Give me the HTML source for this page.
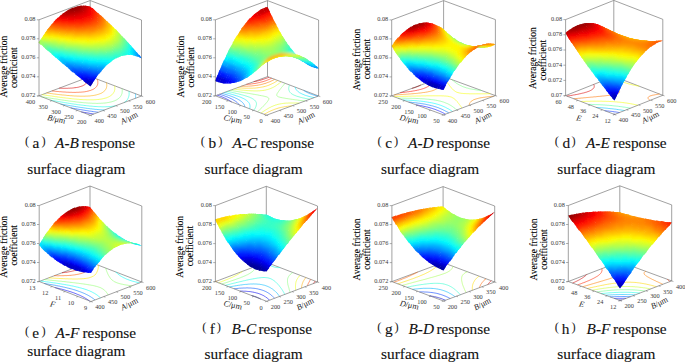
<!DOCTYPE html><html><head><meta charset="utf-8"><style>
html,body{margin:0;padding:0;background:#fff;}
body{width:685px;height:363px;overflow:hidden;position:relative;}
svg{position:absolute;left:0;top:0;}
text{font-family:"Liberation Serif",serif;}
.tk text{font-size:6.3px;fill:#3a3a3a;}
.zt{font-size:9.5px;fill:#000;stroke:#000;stroke-width:.1px;}
.at{font-size:8.2px;fill:#222;}
.pp{font-size:12.5px;fill:#222;}
.cp{font-size:15.3px;fill:#111;stroke:#111;stroke-width:.12px;}
</style></head><body>
<svg width="685" height="363" viewBox="0 0 685 363"><defs><filter id="bl" x="-5%" y="-5%" width="110%" height="110%"><feGaussianBlur stdDeviation="1.5" result="b"/><feComposite in="b" in2="SourceAlpha" operator="in" result="c"/><feMerge result="m"><feMergeNode in="SourceGraphic"/><feMergeNode in="c"/></feMerge><feGaussianBlur in="m" stdDeviation="0.4"/></filter></defs><path d="M39 95.8 L90.2 76.5 M90.2 76.5 L141.5 96 M90.2 76.5 L90.2 .5 M39 19.8 L90.2 .5 M90.2 .5 L141.5 20" stroke="#707070" stroke-width=".65" fill="none"/><g fill="none" stroke-width="0.6"><polyline stroke="#0000e3" points="93.7,114 92.5,113.8 91.9,113.7 90.8,113.6 90.1,113.4 89.3,113.3 88.3,113.1 87.7,113 86.6,112.8 86,112.7 84.8,112.5 84.2,112.4 83.1,112.2 82.5,112.1 81.4,111.9 81.2,111.8"/><polyline stroke="#004bff" points="98.3,112.3 97.3,112.1 96.4,112 95.8,111.9 94.7,111.8 93.9,111.7 93.2,111.6 92,111.4 91.4,111.3 90.7,111.2 89.5,111.1 88.9,111 87.8,110.8 87.1,110.7 86.4,110.6 85.3,110.4 84.7,110.3 83.5,110.1 82.9,110 81.9,109.8 81.1,109.7 80.4,109.6 79.3,109.4 78.7,109.3 77.6,109.1 77,109 75.8,108.8 75.2,108.7 74.1,108.5 73.5,108.4 72.4,108.2 71.8,108 70.7,107.8 70.7,107.8"/><polyline stroke="#004bff" points="141.4,96 141.5,96"/><polyline stroke="#00b3ff" points="104.4,110 103.4,110 102.4,109.9 101.4,109.8 100.7,109.8 99.9,109.7 99.2,109.7 98.2,109.6 97.1,109.5 96.5,109.4 95.8,109.4 94.8,109.3 93.8,109.1 93.1,109.1 92.4,109 91.2,108.8 90.5,108.8 89.8,108.7 88.6,108.5 87.9,108.4 87.3,108.4 86,108.2 85.4,108.1 84.7,108 83.5,107.8 82.9,107.7 81.9,107.6 81.1,107.5 80.4,107.4 79.2,107.2 78.6,107.1 77.6,106.9 76.8,106.8 76.1,106.7 75,106.5 74.4,106.4 73.2,106.2 72.6,106.1 71.6,105.9 70.8,105.8 70.1,105.7 69.1,105.5 68.5,105.4 67.3,105.2 66.7,105.1 65.6,104.9 65,104.8 63.8,104.6 63.2,104.5 62.1,104.3 61.5,104.2 60.5,104 60.5,104"/><polyline stroke="#00b3ff" points="135.4,93.7 135.4,94 135.5,94.4 135.5,94.7 135.5,95 135.6,95.3 135.6,95.6 135.6,96 135.6,96.3 135.6,96.6 135.6,96.9 135.6,97.3 135.5,97.6 135.5,97.9 135.4,98.2 135.4,98.3"/><polyline stroke="#1cffe3" points="115.6,105.7 114.9,105.9 114,106 113.1,106.2 112.4,106.3 111.3,106.4 110.4,106.5 109.8,106.5 109,106.6 108.1,106.7 107.1,106.7 106.1,106.7 105.2,106.8 104.4,106.8 103.6,106.8 102.7,106.8 101.8,106.8 101,106.7 100.2,106.7 99.4,106.7 98.6,106.7 97.8,106.6 97.1,106.6 96.2,106.5 95.1,106.5 94.1,106.4 93.4,106.4 92.7,106.3 92,106.2 90.9,106.1 89.9,106.1 89.2,106 88.6,105.9 87.4,105.8 86.5,105.7 85.9,105.6 85,105.5 83.9,105.4 83.3,105.3 82.5,105.2 81.3,105.1 80.7,105 80,104.9 78.8,104.8 78.2,104.7 77.3,104.6 76.3,104.4 75.7,104.3 74.6,104.2 73.8,104 73.2,104 72,103.8 71.3,103.7 70.4,103.5 69.5,103.4 68.9,103.3 67.7,103.1 67.1,103 66,102.8 65.3,102.7 64.5,102.6 63.5,102.4 62.9,102.3 61.7,102.1 61.1,102 60,101.8 59.3,101.7 58.4,101.6 57.6,101.4 56.9,101.3 55.8,101.1 55.2,101 54,100.8 53.4,100.7 52.3,100.5 51.7,100.4 50.6,100.2 50.6,100.2"/><polyline stroke="#1cffe3" points="128.9,91.2 129,91.6 129,91.9 129.1,92.2 129.1,92.6 129.1,92.9 129.1,93.2 129.1,93.5 129.1,93.9 129.1,94.2 129.1,94.5 129.1,94.8 129,95.1 129,95.4 128.9,95.7 128.9,96 128.8,96.3 128.7,96.6 128.6,97 128.5,97.3 128.3,97.7 128.2,98 128.1,98.3 127.9,98.6 127.7,98.9 127.5,99.4 127.3,99.6 127.1,99.9 126.8,100.3 126.4,100.6 126.2,100.9 125.8,101.3 125.5,101.5 125.1,101.9 124.7,102.2 124.1,102.5 124.1,102.5"/><polyline stroke="#84ff7b" points="122,88.6 122.1,88.9 122.1,89.3 122.2,89.6 122.2,90 122.2,90.3 122.3,90.6 122.3,90.9 122.3,91.3 122.2,91.6 122.2,91.9 122.2,92.2 122.1,92.5 122.1,92.8 122,93.1 122,93.4 121.9,93.7 121.8,94 121.6,94.4 121.5,94.8 121.3,95.1 121.2,95.4 121.1,95.7 120.8,96 120.6,96.4 120.4,96.7 120.2,96.9 119.8,97.4 119.5,97.7 119.2,97.9 118.8,98.3 118.5,98.6 117.9,99 117.6,99.2 117,99.6 116.3,100 115.9,100.2 115.2,100.5 114.4,100.9 113.5,101.2 112.6,101.5 111.6,101.8 111.1,101.9 110.1,102.2 109.2,102.3 108.4,102.5 107.6,102.6 106.6,102.8 106,102.9 105,103 104,103.1 103.3,103.1 102.6,103.2 101.7,103.2 100.7,103.3 99.8,103.3 98.8,103.3 98,103.4 97.1,103.4 96.3,103.4 95.4,103.3 94.6,103.3 93.8,103.3 93,103.3 92.2,103.3 91.4,103.2 90.7,103.2 89.7,103.1 88.7,103.1 87.7,103 87,103 86.3,102.9 85.6,102.8 84.5,102.8 83.5,102.7 82.8,102.6 82.1,102.5 81.1,102.4 80.1,102.3 79.4,102.3 78.7,102.2 77.6,102.1 76.7,102 76.1,101.9 75.1,101.8 74.1,101.6 73.5,101.6 72.5,101.4 71.6,101.3 71,101.2 69.9,101.1 69.1,101 68.4,100.9 67.2,100.7 66.6,100.6 65.9,100.5 64.7,100.4 64.1,100.3 63.1,100.1 62.2,100 61.6,99.9 60.4,99.7 59.8,99.6 58.8,99.5 58,99.3 57.4,99.2 56.2,99 55.5,98.9 54.5,98.8 53.7,98.7 53,98.5 51.9,98.4 51.3,98.3 50.1,98.1 49.5,98 48.5,97.8 47.7,97.7 47,97.6 46,97.4 45.4,97.3 44.2,97.1 43.6,97 42.5,96.8 41.8,96.7 41,96.6 41,96.6"/><polyline stroke="#ebff14" points="114.6,85.8 114.6,86.1 114.7,86.4 114.7,86.7 114.8,87 114.8,87.3 114.8,87.6 114.8,87.9 114.8,88.2 114.8,88.6 114.8,88.9 114.8,89.2 114.8,89.6 114.7,89.9 114.6,90.3 114.5,90.6 114.5,90.9 114.4,91.2 114.3,91.5 114.1,91.8 113.9,92.1 113.7,92.5 113.6,92.8 113.4,93.1 113.1,93.4 112.8,93.8 112.6,94.1 112.3,94.4 111.9,94.8 111.6,95 111.1,95.4 110.8,95.6 110.2,96 109.6,96.4 109.1,96.6 108.4,97 107.6,97.3 106.8,97.7 105.9,98 104.9,98.2 104,98.5 103.4,98.6 102.3,98.9 101.7,99 100.5,99.2 99.9,99.2 99.1,99.4 98,99.5 97.3,99.5 96.6,99.6 95.7,99.7 94.7,99.7 93.7,99.8 92.9,99.8 92.1,99.8 91.3,99.8 90.4,99.8 89.6,99.8 88.7,99.8 87.8,99.8 86.9,99.8 86,99.8 85.2,99.7 84.4,99.7 83.7,99.7 82.9,99.6 82.1,99.6 81.1,99.5 80.1,99.5 79.2,99.4 78.5,99.3 77.8,99.3 76.9,99.2 75.8,99.1 75,99 74.4,99 73.5,98.9 72.3,98.8 71.7,98.7 71,98.6 69.9,98.5 69,98.4 68.3,98.3 67.5,98.2 66.4,98.1 65.7,98 65,97.9 63.8,97.8 63.2,97.7 62.4,97.6 61.3,97.4 60.6,97.4 59.8,97.2 58.7,97.1 58.1,97 57.1,96.9 56.2,96.7 55.6,96.7 54.4,96.5 53.8,96.4 53,96.3 51.9,96.1 51.3,96 50.2,95.9 49.4,95.7 48.8,95.7 47.6,95.5 47,95.4 46,95.2 45.2,95.1 44.5,95 43.3,94.8 42.7,94.7 42.1,94.6"/><polyline stroke="#ffab00" points="106.4,82.6 106.5,83 106.5,83.3 106.6,83.6 106.6,83.9 106.7,84.2 106.7,84.5 106.8,84.8 106.8,85.1 106.8,85.5 106.8,85.8 106.8,86.1 106.7,86.5 106.7,86.8 106.6,87.1 106.5,87.5 106.4,87.8 106.3,88.1 106.2,88.4 106.1,88.7 105.9,89 105.7,89.4 105.5,89.7 105.3,90 105.1,90.3 104.7,90.7 104.5,91 104.1,91.3 103.7,91.6 103.3,91.9 102.8,92.3 102.2,92.7 101.9,92.9 101.1,93.3 100.4,93.6 99.5,93.9 98.7,94.2 97.7,94.5 96.7,94.8 96.2,94.9 95.1,95.2 94.4,95.3 93.4,95.5 92.8,95.6 91.6,95.7 90.9,95.8 90.2,95.9 89.2,96 88.2,96 87.3,96.1 86.6,96.1 85.8,96.1 85,96.2 84.2,96.2 83.4,96.2 82.5,96.2 81.7,96.2 80.8,96.2 79.9,96.2 79,96.1 78.1,96.1 77.1,96.1 76.2,96 75.4,96 74.6,96 73.9,95.9 73.2,95.9 72.1,95.8 71.1,95.7 70.3,95.7 69.6,95.6 68.9,95.5 67.8,95.5 66.8,95.4 66.1,95.3 65.4,95.2 64.4,95.1 63.4,95 62.7,95 62,94.9 60.9,94.8 60.1,94.7 59.4,94.6 58.5,94.5 57.4,94.4 56.8,94.3 56,94.2 54.8,94 54.2,94 53.4,93.9 52.3,93.7 51.6,93.6 50.9,93.5 49.7,93.4 49.1,93.3 48.2,93.2 47.2,93 46.6,92.9 46.6,92.9"/><polyline stroke="#ff4300" points="97.2,79.2 97.3,79.5 97.4,79.9 97.5,80.2 97.6,80.5 97.7,80.8 97.7,81.1 97.8,81.4 97.8,81.7 97.8,82 97.8,82.4 97.8,82.7 97.8,83 97.8,83.3 97.8,83.7 97.7,84 97.6,84.4 97.5,84.8 97.4,85 97.3,85.3 97.1,85.6 96.9,85.9 96.7,86.4 96.5,86.6 96.3,86.9 95.9,87.3 95.6,87.6 95.3,87.8 94.8,88.3 94.5,88.5 93.9,88.9 93.2,89.3 92.8,89.5 92.1,89.8 91.2,90.1 90.4,90.5 89.4,90.7 88.9,90.9 87.9,91.1 86.8,91.4 86.3,91.5 85.2,91.7 84.5,91.8 83.8,91.9 82.6,92 81.9,92.1 81.2,92.1 80.4,92.2 79.3,92.2 78.4,92.3 77.5,92.3 76.7,92.3 75.8,92.4 75,92.4 74.2,92.4 73.3,92.4 72.4,92.4 71.5,92.3 70.6,92.3 69.8,92.3 69,92.3 68.2,92.2 67.5,92.2 66.7,92.2 65.8,92.1 64.8,92 63.8,92 63,91.9 62.3,91.9 61.6,91.8 60.6,91.7 59.5,91.7 58.8,91.6 58.1,91.5 57.3,91.5 56.2,91.4 55.3,91.3 54.6,91.2 53.9,91.1 52.7,91 51.9,90.9 51.9,90.9"/><polyline stroke="#da0000" points="87.5,77.5 87.6,77.8 87.6,78.1 87.7,78.5 87.7,78.8 87.7,79.1 87.8,79.4 87.7,79.8 87.7,80.1 87.7,80.4 87.6,80.7 87.5,81.1 87.4,81.4 87.2,81.8 87.1,82.1 86.9,82.4 86.8,82.7 86.4,83.1 86.2,83.4 86,83.6 85.5,84.1 85.2,84.3 84.6,84.7 84.3,84.9 83.6,85.3 82.9,85.7 82.1,86 81.2,86.3 80.3,86.6 79.3,86.9 78.3,87.2 77.7,87.3 76.6,87.5 76,87.6 75,87.7 74.1,87.8 73.5,87.9 72.6,88 71.5,88.1 70.7,88.1 69.9,88.2 69.2,88.2 68.4,88.2 67.6,88.3 66.7,88.3 65.8,88.3 64.9,88.3 64.1,88.3 63.2,88.3 62.4,88.3 61.6,88.3 60.7,88.2 59.8,88.2 59.2,88.2"/></g><g filter="url(#bl)"><g transform="scale(.5)"><path fill="#f70000" d="M180 17l5 0l-5 -4l-4 -1z"/><path fill="#ff0800" d="M185 20l5 1l-5 -5l-5 0z"/><path fill="#d70000" d="M176 16l5 0l-5 -4l-5 0z"/><path fill="#ff2800" d="M189 24l5 1l-5 -5l-5 -1z"/><path fill="#f70000" d="M180 20l5 0l-5 -5l-4 0z"/><path fill="#c70000" d="M172 16l5 0l-5 -5l-5 1z"/><path fill="#ff3800" d="M193 28l5 0l-5 -4l-5 -1z"/><path fill="#ff0800" d="M185 23l5 1l-5 -5l-5 0z"/><path fill="#d70000" d="M176 20l5 -1l-5 -4l-5 0z"/><path fill="#b70000" d="M168 16l5 0l-5 -5l-5 1z"/><path fill="#ff5800" d="M198 31l4 1l-5 -5l-4 0z"/><path fill="#ff1800" d="M189 27l5 0l-5 -4l-5 -1z"/><path fill="#f70000" d="M180 23l5 0l-5 -5l-4 1z"/><path fill="#c70000" d="M172 20l5 -1l-5 -4l-5 0z"/><path fill="#a70000" d="M163 17l5 -1l-5 -5l-5 1z"/><path fill="#ff6800" d="M202 35l5 1l-5 -5l-5 -1z"/><path fill="#ff3800" d="M193 31l5 0l-5 -5l-5 0z"/><path fill="#ff0800" d="M185 27l5 0l-5 -5l-5 0z"/><path fill="#e70000" d="M176 23l5 0l-5 -5l-5 1z"/><path fill="#b70000" d="M168 20l5 -1l-5 -4l-5 1z"/><path fill="#970000" d="M159 18l5 -2l-5 -4l-5 1z"/><path fill="#ff8700" d="M206 39l5 1l-5 -5l-5 -1z"/><path fill="#ff4800" d="M198 35l4 0l-4 -5l-5 0z"/><path fill="#ff1800" d="M189 30l5 0l-5 -4l-5 0z"/><path fill="#f70000" d="M180 27l5 -1l-5 -4l-4 0z"/><path fill="#d70000" d="M172 24l5 -1l-5 -5l-5 1z"/><path fill="#b70000" d="M163 21l5 -1l-5 -5l-5 2z"/><path fill="#970000" d="M155 19l5 -2l-5 -4l-5 1z"/><path fill="#ff9700" d="M210 43l5 1l-5 -5l-5 -1z"/><path fill="#ff6800" d="M202 38l5 1l-5 -5l-5 0z"/><path fill="#ff3800" d="M193 34l5 0l-5 -5l-5 0z"/><path fill="#ff0800" d="M185 31l5 -1l-5 -5l-5 1z"/><path fill="#e70000" d="M176 27l5 -1l-5 -4l-5 1z"/><path fill="#c70000" d="M168 24l5 -1l-5 -4l-5 1z"/><path fill="#a70000" d="M159 22l5 -2l-5 -4l-5 2z"/><path fill="#970000" d="M151 20l4 -2l-4 -4l-5 2z"/><path fill="#ffb700" d="M215 47l4 1l-4 -5l-5 -1z"/><path fill="#ff7800" d="M206 42l5 1l-5 -5l-5 -1z"/><path fill="#ff4800" d="M198 38l4 0l-4 -5l-5 0z"/><path fill="#ff2800" d="M189 34l5 0l-5 -5l-5 1z"/><path fill="#f70000" d="M180 31l5 -1l-5 -5l-4 1z"/><path fill="#d70000" d="M172 28l5 -1l-5 -5l-5 2z"/><path fill="#b70000" d="M163 26l5 -2l-5 -4l-5 1z"/><path fill="#a70000" d="M155 24l5 -2l-5 -5l-5 2z"/><path fill="#970000" d="M146 22l5 -2l-5 -5l-5 3z"/><path fill="#ffc700" d="M219 51l5 1l-5 -5l-5 -1z"/><path fill="#ff9700" d="M210 46l5 1l-5 -5l-5 -1z"/><path fill="#ff6800" d="M202 42l5 0l-5 -5l-5 0z"/><path fill="#ff3800" d="M193 38l5 0l-5 -5l-5 0z"/><path fill="#ff1800" d="M185 35l5 -1l-5 -5l-5 1z"/><path fill="#f70000" d="M176 32l5 -2l-5 -4l-5 1z"/><path fill="#d70000" d="M168 29l5 -1l-5 -5l-5 2z"/><path fill="#b70000" d="M159 27l5 -2l-5 -4l-5 2z"/><path fill="#a70000" d="M151 25l5 -2l-5 -4l-5 2z"/><path fill="#970000" d="M142 24l5 -3l-5 -4l-5 3z"/><path fill="#ffe700" d="M223 55l5 1l-5 -5l-5 -1z"/><path fill="#ffb700" d="M215 50l4 1l-4 -5l-5 -1z"/><path fill="#ff7800" d="M206 46l5 0l-5 -5l-5 0z"/><path fill="#ff5800" d="M198 42l4 -1l-4 -4l-5 0z"/><path fill="#ff2800" d="M189 38l5 0l-5 -5l-5 1z"/><path fill="#ff0800" d="M180 35l5 -1l-5 -4l-4 1z"/><path fill="#e70000" d="M172 33l5 -2l-5 -4l-5 1z"/><path fill="#d70000" d="M163 31l5 -2l-5 -5l-5 2z"/><path fill="#b70000" d="M155 29l5 -3l-5 -4l-5 3z"/><path fill="#a70000" d="M138 27l5 -4l-5 -4l-5 3zM146 28l5 -3l-5 -4l-5 2z"/><path fill="#f7ff08" d="M227 59l5 1l-5 -5l-4 -1z"/><path fill="#ffc700" d="M219 54l5 1l-5 -5l-5 -1z"/><path fill="#ff9700" d="M210 50l5 0l-5 -5l-5 0z"/><path fill="#ff6800" d="M202 46l5 -1l-5 -5l-5 1z"/><path fill="#ff4800" d="M193 42l5 -1l-5 -4l-5 0z"/><path fill="#ff1800" d="M185 39l5 -1l-5 -5l-5 1z"/><path fill="#f70000" d="M176 36l5 -1l-5 -5l-5 2z"/><path fill="#e70000" d="M168 34l5 -2l-5 -4l-5 2z"/><path fill="#d70000" d="M159 32l5 -2l-5 -4l-5 2z"/><path fill="#c70000" d="M151 31l5 -3l-5 -4l-5 3z"/><path fill="#b70000" d="M142 30l5 -3l-5 -4l-5 3z"/><path fill="#a70000" d="M133 29l5 -3l-5 -4l-4 3z"/><path fill="#d7ff28" d="M232 64l5 1l-5 -6l-5 -1z"/><path fill="#ffe700" d="M223 59l5 0l-5 -5l-5 -1z"/><path fill="#ffb700" d="M215 54l5 0l-5 -5l-5 0z"/><path fill="#ff8700" d="M206 50l5 -1l-5 -5l-5 1z"/><path fill="#ff5800" d="M198 46l4 -1l-4 -5l-5 1z"/><path fill="#ff3800" d="M189 43l5 -1l-5 -5l-5 1z"/><path fill="#ff1800" d="M180 40l5 -1l-5 -5l-4 1z"/><path fill="#f70000" d="M172 38l5 -2l-5 -5l-5 2z"/><path fill="#e70000" d="M163 36l5 -2l-5 -5l-5 3z"/><path fill="#d70000" d="M155 35l5 -3l-5 -5l-5 3z"/><path fill="#c70000" d="M146 33l5 -3l-5 -4l-5 3z"/><path fill="#b70000" d="M129 33l5 -4l-5 -4l-5 3zM138 33l5 -4l-5 -4l-5 4z"/><path fill="#b7ff48" d="M236 68l5 1l-5 -5l-5 -1z"/><path fill="#f7ff08" d="M227 63l5 0l-5 -5l-4 -1z"/><path fill="#ffc700" d="M219 58l5 0l-5 -5l-5 0z"/><path fill="#ff9700" d="M210 54l5 -1l-5 -5l-5 1z"/><path fill="#ff7800" d="M202 50l5 -1l-5 -5l-5 1z"/><path fill="#ff4800" d="M193 47l5 -1l-5 -5l-5 1z"/><path fill="#ff2800" d="M185 44l5 -2l-5 -4l-5 1z"/><path fill="#ff1800" d="M176 41l5 -1l-5 -5l-5 2z"/><path fill="#f70000" d="M168 40l5 -3l-5 -4l-5 2z"/><path fill="#e70000" d="M159 38l5 -3l-5 -4l-5 3z"/><path fill="#d70000" d="M142 36l5 -3l-5 -4l-5 3zM151 37l5 -3l-5 -4l-5 3z"/><path fill="#c70000" d="M125 36l5 -4l-5 -4l-5 4zM133 36l5 -4l-5 -4l-4 4z"/><path fill="#a7ff58" d="M240 72l5 2l-5 -6l-5 -1z"/><path fill="#d7ff28" d="M232 67l5 1l-5 -6l-5 0z"/><path fill="#ffe700" d="M223 62l5 0l-5 -5l-5 0z"/><path fill="#ffb700" d="M215 58l5 0l-5 -6l-5 1z"/><path fill="#ff8700" d="M206 54l5 -1l-5 -5l-5 1z"/><path fill="#ff6800" d="M198 50l4 -1l-4 -4l-5 1z"/><path fill="#ff4800" d="M189 48l5 -2l-5 -5l-5 2z"/><path fill="#ff2800" d="M180 45l5 -2l-5 -4l-4 2z"/><path fill="#ff1800" d="M172 43l5 -2l-5 -5l-5 3z"/><path fill="#f70000" d="M155 41l5 -4l-5 -4l-5 3zM163 42l5 -3l-5 -4l-5 2z"/><path fill="#e70000" d="M121 40l5 -5l-5 -4l-5 5zM129 40l5 -5l-5 -4l-5 4zM138 39l5 -3l-5 -5l-5 4zM146 40l5 -4l-5 -4l-5 4z"/><path fill="#87ff78" d="M245 77l4 1l-4 -5l-5 -2z"/><path fill="#c7ff38" d="M236 71l5 1l-5 -5l-5 -1z"/><path fill="#f7ff08" d="M227 66l5 1l-5 -6l-4 0z"/><path fill="#ffd700" d="M219 62l5 0l-5 -5l-5 0z"/><path fill="#ffa700" d="M210 58l5 -1l-5 -5l-5 1z"/><path fill="#ff7800" d="M202 54l5 -1l-5 -5l-5 1z"/><path fill="#ff5800" d="M193 51l5 -1l-5 -5l-5 2z"/><path fill="#ff4800" d="M185 49l5 -2l-5 -5l-5 2z"/><path fill="#ff2800" d="M176 47l5 -2l-5 -5l-5 2z"/><path fill="#ff1800" d="M168 45l5 -2l-5 -5l-5 3z"/><path fill="#ff0800" d="M159 44l5 -3l-5 -4l-5 3z"/><path fill="#f70000" d="M116 44l5 -5l-5 -4l-5 5zM125 43l5 -4l-5 -4l-5 4zM133 43l5 -4l-5 -4l-4 4zM142 43l5 -4l-5 -4l-5 4zM151 43l5 -3l-5 -4l-5 3z"/><path fill="#68ff97" d="M249 81l5 2l-5 -6l-5 -1z"/><path fill="#a7ff58" d="M240 76l5 1l-5 -6l-5 -1z"/><path fill="#d7ff28" d="M232 71l5 0l-5 -5l-5 -1z"/><path fill="#ffe700" d="M223 66l5 0l-5 -5l-5 0z"/><path fill="#ffc700" d="M215 62l5 -1l-5 -5l-5 1z"/><path fill="#ff9700" d="M206 58l5 -1l-5 -5l-5 1z"/><path fill="#ff7800" d="M198 55l4 -1l-4 -5l-5 1z"/><path fill="#ff5800" d="M189 53l5 -2l-5 -5l-5 2z"/><path fill="#ff3800" d="M180 51l5 -3l-5 -4l-4 2z"/><path fill="#ff2800" d="M172 49l5 -3l-5 -4l-5 2z"/><path fill="#ff1800" d="M112 49l5 -6l-5 -4l-5 5zM121 48l5 -5l-5 -5l-5 5zM155 47l5 -4l-5 -4l-5 4zM163 48l5 -3l-5 -5l-5 3z"/><path fill="#ff0800" d="M129 47l5 -5l-5 -4l-5 5zM138 47l5 -5l-5 -4l-5 4zM146 47l5 -4l-5 -5l-5 4z"/><path fill="#48ffb7" d="M253 86l5 1l-5 -5l-5 -2z"/><path fill="#87ff78" d="M245 80l4 1l-4 -6l-5 0z"/><path fill="#b7ff48" d="M236 75l5 0l-5 -5l-5 -1z"/><path fill="#f7ff08" d="M227 70l5 0l-5 -5l-4 0z"/><path fill="#ffd700" d="M219 66l5 0l-5 -6l-5 1z"/><path fill="#ffb700" d="M210 62l5 -1l-5 -5l-5 1z"/><path fill="#ff8700" d="M202 59l5 -1l-5 -5l-5 1z"/><path fill="#ff7800" d="M193 57l5 -2l-5 -5l-5 2z"/><path fill="#ff5800" d="M185 54l5 -2l-5 -5l-5 3z"/><path fill="#ff4800" d="M176 53l5 -3l-5 -5l-5 3z"/><path fill="#ff3800" d="M108 53l5 -5l-5 -4l-5 5zM116 52l5 -5l-5 -4l-5 5zM168 51l5 -3l-5 -4l-5 3z"/><path fill="#ff2800" d="M125 51l5 -5l-5 -4l-5 5zM134 50l4 -4l-5 -4l-4 4zM151 50l5 -4l-5 -4l-5 4zM159 51l5 -4l-5 -4l-5 3z"/><path fill="#ff1800" d="M142 50l5 -4l-5 -4l-5 4z"/><path fill="#28ffd7" d="M257 91l5 1l-5 -6l-4 -1z"/><path fill="#68ff97" d="M249 85l5 1l-5 -6l-5 -1z"/><path fill="#a7ff58" d="M240 79l5 1l-5 -6l-5 0z"/><path fill="#d7ff28" d="M232 74l5 1l-5 -6l-5 0z"/><path fill="#fff700" d="M223 70l5 0l-5 -5l-5 0z"/><path fill="#ffc700" d="M215 66l5 0l-5 -6l-5 1z"/><path fill="#ffa700" d="M206 63l5 -1l-5 -5l-5 1z"/><path fill="#ff8700" d="M198 60l5 -1l-5 -5l-5 2z"/><path fill="#ff6800" d="M104 59l5 -6l-5 -5l-5 6zM189 58l5 -2l-5 -5l-5 2z"/><path fill="#ff5800" d="M112 57l5 -6l-5 -4l-5 6zM180 56l5 -2l-5 -5l-4 3z"/><path fill="#ff4800" d="M121 56l5 -6l-5 -4l-5 5zM172 55l5 -3l-5 -4l-5 3z"/><path fill="#ff3800" d="M129 55l5 -5l-5 -5l-5 5zM138 54l5 -5l-5 -4l-5 5zM146 54l5 -5l-5 -4l-5 4zM155 54l5 -4l-5 -4l-5 3zM163 54l5 -3l-5 -5l-5 4z"/><path fill="#08fff7" d="M262 95l4 2l-4 -6l-5 -2z"/><path fill="#48ffb7" d="M253 89l5 1l-5 -5l-5 -1z"/><path fill="#87ff78" d="M245 84l4 0l-4 -5l-5 -1z"/><path fill="#b7ff48" d="M236 79l5 0l-5 -6l-5 0z"/><path fill="#e7ff18" d="M227 74l5 0l-5 -5l-4 0z"/><path fill="#ffe700" d="M219 71l5 -1l-5 -5l-5 0z"/><path fill="#ffc700" d="M210 67l5 -1l-5 -5l-5 1z"/><path fill="#ffa700" d="M202 64l5 -1l-5 -5l-5 2z"/><path fill="#ff8700" d="M99 64l5 -6l-5 -4l-5 6zM193 62l5 -2l-5 -5l-5 2z"/><path fill="#ff7800" d="M108 62l5 -6l-5 -4l-5 6zM185 60l5 -2l-5 -5l-5 3z"/><path fill="#ff6800" d="M116 60l5 -5l-5 -4l-5 5zM176 59l5 -3l-5 -5l-5 3z"/><path fill="#ff5800" d="M125 59l5 -5l-5 -4l-5 5zM134 58l4 -5l-5 -4l-4 5zM168 58l5 -4l-5 -4l-5 3z"/><path fill="#ff4800" d="M142 57l5 -4l-5 -4l-5 4zM151 57l5 -4l-5 -4l-5 4zM159 57l5 -3l-5 -5l-5 4z"/><path fill="#00d7ff" d="M266 100l5 2l-5 -6l-5 -2z"/><path fill="#28ffd7" d="M257 94l5 1l-5 -6l-4 -1z"/><path fill="#68ff97" d="M249 88l5 1l-5 -6l-5 0z"/><path fill="#97ff68" d="M240 83l5 0l-5 -5l-5 0z"/><path fill="#c7ff38" d="M232 79l5 -1l-5 -5l-5 0z"/><path fill="#f7ff08" d="M223 75l5 -1l-5 -5l-5 1z"/><path fill="#ffd700" d="M215 71l5 -1l-5 -5l-5 1z"/><path fill="#ffb700" d="M95 70l5 -7l-5 -4l-5 7zM206 68l5 -1l-5 -5l-5 1z"/><path fill="#ffa700" d="M104 68l5 -7l-5 -4l-5 7zM198 66l5 -2l-5 -5l-5 2z"/><path fill="#ff8700" d="M112 66l5 -6l-5 -4l-5 6zM189 64l5 -3l-5 -4l-5 2z"/><path fill="#ff7800" d="M121 64l5 -6l-5 -4l-5 6zM180 63l5 -3l-5 -5l-4 3z"/><path fill="#ff6800" d="M129 63l5 -6l-5 -4l-5 6zM138 62l5 -5l-5 -4l-5 5zM146 61l5 -5l-5 -4l-5 5zM163 61l5 -4l-5 -4l-5 4zM172 62l5 -4l-5 -4l-5 3z"/><path fill="#ff5800" d="M155 61l5 -4l-5 -5l-5 5z"/><path fill="#00b7ff" d="M270 105l5 2l-5 -6l-5 -2z"/><path fill="#08fff7" d="M262 99l4 1l-4 -6l-5 -1z"/><path fill="#48ffb7" d="M253 93l5 1l-5 -6l-5 -1z"/><path fill="#78ff87" d="M245 88l4 0l-4 -6l-5 0z"/><path fill="#b7ff48" d="M236 83l5 0l-5 -6l-5 1z"/><path fill="#d7ff28" d="M227 79l5 -1l-5 -5l-4 1z"/><path fill="#fff700" d="M219 75l5 -1l-5 -5l-5 1z"/><path fill="#ffe700" d="M91 76l5 -7l-5 -4l-5 7z"/><path fill="#ffd700" d="M210 72l5 -1l-5 -5l-5 1z"/><path fill="#ffc700" d="M99 74l5 -7l-5 -4l-5 6z"/><path fill="#ffb700" d="M108 71l5 -6l-5 -4l-5 6zM202 70l5 -2l-5 -5l-5 2z"/><path fill="#ffa700" d="M116 69l5 -6l-5 -4l-5 6zM193 68l5 -3l-5 -4l-5 2z"/><path fill="#ff9700" d="M125 68l5 -6l-5 -4l-5 5z"/><path fill="#ff8700" d="M134 66l4 -5l-4 -4l-5 5zM176 65l5 -3l-5 -5l-5 4zM185 66l5 -3l-5 -4l-5 3z"/><path fill="#ff7800" d="M142 65l5 -5l-5 -4l-5 5zM151 65l5 -5l-5 -4l-5 4zM159 64l5 -4l-5 -4l-5 4zM168 65l5 -4l-5 -5l-5 4z"/><path fill="#0097ff" d="M274 110l5 2l-5 -7l-4 -1z"/><path fill="#00d7ff" d="M266 103l5 2l-5 -6l-5 -2z"/><path fill="#28ffd7" d="M257 97l5 1l-5 -6l-4 0z"/><path fill="#58ffa7" d="M249 92l5 0l-5 -5l-5 0z"/><path fill="#97ff68" d="M240 87l5 0l-5 -5l-5 0z"/><path fill="#c7ff38" d="M232 83l5 0l-5 -6l-5 1z"/><path fill="#e7ff18" d="M87 83l4 -8l-4 -4l-5 7zM223 80l5 -2l-5 -5l-5 1z"/><path fill="#fff700" d="M95 80l5 -7l-5 -4l-5 7zM215 76l5 -1l-5 -5l-5 1z"/><path fill="#ffe700" d="M104 77l5 -7l-5 -4l-5 7z"/><path fill="#ffd700" d="M206 74l5 -2l-5 -5l-5 2z"/><path fill="#ffc700" d="M112 75l5 -7l-5 -4l-5 7z"/><path fill="#ffb700" d="M121 73l5 -6l-5 -4l-5 6zM198 72l5 -3l-5 -4l-5 2z"/><path fill="#ffa700" d="M129 71l5 -6l-5 -4l-5 6zM189 70l5 -3l-5 -4l-5 3z"/><path fill="#ff9700" d="M138 70l5 -5l-5 -5l-5 6zM146 69l5 -5l-5 -4l-5 5zM172 68l5 -3l-5 -5l-5 4zM181 69l4 -3l-5 -5l-4 4z"/><path fill="#ff8700" d="M155 68l5 -4l-5 -5l-5 5zM163 68l5 -4l-5 -4l-5 4z"/><path fill="#0078ff" d="M279 115l5 2l-5 -7l-5 -1z"/><path fill="#00b7ff" d="M270 108l5 1l-5 -6l-5 -1z"/><path fill="#00f7ff" d="M262 102l4 1l-4 -6l-5 -1z"/><path fill="#38ffc7" d="M253 97l5 0l-5 -6l-5 0z"/><path fill="#78ff87" d="M245 92l4 0l-4 -6l-5 0z"/><path fill="#a7ff58" d="M82 90l5 -8l-5 -4l-5 7zM236 88l5 -1l-5 -5l-5 0z"/><path fill="#c7ff38" d="M91 86l5 -7l-5 -4l-5 7zM227 84l5 -1l-5 -5l-4 1z"/><path fill="#e7ff18" d="M99 83l5 -7l-5 -4l-5 7z"/><path fill="#f7ff08" d="M219 81l5 -2l-5 -5l-5 2z"/><path fill="#fff700" d="M108 81l5 -7l-5 -4l-5 7z"/><path fill="#ffe700" d="M116 79l5 -7l-5 -4l-5 6zM210 78l5 -2l-5 -5l-5 2z"/><path fill="#ffd700" d="M202 76l5 -3l-5 -5l-5 3z"/><path fill="#ffc700" d="M125 77l5 -7l-5 -4l-5 6zM193 74l5 -3l-5 -5l-5 3z"/><path fill="#ffb700" d="M134 75l4 -6l-4 -4l-5 6zM142 74l5 -6l-5 -4l-5 5zM185 73l5 -3l-5 -5l-5 3z"/><path fill="#ffa700" d="M151 73l5 -5l-5 -5l-5 5zM159 72l5 -5l-5 -4l-5 5zM168 72l5 -4l-5 -5l-5 4zM176 72l5 -4l-5 -4l-5 4z"/><path fill="#0097ff" d="M274 113l5 1l-5 -6l-4 -1z"/><path fill="#00d7ff" d="M266 107l5 1l-5 -6l-5 -1z"/><path fill="#18ffe7" d="M257 101l5 1l-5 -6l-4 0z"/><path fill="#58ffa7" d="M249 96l5 0l-5 -5l-5 0z"/><path fill="#87ff78" d="M240 92l5 -1l-5 -5l-5 0z"/><path fill="#97ff68" d="M87 93l4 -8l-4 -4l-5 8z"/><path fill="#b7ff48" d="M95 90l5 -7l-5 -5l-5 8zM232 88l5 -1l-5 -5l-5 1z"/><path fill="#d7ff28" d="M104 87l5 -7l-5 -4l-5 7zM223 85l5 -2l-5 -5l-5 2z"/><path fill="#e7ff18" d="M112 84l5 -6l-5 -4l-5 6z"/><path fill="#f7ff08" d="M215 82l5 -2l-5 -5l-5 2z"/><path fill="#fff700" d="M121 82l5 -6l-5 -4l-5 6z"/><path fill="#ffe700" d="M129 80l5 -6l-5 -4l-5 6zM206 80l5 -3l-5 -5l-5 3z"/><path fill="#ffd700" d="M138 78l5 -5l-5 -5l-5 6zM198 78l5 -3l-5 -5l-5 3z"/><path fill="#ffc700" d="M146 77l5 -5l-5 -4l-5 5zM189 77l5 -4l-5 -4l-5 3z"/><path fill="#ffb700" d="M155 76l5 -5l-5 -4l-5 5zM163 76l5 -5l-5 -4l-5 4zM172 76l5 -5l-5 -4l-5 4zM181 76l4 -4l-5 -4l-4 3z"/><path fill="#00b7ff" d="M270 112l5 1l-5 -6l-5 -1z"/><path fill="#00f7ff" d="M262 106l5 0l-5 -5l-5 -1z"/><path fill="#38ffc7" d="M253 101l5 0l-5 -6l-5 0z"/><path fill="#68ff97" d="M245 96l4 0l-4 -6l-5 1z"/><path fill="#78ff87" d="M91 97l5 -8l-5 -4l-5 8z"/><path fill="#97ff68" d="M99 94l5 -8l-5 -4l-5 8zM236 92l5 -1l-5 -5l-5 1z"/><path fill="#b7ff48" d="M108 91l5 -7l-5 -5l-5 8zM227 89l5 -1l-5 -6l-4 2z"/><path fill="#d7ff28" d="M116 88l5 -7l-5 -4l-5 7zM219 86l5 -2l-5 -5l-5 2z"/><path fill="#f7ff08" d="M125 86l5 -7l-5 -4l-5 7zM210 84l5 -3l-5 -5l-5 3z"/><path fill="#fff700" d="M134 84l4 -6l-4 -5l-5 7zM202 82l5 -3l-5 -5l-5 3z"/><path fill="#ffe700" d="M142 82l5 -6l-5 -4l-5 6zM193 81l5 -4l-5 -4l-5 3z"/><path fill="#ffd700" d="M151 81l5 -6l-5 -4l-5 6zM159 80l5 -5l-5 -4l-5 5zM168 79l5 -4l-5 -5l-5 5zM176 79l5 -4l-5 -4l-5 4zM185 80l5 -4l-5 -5l-5 4z"/><path fill="#00d7ff" d="M266 111l5 0l-5 -6l-5 0z"/><path fill="#18ffe7" d="M257 105l5 1l-5 -6l-4 0z"/><path fill="#48ffb7" d="M249 101l5 -1l-5 -5l-5 0z"/><path fill="#68ff97" d="M95 101l5 -8l-5 -4l-5 8z"/><path fill="#78ff87" d="M240 97l5 -1l-5 -6l-5 1z"/><path fill="#87ff78" d="M104 97l5 -7l-5 -4l-5 7z"/><path fill="#97ff68" d="M232 93l5 -1l-5 -5l-5 1z"/><path fill="#a7ff58" d="M112 94l5 -7l-5 -4l-5 7z"/><path fill="#c7ff38" d="M121 92l5 -7l-5 -4l-5 7zM223 90l5 -2l-5 -5l-5 2z"/><path fill="#d7ff28" d="M129 89l5 -6l-5 -4l-5 6zM215 88l5 -2l-5 -5l-5 2z"/><path fill="#f7ff08" d="M138 87l5 -6l-5 -4l-5 6zM206 86l5 -3l-5 -5l-5 3z"/><path fill="#fff700" d="M146 86l5 -6l-5 -4l-5 5zM155 84l5 -5l-5 -4l-5 5zM198 84l5 -3l-5 -4l-5 3z"/><path fill="#ffe700" d="M163 84l5 -5l-5 -5l-5 5zM172 83l5 -4l-5 -5l-5 5zM181 83l4 -4l-4 -4l-5 4zM189 84l5 -4l-5 -5l-5 4z"/><path fill="#00f7ff" d="M262 110l5 0l-5 -5l-5 -1z"/><path fill="#28ffd7" d="M253 105l5 0l-5 -6l-5 1z"/><path fill="#48ffb7" d="M99 104l5 -7l-5 -5l-5 8z"/><path fill="#58ffa7" d="M245 101l4 -1l-4 -5l-5 1z"/><path fill="#78ff87" d="M108 101l5 -7l-5 -5l-5 8z"/><path fill="#87ff78" d="M236 97l5 -1l-5 -5l-5 1z"/><path fill="#97ff68" d="M116 98l5 -7l-5 -4l-4 7z"/><path fill="#a7ff58" d="M125 95l5 -6l-5 -5l-5 7zM228 94l4 -1l-5 -5l-4 1z"/><path fill="#c7ff38" d="M134 93l4 -6l-4 -5l-5 7zM219 92l5 -2l-5 -5l-5 2z"/><path fill="#d7ff28" d="M142 91l5 -6l-5 -4l-5 6zM210 90l5 -3l-5 -5l-5 3z"/><path fill="#e7ff18" d="M151 89l5 -5l-5 -5l-5 6zM202 88l5 -3l-5 -4l-5 3z"/><path fill="#f7ff08" d="M159 88l5 -5l-5 -5l-5 6zM168 87l5 -5l-5 -4l-5 5zM185 87l5 -4l-5 -5l-5 4zM193 87l5 -3l-5 -5l-5 4z"/><path fill="#fff700" d="M176 87l5 -5l-5 -4l-5 4z"/><path fill="#08fff7" d="M257 110l5 0l-5 -6l-4 0z"/><path fill="#38ffc7" d="M104 108l5 -8l-5 -4l-5 8zM249 106l5 -1l-5 -6l-5 1z"/><path fill="#58ffa7" d="M112 105l5 -8l-5 -4l-5 8z"/><path fill="#68ff97" d="M240 102l5 -1l-5 -6l-5 2z"/><path fill="#78ff87" d="M121 102l5 -8l-5 -4l-5 8z"/><path fill="#87ff78" d="M232 99l5 -2l-5 -5l-5 1z"/><path fill="#97ff68" d="M129 99l5 -7l-5 -4l-5 7z"/><path fill="#a7ff58" d="M223 96l5 -2l-5 -5l-5 2z"/><path fill="#b7ff48" d="M138 97l5 -7l-5 -4l-5 6zM215 94l5 -3l-5 -5l-5 3z"/><path fill="#c7ff38" d="M146 95l5 -6l-5 -5l-5 6z"/><path fill="#d7ff28" d="M155 93l5 -6l-5 -4l-5 6zM198 91l5 -3l-5 -5l-5 4zM206 92l5 -3l-5 -5l-5 4z"/><path fill="#e7ff18" d="M163 92l5 -5l-5 -5l-5 5zM172 91l5 -5l-5 -4l-5 5zM181 91l4 -5l-4 -4l-5 4zM189 91l5 -4l-5 -5l-5 4z"/><path fill="#18ffe7" d="M253 110l5 -1l-5 -5l-5 1z"/><path fill="#28ffd7" d="M108 112l5 -8l-5 -4l-5 8z"/><path fill="#48ffb7" d="M116 109l5 -8l-5 -4l-4 7zM245 106l4 -1l-4 -5l-5 1z"/><path fill="#68ff97" d="M125 105l5 -7l-5 -4l-5 7zM236 103l5 -2l-5 -5l-5 2z"/><path fill="#87ff78" d="M134 103l4 -7l-4 -4l-5 7zM228 100l4 -2l-5 -5l-4 2z"/><path fill="#97ff68" d="M142 100l5 -6l-5 -4l-5 6z"/><path fill="#a7ff58" d="M151 98l5 -6l-5 -4l-5 6zM219 98l5 -2l-5 -5l-5 2z"/><path fill="#b7ff48" d="M159 97l5 -6l-5 -4l-5 5zM210 96l5 -3l-5 -4l-5 3z"/><path fill="#c7ff38" d="M168 96l5 -6l-5 -4l-5 5zM193 95l5 -4l-5 -5l-5 4zM202 95l5 -3l-5 -5l-5 4z"/><path fill="#d7ff28" d="M176 95l5 -5l-5 -5l-5 5zM185 94l5 -4l-5 -4l-5 4z"/><path fill="#08fff7" d="M112 116l5 -8l-5 -5l-5 8z"/><path fill="#28ffd7" d="M121 112l5 -8l-5 -4l-5 8zM249 111l5 -1l-5 -6l-5 1z"/><path fill="#48ffb7" d="M129 109l5 -7l-5 -4l-5 7zM240 107l5 -1l-5 -6l-5 2z"/><path fill="#68ff97" d="M138 106l5 -7l-5 -4l-5 7zM232 104l5 -2l-5 -5l-5 2z"/><path fill="#87ff78" d="M146 104l5 -7l-5 -4l-5 7zM223 102l5 -2l-5 -5l-5 2z"/><path fill="#97ff68" d="M155 102l5 -6l-5 -4l-5 6zM215 100l5 -3l-5 -4l-5 3z"/><path fill="#a7ff58" d="M163 100l5 -5l-5 -5l-5 6zM206 99l5 -3l-5 -5l-5 3z"/><path fill="#b7ff48" d="M172 99l5 -5l-5 -4l-5 5zM181 99l4 -5l-4 -5l-5 5zM189 98l5 -4l-5 -5l-5 5zM198 98l5 -3l-5 -5l-5 4z"/><path fill="#00f7ff" d="M116 119l5 -8l-5 -4l-4 8z"/><path fill="#18ffe7" d="M125 116l5 -8l-5 -4l-5 8z"/><path fill="#28ffd7" d="M245 112l5 -2l-5 -5l-5 1z"/><path fill="#38ffc7" d="M134 113l4 -8l-4 -4l-5 8z"/><path fill="#58ffa7" d="M142 110l5 -7l-5 -4l-5 7zM236 109l5 -2l-5 -5l-5 2z"/><path fill="#68ff97" d="M151 108l5 -7l-5 -4l-5 6zM228 106l4 -2l-4 -5l-5 2z"/><path fill="#87ff78" d="M159 106l5 -6l-5 -5l-5 6zM219 104l5 -2l-5 -5l-5 3z"/><path fill="#97ff68" d="M168 104l5 -6l-5 -4l-5 6zM176 103l5 -5l-5 -5l-5 6zM202 102l5 -3l-5 -5l-5 4zM210 103l5 -3l-5 -5l-5 3z"/><path fill="#a7ff58" d="M185 102l5 -4l-5 -5l-5 5zM193 102l5 -4l-5 -5l-5 5z"/><path fill="#00d7ff" d="M121 123l5 -8l-5 -4l-5 8z"/><path fill="#08fff7" d="M129 119l5 -7l-5 -4l-5 7z"/><path fill="#28ffd7" d="M138 116l5 -7l-5 -4l-5 7z"/><path fill="#38ffc7" d="M146 114l5 -7l-5 -4l-5 6zM240 113l5 -2l-5 -5l-5 2z"/><path fill="#48ffb7" d="M232 111l5 -3l-5 -5l-5 2z"/><path fill="#58ffa7" d="M155 111l5 -6l-5 -4l-5 6z"/><path fill="#68ff97" d="M163 109l5 -6l-5 -4l-5 6zM223 109l5 -3l-5 -5l-5 3z"/><path fill="#78ff87" d="M172 108l5 -6l-5 -4l-5 5zM215 107l5 -3l-5 -5l-5 3z"/><path fill="#87ff78" d="M181 107l5 -5l-5 -5l-5 5zM189 106l5 -5l-5 -4l-5 5zM198 106l5 -4l-5 -5l-5 4zM206 106l5 -3l-5 -5l-5 4z"/><path fill="#00c7ff" d="M125 127l5 -9l-5 -4l-5 8z"/><path fill="#00e7ff" d="M134 123l4 -8l-4 -4l-5 8z"/><path fill="#08fff7" d="M142 120l5 -7l-5 -4l-5 7z"/><path fill="#28ffd7" d="M151 117l5 -7l-5 -4l-5 7z"/><path fill="#38ffc7" d="M236 115l5 -2l-5 -6l-5 3z"/><path fill="#48ffb7" d="M159 115l5 -7l-5 -4l-5 7zM228 113l4 -3l-4 -5l-5 3z"/><path fill="#58ffa7" d="M168 113l5 -6l-5 -4l-5 6zM219 111l5 -3l-5 -5l-5 3z"/><path fill="#68ff97" d="M176 112l5 -6l-5 -4l-5 5zM185 110l5 -5l-5 -4l-5 5zM202 110l5 -4l-5 -5l-5 4zM210 110l5 -3l-5 -5l-5 4z"/><path fill="#78ff87" d="M193 110l5 -5l-5 -4l-5 4z"/><path fill="#00b7ff" d="M129 130l5 -8l-5 -4l-5 8z"/><path fill="#00d7ff" d="M138 127l5 -8l-5 -4l-5 8z"/><path fill="#00f7ff" d="M146 124l5 -8l-5 -4l-5 7z"/><path fill="#18ffe7" d="M155 121l5 -7l-5 -4l-5 7z"/><path fill="#28ffd7" d="M163 119l5 -7l-5 -4l-4 6zM232 117l5 -3l-5 -5l-5 3z"/><path fill="#38ffc7" d="M172 117l5 -6l-5 -5l-5 6z"/><path fill="#48ffb7" d="M181 115l5 -5l-5 -5l-5 6zM215 114l5 -3l-5 -5l-5 4zM223 115l5 -3l-5 -5l-5 3z"/><path fill="#58ffa7" d="M189 114l5 -5l-5 -4l-5 5zM198 114l5 -5l-5 -4l-5 4zM206 114l5 -4l-5 -5l-5 4z"/><path fill="#0097ff" d="M134 134l4 -8l-4 -4l-5 8z"/><path fill="#00c7ff" d="M142 130l5 -7l-5 -4l-5 7z"/><path fill="#00e7ff" d="M151 127l5 -7l-5 -4l-5 7z"/><path fill="#00f7ff" d="M159 124l5 -6l-5 -5l-5 7z"/><path fill="#18ffe7" d="M168 122l5 -6l-5 -4l-5 6z"/><path fill="#28ffd7" d="M176 120l5 -6l-5 -4l-5 6zM228 119l4 -3l-4 -5l-5 4z"/><path fill="#38ffc7" d="M185 119l5 -6l-5 -4l-5 6zM193 118l5 -5l-5 -4l-5 5zM202 118l5 -5l-5 -5l-5 5zM210 118l5 -4l-5 -5l-5 4zM219 118l5 -3l-5 -5l-5 4z"/><path fill="#0087ff" d="M138 137l5 -8l-5 -4l-5 8z"/><path fill="#00a7ff" d="M146 134l5 -8l-5 -4l-5 8z"/><path fill="#00c7ff" d="M155 131l5 -7l-5 -5l-5 8z"/><path fill="#00e7ff" d="M163 128l5 -7l-5 -4l-4 7z"/><path fill="#00f7ff" d="M172 126l5 -6l-5 -5l-5 7z"/><path fill="#08fff7" d="M181 124l5 -6l-5 -4l-5 6z"/><path fill="#18ffe7" d="M189 123l5 -6l-5 -4l-5 5zM223 122l5 -3l-5 -5l-5 4z"/><path fill="#28ffd7" d="M198 122l5 -5l-5 -5l-5 5zM206 122l5 -5l-5 -5l-5 5zM215 122l5 -4l-5 -5l-5 4z"/><path fill="#0078ff" d="M142 141l5 -8l-5 -4l-5 8z"/><path fill="#0097ff" d="M151 138l5 -8l-5 -4l-5 7z"/><path fill="#00b7ff" d="M159 134l5 -7l-5 -4l-5 7z"/><path fill="#00d7ff" d="M168 132l5 -7l-5 -4l-5 7z"/><path fill="#00e7ff" d="M176 130l5 -7l-5 -4l-5 6z"/><path fill="#00f7ff" d="M185 128l5 -6l-5 -4l-5 5z"/><path fill="#08fff7" d="M193 126l5 -5l-5 -4l-5 5zM202 126l5 -5l-5 -5l-5 5zM210 125l5 -4l-5 -5l-5 5zM219 126l5 -4l-5 -5l-5 4z"/><path fill="#0058ff" d="M146 145l5 -8l-5 -4l-5 8z"/><path fill="#0087ff" d="M155 141l5 -8l-5 -4l-5 8z"/><path fill="#0097ff" d="M163 138l5 -7l-5 -4l-4 7z"/><path fill="#00b7ff" d="M172 135l5 -6l-5 -5l-5 7z"/><path fill="#00d7ff" d="M181 133l5 -6l-5 -4l-5 6z"/><path fill="#00e7ff" d="M189 132l5 -6l-5 -5l-5 6zM198 130l5 -5l-5 -5l-5 6z"/><path fill="#00f7ff" d="M206 130l5 -5l-5 -5l-5 5zM215 129l5 -4l-5 -5l-5 5z"/><path fill="#0048ff" d="M151 148l5 -8l-5 -4l-5 8z"/><path fill="#0068ff" d="M159 145l5 -8l-5 -4l-5 8z"/><path fill="#0087ff" d="M168 142l5 -8l-5 -4l-5 8z"/><path fill="#00a7ff" d="M176 139l5 -7l-5 -4l-5 7z"/><path fill="#00b7ff" d="M185 137l5 -6l-5 -5l-5 7z"/><path fill="#00c7ff" d="M193 135l5 -6l-5 -4l-5 6z"/><path fill="#00d7ff" d="M202 134l5 -5l-5 -5l-5 6zM210 133l5 -4l-5 -5l-5 5z"/><path fill="#0038ff" d="M155 152l5 -8l-5 -4l-5 8z"/><path fill="#0058ff" d="M163 148l5 -7l-5 -4l-4 7z"/><path fill="#0078ff" d="M172 145l5 -7l-5 -4l-5 7z"/><path fill="#0087ff" d="M181 143l5 -7l-5 -4l-5 7z"/><path fill="#00a7ff" d="M189 141l5 -7l-5 -4l-5 6z"/><path fill="#00b7ff" d="M198 139l5 -6l-5 -4l-5 6zM206 138l5 -5l-5 -5l-5 5z"/><path fill="#0018ff" d="M159 155l5 -8l-5 -4l-5 8z"/><path fill="#0038ff" d="M168 152l5 -8l-5 -4l-5 8z"/><path fill="#0058ff" d="M176 149l5 -7l-5 -4l-5 7z"/><path fill="#0078ff" d="M185 146l5 -6l-5 -4l-5 6z"/><path fill="#0087ff" d="M193 144l5 -6l-5 -4l-5 6z"/><path fill="#0097ff" d="M202 143l5 -6l-5 -4l-5 5z"/><path fill="#0008ff" d="M164 159l4 -8l-5 -4l-4 8z"/><path fill="#0028ff" d="M172 155l5 -7l-5 -4l-5 7z"/><path fill="#0048ff" d="M181 152l5 -7l-5 -4l-5 7z"/><path fill="#0068ff" d="M189 150l5 -7l-5 -4l-5 7z"/><path fill="#0078ff" d="M198 148l5 -6l-5 -4l-5 6z"/><path fill="#0000f7" d="M168 162l5 -8l-5 -4l-5 8z"/><path fill="#0018ff" d="M176 159l5 -8l-5 -4l-5 8z"/><path fill="#0038ff" d="M185 156l5 -7l-5 -4l-5 7z"/><path fill="#0048ff" d="M193 154l5 -7l-5 -4l-5 6z"/><path fill="#0000d7" d="M172 166l5 -8l-5 -4l-5 8z"/><path fill="#0000f7" d="M181 162l5 -7l-5 -4l-5 7z"/><path fill="#0018ff" d="M189 160l5 -7l-5 -4l-5 7z"/><path fill="#0000c7" d="M176 169l5 -7l-5 -4l-5 7z"/><path fill="#0000e7" d="M185 166l5 -7l-5 -4l-5 7z"/><path fill="#0000b7" d="M181 173l5 -8l-5 -4l-5 8z"/></g></g><path d="M39 95.8 L39 19.8 M141.5 96 L141.5 20 M39 95.8 L90.3 115.3 M90.3 115.3 L141.5 96" stroke="#707070" stroke-width=".65" fill="none"/><path d="M39 19.8h-2.2M39 38.8h-2.2M39 57.8h-2.2M39 76.8h-2.2M39 95.8h-2.2M39 95.8l-1.7 .6M90.3 115.3l1.7 .6M51.8 100.7l-1.7 .6M103.1 110.5l1.7 .6M64.7 105.5l-1.7 .6M115.9 105.7l1.7 .6M77.5 110.4l-1.7 .6M128.7 100.8l1.7 .6M90.3 115.3l-1.7 .6M141.5 96l1.7 .6" stroke="#777" stroke-width=".6"/><g class="tk"><text x="35.5" y="21.1" text-anchor="end">0.08</text><text x="35.5" y="40.1" text-anchor="end">0.078</text><text x="35.5" y="59.1" text-anchor="end">0.076</text><text x="35.5" y="78.1" text-anchor="end">0.074</text><text x="35.5" y="97.1" text-anchor="end">0.072</text></g><g class="tk"><text x="35.1" y="104" text-anchor="end">400</text><text x="47.9" y="108.9" text-anchor="end">350</text><text x="60.8" y="113.8" text-anchor="end">300</text><text x="73.6" y="118.6" text-anchor="end">250</text><text x="86.4" y="123.5" text-anchor="end">200</text><text x="94.5" y="123">400</text><text x="107.3" y="118.2">450</text><text x="120.1" y="113.4">500</text><text x="132.9" y="108.5">550</text><text x="145.7" y="103.7">600</text></g><text class="zt" transform="translate(7.4 66.7) rotate(-90)" text-anchor="middle">Average friction</text><text class="zt" transform="translate(17.3 67.7) rotate(-90)" text-anchor="middle">coefficient</text><g transform="translate(56.5 119) rotate(11.5)"><text class="at" y="2.8" text-anchor="middle"><tspan font-style="italic">B</tspan>/μm</text></g><g transform="translate(129 117.8) rotate(-27)"><text class="at" y="2.8" text-anchor="middle"><tspan font-style="italic">A</tspan>/μm</text></g><text class="pp" x="24.9" y="145.3">(</text><text class="cp" x="32.5" y="148">a</text><text class="pp" x="41.6" y="145.3">)</text><text class="cp" x="55.1" y="148" font-style="italic">A-B</text><text class="cp" x="81.4" y="148">response</text><text class="cp" x="27.3" y="174">surface diagram</text><path d="M215.4 95.8 L267.5 76.6 M267.5 76.6 L318.6 96 M267.5 76.6 L267.5 .6 M215.4 19.8 L267.5 .6 M267.5 .6 L318.6 20" stroke="#707070" stroke-width=".65" fill="none"/><g fill="none" stroke-width="0.6"><polyline stroke="#0000f2" points="231.7,102 231.3,101.7 230.7,101.3 230.4,101.1 229.8,100.7 229.5,100.5 228.8,100.1 228.1,99.7 227.7,99.5 227,99.2 226.3,98.8 225.6,98.4 224.8,98.1 224.4,97.9 223.6,97.5 222.8,97.2 222,96.9 221.2,96.5 220.3,96.2 219.5,95.9 218.6,95.6 217.7,95.3 217.3,95.1"/><polyline stroke="#0045ff" points="239.3,104.9 239.1,104.6 238.9,104.3 238.6,103.9 238.3,103.6 238.1,103.4 237.6,102.9 237.3,102.7 237,102.4 236.6,102 236.2,101.8 235.7,101.4 235.3,101.1 234.8,100.8 234.2,100.4 233.8,100.2 233.2,99.8 232.5,99.4 232.1,99.2 231.4,98.8 230.7,98.5 229.9,98.1 229.2,97.8 228.7,97.6 227.9,97.2 227.1,96.9 226.3,96.6 225.4,96.3 224.5,95.9 223.7,95.6 222.8,95.3 221.9,95 221.4,94.8 220.5,94.5 219.6,94.2 219.6,94.2"/><polyline stroke="#0097ff" points="244.9,107 244.8,106.7 244.8,106.3 244.7,106 244.6,105.7 244.5,105.5 244.4,105.2 244.2,104.8 244,104.4 243.8,104.1 243.6,103.9 243.4,103.5 243.1,103.1 242.9,102.9 242.5,102.5 242.2,102.2 241.9,102 241.4,101.5 241.1,101.3 240.5,100.9 240.3,100.7 239.6,100.2 239.1,99.9 238.7,99.7 238,99.3 237.3,98.9 236.9,98.7 236.2,98.3 235.4,98 234.6,97.6 233.8,97.3 233,97 232.1,96.6 231.3,96.3 230.4,96 229.5,95.7 228.6,95.4 227.7,95.1 226.8,94.8 225.9,94.5 224.9,94.2 224.5,94.1 223.5,93.8 222.5,93.5 222,93.4"/><polyline stroke="#0097ff" points="303.7,90.4 304.3,90.8 304.7,91 305.2,91.4 305.9,91.8 306.2,92 306.9,92.3 307.6,92.7 308.4,93.1 308.8,93.2 309.6,93.6 310.4,93.9 311.3,94.2 312.2,94.6 312.7,94.7 313.5,95 314.5,95.3 315.4,95.6 316.4,95.9 316.9,96 317.9,96.2 317.9,96.2"/><polyline stroke="#00e9ff" points="249.6,108.8 249.7,108.5 249.8,108.2 249.9,107.9 249.9,107.6 250,107.3 250,106.9 250,106.6 250,106.3 250,106 250,105.7 249.9,105.3 249.9,105 249.8,104.6 249.6,104.3 249.5,103.9 249.4,103.7 249.3,103.4 249.1,103.1 248.8,102.6 248.6,102.4 248.4,102.1 248,101.7 247.7,101.4 247.4,101.1 246.9,100.7 246.7,100.5 246.1,100.1 245.6,99.8 245.1,99.5 244.5,99.1 244.1,98.9 243.4,98.5 242.7,98.2 241.9,97.8 241.1,97.5 240.3,97.1 239.4,96.8 238.6,96.5 237.7,96.2 236.8,95.9 235.9,95.6 235,95.3 234,95 233.1,94.7 232.6,94.6 231.6,94.3 230.7,94 229.7,93.7 229.2,93.6 228.2,93.3 227.2,93.1 226.6,92.9 225.7,92.7 224.6,92.4 224.6,92.4"/><polyline stroke="#00e9ff" points="295.1,87.1 295.2,87.4 295.3,87.7 295.4,88 295.5,88.3 295.6,88.6 295.8,89 296,89.3 296.2,89.6 296.4,89.8 296.8,90.3 297,90.6 297.2,90.8 297.7,91.3 298,91.5 298.5,91.9 298.8,92.1 299.4,92.6 299.7,92.8 300.4,93.1 301.1,93.5 301.8,93.8 302.3,94.1 303,94.4 303.9,94.7 304.7,95.1 305.6,95.4 306.5,95.7 307,95.8 307.9,96.1 308.9,96.4 309.9,96.7 310.4,96.8 311.4,97 312.5,97.3 313,97.4 314.1,97.7 314.1,97.7"/><polyline stroke="#3cffc3" points="253.8,110.4 254,110.1 254.1,109.9 254.4,109.5 254.6,109.1 254.8,108.8 255,108.5 255.1,108.2 255.3,107.8 255.5,107.5 255.7,107.2 255.8,106.9 255.9,106.6 256,106.3 256.1,106 256.2,105.6 256.3,105.3 256.4,104.9 256.4,104.6 256.5,104.2 256.5,103.9 256.5,103.6 256.4,103.3 256.4,103 256.3,102.7 256.2,102.4 256.1,102.1 255.9,101.8 255.7,101.4 255.5,101.1 255.3,100.8 254.9,100.4 254.6,100.1 254.3,99.9 253.8,99.5 253.4,99.2 252.9,98.9 252.2,98.5 251.7,98.2 251.1,97.9 250.3,97.6 249.5,97.2 248.7,96.9 247.8,96.6 246.9,96.3 246,96 245.2,95.8 244.6,95.6 243.6,95.3 242.6,95 241.7,94.8 241.1,94.6 240.1,94.3 239.1,94.1 238.6,93.9 237.6,93.7 236.6,93.5 236,93.3 234.9,93.1 234.4,92.9 233.3,92.7 232.3,92.5 231.7,92.3 230.7,92.1 230.1,92 229,91.7 228.1,91.5 227.4,91.4 227.4,91.4"/><polyline stroke="#3cffc3" points="289.5,85 289.4,85.2 289.3,85.5 289.2,85.8 289.1,86.2 289,86.5 289,86.9 288.9,87.2 288.8,87.5 288.8,87.9 288.8,88.2 288.7,88.5 288.7,88.8 288.8,89.2 288.8,89.5 288.8,89.8 288.9,90.1 289,90.4 289.1,90.6 289.2,91 289.4,91.4 289.6,91.7 289.8,92 290,92.3 290.4,92.7 290.6,92.9 291.1,93.4 291.4,93.6 292,94 292.3,94.2 293,94.6 293.8,95 294.5,95.3 295,95.5 295.8,95.8 296.5,96.1 297.1,96.3 298.1,96.6 299,96.8 300,97.1 300.5,97.3 301.5,97.5 302.6,97.8 303.1,97.9 304.2,98.1 305,98.3 305.8,98.5 306.8,98.7 307.5,98.8 308.5,99 309.3,99.1 309.8,99.2"/><polyline stroke="#8eff71" points="257.5,111.8 258,111.3 258.3,111.1 258.6,110.8 259,110.4 259.2,110.2 259.7,109.7 260,109.5 260.2,109.2 260.7,108.8 260.9,108.5 261.3,108.2 261.6,107.8 261.9,107.6 262.3,107.2 262.6,106.9 262.8,106.7 263.3,106.2 263.5,105.9 263.8,105.7 264.2,105.2 264.4,105 264.7,104.7 265.1,104.3 265.3,104 265.6,103.8 266,103.3 266.2,103.1 266.4,102.8 266.8,102.4 267,102.1 267.2,101.8 267.5,101.5 267.8,101.1 268,100.8 268.1,100.5 268.4,100.2 268.6,99.8 268.7,99.5 268.8,99.2 268.8,98.9 268.8,98.5 268.7,98.2 268.5,97.9 268.2,97.7 267.6,97.3 266.8,96.9 265.8,96.7 265,96.4 264.3,96.3 263.2,96 262.6,95.9 261.5,95.7 261,95.6 259.8,95.4 259.2,95.3 258.1,95 257.5,94.9 256.3,94.7 255.7,94.6 254.6,94.4 254,94.3 253,94.2 252.2,94 251.5,93.9 250.4,93.7 249.8,93.6 248.7,93.4 248.1,93.3 246.9,93.1 246.3,93 245.2,92.8 244.5,92.7 243.7,92.6 242.7,92.4 242.1,92.3 241,92.1 240.4,92 239.2,91.8 238.6,91.7 237.5,91.5 236.8,91.4 235.9,91.2 235.1,91.1 234.3,91 233.3,90.8 232.7,90.7 231.5,90.5 231,90.4 230.4,90.3"/><polyline stroke="#8eff71" points="285,83.3 284.7,83.6 284.4,84 284.2,84.2 284,84.5 283.6,85 283.4,85.2 283.2,85.5 282.9,85.9 282.6,86.2 282.4,86.5 282.2,86.8 281.8,87.2 281.6,87.5 281.4,87.7 281.1,88.2 280.8,88.5 280.6,88.7 280.4,89.1 280,89.5 279.8,89.7 279.6,90 279.3,90.4 279.1,90.7 278.9,91 278.7,91.3 278.4,91.7 278.1,92 278,92.3 277.8,92.6 277.5,93 277.3,93.3 277.2,93.6 277,93.9 276.9,94.2 276.8,94.5 276.7,94.9 276.7,95.2 276.8,95.5 276.9,95.8 277.4,96.2 277.7,96.4 278.4,96.8 279.4,97.1 279.9,97.2 280.9,97.5 282,97.7 282.6,97.8 283.7,98 284.3,98.1 285.3,98.3 286.1,98.4 286.8,98.6 287.9,98.7 288.5,98.8 289.7,99 290.3,99.1 291.1,99.2 292.2,99.4 292.8,99.4 293.8,99.6 294.7,99.7 295.4,99.8 296.4,99.9 297.3,100 297.9,100.1 299,100.3 299.8,100.4 300.5,100.5 301.6,100.6 302.4,100.7 303.1,100.8 304.1,100.9 305,101 305,101"/><polyline stroke="#e0ff1f" points="260.9,113.1 261.5,112.7 261.8,112.5 262.5,112 262.9,111.8 263.4,111.4 264,111 264.3,110.8 265,110.4 265.3,110.2 265.9,109.8 266.4,109.5 266.9,109.2 267.6,108.8 267.9,108.6 268.6,108.2 269.3,107.8 269.7,107.6 270.4,107.3 271.1,106.9 271.9,106.5 272.3,106.4 273.1,106 273.9,105.7 274.8,105.4 275.7,105 276.6,104.8 277.1,104.6 278.1,104.3 279.2,104.1 279.7,104 280.9,103.8 281.5,103.7 282.7,103.5 283.3,103.4 284,103.3 285.2,103.2 286.1,103.1 286.8,103.1 287.6,103.1 288.3,103 289.3,103 290.2,103 291.1,103 292,103 292.8,103 293.7,103 294.5,103 295.3,103 296.1,103 296.9,103 297.8,103.1 298.8,103.1 299.3,103.1"/><polyline stroke="#e0ff1f" points="281.2,81.8 280.6,82.2 280.4,82.5 279.8,82.9 279.5,83.1 279.1,83.5 278.7,83.8 278.3,84.1 277.8,84.4 277.4,84.7 276.9,85.1 276.4,85.4 276,85.7 275.4,86.1 275,86.3 274.4,86.7 273.7,87.1 273.3,87.3 272.6,87.6 271.8,88 271,88.3 270.2,88.7 269.8,88.8 269.3,89 268.4,89.3 267.4,89.6 266.4,89.8 265.8,90 264.8,90.2 264,90.3 263,90.5 262.3,90.5 261.4,90.6 260.3,90.7 259.5,90.8 258.8,90.8 258,90.9 257.2,90.9 256.4,90.9 255.5,90.9 254.7,90.9 253.8,90.9 252.8,90.8 251.9,90.8 250.9,90.8 250,90.7 249.2,90.7 248.5,90.6 247.8,90.6 246.8,90.5 245.7,90.4 244.9,90.3 244.2,90.3 243.4,90.2 242.3,90.1 241.5,90 240.8,89.9 239.9,89.8 238.8,89.7 238.2,89.6 237.5,89.6 236.2,89.4 235.6,89.3 234.9,89.2 233.7,89.1 233.6,89.1"/><polyline stroke="#ffcc00" points="264.1,114.3 264.8,113.9 265.2,113.7 265.9,113.3 266.6,113 266.9,112.8 267.7,112.4 268.4,112 269.1,111.7 269.5,111.5 270.3,111.1 271.1,110.8 271.9,110.4 272.7,110.1 273.5,109.8 274.4,109.4 275.3,109.1 276.2,108.8 277.1,108.5 278,108.2 279,107.9 279.9,107.7 280.6,107.5 281.6,107.3 282.3,107.2 283.3,107 284.1,106.8 285,106.6 285.6,106.6 286.9,106.4 287.5,106.3 288.3,106.2 289.5,106.1 290.2,106 290.9,105.9 291.8,105.9 291.8,105.9"/><polyline stroke="#ffcc00" points="277.7,80.5 277.1,80.9 276.7,81.2 276.2,81.5 275.5,81.9 275.2,82.1 274.5,82.5 273.8,82.9 273.4,83.1 272.7,83.4 272,83.8 271.3,84.1 270.8,84.3 270,84.7 269.2,85 268.3,85.4 267.4,85.7 266.5,86 265.5,86.3 265,86.4 264,86.7 263,86.9 262.4,87 261.3,87.2 260.7,87.3 259.5,87.5 258.9,87.6 258,87.7 256.9,87.9 256.3,87.9 255.6,88 254.6,88.1 253.5,88.1 252.6,88.2 251.8,88.2 251,88.2 250.2,88.2 249.4,88.2 248.5,88.2 247.7,88.2 246.8,88.2 245.9,88.2 244.9,88.2 244,88.1 243.2,88.1 242.4,88.1 241.7,88 240.9,88 240,87.9 239,87.9 238,87.8 237.3,87.7 237.3,87.7"/><polyline stroke="#ff7a00" points="274.6,79.3 274.1,79.6 273.6,79.9 272.8,80.3 272.1,80.6 271.7,80.8 271,81.2 270.2,81.5 269.4,81.9 268.6,82.2 267.7,82.5 266.8,82.8 266,83.2 265,83.5 264.1,83.7 263.1,84 262.5,84.2 261.6,84.4 260.5,84.7 259.9,84.8 258.8,85 258.2,85.1 257,85.3 256.4,85.4 255.3,85.5 254.5,85.6 253.9,85.7 252.8,85.8 251.8,85.9 251.1,86 250.4,86 249.6,86.1 248.6,86.1 247.6,86.2 246.7,86.2 245.8,86.2 244.9,86.2 244.1,86.2 243.2,86.2 242.4,86.2 241.5,86.2 241.4,86.2"/><polyline stroke="#ff2800" points="271.7,78.2 271.4,78.4 270.6,78.7 269.8,79.1 269,79.4 268.2,79.8 267.4,80.1 266.5,80.4 265.6,80.8 264.7,81.1 263.8,81.4 262.9,81.7 261.9,81.9 261.1,82.1 260.4,82.3 259.3,82.6 258.6,82.7 257.7,82.9 256.7,83.1 256,83.3 255.1,83.4 254.2,83.6 253.5,83.6 252.3,83.8 251.6,83.9 251,84 249.8,84.1 248.9,84.2 248.2,84.2 247.5,84.3 246.5,84.3 246.5,84.3"/><polyline stroke="#d50000" points="269,77.2 268.2,77.5 267.4,77.9 266.6,78.2 265.7,78.5 264.8,78.8 263.9,79.1 263,79.4 262.1,79.7 261.1,80 260.1,80.3 259.6,80.4 258.6,80.7 257.5,80.9 257,81.1 255.9,81.3 255.3,81.4 254.2,81.6 253.7,81.7"/></g><g filter="url(#bl)"><g transform="scale(.5)"><path fill="#c70000" d="M535 26l5 -2l-5 -10l-5 1z"/><path fill="#ff0800" d="M539 34l5 -1l-5 -10l-5 2z"/><path fill="#c70000" d="M531 27l4 -2l-4 -10l-5 2z"/><path fill="#ff4800" d="M543 43l5 -1l-4 -10l-5 1z"/><path fill="#ff0800" d="M535 36l5 -2l-5 -10l-5 2z"/><path fill="#c70000" d="M526 29l5 -2l-5 -10l-5 2z"/><path fill="#ff7800" d="M548 51l5 -1l-5 -9l-5 1z"/><path fill="#ff3800" d="M539 44l5 -1l-5 -10l-5 2z"/><path fill="#ff0800" d="M530 37l5 -2l-4 -9l-5 2z"/><path fill="#c70000" d="M522 31l5 -2l-5 -10l-5 3z"/><path fill="#ffb700" d="M552 59l5 -1l-5 -9l-5 1z"/><path fill="#ff7800" d="M543 52l5 -1l-5 -9l-4 1z"/><path fill="#ff3800" d="M535 45l5 -1l-5 -10l-5 2z"/><path fill="#ff0800" d="M526 39l5 -2l-5 -9l-5 2z"/><path fill="#d70000" d="M518 34l4 -3l-4 -9l-5 3z"/><path fill="#ffe700" d="M556 66l5 0l-5 -9l-5 0z"/><path fill="#ffa700" d="M548 59l4 -1l-4 -8l-5 0z"/><path fill="#ff6800" d="M539 53l5 -2l-5 -9l-5 2z"/><path fill="#ff3800" d="M530 47l5 -2l-5 -9l-4 2z"/><path fill="#ff0800" d="M522 42l5 -3l-5 -9l-5 3z"/><path fill="#e70000" d="M513 37l5 -3l-5 -9l-5 4z"/><path fill="#e7ff18" d="M560 73l5 0l-4 -8l-5 0z"/><path fill="#ffd700" d="M552 66l5 0l-5 -9l-5 1z"/><path fill="#ffa700" d="M543 60l5 -1l-5 -9l-5 1z"/><path fill="#ff6800" d="M535 54l5 -2l-5 -8l-5 2z"/><path fill="#ff3800" d="M526 49l5 -3l-5 -8l-5 3z"/><path fill="#ff1800" d="M517 45l5 -4l-4 -8l-5 3z"/><path fill="#f70000" d="M509 41l5 -4l-5 -9l-5 5z"/><path fill="#b7ff48" d="M565 79l5 1l-5 -8l-5 0z"/><path fill="#f7ff08" d="M556 73l5 0l-5 -9l-5 1z"/><path fill="#ffd700" d="M548 66l4 0l-4 -8l-5 1z"/><path fill="#ff9700" d="M539 61l5 -2l-5 -8l-5 2z"/><path fill="#ff6800" d="M530 56l5 -2l-5 -9l-5 3z"/><path fill="#ff4800" d="M522 51l5 -2l-5 -9l-5 4z"/><path fill="#ff2800" d="M513 48l5 -4l-5 -8l-5 4z"/><path fill="#ff0800" d="M505 45l5 -5l-5 -8l-5 5z"/><path fill="#87ff78" d="M569 86l5 0l-5 -7l-5 -1z"/><path fill="#c7ff38" d="M560 79l5 0l-5 -8l-4 0z"/><path fill="#fff700" d="M552 73l5 -1l-5 -7l-5 0z"/><path fill="#ffc700" d="M543 67l5 -1l-5 -8l-5 2z"/><path fill="#ff9700" d="M535 62l5 -2l-5 -7l-5 2z"/><path fill="#ff7800" d="M526 58l5 -3l-5 -7l-5 2z"/><path fill="#ff5800" d="M517 54l5 -3l-5 -8l-5 4z"/><path fill="#ff3800" d="M509 51l5 -4l-5 -8l-5 5z"/><path fill="#ff1800" d="M500 49l5 -5l-5 -8l-5 6z"/><path fill="#68ff97" d="M573 91l5 1l-5 -7l-5 -1z"/><path fill="#a7ff58" d="M565 85l5 0l-5 -7l-5 0z"/><path fill="#d7ff28" d="M556 79l5 0l-5 -8l-5 1z"/><path fill="#fff700" d="M547 73l5 -1l-4 -7l-5 1z"/><path fill="#ffc700" d="M539 69l5 -2l-5 -8l-5 2z"/><path fill="#ff9700" d="M530 64l5 -2l-5 -8l-5 3z"/><path fill="#ff7800" d="M522 61l5 -3l-5 -8l-5 3z"/><path fill="#ff5800" d="M513 58l5 -4l-5 -8l-5 5z"/><path fill="#ff4800" d="M504 55l5 -4l-4 -8l-5 5z"/><path fill="#ff3800" d="M496 54l5 -5l-5 -8l-5 6z"/><path fill="#48ffb7" d="M577 97l5 1l-4 -7l-5 -1z"/><path fill="#78ff87" d="M569 90l5 1l-5 -7l-5 0z"/><path fill="#b7ff48" d="M560 84l5 1l-5 -7l-5 0z"/><path fill="#e7ff18" d="M552 79l5 0l-5 -8l-5 1z"/><path fill="#ffe700" d="M543 74l5 -1l-5 -7l-5 1z"/><path fill="#ffc700" d="M534 70l5 -2l-4 -7l-5 2z"/><path fill="#ffa700" d="M526 67l5 -3l-5 -7l-5 3z"/><path fill="#ff8700" d="M517 64l5 -4l-5 -7l-5 4z"/><path fill="#ff7800" d="M509 61l5 -4l-5 -7l-5 5z"/><path fill="#ff6800" d="M500 60l5 -5l-5 -7l-5 5z"/><path fill="#ff5800" d="M491 59l6 -6l-5 -7l-5 6z"/><path fill="#28ffd7" d="M582 102l5 1l-5 -6l-5 -1z"/><path fill="#58ffa7" d="M573 96l5 0l-5 -6l-5 -1z"/><path fill="#97ff68" d="M565 90l4 0l-4 -7l-5 0z"/><path fill="#c7ff38" d="M556 85l5 -1l-5 -7l-5 1z"/><path fill="#e7ff18" d="M547 80l5 -1l-5 -7l-5 1z"/><path fill="#ffe700" d="M539 76l5 -2l-5 -7l-5 2z"/><path fill="#ffc700" d="M530 72l5 -2l-5 -7l-5 3z"/><path fill="#ffa700" d="M522 69l5 -3l-5 -7l-5 4z"/><path fill="#ff9700" d="M513 67l5 -4l-5 -7l-5 5z"/><path fill="#ff8700" d="M504 66l5 -5l-5 -7l-5 5z"/><path fill="#ff7800" d="M487 65l5 -7l-5 -6l-5 6zM496 65l5 -6l-5 -6l-5 5z"/><path fill="#08fff7" d="M586 107l5 1l-5 -6l-5 -1z"/><path fill="#38ffc7" d="M577 100l5 2l-4 -7l-5 -1z"/><path fill="#78ff87" d="M569 95l5 0l-5 -6l-5 0z"/><path fill="#a7ff58" d="M560 90l5 -1l-5 -6l-5 0z"/><path fill="#c7ff38" d="M552 85l5 -1l-5 -6l-5 1z"/><path fill="#f7ff08" d="M543 81l5 -2l-5 -6l-5 2z"/><path fill="#ffe700" d="M534 77l5 -2l-4 -6l-5 2z"/><path fill="#ffd700" d="M526 75l5 -3l-5 -7l-5 3z"/><path fill="#ffb700" d="M517 72l5 -3l-5 -7l-5 4z"/><path fill="#ffa700" d="M500 70l5 -5l-5 -6l-5 5zM509 71l5 -4l-5 -7l-5 5z"/><path fill="#ff9700" d="M483 71l5 -7l-5 -6l-5 7zM491 70l5 -6l-4 -6l-6 6z"/><path fill="#00e7ff" d="M590 111l5 2l-5 -6l-5 -2z"/><path fill="#28ffd7" d="M582 105l5 1l-5 -6l-5 -1z"/><path fill="#58ffa7" d="M573 99l5 1l-5 -6l-5 0z"/><path fill="#87ff78" d="M564 94l5 0l-4 -6l-5 1z"/><path fill="#a7ff58" d="M556 90l5 -1l-5 -6l-5 1z"/><path fill="#d7ff28" d="M547 86l5 -1l-5 -7l-5 2z"/><path fill="#f7ff08" d="M539 82l5 -1l-5 -7l-5 3z"/><path fill="#ffe700" d="M530 80l5 -3l-5 -6l-5 3z"/><path fill="#ffd700" d="M521 77l5 -3l-4 -6l-5 4z"/><path fill="#ffc700" d="M478 77l6 -7l-5 -6l-5 8zM504 75l5 -5l-5 -6l-5 5zM513 76l5 -4l-5 -6l-5 4z"/><path fill="#ffb700" d="M487 76l5 -7l-5 -6l-5 7zM496 75l5 -6l-5 -6l-5 6z"/><path fill="#00d7ff" d="M594 115l5 2l-4 -5l-5 -2z"/><path fill="#08fff7" d="M586 109l5 2l-5 -6l-5 -1z"/><path fill="#38ffc7" d="M577 104l5 1l-5 -6l-5 -1z"/><path fill="#68ff97" d="M569 99l5 0l-5 -6l-5 0z"/><path fill="#97ff68" d="M560 94l5 0l-5 -6l-5 1z"/><path fill="#b7ff48" d="M552 90l5 -1l-5 -5l-5 1z"/><path fill="#d7ff28" d="M543 87l5 -2l-5 -5l-5 1z"/><path fill="#f7ff08" d="M534 84l5 -2l-5 -6l-5 3z"/><path fill="#fff700" d="M474 84l5 -8l-5 -5l-5 8zM526 82l5 -3l-5 -6l-5 4z"/><path fill="#ffe700" d="M483 82l5 -7l-5 -6l-5 8zM517 81l5 -4l-5 -6l-5 4z"/><path fill="#ffd700" d="M491 80l5 -6l-5 -5l-5 6zM500 80l5 -5l-5 -6l-5 5zM509 80l5 -5l-5 -5l-5 4z"/><path fill="#00c7ff" d="M599 118l5 3l-5 -5l-5 -2z"/><path fill="#00f7ff" d="M590 113l5 1l-5 -5l-5 -1z"/><path fill="#28ffd7" d="M582 107l5 2l-5 -6l-5 0z"/><path fill="#58ffa7" d="M573 103l5 0l-5 -5l-5 0z"/><path fill="#78ff87" d="M564 98l5 0l-5 -5l-4 0z"/><path fill="#97ff68" d="M556 95l5 -1l-5 -6l-5 1z"/><path fill="#b7ff48" d="M547 91l5 -1l-5 -6l-5 2z"/><path fill="#d7ff28" d="M470 91l5 -8l-5 -5l-5 8zM539 89l5 -2l-5 -6l-5 2z"/><path fill="#e7ff18" d="M478 88l5 -7l-5 -5l-5 7zM530 87l5 -3l-5 -6l-5 3z"/><path fill="#f7ff08" d="M487 86l5 -6l-5 -6l-5 7zM521 85l5 -3l-5 -6l-5 4z"/><path fill="#fff700" d="M496 85l5 -6l-5 -5l-5 6zM504 84l5 -5l-5 -5l-5 5zM513 84l5 -4l-5 -5l-5 4z"/><path fill="#00b7ff" d="M603 122l5 2l-5 -4l-5 -3z"/><path fill="#00e7ff" d="M594 116l5 2l-4 -5l-5 -1z"/><path fill="#18ffe7" d="M586 111l5 1l-5 -4l-5 -2z"/><path fill="#38ffc7" d="M577 106l5 1l-5 -5l-5 0z"/><path fill="#68ff97" d="M569 102l5 0l-5 -5l-5 0z"/><path fill="#87ff78" d="M560 98l5 0l-5 -5l-5 1z"/><path fill="#a7ff58" d="M465 99l5 -9l-4 -4l-5 8zM551 95l5 -1l-4 -5l-5 1z"/><path fill="#c7ff38" d="M474 95l5 -8l-5 -4l-5 8zM543 93l5 -2l-5 -5l-5 2z"/><path fill="#d7ff28" d="M483 92l5 -7l-5 -5l-5 8zM534 91l5 -3l-5 -5l-5 3z"/><path fill="#e7ff18" d="M491 90l5 -6l-5 -5l-5 7zM500 89l5 -6l-5 -5l-5 6zM517 88l5 -4l-5 -5l-5 5zM526 89l5 -3l-5 -5l-5 3z"/><path fill="#f7ff08" d="M508 88l5 -4l-4 -5l-6 5z"/><path fill="#00a7ff" d="M607 123l5 4l-4 -4l-6 -3z"/><path fill="#00d7ff" d="M599 119l5 2l-5 -4l-5 -2z"/><path fill="#08fff7" d="M590 114l5 2l-5 -5l-5 -1z"/><path fill="#28ffd7" d="M581 110l5 1l-4 -5l-5 -1z"/><path fill="#58ffa7" d="M573 105l5 1l-5 -5l-5 0z"/><path fill="#68ff97" d="M461 107l5 -9l-5 -4l-5 9z"/><path fill="#78ff87" d="M564 102l5 0l-5 -5l-5 0z"/><path fill="#97ff68" d="M470 103l5 -9l-5 -4l-5 8zM556 99l5 -1l-5 -5l-5 1z"/><path fill="#a7ff58" d="M478 99l5 -8l-5 -4l-5 8zM547 96l5 -1l-5 -5l-5 2z"/><path fill="#c7ff38" d="M487 96l5 -7l-5 -4l-5 7zM538 94l6 -2l-5 -5l-5 3z"/><path fill="#d7ff28" d="M496 94l5 -6l-5 -5l-5 7zM504 93l5 -5l-5 -5l-5 5zM513 92l5 -4l-5 -5l-5 5zM521 92l5 -3l-5 -5l-5 4zM530 93l5 -3l-5 -5l-5 3z"/><path fill="#0097ff" d="M611 125l5 5l-4 -3l-5 -4z"/><path fill="#00c7ff" d="M602 121l6 3l-5 -4l-5 -2z"/><path fill="#00f7ff" d="M594 117l5 2l-4 -4l-6 -2z"/><path fill="#28ffd7" d="M586 112l5 2l-5 -4l-5 -1z"/><path fill="#38ffc7" d="M457 115l5 -9l-5 -4l-5 10z"/><path fill="#48ffb7" d="M577 109l5 0l-5 -4l-5 -1z"/><path fill="#58ffa7" d="M465 110l5 -8l-5 -5l-5 10z"/><path fill="#68ff97" d="M569 105l5 0l-5 -4l-5 0z"/><path fill="#78ff87" d="M474 106l5 -8l-5 -4l-5 8z"/><path fill="#87ff78" d="M560 102l5 -1l-5 -4l-5 1z"/><path fill="#97ff68" d="M483 102l5 -7l-5 -4l-5 7zM551 100l5 -2l-5 -4l-5 1z"/><path fill="#a7ff58" d="M543 98l5 -2l-5 -5l-5 2z"/><path fill="#b7ff48" d="M491 100l5 -7l-5 -4l-5 7zM500 98l5 -6l-5 -4l-5 5zM534 96l5 -2l-5 -5l-5 3z"/><path fill="#c7ff38" d="M508 96l5 -5l-5 -4l-5 5zM517 96l5 -5l-5 -4l-5 4zM526 96l5 -4l-5 -4l-5 3z"/><path fill="#0097ff" d="M616 127l5 5l-5 -2l-5 -4z"/><path fill="#00c7ff" d="M607 123l5 3l-5 -2l-5 -3z"/><path fill="#00e7ff" d="M598 119l6 2l-5 -3l-5 -2z"/><path fill="#00f7ff" d="M452 124l5 -10l-4 -3l-5 10z"/><path fill="#18ffe7" d="M590 115l5 2l-5 -4l-5 -2z"/><path fill="#28ffd7" d="M461 118l5 -9l-5 -3l-5 9z"/><path fill="#38ffc7" d="M581 111l5 1l-4 -4l-5 0z"/><path fill="#48ffb7" d="M470 113l5 -8l-5 -4l-5 9z"/><path fill="#58ffa7" d="M573 108l5 0l-5 -4l-5 0z"/><path fill="#68ff97" d="M478 109l5 -8l-5 -3l-5 8z"/><path fill="#78ff87" d="M564 105l5 0l-5 -5l-5 1z"/><path fill="#87ff78" d="M487 105l5 -6l-5 -4l-5 7zM556 103l5 -1l-5 -5l-5 2z"/><path fill="#a7ff58" d="M495 103l5 -6l-4 -4l-6 6zM504 101l5 -6l-5 -4l-5 6zM538 99l5 -2l-4 -4l-6 2zM547 101l5 -2l-5 -4l-5 2z"/><path fill="#b7ff48" d="M513 99l5 -4l-5 -4l-5 5zM521 99l5 -4l-5 -4l-5 4zM530 99l5 -3l-5 -5l-5 4z"/><path fill="#0097ff" d="M620 129l5 5l-5 -2l-5 -4z"/><path fill="#00b7ff" d="M448 134l5 -11l-5 -3l-5 11zM611 124l5 5l-4 -2l-5 -4z"/><path fill="#00e7ff" d="M457 127l5 -10l-5 -3l-5 10zM603 120l5 4l-5 -2l-5 -4z"/><path fill="#08fff7" d="M594 117l5 2l-5 -3l-5 -2z"/><path fill="#18ffe7" d="M465 121l5 -9l-5 -3l-5 9z"/><path fill="#38ffc7" d="M586 114l5 1l-5 -4l-5 -1z"/><path fill="#48ffb7" d="M474 116l5 -8l-5 -3l-5 8z"/><path fill="#58ffa7" d="M577 110l5 1l-5 -4l-5 0z"/><path fill="#68ff97" d="M482 112l5 -7l-4 -4l-5 8zM568 107l5 0l-4 -3l-5 0z"/><path fill="#78ff87" d="M491 108l5 -6l-5 -4l-5 7z"/><path fill="#87ff78" d="M560 105l5 -1l-5 -3l-5 1z"/><path fill="#97ff68" d="M500 106l5 -6l-5 -4l-5 6zM551 103l5 -1l-5 -4l-5 2z"/><path fill="#a7ff58" d="M508 104l5 -5l-5 -4l-5 5zM517 102l5 -4l-5 -4l-5 5zM525 102l6 -4l-5 -4l-5 4zM534 102l5 -3l-5 -4l-5 3zM543 102l5 -2l-5 -4l-5 3z"/><path fill="#0068ff" d="M444 143l5 -11l-5 -2l-5 11z"/><path fill="#0097ff" d="M624 131l5 4l-5 -1l-5 -4z"/><path fill="#00a7ff" d="M452 136l5 -10l-5 -3l-4 10z"/><path fill="#00b7ff" d="M616 126l5 4l-5 -1l-5 -4z"/><path fill="#00d7ff" d="M461 129l5 -9l-5 -3l-5 10z"/><path fill="#00e7ff" d="M607 122l5 3l-5 -1l-5 -4z"/><path fill="#08fff7" d="M470 124l4 -9l-4 -3l-5 9zM598 118l6 3l-5 -2l-5 -3z"/><path fill="#28ffd7" d="M590 116l5 1l-5 -3l-5 -1z"/><path fill="#38ffc7" d="M478 119l5 -8l-5 -3l-5 8z"/><path fill="#48ffb7" d="M581 112l5 1l-5 -3l-5 -1z"/><path fill="#58ffa7" d="M487 114l5 -7l-5 -3l-5 7z"/><path fill="#68ff97" d="M573 110l5 0l-5 -4l-5 1z"/><path fill="#78ff87" d="M495 111l5 -6l-5 -4l-5 7zM564 107l5 0l-5 -3l-5 0z"/><path fill="#87ff78" d="M504 108l5 -5l-5 -4l-5 6zM556 106l5 -1l-5 -4l-5 2z"/><path fill="#97ff68" d="M513 106l5 -5l-5 -3l-5 5zM521 105l5 -4l-5 -4l-5 5zM547 105l5 -2l-5 -4l-5 2z"/><path fill="#a7ff58" d="M530 104l5 -3l-5 -4l-5 4zM538 104l5 -2l-5 -4l-5 3z"/><path fill="#0028ff" d="M439 153l5 -11l-5 -2l-4 11z"/><path fill="#0068ff" d="M448 145l5 -10l-5 -3l-5 11z"/><path fill="#0097ff" d="M629 132l5 4l-5 0l-5 -5z"/><path fill="#00a7ff" d="M457 138l5 -10l-5 -2l-5 10z"/><path fill="#00b7ff" d="M620 127l5 5l-5 -1l-5 -5z"/><path fill="#00d7ff" d="M465 131l5 -9l-5 -2l-5 9z"/><path fill="#00e7ff" d="M611 123l5 4l-4 -1l-5 -4z"/><path fill="#08fff7" d="M474 126l5 -9l-5 -2l-5 8zM603 119l5 4l-5 -2l-5 -3z"/><path fill="#28ffd7" d="M482 121l5 -8l-5 -3l-4 8zM594 116l5 3l-4 -3l-6 -1z"/><path fill="#48ffb7" d="M585 114l6 1l-5 -3l-5 0z"/><path fill="#58ffa7" d="M491 116l5 -6l-5 -3l-5 7zM577 112l5 0l-5 -3l-5 0z"/><path fill="#68ff97" d="M500 113l5 -6l-5 -3l-5 6z"/><path fill="#78ff87" d="M568 109l5 0l-4 -3l-6 1z"/><path fill="#87ff78" d="M508 110l5 -5l-5 -3l-5 6zM517 108l5 -4l-5 -3l-5 4zM560 108l5 -1l-5 -3l-5 1z"/><path fill="#97ff68" d="M525 107l5 -4l-5 -3l-5 4zM534 106l5 -3l-5 -3l-5 3zM543 106l5 -2l-5 -3l-5 2zM551 107l5 -2l-5 -3l-5 2z"/><path fill="#0000d7" d="M435 164l5 -12l-5 -2l-5 12z"/><path fill="#0018ff" d="M444 155l5 -11l-5 -2l-5 11z"/><path fill="#0068ff" d="M452 147l5 -10l-5 -3l-5 11z"/><path fill="#0097ff" d="M461 140l5 -10l-5 -2l-5 10zM633 132l5 5l-5 0l-5 -5z"/><path fill="#00c7ff" d="M624 128l5 5l-5 -1l-5 -4z"/><path fill="#00d7ff" d="M469 133l5 -8l-4 -3l-5 9z"/><path fill="#00e7ff" d="M616 124l5 4l-5 -1l-5 -4z"/><path fill="#08fff7" d="M478 127l5 -7l-5 -3l-5 8zM607 120l5 4l-5 -1l-5 -3z"/><path fill="#28ffd7" d="M487 123l5 -8l-5 -2l-5 7zM598 117l5 3l-4 -1l-5 -3z"/><path fill="#48ffb7" d="M495 118l5 -6l-5 -3l-5 7zM589 115l6 2l-5 -3l-5 -1z"/><path fill="#58ffa7" d="M581 113l5 1l-5 -3l-5 0z"/><path fill="#68ff97" d="M504 115l5 -6l-5 -2l-5 6z"/><path fill="#78ff87" d="M512 112l5 -5l-4 -2l-5 5zM573 111l5 0l-5 -3l-5 1z"/><path fill="#87ff78" d="M521 110l5 -4l-5 -3l-5 5zM555 109l5 -2l-4 -3l-5 2zM564 110l5 -1l-5 -3l-5 1z"/><path fill="#97ff68" d="M530 109l5 -3l-5 -3l-5 3zM538 108l5 -2l-5 -3l-5 3zM547 108l5 -2l-5 -3l-5 2z"/><path fill="#0000d7" d="M439 165l5 -11l-5 -2l-4 12z"/><path fill="#0018ff" d="M448 156l5 -10l-5 -2l-5 11z"/><path fill="#0068ff" d="M457 148l4 -10l-4 -2l-5 11z"/><path fill="#0097ff" d="M465 141l5 -9l-5 -2l-5 9z"/><path fill="#00c7ff" d="M628 128l5 5l-4 0l-5 -5z"/><path fill="#00d7ff" d="M474 135l5 -9l-5 -2l-5 9z"/><path fill="#00e7ff" d="M620 125l5 4l-5 0l-5 -5z"/><path fill="#08fff7" d="M482 129l5 -8l-5 -2l-5 8zM611 121l5 4l-5 -1l-5 -3z"/><path fill="#28ffd7" d="M491 124l5 -7l-5 -2l-5 7zM603 118l5 3l-5 0l-5 -3z"/><path fill="#48ffb7" d="M500 120l5 -6l-5 -2l-5 6zM594 115l5 3l-5 -1l-5 -2z"/><path fill="#58ffa7" d="M585 114l6 1l-5 -2l-5 -1z"/><path fill="#68ff97" d="M508 117l5 -6l-5 -2l-5 5z"/><path fill="#78ff87" d="M517 114l5 -5l-5 -2l-5 5zM577 112l5 1l-5 -3l-5 0z"/><path fill="#87ff78" d="M525 112l5 -4l-5 -2l-5 4zM560 110l5 -1l-5 -3l-5 2zM568 111l5 0l-5 -3l-5 1z"/><path fill="#97ff68" d="M534 110l5 -3l-5 -2l-5 3zM542 110l6 -3l-5 -2l-5 2zM551 110l5 -2l-5 -3l-5 2z"/><path fill="#0000d7" d="M444 166l4 -11l-4 -1l-5 11z"/><path fill="#0028ff" d="M452 157l5 -10l-5 -1l-5 10z"/><path fill="#0068ff" d="M461 149l5 -9l-5 -2l-5 10z"/><path fill="#0097ff" d="M469 142l5 -9l-5 -1l-4 9z"/><path fill="#00d7ff" d="M478 136l5 -8l-5 -2l-5 8z"/><path fill="#00f7ff" d="M624 125l5 4l-5 0l-5 -4z"/><path fill="#08fff7" d="M487 130l5 -7l-5 -2l-5 8z"/><path fill="#18ffe7" d="M616 122l5 4l-5 -1l-5 -3z"/><path fill="#28ffd7" d="M495 125l5 -6l-5 -2l-5 7z"/><path fill="#38ffc7" d="M607 119l5 3l-5 0l-5 -3z"/><path fill="#48ffb7" d="M504 121l5 -5l-5 -2l-5 6zM598 116l5 3l-4 0l-6 -3z"/><path fill="#68ff97" d="M512 118l5 -5l-5 -2l-5 5zM590 114l5 2l-5 0l-5 -2z"/><path fill="#78ff87" d="M521 115l5 -4l-5 -2l-5 4zM581 113l5 1l-5 -2l-5 0z"/><path fill="#87ff78" d="M530 113l5 -3l-5 -3l-5 4zM564 111l5 -1l-5 -2l-5 1zM573 112l5 0l-5 -2l-5 0z"/><path fill="#97ff68" d="M538 112l5 -3l-5 -2l-5 3zM547 111l5 -2l-5 -2l-5 2zM555 111l5 -2l-5 -2l-5 2z"/><path fill="#0000d7" d="M448 167l5 -11l-5 -1l-5 11z"/><path fill="#0028ff" d="M456 158l5 -10l-4 -1l-5 10z"/><path fill="#0068ff" d="M465 150l5 -9l-5 -1l-5 9z"/><path fill="#00a7ff" d="M474 143l5 -8l-5 -2l-5 9z"/><path fill="#00d7ff" d="M482 137l5 -8l-5 -1l-5 7z"/><path fill="#08fff7" d="M491 131l5 -7l-5 -1l-5 7z"/><path fill="#28ffd7" d="M499 126l5 -6l-4 -1l-5 6zM620 122l5 4l-5 0l-5 -4z"/><path fill="#38ffc7" d="M611 119l5 4l-5 0l-5 -4z"/><path fill="#48ffb7" d="M508 122l5 -5l-5 -2l-5 6z"/><path fill="#58ffa7" d="M603 117l5 3l-5 0l-5 -3z"/><path fill="#68ff97" d="M517 119l5 -5l-5 -2l-5 5zM594 114l5 3l-5 0l-5 -3z"/><path fill="#78ff87" d="M525 116l5 -4l-5 -2l-5 5zM585 113l5 2l-4 -1l-6 -1z"/><path fill="#87ff78" d="M534 114l5 -3l-5 -2l-5 4zM577 113l5 0l-5 -2l-5 0z"/><path fill="#97ff68" d="M542 113l5 -3l-4 -2l-6 3zM551 112l5 -2l-5 -2l-5 2zM560 112l5 -1l-5 -2l-5 1zM568 112l5 -1l-5 -1l-5 0z"/><path fill="#0000e7" d="M452 167l5 -10l-5 -1l-5 11z"/><path fill="#0028ff" d="M461 158l5 -9l-5 -1l-5 10z"/><path fill="#0068ff" d="M469 151l5 -9l-5 -1l-5 9z"/><path fill="#00a7ff" d="M478 144l5 -8l-5 -2l-5 9z"/><path fill="#00d7ff" d="M486 137l5 -7l-4 -1l-5 7z"/><path fill="#08fff7" d="M495 132l5 -7l-5 -1l-5 7z"/><path fill="#38ffc7" d="M504 127l5 -6l-5 -1l-5 6z"/><path fill="#48ffb7" d="M615 119l5 4l-4 0l-5 -3z"/><path fill="#58ffa7" d="M512 123l5 -5l-5 -2l-5 6zM607 117l5 3l-5 0l-5 -3z"/><path fill="#68ff97" d="M521 120l5 -5l-5 -1l-5 4z"/><path fill="#78ff87" d="M598 115l5 2l-5 1l-5 -3z"/><path fill="#87ff78" d="M529 117l6 -4l-5 -1l-5 4zM538 115l5 -3l-5 -2l-5 4zM581 112l5 2l-4 -1l-6 -1zM590 113l5 2l-5 0l-5 -2z"/><path fill="#97ff68" d="M547 113l5 -2l-5 -1l-5 2zM555 113l5 -2l-5 -2l-5 2zM564 112l5 -1l-5 -1l-5 1zM572 113l6 -1l-5 -1l-5 0z"/><path fill="#0000f7" d="M456 167l5 -10l-5 0l-4 10z"/><path fill="#0038ff" d="M465 159l5 -10l-5 0l-5 9z"/><path fill="#0078ff" d="M474 151l4 -9l-4 0l-5 8z"/><path fill="#00b7ff" d="M482 144l5 -8l-5 -1l-5 8z"/><path fill="#00e7ff" d="M491 138l5 -7l-5 -1l-5 7z"/><path fill="#18ffe7" d="M499 132l5 -6l-5 -1l-5 6z"/><path fill="#38ffc7" d="M508 127l5 -5l-5 -1l-5 6z"/><path fill="#58ffa7" d="M517 123l5 -4l-5 -2l-5 5z"/><path fill="#68ff97" d="M611 116l5 4l-5 0l-5 -3z"/><path fill="#78ff87" d="M525 120l5 -4l-5 -1l-5 4zM603 115l5 3l-5 0l-5 -3z"/><path fill="#87ff78" d="M534 117l5 -3l-5 -1l-5 3zM594 113l5 3l-5 0l-5 -2z"/><path fill="#97ff68" d="M542 115l5 -2l-5 -2l-5 3zM585 112l5 2l-4 0l-6 -2z"/><path fill="#a7ff58" d="M551 114l5 -2l-5 -1l-5 2zM559 113l6 -1l-5 -2l-5 2zM568 113l5 -1l-5 -1l-5 1zM577 111l5 2l-4 -1l-6 0z"/><path fill="#0000f7" d="M461 167l4 -10l-4 0l-5 10z"/><path fill="#0048ff" d="M469 158l5 -8l-5 -1l-5 9z"/><path fill="#0087ff" d="M478 151l5 -8l-5 -1l-5 9z"/><path fill="#00b7ff" d="M486 144l5 -8l-4 0l-5 8z"/><path fill="#00f7ff" d="M495 138l5 -7l-5 -1l-5 7z"/><path fill="#18ffe7" d="M504 132l5 -6l-5 0l-5 6z"/><path fill="#48ffb7" d="M512 127l5 -5l-5 0l-5 5z"/><path fill="#68ff97" d="M521 123l5 -4l-5 -1l-5 5z"/><path fill="#78ff87" d="M529 120l5 -4l-4 -1l-6 4z"/><path fill="#87ff78" d="M607 114l5 3l-5 1l-5 -3z"/><path fill="#97ff68" d="M538 117l5 -3l-5 -1l-5 4zM598 113l5 2l-5 1l-5 -2z"/><path fill="#a7ff58" d="M547 115l5 -2l-5 -1l-5 3zM555 114l5 -2l-5 -1l-5 2zM581 111l5 2l-5 0l-5 -1zM590 112l5 2l-5 0l-5 -1z"/><path fill="#b7ff48" d="M564 113l5 -1l-5 -1l-5 1zM572 111l5 1l-4 -1l-6 1z"/><path fill="#0008ff" d="M465 166l5 -9l-5 0l-5 10z"/><path fill="#0058ff" d="M473 158l5 -8l-4 -1l-5 9z"/><path fill="#0097ff" d="M482 150l5 -7l-5 -1l-5 8z"/><path fill="#00c7ff" d="M491 143l5 -7l-5 0l-5 7z"/><path fill="#00f7ff" d="M499 137l5 -6l-5 0l-5 6z"/><path fill="#28ffd7" d="M508 132l5 -6l-5 0l-5 6z"/><path fill="#58ffa7" d="M516 127l5 -5l-4 0l-5 5z"/><path fill="#78ff87" d="M525 123l5 -4l-5 0l-5 4z"/><path fill="#87ff78" d="M534 120l5 -4l-5 0l-5 4z"/><path fill="#a7ff58" d="M542 117l5 -3l-5 0l-5 3zM551 115l5 -2l-5 -1l-5 3zM602 112l5 3l-4 1l-5 -3z"/><path fill="#b7ff48" d="M559 114l6 -2l-5 -1l-5 2zM585 111l5 2l-5 0l-5 -1zM594 111l5 3l-5 0l-5 -2z"/><path fill="#c7ff38" d="M568 111l5 1l-5 -1l-5 1zM577 111l5 1l-5 1l-5 -1z"/><path fill="#0018ff" d="M469 166l5 -9l-5 0l-5 9z"/><path fill="#0068ff" d="M478 157l5 -8l-5 0l-5 9z"/><path fill="#00a7ff" d="M486 150l5 -8l-5 0l-4 8z"/><path fill="#00d7ff" d="M495 143l5 -7l-5 0l-5 7z"/><path fill="#08fff7" d="M504 137l4 -6l-4 0l-5 6z"/><path fill="#38ffc7" d="M512 131l5 -5l-5 0l-5 6z"/><path fill="#68ff97" d="M521 127l5 -5l-5 0l-5 5z"/><path fill="#87ff78" d="M529 123l5 -4l-5 0l-5 4z"/><path fill="#97ff68" d="M538 119l5 -3l-5 0l-5 3z"/><path fill="#b7ff48" d="M546 117l6 -3l-5 0l-5 3z"/><path fill="#c7ff38" d="M555 115l5 -2l-5 -1l-5 2zM563 112l6 0l-5 0l-5 1zM598 110l5 3l-5 1l-5 -2z"/><path fill="#d7ff28" d="M572 111l5 0l-4 1l-6 0zM581 110l5 1l-5 2l-5 -2zM589 110l6 2l-5 1l-5 -2z"/><path fill="#0038ff" d="M473 165l5 -9l-5 1l-4 8z"/><path fill="#0078ff" d="M482 156l5 -7l-5 0l-5 8z"/><path fill="#00b7ff" d="M491 149l4 -7l-4 0l-5 7z"/><path fill="#00f7ff" d="M499 142l5 -6l-5 0l-5 7z"/><path fill="#28ffd7" d="M508 136l5 -6l-5 0l-5 6z"/><path fill="#48ffb7" d="M516 130l5 -4l-5 0l-4 5z"/><path fill="#78ff87" d="M525 126l5 -4l-5 0l-5 4z"/><path fill="#97ff68" d="M534 122l5 -4l-5 0l-5 4z"/><path fill="#a7ff58" d="M542 119l5 -3l-5 0l-5 3z"/><path fill="#c7ff38" d="M551 116l5 -2l-5 0l-5 2z"/><path fill="#d7ff28" d="M559 113l5 -1l-4 0l-6 2zM568 111l5 0l-5 2l-5 -1z"/><path fill="#e7ff18" d="M577 110l5 1l-5 1l-5 -1zM585 109l5 2l-5 1l-5 -1zM594 109l5 2l-5 2l-5 -2z"/><path fill="#0048ff" d="M478 163l4 -8l-4 1l-5 8z"/><path fill="#0097ff" d="M486 155l5 -7l-5 0l-5 8z"/><path fill="#00c7ff" d="M495 147l5 -6l-5 0l-5 7z"/><path fill="#08fff7" d="M503 141l5 -6l-4 0l-5 7z"/><path fill="#38ffc7" d="M512 135l5 -6l-5 1l-5 6z"/><path fill="#68ff97" d="M521 129l5 -4l-5 0l-5 5z"/><path fill="#87ff78" d="M529 125l5 -4l-5 0l-5 4z"/><path fill="#a7ff58" d="M538 121l5 -3l-5 0l-5 3z"/><path fill="#c7ff38" d="M546 117l5 -2l-4 0l-5 3z"/><path fill="#d7ff28" d="M554 114l6 -1l-5 0l-5 2z"/><path fill="#e7ff18" d="M564 111l5 0l-5 2l-5 0z"/><path fill="#f7ff08" d="M572 109l5 1l-5 2l-5 -1zM581 108l5 2l-5 1l-5 -1zM589 108l5 2l-4 1l-6 -1z"/><path fill="#0068ff" d="M482 162l5 -8l-5 1l-5 8z"/><path fill="#00a7ff" d="M490 153l5 -7l-4 1l-5 8z"/><path fill="#00e7ff" d="M499 146l5 -6l-5 0l-5 7z"/><path fill="#18ffe7" d="M508 139l5 -5l-5 0l-5 6z"/><path fill="#48ffb7" d="M516 133l5 -5l-5 1l-5 5z"/><path fill="#78ff87" d="M525 128l5 -4l-5 0l-5 5z"/><path fill="#a7ff58" d="M533 123l5 -3l-4 0l-5 4z"/><path fill="#c7ff38" d="M542 119l5 -3l-5 1l-5 3z"/><path fill="#d7ff28" d="M550 116l6 -2l-5 0l-5 3z"/><path fill="#e7ff18" d="M559 112l5 0l-4 2l-6 0z"/><path fill="#fff700" d="M568 110l5 0l-5 2l-5 0zM576 108l6 1l-5 2l-5 -1z"/><path fill="#ffe700" d="M585 107l5 1l-5 2l-5 -1z"/><path fill="#0087ff" d="M486 160l5 -8l-5 2l-5 7z"/><path fill="#00c7ff" d="M495 151l5 -6l-5 1l-5 7z"/><path fill="#08fff7" d="M503 144l5 -6l-5 1l-4 7z"/><path fill="#38ffc7" d="M512 137l5 -5l-5 1l-5 6z"/><path fill="#68ff97" d="M521 131l5 -4l-5 1l-5 5z"/><path fill="#97ff68" d="M529 126l5 -4l-5 1l-5 5z"/><path fill="#b7ff48" d="M538 122l5 -4l-5 1l-5 4z"/><path fill="#d7ff28" d="M546 117l5 -2l-4 1l-6 3z"/><path fill="#f7ff08" d="M555 113l5 -1l-5 3l-5 1z"/><path fill="#fff700" d="M564 110l5 0l-5 3l-5 0z"/><path fill="#ffe700" d="M572 108l5 1l-5 2l-5 0z"/><path fill="#ffd700" d="M581 106l5 1l-5 3l-5 -1z"/><path fill="#0097ff" d="M490 157l5 -7l-4 2l-5 7z"/><path fill="#00e7ff" d="M499 149l5 -6l-5 1l-5 7z"/><path fill="#28ffd7" d="M508 142l5 -6l-5 2l-5 6z"/><path fill="#58ffa7" d="M516 135l5 -5l-5 2l-5 5z"/><path fill="#87ff78" d="M525 129l5 -4l-5 2l-5 4z"/><path fill="#b7ff48" d="M533 124l5 -3l-4 1l-5 4z"/><path fill="#d7ff28" d="M542 119l5 -2l-5 1l-5 3z"/><path fill="#f7ff08" d="M551 114l5 -1l-5 3l-5 1z"/><path fill="#ffe700" d="M559 111l5 0l-5 2l-5 1z"/><path fill="#ffd700" d="M568 108l5 0l-5 3l-5 0z"/><path fill="#ffc700" d="M576 106l5 1l-4 2l-6 0z"/><path fill="#00c7ff" d="M495 155l5 -7l-5 2l-5 7z"/><path fill="#08fff7" d="M503 147l5 -6l-5 2l-5 6z"/><path fill="#48ffb7" d="M512 140l5 -6l-5 2l-5 6z"/><path fill="#78ff87" d="M520 133l5 -5l-4 2l-5 5z"/><path fill="#a7ff58" d="M529 127l5 -4l-5 2l-5 4z"/><path fill="#d7ff28" d="M537 122l6 -3l-5 1l-5 4z"/><path fill="#f7ff08" d="M546 116l5 -1l-4 3l-6 1z"/><path fill="#ffe700" d="M555 112l5 -1l-5 3l-5 1z"/><path fill="#ffc700" d="M563 109l5 0l-4 3l-5 0z"/><path fill="#ffb700" d="M572 106l5 0l-5 3l-5 0z"/><path fill="#00e7ff" d="M499 152l5 -6l-5 2l-5 7z"/><path fill="#28ffd7" d="M508 144l4 -6l-4 3l-5 6z"/><path fill="#68ff97" d="M516 137l5 -5l-5 2l-5 5z"/><path fill="#97ff68" d="M525 130l5 -4l-5 2l-5 5z"/><path fill="#c7ff38" d="M533 124l5 -3l-4 2l-6 4z"/><path fill="#f7ff08" d="M542 118l5 -2l-5 4l-5 1z"/><path fill="#ffe700" d="M550 113l6 -1l-5 4l-5 1z"/><path fill="#ffc700" d="M559 109l5 0l-5 3l-5 1z"/><path fill="#ffa700" d="M568 106l5 0l-5 3l-5 1z"/><path fill="#08fff7" d="M503 149l5 -6l-5 2l-5 7z"/><path fill="#48ffb7" d="M512 141l5 -5l-5 2l-5 6z"/><path fill="#87ff78" d="M520 134l5 -5l-4 3l-5 5z"/><path fill="#b7ff48" d="M529 127l5 -4l-5 3l-5 4z"/><path fill="#e7ff18" d="M537 120l6 -2l-5 4l-5 2z"/><path fill="#ffe700" d="M546 115l5 -1l-5 3l-5 2z"/><path fill="#ffc700" d="M555 110l5 0l-5 3l-5 1z"/><path fill="#ffa700" d="M563 106l5 0l-4 4l-6 0z"/><path fill="#38ffc7" d="M507 146l5 -6l-4 3l-5 6z"/><path fill="#78ff87" d="M516 138l5 -5l-5 2l-5 6z"/><path fill="#b7ff48" d="M524 130l6 -4l-5 3l-5 5z"/><path fill="#e7ff18" d="M533 123l5 -3l-4 4l-6 3z"/><path fill="#ffe700" d="M542 117l5 -2l-5 4l-5 2z"/><path fill="#ffc700" d="M550 112l5 -1l-4 4l-5 1z"/><path fill="#ff9700" d="M559 107l5 0l-5 4l-5 0z"/><path fill="#58ffa7" d="M512 142l5 -6l-5 4l-5 5z"/><path fill="#97ff68" d="M520 134l5 -5l-4 3l-5 5z"/><path fill="#d7ff28" d="M529 126l5 -3l-5 4l-5 3z"/><path fill="#fff700" d="M537 119l5 -2l-4 5l-5 2z"/><path fill="#ffc700" d="M546 113l5 -1l-5 4l-5 2z"/><path fill="#ff9700" d="M555 108l5 0l-5 4l-5 1z"/><path fill="#87ff78" d="M515 137l6 -4l-5 3l-5 6z"/><path fill="#c7ff38" d="M524 129l5 -3l-4 4l-5 4z"/><path fill="#fff700" d="M533 122l5 -3l-5 5l-5 3z"/><path fill="#ffc700" d="M542 115l5 -1l-5 4l-5 2z"/><path fill="#ff9700" d="M550 110l5 -1l-5 4l-4 1z"/><path fill="#b7ff48" d="M520 132l5 -3l-4 5l-6 4z"/><path fill="#f7ff08" d="M529 125l5 -3l-5 5l-5 3z"/><path fill="#ffc700" d="M537 118l5 -2l-4 5l-5 2z"/><path fill="#ff9700" d="M546 111l5 -1l-5 5l-5 1z"/><path fill="#e7ff18" d="M524 128l5 -3l-4 5l-5 3z"/><path fill="#ffd700" d="M533 120l5 -2l-5 5l-5 3z"/><path fill="#ff9700" d="M542 113l5 -2l-5 6l-5 2z"/><path fill="#ffd700" d="M529 123l5 -3l-5 6l-5 3z"/><path fill="#ff9700" d="M537 115l5 -2l-5 6l-4 2z"/><path fill="#ffa700" d="M533 118l5 -3l-5 6l-5 3z"/></g></g><path d="M215.4 95.8 L215.4 19.8 M318.6 96 L318.6 20 M215.4 95.8 L266.5 115.2 M266.5 115.2 L318.6 96" stroke="#707070" stroke-width=".65" fill="none"/><path d="M215.4 19.8h-2.2M215.4 38.8h-2.2M215.4 57.8h-2.2M215.4 76.8h-2.2M215.4 95.8h-2.2M215.4 95.8l-1.7 .6M266.5 115.2l1.7 .6M228.2 100.7l-1.7 .6M279.5 110.4l1.7 .6M240.9 105.5l-1.7 .6M292.6 105.6l1.7 .6M253.7 110.3l-1.7 .6M305.6 100.8l1.7 .6M266.5 115.2l-1.7 .6M318.6 96l1.7 .6" stroke="#777" stroke-width=".6"/><g class="tk"><text x="211.9" y="21.1" text-anchor="end">0.08</text><text x="211.9" y="40.1" text-anchor="end">0.078</text><text x="211.9" y="59.1" text-anchor="end">0.076</text><text x="211.9" y="78.1" text-anchor="end">0.074</text><text x="211.9" y="97.1" text-anchor="end">0.072</text></g><g class="tk"><text x="211.5" y="104" text-anchor="end">200</text><text x="224.3" y="108.9" text-anchor="end">150</text><text x="237" y="113.7" text-anchor="end">100</text><text x="249.8" y="118.5" text-anchor="end">50</text><text x="262.6" y="123.4" text-anchor="end">0</text><text x="270.7" y="122.9">400</text><text x="283.7" y="118.1">450</text><text x="296.8" y="113.3">500</text><text x="309.8" y="108.5">550</text><text x="322.8" y="103.7">600</text></g><text class="zt" transform="translate(183.6 66.6) rotate(-90)" text-anchor="middle">Average friction</text><text class="zt" transform="translate(193.5 67.3) rotate(-90)" text-anchor="middle">coefficient</text><g transform="translate(232.9 119) rotate(11.5)"><text class="at" y="2.8" text-anchor="middle"><tspan font-style="italic">C</tspan>/μm</text></g><g transform="translate(306.1 117.8) rotate(-27)"><text class="at" y="2.8" text-anchor="middle"><tspan font-style="italic">A</tspan>/μm</text></g><text class="pp" x="200.7" y="145.3">(</text><text class="cp" x="208.6" y="148">b</text><text class="pp" x="218.2" y="145.3">)</text><text class="cp" x="232.5" y="148" font-style="italic">A-C</text><text class="cp" x="260.4" y="148">response</text><text class="cp" x="204.6" y="174">surface diagram</text><path d="M391.7 95.9 L443.6 76.6 M443.6 76.6 L495.4 95.6 M443.6 76.6 L443.6 .6 M391.7 19.9 L443.6 .6 M443.6 .6 L495.4 19.6" stroke="#707070" stroke-width=".65" fill="none"/><g fill="none" stroke-width="0.6"><polyline stroke="#0006ff" points="445.5,114.2 444.8,113.8 444.4,113.6 443.7,113.2 443,112.8 442.7,112.7 441.9,112.3 441.2,111.9 440.4,111.6 439.6,111.2 439.2,111.1 438.4,110.7 437.6,110.4 436.8,110.1 435.9,109.7 435.1,109.4 434.2,109.1 433.3,108.8 432.4,108.5 431.4,108.2 430.9,108.1 430,107.8 429,107.5 428,107.3 427.5,107.1 426.5,106.9 425.4,106.6 424.9,106.5 423.8,106.3 423,106.1 422.2,105.9 421.1,105.7 420.5,105.6 419.3,105.4 418.8,105.3 417.7,105.1 417,105 416.1,104.9 416.1,104.9"/><polyline stroke="#0082ff" points="448.8,112.9 448.2,112.5 447.8,112.3 447.2,111.9 446.5,111.6 446.1,111.4 445.4,111 444.7,110.6 444.3,110.4 443.6,110.1 442.9,109.7 442.1,109.4 441.3,109 440.9,108.8 440.1,108.5 439.3,108.2 438.5,107.8 437.6,107.5 436.7,107.2 435.8,106.9 434.9,106.6 434.4,106.5 433.5,106.2 432.5,105.9 431.5,105.7 431,105.5 430,105.3 428.9,105 428.4,104.9 427.3,104.7 426.4,104.5 425.6,104.3 424.6,104.1 423.9,104 422.9,103.8 422.2,103.7 421.3,103.6 420.3,103.4 419.7,103.3 418.5,103.2 417.9,103.1 417.1,103 415.9,102.8 415.3,102.8 414.5,102.7 413.3,102.5 412.6,102.5 412,102.4 410.9,102.3 409.9,102.2 409.2,102.1 408.6,102.1"/><polyline stroke="#00feff" points="452.5,111.5 452.2,111.3 451.6,110.9 451.3,110.7 450.7,110.3 450.3,110 449.8,109.7 449.1,109.3 448.8,109.1 448.1,108.7 447.4,108.4 447.1,108.2 446.3,107.8 445.6,107.4 445.2,107.2 444.5,106.9 443.7,106.5 442.9,106.2 442.1,105.9 441.2,105.5 440.4,105.2 439.5,104.9 438.6,104.6 437.6,104.3 436.7,104 436.2,103.9 435.2,103.6 434.2,103.4 433.4,103.2 432.6,103 431.5,102.8 430.9,102.7 429.8,102.5 429.2,102.4 428,102.2 427.4,102.1 426.3,101.9 425.6,101.8 424.9,101.7 423.7,101.5 423.1,101.4 422.2,101.3 421.1,101.2 420.5,101.1 419.7,101.1 418.5,100.9 417.8,100.9 417.1,100.8 416.2,100.7 415.1,100.7 414.3,100.6 413.5,100.5 412.8,100.5 411.9,100.4 410.8,100.4 409.9,100.3 409.1,100.3 408.4,100.2 407.6,100.2 406.7,100.1 405.7,100.1 404.7,100 403.8,100 403,100 402.8,100"/><polyline stroke="#7bff84" points="456.8,110 456.5,109.7 456,109.3 455.7,109.1 455.3,108.7 455,108.4 454.6,108.1 454.1,107.8 453.8,107.5 453.3,107.1 452.9,106.8 452.4,106.5 451.9,106.2 451.5,105.9 450.8,105.5 450.5,105.3 449.8,104.9 449.1,104.5 448.8,104.3 448.1,104 447.3,103.6 446.5,103.3 446.1,103.1 445.3,102.8 444.4,102.4 443.6,102.1 443,101.9 442.2,101.7 441.2,101.4 440.2,101.1 439.5,101 438.6,100.8 437.5,100.5 437,100.4 435.8,100.2 435.2,100.1 434,99.9 433.4,99.8 432.6,99.7 431.5,99.6 430.9,99.5 430,99.4 428.9,99.3 428.2,99.2 427.5,99.2 426.4,99.1 425.4,99 424.7,98.9 424,98.9 423.2,98.8 422.1,98.8 421.1,98.7 420.3,98.7 419.6,98.6 418.8,98.6 418,98.5 417.1,98.5 416.1,98.5 415.2,98.4 414.2,98.4 413.3,98.4 412.5,98.4 411.7,98.3 410.9,98.3 410.1,98.3 409.3,98.3 408.5,98.3 407.6,98.3 406.8,98.3 405.9,98.2 405,98.2 404.1,98.2 403.2,98.2 402.3,98.2 401.5,98.2 400.6,98.2 399.7,98.2 398.8,98.2 398,98.2 398,98.2"/><polyline stroke="#7bff84" points="451.8,79.6 452,79.8 452.4,80.2 452.8,80.5 453.1,80.7 453.6,81.2 453.9,81.4 454.5,81.8 454.8,82 455.3,82.4 455.6,82.6 456.2,83.1 456.5,83.3 457.2,83.7 457.7,84 458.1,84.3 458.8,84.7 459.3,84.9 459.9,85.2 460.6,85.6 461.4,85.9 462,86.2 462.5,86.5 463.4,86.8 464.2,87.1 465.1,87.4 466,87.7 466.5,87.9 467.5,88.1 468.5,88.4 469.5,88.7 470,88.8 471.1,89 471.7,89.1 472.8,89.3 473.4,89.4 474.6,89.6 475.2,89.7 476.4,89.9 477,90 477.7,90.1 479,90.2 479.6,90.3 480.3,90.4 481.5,90.5 481.5,90.5"/><polyline stroke="#f7ff08" points="461.9,108 461.8,107.8 461.5,107.5 461.2,107 461.1,106.8 460.9,106.5 460.6,106.2 460.3,105.8 460.2,105.5 460,105.3 459.7,104.9 459.4,104.5 459.2,104.3 459,104 458.7,103.5 458.5,103.3 458.3,103 458,102.6 457.7,102.3 457.5,102 457.3,101.7 456.9,101.3 456.7,101.1 456.4,100.8 456,100.4 455.8,100.1 455.4,99.8 455.1,99.4 454.8,99.2 454.3,98.8 454,98.6 453.4,98.2 453,98 452.3,97.6 451.6,97.2 450.7,96.9 449.7,96.7 449.1,96.5 448,96.3 447.4,96.2 446.3,96.1 445.3,96 444.6,96 443.9,95.9 443.1,95.9 442.1,95.9 441.2,95.8 440.3,95.8 439.3,95.8 438.4,95.8 437.5,95.8 436.7,95.8 435.8,95.8 434.9,95.8 434.1,95.8 433.2,95.8 432.3,95.8 431.5,95.8 430.6,95.8 429.8,95.8 428.9,95.8 428.1,95.8 427.2,95.8 426.4,95.8 425.6,95.9 424.7,95.9 423.9,95.9 423.1,95.9 422.2,95.9 421.4,95.9 420.6,96 419.8,96 418.9,96 418,96 417.1,96 416.2,96 415.3,96.1 414.4,96.1 413.4,96.1 412.5,96.1 411.6,96.1 410.7,96.2 409.9,96.2 409.1,96.2 408.3,96.2 407.5,96.3 406.7,96.3 405.8,96.3 405,96.3 404.2,96.3 403.3,96.4 402.4,96.4 401.5,96.4 400.5,96.4 399.6,96.5 398.7,96.5 397.8,96.5 396.9,96.5 396.1,96.6 395.3,96.6 394.5,96.6 393.7,96.6 393.7,96.6"/><polyline stroke="#f7ff08" points="443.2,76.7 443.4,77 443.6,77.2 443.9,77.7 444.1,78 444.3,78.3 444.5,78.5 444.7,78.9 445,79.3 445.2,79.5 445.3,79.8 445.6,80.2 445.9,80.5 446,80.8 446.2,81.1 446.5,81.5 446.8,81.8 446.9,82.1 447.2,82.4 447.5,82.8 447.7,83.1 447.8,83.3 448.1,83.7 448.4,84.1 448.6,84.3 448.8,84.6 449.1,85 449.3,85.3 449.5,85.6 449.8,85.9 450.1,86.3 450.3,86.6 450.5,86.8 450.8,87.2 451.1,87.5 451.3,87.8 451.6,88.2 451.9,88.5 452.1,88.7 452.5,89.1 452.8,89.4 453.1,89.7 453.5,90.1 453.8,90.3 454.3,90.8 454.6,91 455.2,91.4 455.6,91.6 456.3,92 457.1,92.3 458,92.6 459,92.9 459.7,93 460.7,93.2 461.3,93.3 462.5,93.4 463.3,93.5 464,93.6 464.8,93.6 465.7,93.6 466.7,93.7 467.6,93.7 468.6,93.7 469.5,93.8 470.3,93.8 471.1,93.8 471.9,93.8 472.8,93.8 473.6,93.8 474.5,93.8 475.3,93.8 476.2,93.8 477,93.8 477.9,93.8 478.8,93.8 479.6,93.8 480.5,93.8 481.4,93.8 482.3,93.8 483.1,93.8 484,93.8 484.9,93.8 485.8,93.8 486.7,93.8 487.5,93.7 488.4,93.7 489.3,93.7 490.2,93.7 490.3,93.7"/><polyline stroke="#ff8b00" points="438.4,78.5 438.5,78.8 438.6,79.1 438.7,79.4 438.8,79.7 438.9,80 439,80.3 439,80.7 439.1,81 439.2,81.4 439.2,81.7 439.3,82 439.3,82.3 439.3,82.6 439.4,83 439.4,83.3 439.4,83.6 439.4,83.9 439.3,84.2 439.3,84.6 439.2,84.9 439.2,85.2 439.1,85.5 439,85.8 438.9,86.1 438.7,86.4 438.5,86.8 438.3,87.1 438.1,87.4 437.9,87.7 437.5,88.1 437.2,88.3 436.7,88.7 436.3,89 435.7,89.4 435.2,89.6 434.6,89.9 433.8,90.2 432.9,90.6 431.9,90.9 431.5,91 430.4,91.3 429.4,91.5 428.8,91.6 427.7,91.9 427.1,92 425.9,92.2 425.3,92.3 424.1,92.5 423.5,92.5 422.7,92.6 421.6,92.8 420.9,92.9 420.2,93 418.9,93.1 418.3,93.2 417.6,93.3 416.5,93.4 415.5,93.5 414.8,93.5 414.1,93.6 413.1,93.7 412,93.8 411.3,93.8 410.6,93.9 409.8,93.9 408.7,94 407.7,94.1 407,94.2 406.3,94.2 405.5,94.3 404.5,94.3 403.4,94.4 402.6,94.5 401.9,94.5 401.1,94.6 400.3,94.6 399.3,94.7 398.3,94.7 397.4,94.8 396.6,94.8 395.9,94.9 395.1,94.9 394.2,95 394.2,95"/><polyline stroke="#ff8b00" points="469.1,105.4 469.2,105 469.2,104.7 469.3,104.3 469.4,104 469.5,103.7 469.6,103.4 469.8,103.1 469.9,102.8 470.2,102.4 470.5,102.1 470.7,101.9 471.1,101.4 471.4,101.2 471.9,100.8 472.3,100.6 473,100.2 473.4,99.9 474.1,99.6 475,99.3 475.9,99 476.5,98.8 477.3,98.6 478.4,98.3 479.2,98.1 480,97.9 481,97.8 481.8,97.6 482.6,97.5 483.6,97.3 484.2,97.3 485.4,97.1 486.2,97 486.8,96.9 487.9,96.8 488.8,96.7 489.5,96.6 490.3,96.6 491.4,96.4 492.3,96.4 493,96.3 493.6,96.3"/><polyline stroke="#ff0f00" points="432.3,80.8 432.2,81.2 432.1,81.5 431.9,81.9 431.8,82.2 431.7,82.5 431.6,82.7 431.4,83.1 431.1,83.5 430.9,83.8 430.7,84 430.5,84.4 430.1,84.7 429.9,85 429.4,85.4 429.1,85.7 428.7,86 428.2,86.3 427.6,86.7 427.2,86.9 426.5,87.3 425.8,87.6 425,88 424.4,88.2 423.7,88.5 423.3,88.6 422.3,88.9 421.4,89.2 420.4,89.5 419.4,89.7 418.8,89.9 417.8,90.1 417.2,90.2 416.1,90.5 415.3,90.6 414.4,90.8 413.7,90.9 412.6,91.1 412,91.2 410.8,91.4 410.1,91.5 409.2,91.6 408.3,91.8 407.6,91.8 406.5,92 405.7,92.1 405,92.2 404,92.3 403,92.4 402.4,92.5 401.5,92.6 400.4,92.7 400.3,92.7"/><polyline stroke="#920000" points="420.8,85.1 420.3,85.3 419.6,85.7 418.8,86 418,86.4 417.2,86.7 416.3,87 415.4,87.4 414.5,87.7 413.6,87.9 412.6,88.2 411.9,88.4 411.9,88.4"/></g><g filter="url(#bl)"><g transform="scale(.5)"><path fill="#f7ff08" d="M887 61l5 3l-5 -6l-5 -2z"/><path fill="#d7ff28" d="M892 65l4 3l-4 -5l-5 -3z"/><path fill="#ffc700" d="M883 59l5 2l-5 -6l-5 -2z"/><path fill="#b7ff48" d="M896 69l5 2l-5 -4l-5 -3z"/><path fill="#fff700" d="M887 63l5 2l-5 -5l-5 -3z"/><path fill="#ff9700" d="M879 56l4 2l-4 -5l-5 -2z"/><path fill="#97ff68" d="M900 73l5 2l-5 -5l-5 -2z"/><path fill="#e7ff18" d="M891 67l5 2l-4 -5l-5 -2z"/><path fill="#ffb700" d="M883 61l5 1l-5 -5l-5 -2z"/><path fill="#ff6800" d="M874 55l5 1l-5 -5l-5 -2z"/><path fill="#87ff78" d="M904 76l5 2l-5 -4l-4 -3z"/><path fill="#d7ff28" d="M896 70l5 2l-5 -4l-5 -2z"/><path fill="#ffd700" d="M887 65l5 1l-5 -5l-5 -1z"/><path fill="#ff9700" d="M879 59l4 1l-4 -5l-5 -1z"/><path fill="#ff4800" d="M870 53l5 1l-5 -5l-5 -1z"/><path fill="#78ff87" d="M909 79l5 2l-5 -4l-5 -2z"/><path fill="#b7ff48" d="M900 74l5 1l-5 -4l-5 -2z"/><path fill="#fff700" d="M891 69l5 1l-4 -5l-5 -1z"/><path fill="#ffb700" d="M883 63l5 1l-5 -5l-5 -1z"/><path fill="#ff6800" d="M874 58l5 1l-5 -6l-5 -1z"/><path fill="#ff1800" d="M866 52l4 1l-4 -6l-5 -1z"/><path fill="#68ff97" d="M913 82l5 2l-5 -4l-5 -2z"/><path fill="#a7ff58" d="M904 77l5 2l-5 -5l-4 -1z"/><path fill="#e7ff18" d="M896 72l5 1l-5 -4l-5 -2z"/><path fill="#ffd700" d="M887 67l5 1l-5 -5l-5 -1z"/><path fill="#ff8700" d="M879 62l4 1l-4 -5l-5 -1z"/><path fill="#ff4800" d="M870 57l5 1l-5 -6l-5 -1z"/><path fill="#f70000" d="M861 52l5 0l-5 -6l-5 0z"/><path fill="#58ffa7" d="M917 84l5 2l-5 -3l-5 -2z"/><path fill="#97ff68" d="M909 80l5 1l-5 -4l-5 -1z"/><path fill="#d7ff28" d="M900 75l5 1l-5 -4l-5 -1z"/><path fill="#ffe700" d="M891 71l5 1l-5 -5l-4 -1z"/><path fill="#ffa700" d="M883 66l5 1l-5 -5l-5 -1z"/><path fill="#ff6800" d="M874 61l5 1l-5 -6l-5 0z"/><path fill="#ff2800" d="M866 56l4 1l-4 -6l-5 0z"/><path fill="#e70000" d="M857 52l5 -1l-5 -6l-5 0z"/><path fill="#48ffb7" d="M922 86l5 2l-5 -3l-5 -2z"/><path fill="#87ff78" d="M913 82l5 2l-5 -4l-5 -1z"/><path fill="#b7ff48" d="M904 78l5 1l-5 -4l-4 -1z"/><path fill="#f7ff08" d="M896 74l5 1l-5 -4l-5 -1z"/><path fill="#ffc700" d="M887 70l5 0l-5 -4l-5 -1z"/><path fill="#ff8700" d="M879 65l4 1l-4 -5l-5 -1z"/><path fill="#ff4800" d="M870 61l5 0l-5 -5l-5 -1z"/><path fill="#ff0800" d="M861 56l5 0l-5 -6l-5 1z"/><path fill="#c70000" d="M853 52l5 -1l-5 -6l-5 0z"/><path fill="#48ffb7" d="M926 87l5 3l-5 -2l-5 -3z"/><path fill="#78ff87" d="M917 85l5 1l-5 -3l-5 -2z"/><path fill="#b7ff48" d="M909 81l5 1l-5 -4l-5 -1z"/><path fill="#e7ff18" d="M900 77l5 1l-5 -4l-5 -1z"/><path fill="#ffe700" d="M891 73l5 1l-5 -5l-4 0z"/><path fill="#ffa700" d="M883 69l5 0l-5 -4l-5 -1z"/><path fill="#ff6800" d="M874 65l5 0l-5 -5l-5 0z"/><path fill="#ff3800" d="M866 61l4 0l-4 -6l-5 0z"/><path fill="#f70000" d="M857 57l5 -1l-5 -6l-5 1z"/><path fill="#b70000" d="M848 52l5 -1l-5 -6l-5 1z"/><path fill="#48ffb7" d="M930 89l5 3l-5 -2l-5 -3z"/><path fill="#78ff87" d="M922 87l5 1l-5 -3l-5 -1z"/><path fill="#a7ff58" d="M913 83l5 1l-5 -3l-5 -1z"/><path fill="#d7ff28" d="M904 80l5 0l-5 -3l-5 -1z"/><path fill="#fff700" d="M896 76l5 1l-5 -4l-5 -1z"/><path fill="#ffc700" d="M887 73l5 0l-5 -5l-5 0z"/><path fill="#ff8700" d="M879 69l4 0l-4 -5l-5 0z"/><path fill="#ff5800" d="M870 65l5 0l-5 -6l-5 1z"/><path fill="#ff1800" d="M861 61l5 -1l-5 -5l-5 1z"/><path fill="#e70000" d="M853 57l5 -1l-5 -6l-5 1z"/><path fill="#a70000" d="M844 53l5 -1l-5 -6l-5 1z"/><path fill="#48ffb7" d="M935 90l5 3l-5 -1l-5 -3z"/><path fill="#68ff97" d="M926 89l5 1l-5 -3l-5 -1z"/><path fill="#97ff68" d="M917 86l5 0l-5 -3l-5 -1z"/><path fill="#c7ff38" d="M909 82l5 1l-5 -4l-5 0z"/><path fill="#f7ff08" d="M900 79l5 0l-5 -3l-5 -1z"/><path fill="#ffd700" d="M891 76l5 0l-5 -4l-4 0z"/><path fill="#ffa700" d="M883 73l5 -1l-5 -4l-5 0z"/><path fill="#ff7800" d="M874 69l5 0l-5 -5l-5 0z"/><path fill="#ff4800" d="M866 66l5 -1l-5 -6l-5 1z"/><path fill="#ff1800" d="M857 62l5 -1l-5 -6l-5 1z"/><path fill="#d70000" d="M848 58l5 -1l-5 -6l-5 1z"/><path fill="#a70000" d="M840 54l5 -1l-5 -7l-5 2z"/><path fill="#48ffb7" d="M939 91l5 3l-5 -1l-5 -2z"/><path fill="#68ff97" d="M930 90l5 1l-4 -1l-6 -2z"/><path fill="#97ff68" d="M922 87l5 1l-5 -3l-5 0z"/><path fill="#b7ff48" d="M913 85l5 0l-5 -3l-5 -1z"/><path fill="#e7ff18" d="M904 82l5 0l-5 -4l-5 0z"/><path fill="#ffe700" d="M896 79l5 0l-5 -4l-5 0z"/><path fill="#ffc700" d="M887 76l5 -1l-5 -4l-5 1z"/><path fill="#ff9700" d="M878 73l5 -1l-4 -4l-5 0z"/><path fill="#ff6800" d="M870 70l5 -1l-5 -5l-5 1z"/><path fill="#ff3800" d="M861 66l5 -1l-5 -5l-5 1z"/><path fill="#ff0800" d="M853 63l5 -1l-5 -6l-5 1z"/><path fill="#d70000" d="M844 60l5 -2l-5 -6l-5 1z"/><path fill="#a70000" d="M835 56l5 -2l-5 -6l-5 2z"/><path fill="#48ffb7" d="M943 92l5 3l-5 -1l-5 -2z"/><path fill="#78ff87" d="M935 90l5 2l-5 0l-5 -3z"/><path fill="#97ff68" d="M926 89l5 1l-5 -3l-5 0z"/><path fill="#b7ff48" d="M917 87l5 0l-5 -3l-5 0z"/><path fill="#d7ff28" d="M909 84l5 0l-5 -3l-5 0z"/><path fill="#fff700" d="M900 82l5 -1l-5 -3l-5 0z"/><path fill="#ffd700" d="M891 79l5 -1l-5 -3l-5 0z"/><path fill="#ffa700" d="M883 76l5 -1l-5 -4l-5 1z"/><path fill="#ff8700" d="M874 74l5 -2l-5 -4l-5 1z"/><path fill="#ff5800" d="M866 71l5 -2l-5 -5l-5 1z"/><path fill="#ff2800" d="M857 68l5 -2l-5 -5l-5 1z"/><path fill="#ff0800" d="M848 65l5 -2l-5 -6l-5 2z"/><path fill="#d70000" d="M840 61l5 -2l-5 -6l-5 2z"/><path fill="#a70000" d="M831 58l5 -2l-5 -7l-5 2z"/><path fill="#58ffa7" d="M948 93l5 2l-5 0l-5 -2z"/><path fill="#78ff87" d="M939 91l5 2l-5 0l-5 -2z"/><path fill="#97ff68" d="M930 90l5 1l-5 -2l-5 -1z"/><path fill="#b7ff48" d="M922 88l5 1l-5 -3l-5 0z"/><path fill="#d7ff28" d="M913 86l5 0l-5 -3l-5 0z"/><path fill="#f7ff08" d="M904 84l5 0l-5 -4l-5 1z"/><path fill="#ffe700" d="M896 82l5 -1l-5 -3l-5 0z"/><path fill="#ffc700" d="M887 80l5 -1l-5 -4l-5 0z"/><path fill="#ffa700" d="M878 77l5 -1l-4 -5l-5 2z"/><path fill="#ff7800" d="M870 75l5 -2l-5 -5l-5 2z"/><path fill="#ff5800" d="M861 72l5 -2l-5 -5l-5 2z"/><path fill="#ff2800" d="M853 69l5 -2l-5 -5l-5 2z"/><path fill="#ff0800" d="M844 66l5 -2l-5 -6l-5 2z"/><path fill="#d70000" d="M835 64l5 -3l-5 -6l-5 2z"/><path fill="#a70000" d="M827 61l5 -3l-5 -7l-5 3z"/><path fill="#68ff97" d="M952 93l5 3l-5 0l-5 -3z"/><path fill="#87ff78" d="M943 92l5 2l-5 0l-5 -2z"/><path fill="#97ff68" d="M935 92l5 0l-5 -2l-5 0z"/><path fill="#b7ff48" d="M926 90l5 0l-5 -2l-5 0z"/><path fill="#d7ff28" d="M917 88l5 0l-5 -3l-5 0z"/><path fill="#e7ff18" d="M909 86l5 0l-5 -3l-5 0z"/><path fill="#fff700" d="M900 84l5 0l-5 -4l-5 1z"/><path fill="#ffd700" d="M891 82l5 -1l-5 -3l-5 1z"/><path fill="#ffb700" d="M883 80l5 -1l-5 -4l-5 1z"/><path fill="#ff9700" d="M874 78l5 -1l-5 -5l-5 2z"/><path fill="#ff7800" d="M866 76l5 -2l-5 -5l-5 2z"/><path fill="#ff5800" d="M857 74l5 -3l-5 -5l-5 2z"/><path fill="#ff2800" d="M848 71l5 -2l-5 -6l-5 3z"/><path fill="#ff0800" d="M840 69l5 -3l-5 -6l-5 3z"/><path fill="#e70000" d="M831 66l5 -3l-5 -6l-5 3z"/><path fill="#b70000" d="M822 63l5 -3l-5 -7l-5 4z"/><path fill="#78ff87" d="M956 94l5 2l-5 0l-5 -2z"/><path fill="#87ff78" d="M948 92l5 2l-5 0l-5 -2z"/><path fill="#a7ff58" d="M939 92l5 1l-5 -1l-5 -1z"/><path fill="#b7ff48" d="M930 91l5 0l-5 -2l-5 0z"/><path fill="#c7ff38" d="M922 90l5 -1l-5 -2l-5 0z"/><path fill="#e7ff18" d="M913 88l5 0l-5 -3l-5 0z"/><path fill="#f7ff08" d="M904 87l5 -1l-5 -3l-5 1z"/><path fill="#ffe700" d="M896 85l5 -1l-5 -4l-5 2z"/><path fill="#ffc700" d="M887 83l5 -1l-5 -4l-5 2z"/><path fill="#ffa700" d="M878 82l5 -2l-5 -4l-5 1z"/><path fill="#ff9700" d="M870 80l5 -2l-5 -5l-5 2z"/><path fill="#ff7800" d="M861 78l5 -3l-5 -4l-5 2z"/><path fill="#ff5800" d="M853 76l5 -3l-5 -5l-5 2z"/><path fill="#ff3800" d="M844 74l5 -3l-5 -6l-5 3z"/><path fill="#ff1800" d="M835 71l5 -3l-5 -6l-5 3z"/><path fill="#e70000" d="M827 69l5 -3l-5 -7l-5 3z"/><path fill="#c70000" d="M818 67l5 -4l-5 -7l-5 4z"/><path fill="#87ff78" d="M961 93l5 2l-5 1l-5 -2z"/><path fill="#97ff68" d="M952 93l5 1l-5 1l-5 -2z"/><path fill="#a7ff58" d="M943 92l5 1l-5 0l-5 -1z"/><path fill="#b7ff48" d="M935 92l5 0l-5 -2l-5 0z"/><path fill="#d7ff28" d="M926 91l5 0l-5 -3l-5 1z"/><path fill="#e7ff18" d="M917 90l5 -1l-5 -2l-5 0z"/><path fill="#f7ff08" d="M909 89l5 -1l-5 -3l-5 1z"/><path fill="#fff700" d="M900 87l5 -1l-5 -3l-5 1z"/><path fill="#ffd700" d="M891 86l5 -1l-5 -4l-5 2z"/><path fill="#ffc700" d="M883 85l5 -2l-5 -4l-5 2z"/><path fill="#ffa700" d="M874 83l5 -2l-5 -4l-5 2z"/><path fill="#ff9700" d="M866 82l5 -3l-5 -4l-5 2z"/><path fill="#ff7800" d="M857 80l5 -3l-5 -5l-5 3z"/><path fill="#ff5800" d="M848 78l5 -3l-5 -5l-5 3z"/><path fill="#ff4800" d="M840 76l5 -3l-5 -6l-5 3z"/><path fill="#ff2800" d="M831 74l5 -3l-5 -6l-5 3z"/><path fill="#ff0800" d="M822 72l5 -3l-5 -7l-5 4z"/><path fill="#e70000" d="M814 70l5 -4l-5 -7l-5 4z"/><path fill="#a7ff58" d="M965 93l5 2l-5 1l-5 -2z"/><path fill="#b7ff48" d="M948 92l5 1l-5 1l-5 -2zM956 93l5 1l-5 1l-5 -2z"/><path fill="#c7ff38" d="M939 93l5 -1l-5 -1l-5 0z"/><path fill="#d7ff28" d="M930 92l5 -1l-5 -1l-5 0z"/><path fill="#e7ff18" d="M922 91l5 -1l-5 -2l-5 1z"/><path fill="#f7ff08" d="M913 91l5 -2l-5 -2l-5 1z"/><path fill="#fff700" d="M904 90l5 -2l-5 -3l-5 2z"/><path fill="#ffe700" d="M896 89l5 -2l-5 -3l-5 1z"/><path fill="#ffd700" d="M887 88l5 -2l-5 -4l-5 2z"/><path fill="#ffc700" d="M878 86l5 -2l-5 -4l-5 2z"/><path fill="#ffa700" d="M870 85l5 -2l-5 -5l-5 3z"/><path fill="#ff9700" d="M861 84l5 -3l-5 -5l-5 3z"/><path fill="#ff8700" d="M853 83l5 -4l-5 -5l-5 3z"/><path fill="#ff6800" d="M844 81l5 -3l-5 -6l-5 4z"/><path fill="#ff5800" d="M835 79l5 -3l-5 -6l-5 4z"/><path fill="#ff3800" d="M827 78l5 -4l-5 -6l-5 3z"/><path fill="#ff1800" d="M818 76l5 -4l-5 -7l-5 4z"/><path fill="#f70000" d="M809 74l5 -4l-5 -7l-5 4z"/><path fill="#c7ff38" d="M961 92l5 2l-5 1l-5 -2zM969 92l5 2l-5 2l-5 -2z"/><path fill="#d7ff28" d="M943 93l5 0l-5 -1l-5 0zM952 92l5 1l-5 1l-5 -1z"/><path fill="#e7ff18" d="M926 92l5 -1l-5 -1l-5 1zM935 93l5 -1l-5 -1l-5 0z"/><path fill="#f7ff08" d="M917 92l5 -1l-5 -2l-5 1z"/><path fill="#fff700" d="M900 91l5 -2l-5 -3l-5 2zM909 91l5 -1l-5 -3l-5 2z"/><path fill="#ffe700" d="M891 90l5 -2l-5 -3l-5 2z"/><path fill="#ffd700" d="M883 89l5 -2l-5 -4l-5 3z"/><path fill="#ffc700" d="M874 89l5 -3l-5 -4l-5 2z"/><path fill="#ffb700" d="M866 88l5 -3l-5 -5l-5 3z"/><path fill="#ffa700" d="M857 87l5 -4l-5 -4l-5 3z"/><path fill="#ff9700" d="M848 86l5 -4l-5 -5l-5 3z"/><path fill="#ff7800" d="M840 84l5 -3l-5 -6l-5 4z"/><path fill="#ff6800" d="M831 83l5 -4l-5 -6l-5 4z"/><path fill="#ff4800" d="M822 82l5 -5l-5 -6l-5 4z"/><path fill="#ff3800" d="M814 80l5 -5l-5 -6l-5 4z"/><path fill="#ff1800" d="M805 78l5 -4l-5 -8l-5 5z"/><path fill="#e7ff18" d="M939 93l5 -1l-5 -1l-5 1zM947 93l6 0l-5 0l-5 -1zM956 92l5 1l-5 1l-5 -1zM965 92l5 1l-5 1l-5 -1zM974 91l5 2l-5 2l-5 -2z"/><path fill="#f7ff08" d="M913 93l5 -2l-5 -2l-5 2zM922 93l5 -1l-5 -2l-5 1zM930 93l5 -1l-5 -1l-5 1z"/><path fill="#fff700" d="M896 93l5 -3l-5 -3l-5 2zM904 93l5 -2l-5 -3l-5 2z"/><path fill="#ffe700" d="M887 92l5 -2l-5 -4l-5 3z"/><path fill="#ffd700" d="M878 92l5 -3l-5 -4l-5 3z"/><path fill="#ffc700" d="M861 90l5 -3l-5 -4l-5 3zM870 91l5 -3l-5 -4l-5 3z"/><path fill="#ffb700" d="M853 90l5 -4l-5 -5l-5 4z"/><path fill="#ffa700" d="M844 89l5 -4l-5 -5l-5 4z"/><path fill="#ff9700" d="M835 88l5 -4l-5 -6l-5 4z"/><path fill="#ff8700" d="M827 87l5 -5l-5 -6l-5 5z"/><path fill="#ff6800" d="M818 86l5 -5l-5 -6l-5 4z"/><path fill="#ff5800" d="M809 84l5 -5l-5 -6l-5 5z"/><path fill="#ff4800" d="M801 83l5 -5l-5 -7l-5 5z"/><path fill="#f7ff08" d="M926 94l5 -1l-5 -2l-5 2zM935 94l5 -1l-5 -2l-5 2zM943 94l5 -1l-5 -1l-5 1zM952 92l5 1l-5 0l-5 0z"/><path fill="#fff700" d="M891 95l5 -3l-5 -3l-5 2zM900 95l5 -3l-5 -3l-5 3zM909 95l5 -3l-5 -2l-5 2zM917 94l5 -1l-5 -2l-5 1zM961 91l5 1l-5 2l-5 -1zM969 91l5 1l-5 2l-5 -2zM978 90l5 2l-5 2l-5 -2z"/><path fill="#ffe700" d="M874 94l5 -3l-5 -4l-5 3zM883 94l5 -3l-5 -3l-5 3z"/><path fill="#ffd700" d="M857 94l5 -4l-5 -5l-5 4zM865 94l6 -4l-5 -4l-6 4z"/><path fill="#ffc700" d="M848 93l5 -4l-5 -5l-5 4z"/><path fill="#ffb700" d="M840 93l5 -5l-5 -5l-5 4z"/><path fill="#ffa700" d="M822 91l5 -5l-5 -6l-5 5zM831 92l5 -5l-5 -5l-5 4z"/><path fill="#ff9700" d="M814 90l5 -5l-5 -6l-5 5z"/><path fill="#ff7800" d="M805 89l5 -5l-5 -7l-5 5z"/><path fill="#ff6800" d="M796 88l5 -5l-5 -8l-5 6z"/><path fill="#fff700" d="M870 97l5 -3l-5 -4l-5 3zM878 97l5 -3l-5 -4l-5 4zM887 97l5 -3l-5 -3l-5 3zM896 97l5 -3l-5 -3l-5 3zM904 96l5 -2l-5 -3l-5 3zM913 96l5 -2l-5 -2l-5 2zM922 95l5 -1l-5 -2l-5 2zM930 95l5 -2l-5 -1l-5 2zM939 94l5 -1l-5 -1l-5 1z"/><path fill="#ffe700" d="M844 97l5 -5l-5 -5l-5 5zM853 97l5 -4l-5 -5l-5 4zM861 97l5 -4l-5 -4l-5 4zM948 94l5 -2l-5 0l-5 1zM956 91l5 1l-5 1l-5 0zM965 91l5 1l-5 1l-5 -1z"/><path fill="#ffd700" d="M827 96l5 -5l-5 -6l-5 5zM835 97l5 -5l-5 -5l-5 4zM974 90l5 1l-5 2l-5 -1zM982 89l5 1l-5 3l-5 -2z"/><path fill="#ffc700" d="M818 96l5 -5l-5 -7l-5 5z"/><path fill="#ffb700" d="M809 95l5 -5l-5 -7l-5 5z"/><path fill="#ffa700" d="M801 94l5 -5l-5 -7l-5 5z"/><path fill="#ff9700" d="M792 94l5 -6l-5 -8l-5 6z"/><path fill="#f7ff08" d="M840 101l5 -5l-5 -5l-5 5zM848 101l5 -5l-5 -4l-5 4zM857 101l5 -4l-5 -5l-5 4zM865 101l6 -4l-5 -4l-6 4zM874 100l5 -4l-5 -3l-5 4zM883 100l5 -4l-5 -3l-5 3zM891 99l5 -3l-5 -3l-5 3zM900 99l5 -3l-5 -3l-5 3z"/><path fill="#fff700" d="M822 101l5 -5l-5 -6l-5 5zM831 101l5 -5l-5 -5l-5 5zM909 98l5 -3l-5 -2l-5 3zM917 97l5 -2l-5 -2l-5 2z"/><path fill="#ffe700" d="M805 100l5 -5l-5 -7l-5 6zM814 101l5 -6l-5 -6l-5 5zM926 96l5 -2l-5 -1l-5 2zM935 95l5 -1l-5 -1l-5 1z"/><path fill="#ffd700" d="M796 100l5 -6l-5 -7l-5 6zM943 94l5 -1l-5 -1l-5 2zM952 93l5 -1l-5 0l-5 1z"/><path fill="#ffc700" d="M788 99l5 -6l-5 -7l-5 6zM961 91l5 0l-5 2l-5 -1zM969 90l5 0l-5 2l-5 -1z"/><path fill="#ffb700" d="M978 88l5 2l-5 2l-5 -1z"/><path fill="#ffa700" d="M986 87l5 2l-5 2l-5 -1z"/><path fill="#d7ff28" d="M818 106l5 -6l-5 -6l-5 6zM827 106l5 -6l-5 -5l-5 5zM835 106l5 -6l-5 -5l-5 5zM844 105l5 -5l-5 -4l-5 4zM853 105l5 -5l-5 -4l-5 4zM861 104l5 -4l-5 -4l-5 4z"/><path fill="#e7ff18" d="M792 106l5 -7l-5 -7l-5 7zM801 106l5 -6l-5 -7l-5 6zM809 106l5 -6l-5 -6l-5 6zM870 104l5 -4l-5 -4l-5 4zM878 103l5 -4l-5 -3l-5 4zM887 102l5 -4l-5 -2l-5 3z"/><path fill="#f7ff08" d="M896 101l5 -3l-5 -3l-5 4zM904 100l5 -3l-5 -2l-5 3z"/><path fill="#fff700" d="M913 99l5 -3l-5 -1l-5 2z"/><path fill="#ffe700" d="M922 98l5 -2l-5 -2l-5 3zM930 97l5 -2l-5 -1l-5 2z"/><path fill="#ffd700" d="M939 96l5 -2l-5 -1l-5 2z"/><path fill="#ffc700" d="M948 94l5 -1l-5 -1l-5 2z"/><path fill="#ffb700" d="M956 91l5 0l-5 2l-5 0z"/><path fill="#ffa700" d="M965 90l5 0l-5 2l-5 0z"/><path fill="#ff9700" d="M974 88l5 1l-5 2l-6 -1z"/><path fill="#ff8700" d="M982 87l5 1l-5 2l-5 -1z"/><path fill="#a7ff58" d="M805 112l5 -6l-5 -7l-5 6zM814 112l5 -7l-5 -6l-5 7zM822 111l5 -6l-5 -5l-5 5z"/><path fill="#b7ff48" d="M796 112l5 -7l-5 -6l-5 6zM831 111l5 -6l-5 -5l-5 5zM840 110l5 -5l-5 -5l-5 5zM848 109l5 -5l-5 -4l-5 5z"/><path fill="#c7ff38" d="M857 109l5 -5l-5 -4l-5 4zM865 108l6 -5l-6 -4l-5 5z"/><path fill="#d7ff28" d="M874 107l5 -5l-5 -3l-5 4zM883 105l5 -4l-5 -3l-5 4z"/><path fill="#e7ff18" d="M891 104l5 -4l-5 -2l-5 4z"/><path fill="#f7ff08" d="M900 103l5 -4l-5 -2l-5 4zM909 102l5 -4l-5 -1l-5 3z"/><path fill="#fff700" d="M917 100l5 -3l-5 -1l-5 3z"/><path fill="#ffe700" d="M926 99l5 -3l-5 -1l-5 2z"/><path fill="#ffd700" d="M935 97l5 -2l-5 -1l-5 2z"/><path fill="#ffc700" d="M943 95l5 -2l-5 0l-5 2z"/><path fill="#ffb700" d="M952 94l5 -2l-5 0l-5 2z"/><path fill="#ff9700" d="M961 91l5 0l-5 1l-5 0z"/><path fill="#ff8700" d="M969 89l5 0l-5 2l-5 0z"/><path fill="#ff7800" d="M978 87l5 0l-5 3l-5 -1z"/><path fill="#78ff87" d="M801 118l5 -7l-5 -6l-5 7zM809 118l5 -7l-5 -6l-5 6zM818 117l5 -6l-5 -6l-5 6z"/><path fill="#87ff78" d="M827 116l5 -6l-5 -5l-5 6zM835 115l5 -6l-5 -5l-5 6z"/><path fill="#97ff68" d="M844 114l5 -5l-5 -5l-5 5zM853 113l5 -5l-5 -4l-5 5z"/><path fill="#a7ff58" d="M861 112l5 -5l-5 -4l-5 5z"/><path fill="#b7ff48" d="M870 111l5 -5l-5 -4l-5 5z"/><path fill="#c7ff38" d="M878 109l5 -4l-5 -3l-5 4z"/><path fill="#d7ff28" d="M887 108l5 -5l-5 -2l-5 4z"/><path fill="#e7ff18" d="M896 106l5 -4l-5 -2l-5 4z"/><path fill="#f7ff08" d="M904 104l5 -3l-5 -2l-5 3z"/><path fill="#fff700" d="M913 103l5 -4l-5 -1l-5 3z"/><path fill="#ffe700" d="M922 101l5 -3l-5 -1l-5 3z"/><path fill="#ffd700" d="M930 99l5 -3l-5 -1l-5 3z"/><path fill="#ffb700" d="M939 97l5 -2l-5 -1l-5 3z"/><path fill="#ffa700" d="M948 95l5 -2l-5 0l-5 2z"/><path fill="#ff9700" d="M956 93l5 -2l-5 0l-5 2z"/><path fill="#ff7800" d="M965 90l5 -1l-5 2l-5 0z"/><path fill="#ff6800" d="M973 87l6 0l-5 3l-6 0z"/><path fill="#38ffc7" d="M805 124l5 -7l-5 -6l-5 7z"/><path fill="#48ffb7" d="M814 123l5 -7l-5 -6l-5 7z"/><path fill="#58ffa7" d="M822 122l5 -7l-5 -5l-5 6zM831 121l5 -7l-5 -5l-5 6z"/><path fill="#68ff97" d="M840 119l5 -6l-5 -4l-5 6z"/><path fill="#78ff87" d="M848 118l5 -6l-5 -4l-5 6z"/><path fill="#87ff78" d="M857 116l5 -5l-5 -4l-5 5z"/><path fill="#97ff68" d="M865 115l5 -5l-5 -4l-5 5z"/><path fill="#a7ff58" d="M874 113l5 -5l-5 -3l-5 5z"/><path fill="#b7ff48" d="M883 111l5 -4l-5 -3l-5 5z"/><path fill="#c7ff38" d="M891 110l5 -5l-5 -2l-5 4z"/><path fill="#e7ff18" d="M900 108l5 -4l-5 -2l-5 3z"/><path fill="#f7ff08" d="M909 106l5 -4l-5 -2l-5 4z"/><path fill="#fff700" d="M917 104l5 -4l-5 -1l-5 3z"/><path fill="#ffd700" d="M926 101l5 -3l-5 -1l-5 3z"/><path fill="#ffc700" d="M935 99l5 -3l-5 0l-5 2z"/><path fill="#ffa700" d="M943 97l5 -3l-5 0l-5 3z"/><path fill="#ff8700" d="M952 94l5 -2l-5 0l-5 3z"/><path fill="#ff7800" d="M960 92l6 -2l-5 1l-5 2z"/><path fill="#ff5800" d="M969 88l5 0l-5 2l-5 0z"/><path fill="#08fff7" d="M809 129l5 -7l-5 -6l-5 7z"/><path fill="#18ffe7" d="M818 128l5 -7l-5 -6l-5 7z"/><path fill="#28ffd7" d="M827 126l5 -6l-5 -5l-5 6z"/><path fill="#38ffc7" d="M835 125l5 -6l-5 -5l-5 6z"/><path fill="#48ffb7" d="M844 123l5 -6l-5 -4l-5 6z"/><path fill="#58ffa7" d="M853 121l5 -5l-5 -4l-5 5z"/><path fill="#68ff97" d="M861 120l5 -6l-5 -4l-5 6z"/><path fill="#87ff78" d="M870 118l5 -6l-5 -3l-5 5z"/><path fill="#97ff68" d="M878 116l5 -5l-5 -3l-5 5z"/><path fill="#b7ff48" d="M887 113l5 -4l-5 -3l-5 5z"/><path fill="#c7ff38" d="M896 111l5 -4l-5 -2l-5 4z"/><path fill="#e7ff18" d="M904 109l5 -4l-5 -2l-5 4z"/><path fill="#f7ff08" d="M913 107l5 -4l-5 -2l-5 4z"/><path fill="#ffe700" d="M922 104l5 -4l-5 -1l-5 4z"/><path fill="#ffc700" d="M930 102l5 -4l-5 0l-5 3z"/><path fill="#ffa700" d="M939 99l5 -3l-5 0l-5 3z"/><path fill="#ff8700" d="M948 96l5 -2l-5 0l-5 2z"/><path fill="#ff6800" d="M956 94l5 -3l-5 1l-5 2z"/><path fill="#ff4800" d="M965 89l5 0l-5 2l-5 1z"/><path fill="#00d7ff" d="M814 134l5 -7l-5 -6l-5 8z"/><path fill="#00e7ff" d="M822 133l5 -7l-5 -6l-5 7z"/><path fill="#08fff7" d="M831 131l5 -7l-5 -5l-5 7z"/><path fill="#18ffe7" d="M840 129l5 -7l-5 -4l-5 6z"/><path fill="#28ffd7" d="M848 127l5 -6l-5 -4l-5 6z"/><path fill="#48ffb7" d="M857 125l5 -6l-5 -4l-5 6z"/><path fill="#58ffa7" d="M865 122l5 -5l-5 -4l-5 6z"/><path fill="#78ff87" d="M874 120l5 -5l-5 -3l-5 5z"/><path fill="#97ff68" d="M883 118l5 -5l-5 -3l-5 5z"/><path fill="#a7ff58" d="M891 115l5 -5l-5 -2l-5 5z"/><path fill="#c7ff38" d="M900 113l5 -5l-5 -2l-5 5z"/><path fill="#e7ff18" d="M909 110l5 -4l-5 -2l-5 4z"/><path fill="#fff700" d="M917 107l5 -4l-5 -1l-5 4z"/><path fill="#ffd700" d="M926 104l5 -3l-5 -1l-5 4z"/><path fill="#ffb700" d="M935 101l5 -3l-5 0l-5 3z"/><path fill="#ff9700" d="M943 99l5 -4l-5 0l-5 3z"/><path fill="#ff6800" d="M952 96l5 -3l-5 0l-5 3z"/><path fill="#ff4800" d="M961 92l5 -2l-5 1l-5 2z"/><path fill="#00b7ff" d="M818 139l5 -7l-5 -5l-5 7z"/><path fill="#00c7ff" d="M827 137l5 -7l-5 -5l-5 7z"/><path fill="#00e7ff" d="M835 135l5 -7l-5 -5l-5 7z"/><path fill="#00f7ff" d="M844 133l5 -7l-5 -4l-5 6z"/><path fill="#18ffe7" d="M852 130l6 -6l-5 -4l-5 6z"/><path fill="#38ffc7" d="M861 128l5 -6l-5 -4l-5 6z"/><path fill="#48ffb7" d="M870 125l5 -6l-5 -3l-5 6z"/><path fill="#68ff97" d="M878 122l5 -5l-5 -3l-5 6z"/><path fill="#87ff78" d="M887 120l5 -6l-5 -2l-5 5z"/><path fill="#a7ff58" d="M896 117l5 -5l-5 -2l-5 5z"/><path fill="#d7ff28" d="M904 114l5 -5l-5 -2l-5 5z"/><path fill="#f7ff08" d="M913 111l5 -5l-5 -1l-5 4z"/><path fill="#ffe700" d="M922 108l5 -5l-5 0l-5 4z"/><path fill="#ffc700" d="M930 104l5 -3l-5 -1l-5 4z"/><path fill="#ff9700" d="M939 101l5 -3l-5 0l-5 3z"/><path fill="#ff7800" d="M948 98l5 -3l-5 0l-5 3z"/><path fill="#ff4800" d="M956 94l5 -3l-5 1l-5 3z"/><path fill="#0087ff" d="M822 144l5 -8l-5 -5l-5 8z"/><path fill="#00a7ff" d="M831 141l5 -7l-5 -5l-5 8z"/><path fill="#00c7ff" d="M840 139l5 -7l-5 -5l-5 7z"/><path fill="#00e7ff" d="M848 136l5 -7l-5 -4l-5 7z"/><path fill="#08fff7" d="M857 133l5 -6l-5 -4l-5 7z"/><path fill="#28ffd7" d="M865 130l5 -6l-5 -3l-5 6z"/><path fill="#48ffb7" d="M874 127l5 -6l-5 -2l-5 6z"/><path fill="#68ff97" d="M883 124l5 -5l-5 -3l-5 6z"/><path fill="#87ff78" d="M891 121l5 -5l-5 -2l-5 5z"/><path fill="#b7ff48" d="M900 118l5 -5l-5 -2l-5 5z"/><path fill="#d7ff28" d="M909 115l5 -5l-5 -2l-5 5z"/><path fill="#fff700" d="M917 111l5 -4l-5 -1l-5 4z"/><path fill="#ffd700" d="M926 108l5 -5l-5 0l-5 4z"/><path fill="#ffa700" d="M935 104l5 -4l-5 0l-5 4z"/><path fill="#ff8700" d="M943 100l5 -3l-5 0l-5 4z"/><path fill="#ff5800" d="M952 97l5 -4l-5 1l-5 3z"/><path fill="#0068ff" d="M827 148l5 -8l-5 -4l-5 7z"/><path fill="#0087ff" d="M835 145l5 -7l-5 -4l-5 7z"/><path fill="#00a7ff" d="M844 142l5 -7l-5 -4l-5 7z"/><path fill="#00c7ff" d="M852 139l5 -7l-4 -3l-5 7z"/><path fill="#00f7ff" d="M861 136l5 -7l-5 -3l-5 7z"/><path fill="#18ffe7" d="M870 133l5 -7l-5 -2l-5 6z"/><path fill="#38ffc7" d="M878 129l5 -6l-5 -2l-5 6z"/><path fill="#68ff97" d="M887 126l5 -6l-5 -2l-5 6z"/><path fill="#97ff68" d="M896 122l5 -5l-5 -2l-5 6z"/><path fill="#b7ff48" d="M904 119l5 -5l-5 -2l-5 5z"/><path fill="#e7ff18" d="M913 115l5 -5l-5 -1l-5 5z"/><path fill="#ffe700" d="M922 111l5 -4l-5 -1l-5 5z"/><path fill="#ffb700" d="M930 107l5 -4l-5 0l-5 4z"/><path fill="#ff9700" d="M939 104l5 -4l-5 0l-5 4z"/><path fill="#ff6800" d="M948 100l5 -4l-5 0l-5 4z"/><path fill="#0048ff" d="M831 152l5 -8l-5 -4l-5 8z"/><path fill="#0068ff" d="M840 149l5 -8l-5 -4l-5 8z"/><path fill="#0087ff" d="M848 146l5 -8l-5 -3l-5 7z"/><path fill="#00b7ff" d="M857 142l5 -7l-5 -3l-5 7z"/><path fill="#00e7ff" d="M865 139l5 -7l-5 -3l-5 7z"/><path fill="#08fff7" d="M874 135l5 -7l-5 -2l-5 6z"/><path fill="#38ffc7" d="M883 131l5 -6l-5 -2l-5 6z"/><path fill="#68ff97" d="M891 127l5 -6l-5 -1l-5 5z"/><path fill="#97ff68" d="M900 123l5 -5l-5 -2l-5 6z"/><path fill="#c7ff38" d="M909 119l5 -5l-5 -1l-5 5z"/><path fill="#f7ff08" d="M917 115l5 -5l-5 0l-5 5z"/><path fill="#ffd700" d="M926 111l5 -5l-5 0l-5 5z"/><path fill="#ffa700" d="M935 107l5 -4l-5 0l-5 4z"/><path fill="#ff7800" d="M943 103l5 -4l-5 0l-5 4z"/><path fill="#0028ff" d="M835 156l5 -8l-5 -4l-5 8z"/><path fill="#0048ff" d="M844 152l5 -7l-5 -4l-5 7z"/><path fill="#0078ff" d="M852 149l5 -8l-5 -3l-4 7z"/><path fill="#00a7ff" d="M861 145l5 -7l-5 -3l-5 7z"/><path fill="#00d7ff" d="M870 141l5 -7l-5 -3l-5 7z"/><path fill="#08fff7" d="M878 137l5 -7l-5 -2l-5 6z"/><path fill="#38ffc7" d="M887 133l5 -7l-5 -1l-5 6z"/><path fill="#68ff97" d="M896 128l5 -6l-5 -1l-5 6z"/><path fill="#97ff68" d="M904 124l5 -6l-5 -1l-5 6z"/><path fill="#d7ff28" d="M913 120l5 -6l-5 0l-5 5z"/><path fill="#fff700" d="M922 115l5 -5l-5 0l-5 5z"/><path fill="#ffc700" d="M930 111l5 -5l-5 0l-5 5z"/><path fill="#ff8700" d="M939 106l5 -4l-5 0l-5 5z"/><path fill="#0008ff" d="M840 159l4 -8l-4 -3l-5 8z"/><path fill="#0038ff" d="M848 155l5 -7l-5 -4l-5 8z"/><path fill="#0068ff" d="M857 151l5 -7l-5 -3l-5 7z"/><path fill="#0097ff" d="M865 147l5 -7l-5 -3l-5 7z"/><path fill="#00d7ff" d="M874 143l5 -7l-5 -3l-5 7z"/><path fill="#08fff7" d="M883 138l5 -6l-5 -2l-5 6z"/><path fill="#38ffc7" d="M891 134l5 -7l-5 -1l-5 6z"/><path fill="#78ff87" d="M900 129l5 -6l-5 -1l-5 6z"/><path fill="#a7ff58" d="M909 125l5 -6l-5 -1l-5 6z"/><path fill="#e7ff18" d="M917 120l5 -6l-5 0l-5 5z"/><path fill="#ffe700" d="M926 115l5 -5l-5 0l-5 5z"/><path fill="#ffa700" d="M935 110l5 -5l-5 1l-5 5z"/><path fill="#0000f7" d="M844 163l5 -9l-5 -3l-5 8z"/><path fill="#0028ff" d="M852 158l5 -8l-5 -3l-4 8z"/><path fill="#0058ff" d="M861 154l5 -8l-5 -3l-5 8z"/><path fill="#0097ff" d="M870 149l5 -7l-5 -3l-5 8z"/><path fill="#00c7ff" d="M878 144l5 -7l-5 -2l-5 7z"/><path fill="#08fff7" d="M887 140l5 -7l-5 -2l-5 7z"/><path fill="#48ffb7" d="M896 135l5 -7l-5 -1l-5 7z"/><path fill="#87ff78" d="M904 130l5 -6l-5 -1l-5 6z"/><path fill="#b7ff48" d="M913 125l5 -6l-5 -1l-5 6z"/><path fill="#f7ff08" d="M922 120l5 -6l-5 0l-5 6z"/><path fill="#ffc700" d="M930 115l5 -6l-5 1l-5 5z"/><path fill="#0000e7" d="M848 166l5 -9l-5 -3l-5 8z"/><path fill="#0018ff" d="M857 161l5 -8l-5 -3l-5 8z"/><path fill="#0058ff" d="M865 156l5 -8l-5 -2l-5 7z"/><path fill="#0097ff" d="M874 151l5 -8l-5 -2l-5 8z"/><path fill="#00d7ff" d="M883 146l5 -7l-5 -2l-5 7z"/><path fill="#08fff7" d="M891 141l5 -7l-5 -2l-5 7z"/><path fill="#48ffb7" d="M900 136l5 -7l-5 -1l-5 6z"/><path fill="#97ff68" d="M909 130l5 -6l-5 -1l-5 7z"/><path fill="#d7ff28" d="M917 125l5 -6l-5 0l-5 6z"/><path fill="#ffe700" d="M926 119l5 -5l-5 0l-5 5z"/><path fill="#0000d7" d="M852 168l5 -8l-5 -3l-4 8z"/><path fill="#0018ff" d="M861 163l5 -8l-5 -3l-5 8z"/><path fill="#0058ff" d="M870 158l5 -8l-5 -2l-5 8z"/><path fill="#0097ff" d="M878 152l5 -7l-5 -2l-5 8z"/><path fill="#00d7ff" d="M887 147l5 -7l-5 -2l-5 8z"/><path fill="#18ffe7" d="M896 142l5 -8l-5 -1l-5 7z"/><path fill="#58ffa7" d="M904 136l5 -7l-5 0l-5 6z"/><path fill="#a7ff58" d="M913 130l5 -6l-5 -1l-5 7z"/><path fill="#e7ff18" d="M922 125l5 -7l-5 0l-5 7z"/><path fill="#0000c7" d="M857 171l5 -9l-5 -3l-5 9z"/><path fill="#0008ff" d="M865 165l5 -8l-5 -2l-4 8z"/><path fill="#0048ff" d="M874 159l5 -8l-5 -1l-5 7z"/><path fill="#0097ff" d="M883 154l5 -8l-5 -2l-5 8z"/><path fill="#00d7ff" d="M891 148l5 -8l-5 -1l-5 8z"/><path fill="#28ffd7" d="M900 142l5 -7l-5 -1l-5 7z"/><path fill="#68ff97" d="M909 136l5 -7l-5 0l-5 7z"/><path fill="#b7ff48" d="M917 130l5 -7l-5 0l-5 7z"/><path fill="#0000b7" d="M861 173l5 -9l-5 -2l-5 8z"/><path fill="#0008ff" d="M870 167l5 -9l-5 -2l-5 9z"/><path fill="#0058ff" d="M878 161l5 -8l-5 -2l-5 8z"/><path fill="#0097ff" d="M887 155l5 -8l-5 -1l-5 7z"/><path fill="#00e7ff" d="M896 149l5 -8l-5 -1l-5 8z"/><path fill="#38ffc7" d="M904 142l5 -7l-5 0l-5 7z"/><path fill="#87ff78" d="M913 136l5 -7l-5 0l-5 7z"/><path fill="#0000b7" d="M865 175l5 -9l-5 -2l-4 8z"/><path fill="#0008ff" d="M874 168l5 -8l-5 -2l-5 9z"/><path fill="#0058ff" d="M883 162l5 -8l-5 -2l-5 9z"/><path fill="#00a7ff" d="M891 155l5 -8l-5 0l-5 7z"/><path fill="#00f7ff" d="M900 149l5 -8l-5 0l-5 7z"/><path fill="#48ffb7" d="M909 142l5 -7l-5 0l-5 7z"/><path fill="#0000b7" d="M870 176l5 -9l-5 -2l-5 9z"/><path fill="#0008ff" d="M878 169l5 -8l-5 -2l-5 9z"/><path fill="#0068ff" d="M887 163l5 -9l-5 -1l-5 9z"/><path fill="#00b7ff" d="M896 156l5 -8l-5 -1l-5 8z"/><path fill="#08fff7" d="M904 149l5 -8l-5 0l-5 8z"/><path fill="#0000b7" d="M874 177l5 -9l-5 -1l-5 9z"/><path fill="#0018ff" d="M883 170l5 -8l-5 -2l-5 9z"/><path fill="#0068ff" d="M891 163l5 -8l-5 -1l-5 8z"/><path fill="#00c7ff" d="M900 156l5 -8l-5 -1l-5 9z"/><path fill="#0000c7" d="M878 178l5 -9l-5 -1l-4 9z"/><path fill="#0018ff" d="M887 171l5 -9l-5 -1l-5 9z"/><path fill="#0078ff" d="M896 163l5 -8l-5 -1l-5 9z"/><path fill="#0000c7" d="M883 179l5 -9l-5 -1l-5 9z"/><path fill="#0028ff" d="M891 171l5 -9l-5 0l-5 9z"/><path fill="#0000d7" d="M887 180l5 -10l-5 0l-5 9z"/></g></g><path d="M391.7 95.9 L391.7 19.9 M495.4 95.6 L495.4 19.6 M391.7 95.9 L443.5 114.9 M443.5 114.9 L495.4 95.6" stroke="#707070" stroke-width=".65" fill="none"/><path d="M391.7 19.9h-2.2M391.7 38.9h-2.2M391.7 57.9h-2.2M391.7 76.9h-2.2M391.7 95.9h-2.2M391.7 95.9l-1.7 .6M443.5 114.9l1.7 .6M404.6 100.7l-1.7 .6M456.5 110.1l1.7 .6M417.6 105.4l-1.7 .6M469.4 105.2l1.7 .6M430.6 110.2l-1.7 .6M482.4 100.4l1.7 .6M443.5 114.9l-1.7 .6M495.4 95.6l1.7 .6" stroke="#777" stroke-width=".6"/><g class="tk"><text x="388.2" y="21.2" text-anchor="end">0.08</text><text x="388.2" y="40.2" text-anchor="end">0.078</text><text x="388.2" y="59.2" text-anchor="end">0.076</text><text x="388.2" y="78.2" text-anchor="end">0.074</text><text x="388.2" y="97.2" text-anchor="end">0.072</text></g><g class="tk"><text x="387.8" y="104.1" text-anchor="end">250</text><text x="400.8" y="108.9" text-anchor="end">200</text><text x="413.7" y="113.6" text-anchor="end">150</text><text x="426.7" y="118.4" text-anchor="end">100</text><text x="439.6" y="123.1" text-anchor="end">50</text><text x="447.7" y="122.6">400</text><text x="460.7" y="117.8">450</text><text x="473.6" y="113">500</text><text x="486.6" y="108.1">550</text><text x="499.6" y="103.3">600</text></g><text class="zt" transform="translate(359.8 59.7) rotate(-90)" text-anchor="middle">Average friction</text><text class="zt" transform="translate(369.6 59) rotate(-90)" text-anchor="middle">coefficient</text><g transform="translate(409.2 119.1) rotate(11.5)"><text class="at" y="2.8" text-anchor="middle"><tspan font-style="italic">D</tspan>/μm</text></g><g transform="translate(482.9 117.4) rotate(-27)"><text class="at" y="2.8" text-anchor="middle"><tspan font-style="italic">A</tspan>/μm</text></g><text class="pp" x="377.6" y="145.3">(</text><text class="cp" x="385.2" y="148">c</text><text class="pp" x="393.9" y="145.3">)</text><text class="cp" x="408.1" y="148" font-style="italic">A-D</text><text class="cp" x="436.4" y="148">response</text><text class="cp" x="381.1" y="174">surface diagram</text><path d="M565.6 95.6 L613.8 76.4 M613.8 76.4 L662.8 95.3 M613.8 76.4 L613.8 .4 M565.6 19.6 L613.8 .4 M613.8 .4 L662.8 19.3" stroke="#707070" stroke-width=".65" fill="none"/><g fill="none" stroke-width="0.6"><polyline stroke="#000095" points="615,114.3 614.4,114.2 613.6,114.1 613.6,114.1"/><polyline stroke="#002dff" points="619.5,112.6 618.9,112.5 617.9,112.3 617.2,112.2 616.6,112.1 615.4,111.9 614.8,111.9 614,111.8 613,111.6 612.4,111.5 611.6,111.4 610.5,111.3 609.9,111.2 609.2,111.2 608.1,111 607.4,111 606.8,110.9 605.7,110.8 604.9,110.7 604.6,110.6"/><polyline stroke="#00c4ff" points="624.5,110.5 623.5,110.4 622.8,110.3 622.1,110.2 621.1,110 620.5,109.9 619.5,109.8 618.7,109.7 618.1,109.6 616.9,109.4 616.3,109.3 615.7,109.2 614.5,109.1 613.9,109 613.3,108.9 612.1,108.8 611.4,108.7 610.8,108.7 609.8,108.5 608.9,108.5 608.2,108.4 607.6,108.3 606.5,108.2 605.7,108.1 605,108.1 604.3,108 603.3,107.9 602.4,107.8 601.7,107.8 601,107.7 600.2,107.7 599.2,107.6 598.3,107.5 597.6,107.5 596.9,107.5 596.2,107.4 596.2,107.4"/><polyline stroke="#5cffa3" points="630.4,108.2 629.9,108.1 628.8,107.9 628.2,107.8 627.1,107.6 626.5,107.5 625.4,107.3 624.8,107.2 624,107.1 623.1,107 622.5,106.9 621.4,106.7 620.7,106.6 620.1,106.6 618.9,106.4 618.3,106.3 617.6,106.2 616.5,106.1 615.8,106 615.2,106 614.2,105.9 613.3,105.8 612.6,105.7 612,105.6 610.9,105.5 610,105.4 609.3,105.4 608.7,105.3 607.8,105.3 606.8,105.2 606,105.1 605.3,105.1 604.6,105 603.8,105 602.8,104.9 601.8,104.9 601.1,104.8 600.4,104.8 599.7,104.7 599,104.7 598.1,104.7 597.2,104.6 596.2,104.6 595.4,104.6 594.6,104.5 593.9,104.5 593.1,104.5 592.4,104.5 591.6,104.4 590.9,104.4 590,104.4 589.2,104.4 588.3,104.4 588.3,104.4"/><polyline stroke="#f3ff0c" points="637.8,105.2 636.8,105 636.1,104.8 635.3,104.7 634.2,104.4 633.7,104.3 632.7,104.1 632.1,104 631,103.8 630.5,103.7 629.4,103.5 628.8,103.4 627.9,103.3 627.1,103.1 626.5,103 625.3,102.9 624.7,102.8 624,102.7 622.9,102.6 622.3,102.5 621.6,102.4 620.5,102.3 619.7,102.2 619.1,102.1 618.3,102.1 617.2,102 616.5,101.9 615.8,101.9 615.1,101.8 614.2,101.7 613.2,101.7 612.4,101.6 611.7,101.6 611,101.5 610.2,101.5 609.4,101.5 608.5,101.4 607.6,101.4 606.7,101.4 605.8,101.3 605.1,101.3 604.3,101.3 603.6,101.3 602.8,101.3 602.1,101.2 601.3,101.2 600.5,101.2 599.7,101.2 598.9,101.2 598.1,101.2 597.3,101.2 596.5,101.2 595.6,101.2 594.8,101.2 594,101.2 593.2,101.2 592.4,101.2 591.6,101.2 590.8,101.2 590,101.3 589.1,101.3 588.3,101.3 587.5,101.3 586.6,101.3 585.8,101.3 584.9,101.4 584,101.4 583.2,101.4 582.4,101.4 581.6,101.5 580.8,101.5 580.8,101.5"/><polyline stroke="#f3ff0c" points="610.8,77.6 611.6,77.9 612.4,78.3 613.2,78.6 614,78.9 614.8,79.2 615.6,79.5 616.4,79.8 617.3,80.1 618.1,80.4 619,80.7 619.8,81 620.7,81.3 621.5,81.6 622.4,81.9 622.9,82.1 623.8,82.4 624.7,82.6 625.6,82.9 626.5,83.2 626.9,83.3 627.9,83.6 628.8,83.9 629.6,84.1 630.3,84.2 631.2,84.5 632,84.7 632.7,84.9 633.7,85.1 634.3,85.2 635.3,85.4 636,85.6 636.9,85.8 637.7,85.9 638.5,86.1 639.3,86.2 639.3,86.2"/><polyline stroke="#ff7400" points="603.7,80.4 604.4,80.8 605,81.2 605.4,81.4 606,81.7 606.7,82.1 607,82.3 607.7,82.7 608.3,83.1 608.7,83.3 609.3,83.6 610,84 610.3,84.2 610.9,84.6 611.6,85 611.9,85.2 612.5,85.6 613,85.8 613.4,86.1 614.1,86.5 614.4,86.7 615,87.1 615.4,87.4 615.9,87.7 616.3,88.1 616.7,88.4 617.2,88.7 617.5,89 617.9,89.3 618.3,89.7 618.5,89.9 618.9,90.3 619.1,90.6 619.3,90.9 619.4,91.2 619.5,91.5 619.6,91.8 619.5,92.1 619.3,92.5 618.9,92.9 618.6,93.1 617.9,93.4 617.1,93.7 616.4,93.9 615.7,94.1 614.6,94.4 614.1,94.5 613,94.7 612.5,94.8 611.5,94.9 610.7,95.1 610.1,95.1 609,95.3 608.3,95.4 607.7,95.5 606.6,95.6 605.8,95.7 605.2,95.8 604.3,95.9 603.3,96 602.7,96 602,96.1 601,96.2 600.1,96.3 599.5,96.4 598.8,96.4 597.8,96.5 596.9,96.6 596.2,96.7 595.6,96.8 594.6,96.8 593.6,96.9 592.9,97 592.3,97.1 591.5,97.1 590.4,97.2 589.6,97.3 589,97.4 588.3,97.4 587.3,97.5 586.3,97.6 585.7,97.7 585,97.7 584.2,97.8 583.1,97.9 582.3,98 581.7,98 581,98.1 580,98.2 579,98.3 578.4,98.3 577.7,98.4 576.9,98.5 575.9,98.5 575.1,98.6 574.4,98.7 573.7,98.7 573.7,98.7"/><polyline stroke="#ff7400" points="649.9,100.4 649.7,100.2 649.3,99.9 649,99.5 648.8,99.3 648.4,98.9 648.2,98.5 648.1,98.3 648.1,98 648.1,97.6 648.2,97.3 648.4,97 648.6,96.8 649.3,96.4 650,96 650.9,95.7 651.8,95.5 652.3,95.3 653.3,95.1 654,95 654.9,94.8 655.5,94.7 656.6,94.5 657.2,94.4 658.2,94.2 659,94.1 659.6,94 659.6,94"/><polyline stroke="#dc0000" points="593.8,84.4 593.9,84.7 594,84.9 594.1,85.2 594.1,85.5 594.2,85.8 594.2,86.2 594.2,86.5 594.2,86.8 594.1,87.1 594,87.5 593.8,87.9 593.6,88.1 593.4,88.4 593,88.8 592.8,89.1 592.3,89.4 591.9,89.7 591.3,90.1 590.9,90.3 590.3,90.6 589.5,91 588.8,91.3 587.9,91.6 587.1,91.9 586.3,92.2 585.7,92.3 584.8,92.6 583.8,92.9 583.3,93 582.3,93.2 581.5,93.4 580.8,93.6 579.8,93.8 579.2,93.9 578.2,94.2 577.6,94.3 576.6,94.5 576,94.6 574.9,94.8 574.3,94.9 573.4,95 572.7,95.2 572,95.3 571,95.5 570.4,95.6 569.3,95.8 568.7,95.8 567.9,96 566.9,96.1 566.9,96.1"/></g><g filter="url(#bl)"><g transform="scale(.5)"><path fill="#c7ff38" d="M1228 67l4 4l-4 -1l-5 -5zM1232 68l4 4l-4 -1l-5 -4z"/><path fill="#f7ff08" d="M1224 64l4 4l-4 -2l-5 -4z"/><path fill="#c7ff38" d="M1236 70l4 4l-4 -1l-5 -5z"/><path fill="#f7ff08" d="M1228 65l4 4l-4 -1l-5 -4z"/><path fill="#ffd700" d="M1220 61l4 4l-4 -2l-5 -4z"/><path fill="#c7ff38" d="M1240 71l5 4l-5 -1l-5 -4z"/><path fill="#f7ff08" d="M1232 67l4 4l-4 -1l-5 -4z"/><path fill="#ffe700" d="M1224 63l4 3l-4 -1l-5 -4z"/><path fill="#ffb700" d="M1216 58l4 4l-5 -2l-4 -4z"/><path fill="#c7ff38" d="M1244 72l5 4l-5 -1l-5 -4z"/><path fill="#f7ff08" d="M1236 68l5 4l-5 -1l-5 -4z"/><path fill="#ffe700" d="M1228 64l4 4l-4 -1l-5 -4z"/><path fill="#ffb700" d="M1220 60l4 4l-4 -2l-5 -3z"/><path fill="#ff8700" d="M1212 57l4 2l-5 -1l-4 -4z"/><path fill="#c7ff38" d="M1248 73l5 4l-5 -1l-5 -3z"/><path fill="#f7ff08" d="M1240 70l5 3l-5 -1l-5 -3z"/><path fill="#ffe700" d="M1232 66l5 3l-5 -1l-5 -3z"/><path fill="#ffb700" d="M1224 62l4 3l-4 -1l-5 -3z"/><path fill="#ff9700" d="M1216 60l4 1l-5 -2l-4 -3z"/><path fill="#ff6800" d="M1208 56l4 1l-5 -3l-4 -2z"/><path fill="#d7ff28" d="M1252 75l5 3l-5 -1l-5 -3z"/><path fill="#f7ff08" d="M1244 71l5 3l-5 0l-5 -4z"/><path fill="#ffe700" d="M1236 68l5 3l-5 -1l-5 -4z"/><path fill="#ffb700" d="M1228 64l5 3l-5 -1l-5 -3z"/><path fill="#ff9700" d="M1220 62l4 1l-5 -2l-4 -2z"/><path fill="#ff6800" d="M1212 58l4 1l-5 -3l-4 -1z"/><path fill="#ff4800" d="M1204 54l4 1l-5 -3l-4 -2z"/><path fill="#d7ff28" d="M1256 76l5 3l-5 -1l-4 -3z"/><path fill="#f7ff08" d="M1248 72l5 3l-5 0l-5 -3z"/><path fill="#ffe700" d="M1240 69l5 3l-5 -1l-5 -3z"/><path fill="#ffb700" d="M1232 66l5 3l-5 -2l-5 -3z"/><path fill="#ff9700" d="M1224 64l5 1l-6 -3l-4 -1z"/><path fill="#ff7800" d="M1216 60l4 1l-4 -3l-5 -1z"/><path fill="#ff4800" d="M1208 57l4 1l-4 -4l-5 -1z"/><path fill="#ff2800" d="M1200 53l4 1l-5 -4l-4 -1z"/><path fill="#e7ff18" d="M1260 77l5 2l-5 0l-4 -3z"/><path fill="#f7ff08" d="M1252 74l5 2l-5 0l-5 -3z"/><path fill="#ffe700" d="M1244 71l5 2l-5 0l-5 -3z"/><path fill="#ffc700" d="M1237 69l4 1l-5 -1l-5 -3z"/><path fill="#ff9700" d="M1228 66l5 1l-5 -3l-5 -1z"/><path fill="#ff7800" d="M1220 62l4 1l-4 -3l-5 -1z"/><path fill="#ff5800" d="M1212 59l4 1l-4 -3l-5 -1z"/><path fill="#ff2800" d="M1204 55l4 1l-4 -3l-5 -1z"/><path fill="#ff0800" d="M1196 52l4 0l-5 -4l-4 0z"/><path fill="#e7ff18" d="M1264 77l5 3l-5 0l-4 -3z"/><path fill="#fff700" d="M1256 75l5 2l-5 0l-4 -3z"/><path fill="#ffd700" d="M1248 72l5 3l-5 -1l-5 -3z"/><path fill="#ffc700" d="M1240 71l5 1l-6 -2l-4 -2z"/><path fill="#ffa700" d="M1232 68l5 1l-5 -3l-5 -1z"/><path fill="#ff7800" d="M1224 65l5 0l-5 -3l-5 0z"/><path fill="#ff5800" d="M1216 61l4 1l-4 -3l-5 -1z"/><path fill="#ff3800" d="M1208 58l4 1l-4 -4l-5 -1z"/><path fill="#ff1800" d="M1200 55l4 0l-4 -4l-5 0z"/><path fill="#e70000" d="M1192 51l4 0l-5 -4l-4 0z"/><path fill="#f7ff08" d="M1269 78l4 3l-5 0l-4 -3z"/><path fill="#fff700" d="M1260 76l5 2l-5 0l-4 -3z"/><path fill="#ffd700" d="M1253 74l4 2l-5 -1l-4 -2z"/><path fill="#ffc700" d="M1244 72l5 1l-5 -2l-5 -1z"/><path fill="#ffa700" d="M1236 70l5 0l-5 -2l-5 -1z"/><path fill="#ff8700" d="M1228 67l5 0l-5 -3l-5 0z"/><path fill="#ff6800" d="M1220 64l5 0l-5 -3l-5 0z"/><path fill="#ff4800" d="M1212 61l4 0l-4 -3l-5 -1z"/><path fill="#ff2800" d="M1204 58l4 0l-4 -4l-5 0z"/><path fill="#f70000" d="M1196 54l4 0l-4 -4l-5 0z"/><path fill="#d70000" d="M1188 51l4 0l-5 -5l-4 0z"/><path fill="#f7ff08" d="M1273 79l4 2l-5 0l-4 -2z"/><path fill="#fff700" d="M1265 77l4 2l-5 0l-4 -3z"/><path fill="#ffd700" d="M1257 76l4 1l-5 -1l-4 -2z"/><path fill="#ffb700" d="M1248 74l5 0l-5 -2l-4 -1z"/><path fill="#ffa700" d="M1240 71l5 1l-5 -3l-5 0z"/><path fill="#ff8700" d="M1232 69l5 0l-5 -3l-5 0z"/><path fill="#ff6800" d="M1224 66l5 0l-5 -3l-5 0z"/><path fill="#ff4800" d="M1216 63l5 0l-5 -3l-5 0z"/><path fill="#ff2800" d="M1208 60l4 0l-4 -3l-5 0z"/><path fill="#ff0800" d="M1200 57l4 0l-4 -4l-5 0z"/><path fill="#e70000" d="M1192 54l4 0l-4 -4l-5 0z"/><path fill="#c70000" d="M1183 51l5 -1l-5 -4l-4 0z"/><path fill="#fff700" d="M1277 80l4 2l-4 0l-5 -3z"/><path fill="#ffe700" d="M1269 78l4 2l-5 0l-4 -3z"/><path fill="#ffd700" d="M1261 77l4 1l-5 -1l-4 -2z"/><path fill="#ffb700" d="M1252 75l5 1l-5 -3l-4 0z"/><path fill="#ffa700" d="M1244 73l5 0l-5 -2l-4 0z"/><path fill="#ff8700" d="M1236 71l5 0l-5 -3l-5 0z"/><path fill="#ff7800" d="M1228 68l5 0l-5 -3l-5 0z"/><path fill="#ff5800" d="M1220 66l5 0l-5 -4l-5 0z"/><path fill="#ff3800" d="M1212 63l5 0l-5 -4l-5 0z"/><path fill="#ff1800" d="M1204 60l4 0l-4 -4l-5 0z"/><path fill="#f70000" d="M1196 57l4 0l-4 -4l-5 0z"/><path fill="#d70000" d="M1188 54l4 0l-5 -5l-4 1z"/><path fill="#b70000" d="M1179 51l5 -1l-5 -4l-4 0z"/><path fill="#fff700" d="M1281 80l4 2l-4 0l-5 -2z"/><path fill="#ffe700" d="M1273 79l4 1l-5 0l-4 -2z"/><path fill="#ffc700" d="M1265 78l4 1l-5 -2l-4 -1z"/><path fill="#ffb700" d="M1257 77l4 0l-5 -2l-4 -1z"/><path fill="#ffa700" d="M1248 75l5 0l-5 -3l-4 0z"/><path fill="#ff8700" d="M1240 73l5 0l-5 -3l-5 0z"/><path fill="#ff7800" d="M1232 71l5 -1l-5 -3l-5 0z"/><path fill="#ff5800" d="M1224 68l5 0l-5 -3l-5 0z"/><path fill="#ff4800" d="M1216 66l5 -1l-5 -3l-5 0z"/><path fill="#ff2800" d="M1208 63l5 0l-5 -4l-5 0z"/><path fill="#ff0800" d="M1200 60l4 0l-4 -4l-5 0z"/><path fill="#e70000" d="M1192 58l4 -1l-4 -4l-5 0z"/><path fill="#c70000" d="M1184 55l4 -1l-5 -5l-4 1z"/><path fill="#a70000" d="M1175 51l5 -1l-5 -4l-4 0z"/><path fill="#ffe700" d="M1285 81l5 1l-5 1l-5 -2z"/><path fill="#ffd700" d="M1277 80l4 1l-5 0l-4 -2z"/><path fill="#ffc700" d="M1269 80l4 0l-5 -2l-4 0z"/><path fill="#ffb700" d="M1261 78l4 0l-5 -2l-4 0z"/><path fill="#ffa700" d="M1252 76l5 0l-5 -2l-4 0z"/><path fill="#ff9700" d="M1244 75l5 -1l-5 -2l-4 0z"/><path fill="#ff7800" d="M1236 73l5 -1l-5 -3l-5 1z"/><path fill="#ff6800" d="M1228 71l5 -1l-5 -3l-5 0z"/><path fill="#ff4800" d="M1220 68l5 0l-5 -4l-5 1z"/><path fill="#ff3800" d="M1212 66l5 -1l-5 -3l-5 0z"/><path fill="#ff1800" d="M1204 64l5 -1l-5 -4l-5 1z"/><path fill="#f70000" d="M1196 61l4 -1l-4 -4l-5 1z"/><path fill="#d70000" d="M1188 58l4 -1l-4 -4l-5 1z"/><path fill="#b70000" d="M1180 55l4 -1l-5 -5l-4 1z"/><path fill="#970000" d="M1171 52l5 -1l-5 -5l-4 1z"/><path fill="#ffd700" d="M1289 81l5 1l-5 1l-5 -2z"/><path fill="#ffc700" d="M1273 80l4 0l-4 -1l-5 0zM1281 81l5 0l-6 0l-4 -1z"/><path fill="#ffb700" d="M1265 79l4 0l-5 -2l-4 0z"/><path fill="#ffa700" d="M1257 78l4 -1l-5 -2l-4 1z"/><path fill="#ff9700" d="M1248 76l5 0l-5 -3l-4 1z"/><path fill="#ff8700" d="M1240 75l5 -1l-5 -3l-4 1z"/><path fill="#ff6800" d="M1232 73l5 -1l-5 -3l-5 1z"/><path fill="#ff5800" d="M1224 71l5 -1l-5 -3l-5 1z"/><path fill="#ff4800" d="M1216 69l5 -1l-5 -4l-5 1z"/><path fill="#ff2800" d="M1208 67l5 -1l-5 -4l-5 1z"/><path fill="#ff0800" d="M1200 64l5 -1l-5 -4l-5 1z"/><path fill="#f70000" d="M1192 62l4 -1l-4 -5l-5 1z"/><path fill="#d70000" d="M1184 59l4 -1l-4 -5l-5 1z"/><path fill="#b70000" d="M1176 56l4 -1l-5 -5l-4 1z"/><path fill="#970000" d="M1167 53l5 -1l-5 -5l-4 1z"/><path fill="#ffc700" d="M1285 82l5 0l-6 -1l-4 0zM1293 81l5 2l-5 0l-5 -1z"/><path fill="#ffb700" d="M1277 81l5 0l-5 -2l-5 1z"/><path fill="#ffa700" d="M1261 79l4 0l-5 -2l-4 0zM1269 80l4 0l-4 -2l-5 0z"/><path fill="#ff9700" d="M1253 78l4 -1l-5 -2l-4 1z"/><path fill="#ff8700" d="M1244 77l5 -1l-5 -3l-4 1z"/><path fill="#ff7800" d="M1236 75l5 -1l-5 -3l-4 1z"/><path fill="#ff5800" d="M1228 74l5 -2l-5 -3l-5 1z"/><path fill="#ff4800" d="M1220 72l5 -1l-5 -4l-5 1z"/><path fill="#ff3800" d="M1212 70l5 -2l-5 -3l-5 1z"/><path fill="#ff1800" d="M1204 68l5 -2l-5 -4l-5 1z"/><path fill="#ff0800" d="M1196 65l4 -1l-4 -4l-5 1z"/><path fill="#e70000" d="M1188 63l4 -2l-4 -4l-5 1z"/><path fill="#d70000" d="M1180 60l4 -1l-4 -5l-5 1z"/><path fill="#b70000" d="M1172 58l4 -2l-5 -5l-4 1z"/><path fill="#970000" d="M1163 55l5 -2l-5 -5l-4 1z"/><path fill="#ffb700" d="M1281 82l5 0l-5 -2l-5 1zM1289 83l5 -1l-5 -1l-5 0zM1298 82l4 1l-5 0l-5 -1z"/><path fill="#ffa700" d="M1273 82l4 -1l-4 -2l-5 1z"/><path fill="#ff9700" d="M1257 80l4 -1l-5 -2l-4 0zM1265 81l4 -1l-4 -2l-5 1z"/><path fill="#ff8700" d="M1249 79l4 -1l-5 -3l-4 1z"/><path fill="#ff7800" d="M1240 77l5 -1l-5 -3l-4 1z"/><path fill="#ff6800" d="M1232 76l5 -1l-5 -3l-4 1z"/><path fill="#ff5800" d="M1224 74l5 -1l-5 -3l-5 1z"/><path fill="#ff4800" d="M1216 73l5 -2l-5 -3l-5 1z"/><path fill="#ff2800" d="M1208 71l5 -2l-5 -4l-5 2z"/><path fill="#ff1800" d="M1200 69l5 -2l-5 -4l-5 2z"/><path fill="#ff0800" d="M1192 67l4 -2l-4 -5l-5 2z"/><path fill="#e70000" d="M1184 65l4 -2l-4 -5l-5 2z"/><path fill="#c70000" d="M1176 62l4 -2l-4 -5l-5 2z"/><path fill="#b70000" d="M1167 59l5 -2l-5 -5l-4 2z"/><path fill="#970000" d="M1159 57l5 -3l-5 -5l-4 2z"/><path fill="#ffb700" d="M1301 83l5 -1l-5 1l-5 -1z"/><path fill="#ffa700" d="M1277 83l5 -1l-5 -2l-5 1zM1285 83l5 -1l-5 -1l-5 0zM1293 83l5 -1l-5 -1l-5 1z"/><path fill="#ff9700" d="M1261 81l4 -1l-4 -2l-5 1zM1269 82l4 -1l-4 -2l-5 1z"/><path fill="#ff8700" d="M1253 81l4 -2l-5 -2l-4 1z"/><path fill="#ff7800" d="M1244 80l5 -2l-5 -3l-4 2z"/><path fill="#ff6800" d="M1228 77l5 -2l-5 -3l-5 2zM1236 78l5 -1l-5 -3l-4 1z"/><path fill="#ff4800" d="M1220 76l5 -2l-5 -4l-5 2z"/><path fill="#ff3800" d="M1212 74l5 -2l-5 -4l-5 2z"/><path fill="#ff2800" d="M1204 72l5 -2l-5 -4l-5 2z"/><path fill="#ff1800" d="M1196 71l5 -3l-5 -4l-5 2z"/><path fill="#f70000" d="M1188 69l4 -3l-4 -4l-5 2z"/><path fill="#e70000" d="M1180 66l4 -2l-4 -5l-5 2z"/><path fill="#c70000" d="M1172 64l4 -2l-5 -6l-4 2z"/><path fill="#b70000" d="M1163 61l5 -2l-5 -6l-4 3z"/><path fill="#970000" d="M1155 59l5 -3l-5 -6l-4 3z"/><path fill="#ffa700" d="M1289 84l5 -1l-5 -2l-5 1zM1297 84l5 -1l-5 -1l-5 0zM1305 83l5 -1l-5 0l-5 1z"/><path fill="#ff9700" d="M1265 83l4 -2l-4 -2l-5 2zM1273 83l5 -1l-5 -2l-5 1zM1281 84l5 -2l-5 -1l-5 1z"/><path fill="#ff8700" d="M1249 82l4 -2l-5 -3l-4 2zM1257 82l4 -1l-4 -3l-5 2z"/><path fill="#ff7800" d="M1240 81l5 -2l-5 -3l-4 2z"/><path fill="#ff6800" d="M1232 80l5 -2l-5 -3l-4 1z"/><path fill="#ff5800" d="M1224 79l5 -2l-5 -4l-5 2z"/><path fill="#ff4800" d="M1216 77l5 -2l-5 -4l-5 2z"/><path fill="#ff3800" d="M1208 76l5 -2l-5 -4l-5 2z"/><path fill="#ff2800" d="M1200 74l5 -2l-5 -4l-5 2z"/><path fill="#ff1800" d="M1192 72l5 -2l-5 -5l-5 3z"/><path fill="#ff0800" d="M1184 71l4 -3l-4 -5l-5 2z"/><path fill="#e70000" d="M1176 68l4 -2l-4 -5l-5 2z"/><path fill="#d70000" d="M1168 66l4 -3l-5 -5l-4 2z"/><path fill="#b70000" d="M1159 64l5 -3l-5 -6l-4 3z"/><path fill="#970000" d="M1151 61l5 -3l-5 -6l-4 3z"/><path fill="#ff9700" d="M1269 84l5 -1l-5 -2l-5 1zM1277 85l5 -2l-5 -2l-5 2zM1285 85l5 -2l-5 -1l-5 1zM1293 84l5 -1l-5 -1l-5 1zM1301 84l5 -1l-5 -1l-5 1zM1309 83l5 -1l-5 0l-4 1z"/><path fill="#ff8700" d="M1253 84l4 -2l-4 -3l-5 2zM1261 84l4 -2l-4 -2l-5 2z"/><path fill="#ff7800" d="M1236 82l5 -2l-5 -3l-4 2zM1245 83l4 -2l-5 -3l-4 2z"/><path fill="#ff6800" d="M1228 81l5 -2l-5 -3l-4 2z"/><path fill="#ff5800" d="M1220 80l5 -2l-5 -4l-5 2z"/><path fill="#ff4800" d="M1212 79l5 -2l-5 -4l-5 2z"/><path fill="#ff3800" d="M1204 78l5 -3l-5 -4l-5 2z"/><path fill="#ff2800" d="M1196 76l5 -2l-5 -5l-5 3z"/><path fill="#ff1800" d="M1188 75l5 -3l-5 -5l-5 3z"/><path fill="#ff0800" d="M1180 73l4 -3l-4 -5l-5 3z"/><path fill="#e70000" d="M1172 71l4 -3l-4 -5l-5 2z"/><path fill="#d70000" d="M1164 69l4 -3l-5 -6l-4 3z"/><path fill="#b70000" d="M1155 66l5 -3l-5 -6l-4 3z"/><path fill="#a70000" d="M1147 64l5 -3l-5 -7l-4 3z"/><path fill="#ff8700" d="M1249 85l4 -2l-4 -3l-5 2zM1257 86l4 -3l-4 -2l-5 2zM1265 86l5 -2l-5 -2l-5 1zM1273 86l5 -2l-5 -2l-5 2zM1281 86l5 -2l-5 -2l-5 2zM1289 85l5 -1l-5 -2l-5 2zM1297 85l5 -2l-5 -1l-5 2zM1305 84l5 -1l-5 -1l-4 1zM1313 83l5 -1l-5 -1l-4 2z"/><path fill="#ff7800" d="M1232 84l5 -2l-5 -4l-4 3zM1241 85l4 -3l-5 -3l-4 3z"/><path fill="#ff6800" d="M1224 83l5 -2l-5 -4l-4 3z"/><path fill="#ff5800" d="M1208 81l5 -2l-5 -5l-5 3zM1216 82l5 -2l-5 -4l-5 2z"/><path fill="#ff4800" d="M1200 80l5 -3l-5 -4l-5 2z"/><path fill="#ff3800" d="M1192 79l5 -3l-5 -5l-5 3z"/><path fill="#ff2800" d="M1184 77l5 -3l-5 -5l-5 3z"/><path fill="#ff0800" d="M1176 75l4 -3l-4 -5l-5 3z"/><path fill="#f70000" d="M1168 74l4 -4l-4 -5l-5 3z"/><path fill="#e70000" d="M1160 71l4 -3l-5 -6l-4 3z"/><path fill="#c70000" d="M1151 69l5 -3l-5 -6l-4 3z"/><path fill="#a70000" d="M1143 67l5 -4l-5 -6l-4 3z"/><path fill="#ff8700" d="M1245 87l4 -2l-4 -3l-5 2zM1253 87l4 -2l-4 -3l-5 3zM1261 88l5 -3l-5 -2l-5 2zM1269 87l5 -2l-5 -2l-5 2zM1277 87l5 -2l-5 -2l-5 2zM1285 87l5 -2l-5 -2l-5 2zM1293 86l5 -2l-5 -1l-5 2z"/><path fill="#ff7800" d="M1228 86l5 -2l-5 -4l-4 3zM1237 87l4 -3l-5 -3l-4 2zM1301 85l5 -2l-5 0l-4 1zM1309 84l5 -2l-5 0l-4 2z"/><path fill="#ff6800" d="M1212 85l5 -3l-5 -4l-5 3zM1220 86l5 -3l-5 -4l-4 3zM1318 83l4 -2l-5 0l-4 2z"/><path fill="#ff5800" d="M1204 84l5 -3l-5 -5l-5 3z"/><path fill="#ff4800" d="M1196 83l5 -3l-5 -5l-5 3z"/><path fill="#ff3800" d="M1188 82l5 -4l-5 -5l-5 3z"/><path fill="#ff2800" d="M1180 80l5 -3l-5 -6l-5 4z"/><path fill="#ff1800" d="M1172 78l4 -3l-4 -6l-5 4z"/><path fill="#ff0800" d="M1164 77l4 -4l-4 -6l-5 4z"/><path fill="#e70000" d="M1156 75l4 -4l-5 -6l-4 3z"/><path fill="#d70000" d="M1147 72l5 -3l-5 -7l-4 4z"/><path fill="#b70000" d="M1139 70l5 -4l-5 -7l-4 4z"/><path fill="#ff8700" d="M1232 89l5 -3l-5 -3l-4 3zM1241 90l4 -3l-4 -4l-5 3zM1249 90l4 -3l-4 -3l-5 3zM1257 90l4 -3l-4 -3l-5 3zM1265 89l5 -2l-5 -3l-5 3zM1273 89l5 -3l-5 -2l-5 3zM1281 88l5 -2l-5 -2l-5 3zM1289 88l5 -3l-5 -1l-5 2z"/><path fill="#ff7800" d="M1216 88l5 -3l-5 -4l-4 3zM1224 89l5 -3l-5 -4l-4 3zM1297 87l5 -2l-5 -2l-4 3zM1305 86l5 -2l-5 -1l-4 2z"/><path fill="#ff6800" d="M1200 87l5 -4l-5 -4l-5 3zM1208 88l5 -4l-5 -4l-5 3zM1314 84l4 -2l-5 0l-4 2z"/><path fill="#ff5800" d="M1192 86l5 -4l-5 -5l-5 4zM1322 83l4 -2l-5 0l-4 2z"/><path fill="#ff4800" d="M1184 85l5 -4l-5 -5l-5 3z"/><path fill="#ff3800" d="M1176 83l4 -4l-4 -5l-5 4z"/><path fill="#ff2800" d="M1168 82l4 -4l-4 -6l-5 4z"/><path fill="#ff1800" d="M1160 80l4 -4l-4 -6l-5 4z"/><path fill="#f70000" d="M1151 78l5 -4l-5 -6l-4 3z"/><path fill="#e70000" d="M1143 76l5 -4l-5 -7l-4 4z"/><path fill="#c70000" d="M1135 73l5 -4l-5 -7l-4 4z"/><path fill="#ff9700" d="M1245 92l4 -3l-4 -3l-5 3zM1253 92l4 -3l-4 -3l-5 3zM1261 92l5 -3l-5 -3l-5 3z"/><path fill="#ff8700" d="M1212 91l5 -3l-5 -4l-5 3zM1220 92l5 -4l-5 -4l-4 4zM1228 92l5 -3l-5 -4l-4 3zM1237 92l4 -3l-5 -3l-4 3zM1269 91l5 -3l-5 -2l-5 3zM1277 91l5 -3l-5 -2l-5 2zM1285 90l5 -3l-5 -2l-5 3z"/><path fill="#ff7800" d="M1204 91l5 -4l-5 -4l-5 3zM1293 89l5 -3l-5 -1l-5 2zM1301 87l5 -2l-5 -1l-4 2z"/><path fill="#ff6800" d="M1188 89l5 -4l-5 -5l-5 4zM1196 90l5 -4l-5 -5l-5 4zM1309 86l5 -2l-5 -1l-4 2z"/><path fill="#ff5800" d="M1180 88l5 -4l-5 -5l-5 3zM1318 84l4 -2l-5 0l-4 2z"/><path fill="#ff4800" d="M1172 87l4 -4l-4 -6l-5 4z"/><path fill="#ff3800" d="M1164 85l4 -4l-4 -6l-5 4z"/><path fill="#ff2800" d="M1156 84l4 -5l-5 -6l-4 4z"/><path fill="#ff0800" d="M1147 82l5 -5l-5 -6l-4 4z"/><path fill="#f70000" d="M1139 80l5 -5l-5 -7l-4 5z"/><path fill="#ff9700" d="M1216 95l5 -4l-5 -4l-4 4zM1224 95l5 -4l-5 -3l-4 3zM1233 95l4 -4l-5 -3l-4 3zM1241 95l4 -4l-4 -3l-5 3zM1249 95l4 -4l-4 -3l-5 3zM1257 94l5 -3l-5 -3l-5 3zM1265 94l5 -4l-5 -2l-5 3z"/><path fill="#ff8700" d="M1200 94l5 -4l-5 -5l-5 4zM1208 95l5 -4l-5 -5l-5 4zM1273 93l5 -3l-5 -2l-5 3zM1281 92l5 -3l-5 -2l-5 3z"/><path fill="#ff7800" d="M1184 93l5 -5l-5 -5l-5 4zM1192 93l5 -4l-5 -5l-5 4zM1289 91l5 -3l-5 -2l-5 3zM1297 90l5 -3l-5 -2l-4 3z"/><path fill="#ff6800" d="M1176 92l5 -5l-5 -5l-5 4zM1305 88l5 -3l-5 -1l-4 3z"/><path fill="#ff5800" d="M1168 91l4 -5l-4 -6l-5 4zM1314 86l4 -2l-5 -1l-4 3z"/><path fill="#ff4800" d="M1160 89l4 -4l-4 -6l-5 4z"/><path fill="#ff3800" d="M1152 88l4 -5l-5 -6l-4 4z"/><path fill="#ff2800" d="M1143 86l5 -5l-5 -7l-4 5z"/><path fill="#ffa700" d="M1212 98l5 -4l-5 -4l-4 4zM1220 99l5 -5l-5 -4l-4 4zM1229 98l4 -4l-5 -3l-4 3zM1237 98l4 -4l-4 -3l-5 3zM1245 98l4 -4l-4 -3l-5 3zM1253 97l5 -3l-5 -3l-5 3z"/><path fill="#ff9700" d="M1188 97l5 -4l-5 -5l-5 4zM1196 98l5 -5l-5 -4l-5 4zM1204 98l5 -4l-5 -5l-5 4zM1261 96l5 -3l-5 -3l-5 4zM1269 96l5 -4l-5 -2l-5 3z"/><path fill="#ff8700" d="M1180 97l5 -5l-5 -5l-5 4zM1277 95l5 -4l-5 -2l-5 3zM1285 93l5 -3l-5 -2l-5 3z"/><path fill="#ff7800" d="M1164 95l4 -5l-4 -6l-5 4zM1172 96l5 -5l-5 -6l-5 5zM1293 92l5 -3l-5 -2l-4 3z"/><path fill="#ff6800" d="M1156 93l4 -4l-4 -7l-5 5zM1301 90l5 -3l-5 -1l-4 3z"/><path fill="#ff5800" d="M1148 92l4 -5l-5 -7l-4 5zM1310 89l4 -4l-5 0l-4 2z"/><path fill="#ffb700" d="M1200 102l5 -4l-5 -5l-5 4zM1208 102l5 -4l-5 -5l-4 5zM1216 102l5 -4l-5 -4l-4 4zM1225 102l4 -4l-5 -4l-4 4zM1233 102l4 -5l-4 -3l-5 4zM1241 101l4 -4l-4 -3l-5 3zM1249 100l5 -4l-5 -3l-5 4z"/><path fill="#ffa700" d="M1176 101l5 -5l-5 -6l-5 5zM1184 101l5 -4l-5 -6l-5 5zM1192 102l5 -5l-5 -5l-5 5zM1257 100l5 -4l-5 -3l-5 4zM1265 99l5 -4l-5 -3l-5 4z"/><path fill="#ff9700" d="M1168 100l5 -5l-5 -6l-5 5zM1273 97l5 -3l-5 -3l-5 4z"/><path fill="#ff8700" d="M1160 99l4 -5l-4 -6l-5 5zM1281 96l5 -3l-5 -2l-5 3zM1289 95l5 -4l-5 -2l-4 4z"/><path fill="#ff7800" d="M1152 98l4 -5l-4 -7l-5 5zM1297 93l5 -4l-5 -1l-4 3z"/><path fill="#ff6800" d="M1306 91l4 -3l-5 -1l-4 3z"/><path fill="#ffc700" d="M1180 106l5 -5l-5 -6l-5 5zM1188 106l5 -5l-5 -5l-5 5zM1196 106l5 -4l-5 -6l-5 5zM1204 106l5 -4l-5 -5l-4 4zM1212 106l5 -4l-5 -5l-4 5zM1221 106l4 -5l-5 -4l-4 5zM1229 105l4 -4l-4 -4l-5 4zM1237 105l4 -5l-4 -3l-5 4zM1245 104l5 -4l-5 -4l-5 4z"/><path fill="#ffb700" d="M1164 105l5 -6l-5 -6l-5 5zM1172 105l5 -5l-5 -6l-5 5zM1253 103l5 -4l-5 -3l-5 4zM1261 102l5 -4l-5 -3l-5 4z"/><path fill="#ffa700" d="M1156 104l4 -6l-4 -6l-5 5zM1269 101l5 -4l-5 -3l-5 4z"/><path fill="#ff9700" d="M1277 99l5 -4l-5 -2l-5 4z"/><path fill="#ff8700" d="M1285 98l5 -4l-5 -2l-4 4z"/><path fill="#ff7800" d="M1293 96l5 -4l-5 -1l-4 3z"/><path fill="#ff6800" d="M1302 94l4 -4l-5 -1l-4 3z"/><path fill="#ffe700" d="M1176 111l5 -6l-5 -6l-5 6zM1184 111l5 -5l-5 -6l-5 5zM1192 111l5 -5l-5 -5l-5 5zM1200 111l5 -5l-5 -5l-4 5zM1208 111l5 -5l-5 -5l-4 5zM1216 110l5 -5l-5 -4l-4 5zM1225 110l4 -5l-4 -4l-5 4z"/><path fill="#ffd700" d="M1160 110l4 -6l-4 -6l-5 5zM1168 110l5 -5l-5 -6l-5 5zM1233 109l4 -5l-4 -4l-5 5zM1241 108l4 -5l-4 -3l-5 4z"/><path fill="#ffc700" d="M1249 107l5 -5l-5 -3l-5 4zM1257 106l5 -5l-5 -3l-5 4z"/><path fill="#ffb700" d="M1265 104l5 -4l-5 -3l-5 4z"/><path fill="#ffa700" d="M1273 103l5 -5l-5 -2l-5 4z"/><path fill="#ff9700" d="M1281 101l5 -4l-5 -2l-4 4z"/><path fill="#ff8700" d="M1289 99l5 -4l-5 -2l-4 4z"/><path fill="#ff7800" d="M1297 97l5 -4l-5 -1l-4 3z"/><path fill="#f7ff08" d="M1172 116l5 -6l-5 -6l-5 6zM1180 116l5 -6l-5 -5l-5 5zM1188 116l5 -6l-5 -5l-5 5zM1196 116l5 -6l-5 -5l-5 5zM1204 115l5 -5l-5 -5l-4 5zM1212 115l5 -6l-5 -4l-4 5z"/><path fill="#fff700" d="M1164 116l5 -6l-5 -7l-5 6zM1221 114l4 -5l-5 -4l-4 5zM1229 113l4 -5l-4 -4l-5 5z"/><path fill="#ffe700" d="M1237 112l4 -5l-4 -4l-5 5zM1245 111l5 -5l-5 -3l-5 4z"/><path fill="#ffd700" d="M1253 110l5 -5l-5 -3l-5 4z"/><path fill="#ffc700" d="M1261 108l5 -5l-5 -2l-5 4z"/><path fill="#ffb700" d="M1269 107l5 -5l-5 -3l-5 5z"/><path fill="#ffa700" d="M1277 105l5 -5l-5 -2l-5 4z"/><path fill="#ff9700" d="M1285 103l5 -5l-5 -2l-4 5z"/><path fill="#ff8700" d="M1293 101l5 -5l-5 -2l-4 5z"/><path fill="#d7ff28" d="M1168 121l5 -6l-5 -6l-5 6zM1176 121l5 -6l-5 -6l-5 6zM1184 121l5 -6l-5 -5l-5 5zM1192 121l5 -6l-5 -5l-5 5zM1200 120l5 -5l-5 -5l-4 5z"/><path fill="#e7ff18" d="M1208 120l5 -6l-5 -5l-4 6zM1217 119l4 -6l-5 -4l-4 5zM1225 118l4 -6l-4 -4l-5 5z"/><path fill="#f7ff08" d="M1233 117l4 -6l-4 -4l-5 6z"/><path fill="#fff700" d="M1241 116l5 -6l-5 -3l-5 5zM1249 114l5 -5l-5 -3l-5 4z"/><path fill="#ffe700" d="M1257 112l5 -5l-5 -3l-5 5z"/><path fill="#ffd700" d="M1265 111l5 -5l-5 -3l-5 5z"/><path fill="#ffc700" d="M1273 109l5 -5l-5 -3l-5 5z"/><path fill="#ffb700" d="M1281 107l5 -5l-5 -2l-4 4z"/><path fill="#ff9700" d="M1289 104l5 -4l-5 -2l-4 4z"/><path fill="#b7ff48" d="M1172 127l5 -6l-5 -7l-5 7zM1180 127l5 -6l-5 -6l-5 6zM1188 126l5 -6l-5 -5l-5 6zM1196 126l5 -6l-5 -6l-4 6zM1204 125l5 -6l-5 -5l-4 6z"/><path fill="#c7ff38" d="M1213 124l4 -6l-5 -5l-4 6zM1221 123l4 -6l-4 -4l-5 5z"/><path fill="#d7ff28" d="M1229 122l4 -6l-4 -4l-5 5z"/><path fill="#e7ff18" d="M1237 120l5 -5l-5 -4l-5 5z"/><path fill="#f7ff08" d="M1245 119l5 -6l-5 -3l-5 5z"/><path fill="#fff700" d="M1253 117l5 -5l-5 -4l-5 6z"/><path fill="#ffe700" d="M1261 115l5 -5l-5 -3l-5 5z"/><path fill="#ffd700" d="M1269 113l5 -5l-5 -3l-5 5z"/><path fill="#ffc700" d="M1277 111l5 -5l-5 -3l-4 5z"/><path fill="#ffb700" d="M1285 109l5 -5l-5 -3l-4 5z"/><path fill="#87ff78" d="M1176 133l5 -7l-5 -6l-5 6zM1184 132l5 -6l-5 -6l-5 6z"/><path fill="#97ff68" d="M1192 131l5 -6l-5 -5l-4 6zM1200 131l5 -7l-5 -5l-4 6z"/><path fill="#a7ff58" d="M1209 130l4 -7l-5 -5l-4 6zM1217 128l4 -6l-4 -4l-5 5z"/><path fill="#b7ff48" d="M1225 127l4 -6l-4 -4l-5 5z"/><path fill="#c7ff38" d="M1233 125l5 -5l-5 -5l-5 6z"/><path fill="#d7ff28" d="M1241 124l5 -6l-5 -4l-5 6z"/><path fill="#e7ff18" d="M1249 122l5 -6l-5 -3l-5 5z"/><path fill="#f7ff08" d="M1257 120l5 -6l-5 -3l-5 6z"/><path fill="#fff700" d="M1265 118l5 -6l-5 -3l-5 6z"/><path fill="#ffe700" d="M1273 116l5 -6l-5 -3l-4 6z"/><path fill="#ffc700" d="M1281 113l5 -5l-5 -3l-4 5z"/><path fill="#68ff97" d="M1180 138l5 -7l-5 -6l-5 7zM1188 138l5 -7l-5 -6l-4 7z"/><path fill="#78ff87" d="M1196 137l5 -7l-5 -6l-4 7zM1205 135l4 -6l-5 -5l-4 6z"/><path fill="#87ff78" d="M1213 134l4 -6l-4 -5l-5 6z"/><path fill="#97ff68" d="M1221 133l4 -7l-4 -4l-5 6z"/><path fill="#a7ff58" d="M1229 131l5 -6l-5 -5l-5 6z"/><path fill="#b7ff48" d="M1237 129l5 -6l-5 -4l-5 6z"/><path fill="#c7ff38" d="M1245 127l5 -6l-5 -4l-5 6z"/><path fill="#d7ff28" d="M1253 125l5 -6l-5 -3l-5 5z"/><path fill="#e7ff18" d="M1261 123l5 -6l-5 -3l-5 5z"/><path fill="#f7ff08" d="M1269 120l5 -5l-5 -3l-4 5z"/><path fill="#ffe700" d="M1277 118l5 -6l-5 -2l-4 5z"/><path fill="#38ffc7" d="M1184 144l5 -7l-5 -6l-4 7z"/><path fill="#48ffb7" d="M1192 143l5 -7l-5 -6l-4 7z"/><path fill="#58ffa7" d="M1200 141l5 -6l-5 -6l-4 7zM1209 140l4 -7l-4 -5l-5 7z"/><path fill="#68ff97" d="M1217 138l4 -6l-4 -5l-5 6z"/><path fill="#78ff87" d="M1225 137l4 -7l-4 -4l-5 6z"/><path fill="#87ff78" d="M1233 135l5 -7l-5 -4l-5 6z"/><path fill="#97ff68" d="M1241 133l5 -7l-5 -4l-5 7z"/><path fill="#b7ff48" d="M1249 131l5 -7l-5 -3l-5 6z"/><path fill="#c7ff38" d="M1257 128l5 -6l-5 -3l-5 6z"/><path fill="#d7ff28" d="M1265 126l5 -6l-5 -4l-4 6z"/><path fill="#f7ff08" d="M1273 123l5 -6l-5 -3l-4 6z"/><path fill="#18ffe7" d="M1188 149l5 -7l-5 -6l-4 7z"/><path fill="#28ffd7" d="M1196 148l5 -7l-5 -6l-4 7zM1205 146l4 -7l-5 -5l-4 7z"/><path fill="#38ffc7" d="M1213 145l4 -7l-4 -5l-5 6z"/><path fill="#48ffb7" d="M1221 143l4 -7l-4 -5l-5 7z"/><path fill="#68ff97" d="M1229 141l5 -7l-5 -4l-5 6z"/><path fill="#78ff87" d="M1237 139l5 -7l-5 -4l-5 6z"/><path fill="#87ff78" d="M1245 136l5 -6l-5 -4l-5 6z"/><path fill="#a7ff58" d="M1253 134l5 -7l-5 -3l-5 6z"/><path fill="#b7ff48" d="M1261 131l5 -6l-5 -4l-4 7z"/><path fill="#d7ff28" d="M1269 128l5 -6l-5 -3l-4 6z"/><path fill="#00f7ff" d="M1192 155l5 -8l-5 -6l-4 8zM1201 153l4 -7l-5 -6l-4 7z"/><path fill="#08fff7" d="M1209 151l4 -7l-4 -5l-5 7z"/><path fill="#28ffd7" d="M1217 149l4 -7l-4 -5l-5 7z"/><path fill="#38ffc7" d="M1225 147l5 -7l-5 -5l-5 7z"/><path fill="#48ffb7" d="M1233 145l5 -7l-5 -5l-5 7z"/><path fill="#58ffa7" d="M1241 142l5 -7l-5 -4l-5 7z"/><path fill="#78ff87" d="M1249 140l5 -7l-5 -4l-5 7z"/><path fill="#97ff68" d="M1257 137l5 -7l-5 -3l-5 6z"/><path fill="#a7ff58" d="M1265 134l5 -7l-5 -3l-4 7z"/><path fill="#00c7ff" d="M1197 160l4 -8l-5 -5l-4 7z"/><path fill="#00d7ff" d="M1205 158l4 -8l-4 -5l-5 8z"/><path fill="#00f7ff" d="M1213 156l4 -8l-4 -5l-5 8z"/><path fill="#08fff7" d="M1221 154l5 -8l-5 -5l-5 8z"/><path fill="#18ffe7" d="M1229 151l5 -7l-5 -5l-5 8z"/><path fill="#38ffc7" d="M1237 149l5 -7l-5 -5l-5 7z"/><path fill="#48ffb7" d="M1245 146l5 -7l-5 -4l-5 7z"/><path fill="#68ff97" d="M1253 143l5 -7l-5 -4l-5 7z"/><path fill="#87ff78" d="M1261 140l5 -7l-5 -3l-4 7z"/><path fill="#00a7ff" d="M1201 165l4 -8l-4 -5l-5 8z"/><path fill="#00b7ff" d="M1209 163l4 -8l-4 -5l-5 8z"/><path fill="#00d7ff" d="M1217 161l5 -8l-5 -5l-5 8z"/><path fill="#00e7ff" d="M1225 158l5 -7l-5 -5l-5 7z"/><path fill="#08fff7" d="M1233 156l5 -8l-5 -5l-5 8z"/><path fill="#18ffe7" d="M1241 153l5 -8l-5 -4l-5 7z"/><path fill="#38ffc7" d="M1249 150l5 -8l-5 -4l-5 8z"/><path fill="#58ffa7" d="M1257 147l5 -8l-5 -3l-4 7z"/><path fill="#0087ff" d="M1205 171l4 -9l-4 -5l-5 8z"/><path fill="#0097ff" d="M1213 168l4 -8l-4 -5l-5 8z"/><path fill="#00b7ff" d="M1221 166l5 -9l-5 -5l-5 8z"/><path fill="#00c7ff" d="M1229 163l5 -8l-5 -5l-5 8z"/><path fill="#00e7ff" d="M1237 160l5 -8l-5 -5l-5 8z"/><path fill="#08fff7" d="M1245 157l5 -8l-5 -4l-5 7z"/><path fill="#28ffd7" d="M1253 153l5 -7l-5 -4l-4 7z"/><path fill="#0068ff" d="M1209 176l4 -9l-4 -5l-5 8z"/><path fill="#0078ff" d="M1217 173l5 -8l-5 -6l-5 9z"/><path fill="#0097ff" d="M1225 170l5 -8l-5 -5l-5 8z"/><path fill="#00b7ff" d="M1233 167l5 -8l-5 -5l-5 8z"/><path fill="#00c7ff" d="M1241 164l5 -8l-5 -5l-5 8z"/><path fill="#00e7ff" d="M1249 161l5 -8l-5 -5l-4 8z"/><path fill="#0038ff" d="M1213 181l5 -9l-5 -5l-5 8z"/><path fill="#0058ff" d="M1221 178l5 -9l-5 -5l-5 9z"/><path fill="#0078ff" d="M1229 175l5 -9l-5 -5l-5 9z"/><path fill="#0097ff" d="M1237 171l5 -8l-5 -5l-5 9z"/><path fill="#00b7ff" d="M1245 168l5 -8l-5 -5l-4 8z"/><path fill="#0018ff" d="M1217 186l5 -9l-5 -5l-5 9z"/><path fill="#0038ff" d="M1225 183l5 -9l-5 -5l-5 8z"/><path fill="#0058ff" d="M1233 179l5 -9l-5 -4l-5 8z"/><path fill="#0078ff" d="M1241 176l5 -9l-5 -4l-4 8z"/><path fill="#0000f7" d="M1221 191l5 -9l-5 -5l-5 9z"/><path fill="#0018ff" d="M1229 187l5 -9l-5 -5l-5 9z"/><path fill="#0038ff" d="M1237 184l5 -9l-5 -5l-4 9z"/><path fill="#0000d7" d="M1225 196l5 -10l-5 -5l-5 10z"/><path fill="#0000f7" d="M1233 192l5 -9l-5 -5l-5 9z"/><path fill="#0000b7" d="M1229 201l5 -10l-5 -5l-5 10z"/></g></g><path d="M565.6 95.6 L565.6 19.6 M662.8 95.3 L662.8 19.3 M565.6 95.6 L614.6 114.5 M614.6 114.5 L662.8 95.3" stroke="#707070" stroke-width=".65" fill="none"/><path d="M565.6 19.6h-2.2M565.6 34.8h-2.2M565.6 50h-2.2M565.6 65.2h-2.2M565.6 80.4h-2.2M565.6 95.6h-2.2M565.6 95.6l-1.7 .7M614.6 114.5l1.7 .6M577.9 100.3l-1.7 .7M626.6 109.7l1.7 .6M590.1 105l-1.7 .7M638.7 104.9l1.7 .6M602.4 109.8l-1.7 .7M650.8 100.1l1.7 .6M614.6 114.5l-1.7 .7M662.8 95.3l1.7 .6" stroke="#777" stroke-width=".6"/><g class="tk"><text x="562.1" y="20.9" text-anchor="end">0.08</text><text x="562.1" y="36.1" text-anchor="end">0.078</text><text x="562.1" y="51.3" text-anchor="end">0.076</text><text x="562.1" y="66.5" text-anchor="end">0.074</text><text x="562.1" y="81.7" text-anchor="end">0.072</text><text x="562.1" y="96.9" text-anchor="end">0.07</text></g><g class="tk"><text x="561.7" y="103.8" text-anchor="end">60</text><text x="574" y="108.5" text-anchor="end">48</text><text x="586.2" y="113.2" text-anchor="end">36</text><text x="598.5" y="118" text-anchor="end">24</text><text x="610.7" y="122.7" text-anchor="end">12</text><text x="618.8" y="122.2">400</text><text x="630.9" y="117.4">450</text><text x="642.9" y="112.6">500</text><text x="655" y="107.8">550</text><text x="667" y="103">600</text></g><text class="zt" transform="translate(536.1 58.2) rotate(-90)" text-anchor="middle">Average friction</text><text class="zt" transform="translate(546 60.2) rotate(-90)" text-anchor="middle">coefficient</text><g transform="translate(579.1 118.1) rotate(11.5)"><text class="at" y="2.8" text-anchor="middle"><tspan font-style="italic">E</tspan></text></g><g transform="translate(650.3 117.1) rotate(-27)"><text class="at" y="2.8" text-anchor="middle"><tspan font-style="italic">A</tspan>/μm</text></g><text class="pp" x="554.8" y="145.3">(</text><text class="cp" x="562.4" y="148">d</text><text class="pp" x="571.6" y="145.3">)</text><text class="cp" x="586" y="148" font-style="italic">A-E</text><text class="cp" x="613.1" y="148">response</text><text class="cp" x="557.3" y="174">surface diagram</text><path d="M39.2 281.5 L90 262 M90 262 L141.8 282 M90 262 L90 186 M39.2 205.5 L90 186 M90 186 L141.8 206" stroke="#707070" stroke-width=".65" fill="none"/><g fill="none" stroke-width="0.6"><polyline stroke="#0000f4" points="89.6,301 89.1,300.6 88.6,300.3 88.1,299.9 87.5,299.5 87.2,299.3 86.5,298.9 86.1,298.6 85.5,298.3 84.8,297.9 84.4,297.6 83.8,297.3 83,296.9 82.3,296.5 81.9,296.3 81.2,296 80.4,295.6 79.6,295.2 78.8,294.9 78,294.5 77.6,294.4 76.7,294 75.9,293.7 75,293.3 74.1,293 73.3,292.7 72.8,292.5 71.9,292.2 71,291.9 70.1,291.6 69.1,291.3 68.2,291 67.5,290.8 66.7,290.6 65.7,290.3 64.7,290 64.2,289.8 63.2,289.6 62.2,289.3 61.5,289.1 60.6,288.9 59.6,288.6 59,288.5 58,288.3 56.9,288 56.4,287.9 55.3,287.6 54.8,287.5"/><polyline stroke="#007eff" points="95,300 94.6,299.6 94.2,299.3 93.8,299 93.3,298.6 92.9,298.3 92.4,298 91.8,297.6 91.5,297.3 90.8,296.9 90.5,296.7 89.8,296.3 89.1,295.9 88.8,295.7 88.1,295.3 87.3,294.9 86.9,294.7 86.2,294.4 85.5,294 84.7,293.6 83.9,293.3 83.1,292.9 82.2,292.6 81.8,292.4 80.9,292.1 80.1,291.7 79.6,291.6 78.7,291.3 77.8,290.9 76.9,290.6 76,290.3 75,290 74,289.7 73.5,289.6 72.6,289.3 71.6,289 70.9,288.8 70,288.6 69,288.3 68.3,288.2 67.4,288 66.4,287.7 65.8,287.6 64.7,287.3 63.9,287.1 63.1,287 62,286.7 61.4,286.6 60.3,286.4 59.8,286.2 58.6,286 58,285.9 56.9,285.7 56.3,285.6 55.2,285.3 54.6,285.2 53.4,285 52.8,284.9 51.8,284.7 51,284.6 50.2,284.5 49.3,284.3 48.7,284.2 47.4,284 46.8,283.9 45.8,283.7 45,283.6 44.3,283.5 44.3,283.5"/><polyline stroke="#08fff7" points="100.5,297.9 100.1,297.5 99.7,297.2 99.4,296.9 98.9,296.5 98.6,296.2 98.1,295.8 97.8,295.6 97.2,295.1 96.9,294.9 96.3,294.5 96,294.3 95.3,293.9 94.7,293.5 94.3,293.2 93.6,292.9 92.9,292.5 92.5,292.3 91.8,291.9 91,291.5 90.2,291.2 89.4,290.8 88.5,290.5 87.7,290.2 86.8,289.8 85.9,289.5 84.9,289.2 84,288.9 83,288.6 82.5,288.5 81.6,288.2 80.5,287.9 79.6,287.7 79,287.5 77.9,287.2 77.3,287.1 76.3,286.9 75.3,286.6 74.7,286.5 73.6,286.2 73,286.1 71.9,285.9 71.3,285.8 70.2,285.6 69.6,285.4 68.5,285.2 67.9,285.1 66.7,284.9 66.1,284.8 64.9,284.6 64.3,284.5 63.4,284.3 62.5,284.2 61.9,284.1 60.7,283.9 60.1,283.8 59,283.6 58.2,283.5 57.6,283.4 56.4,283.2 55.8,283.1 54.9,283 53.9,282.8 53.3,282.8 52.2,282.6 51.4,282.5 50.7,282.4 49.5,282.2 48.8,282.1 48.2,282 46.9,281.9 46.3,281.8 45.6,281.7 44.3,281.5 43.7,281.4 43,281.4 41.8,281.2 41.1,281.1 40.4,281 40.4,281"/><polyline stroke="#08fff7" points="115.7,271.9 116,272.3 116.3,272.5 116.8,273 117,273.2 117.4,273.6 117.8,273.9 118.1,274.2 118.7,274.6 119,274.8 119.6,275.2 120,275.5 120.5,275.9 121.1,276.3 121.5,276.5 122.2,276.9 122.9,277.3 123.2,277.5 124,277.9 124.8,278.2 125.5,278.6 126.4,279 127.2,279.3 128.1,279.6 129,280 129.9,280.3 130.8,280.6 131.8,280.9 132.7,281.2 133.2,281.3 134.3,281.6 135.3,281.8 135.8,282 136.9,282.2 138,282.5 138.5,282.6 139.6,282.8 139.6,282.8"/><polyline stroke="#91ff6e" points="108.2,294.9 108,294.6 107.8,294.3 107.6,293.9 107.4,293.6 107.2,293.3 107,293 106.7,292.6 106.4,292.3 106.2,292 105.9,291.6 105.6,291.3 105.3,291 104.9,290.6 104.6,290.3 104.2,290 103.8,289.6 103.4,289.3 102.9,289 102.2,288.6 101.8,288.4 101.1,288 100.3,287.6 99.4,287.3 98.5,287 97.6,286.7 96.7,286.4 96.1,286.3 95,286 94.3,285.8 93.4,285.6 92.5,285.4 91.7,285.3 90.8,285.1 89.9,285 89.3,284.9 88.1,284.7 87.5,284.6 86.4,284.4 85.6,284.3 85,284.2 83.7,284 83.1,283.9 82.3,283.8 81.2,283.7 80.6,283.6 79.8,283.5 78.6,283.3 78,283.2 77.2,283.2 76,283 75.3,282.9 74.7,282.8 73.5,282.7 72.7,282.6 72,282.5 71.1,282.4 70,282.3 69.4,282.2 68.7,282.1 67.5,282 66.7,281.9 66,281.8 65.1,281.7 64,281.6 63.3,281.5 62.7,281.5 61.6,281.3 60.6,281.2 60,281.2 59.3,281.1 58.1,281 57.3,280.9 56.6,280.8 55.8,280.7 54.6,280.6 53.9,280.5 53.2,280.5 52.3,280.4 51.1,280.2 50.5,280.2 49.8,280.1 48.8,280 47.7,279.9 47,279.8 46.4,279.7 45.4,279.7 44.3,279.5 44.3,279.5"/><polyline stroke="#91ff6e" points="105.7,268.1 105.8,268.4 105.9,268.8 106,269.1 106.1,269.4 106.2,269.7 106.3,270 106.4,270.3 106.5,270.7 106.7,271 106.8,271.4 106.9,271.8 107,272.1 107.2,272.4 107.3,272.7 107.4,273 107.6,273.3 107.7,273.7 107.9,274.1 108,274.4 108.2,274.6 108.3,274.9 108.5,275.4 108.8,275.7 108.9,276 109.1,276.3 109.3,276.6 109.5,277 109.8,277.4 109.9,277.6 110.2,277.9 110.5,278.4 110.7,278.6 111,278.9 111.4,279.4 111.7,279.6 112.1,280 112.5,280.3 112.9,280.6 113.3,281 114,281.4 114.3,281.6 115.1,282 115.9,282.3 116.7,282.7 117.6,283 118.5,283.3 119.5,283.6 120.2,283.8 121.1,284 122.1,284.2 122.7,284.3 123.8,284.6 124.4,284.7 125.6,284.9 126.2,285 127.1,285.1 128.1,285.3 128.7,285.4 129.8,285.5 130.6,285.6 131.2,285.7 131.9,285.8"/><polyline stroke="#ffe400" points="98.6,265.3 98.5,265.6 98.5,265.9 98.5,266.2 98.4,266.6 98.4,266.9 98.3,267.2 98.3,267.5 98.2,267.8 98.2,268.2 98.1,268.5 98,268.9 97.9,269.3 97.9,269.6 97.8,269.9 97.7,270.2 97.6,270.5 97.5,270.8 97.4,271.1 97.2,271.5 97.1,271.9 96.9,272.2 96.8,272.5 96.6,272.7 96.4,273.2 96.2,273.5 96,273.8 95.7,274.1 95.4,274.5 95.1,274.7 94.7,275.2 94.4,275.4 93.8,275.8 93.5,276.1 92.8,276.4 92,276.8 91.2,277.1 90.3,277.4 89.4,277.7 88.3,278 87.8,278.1 86.6,278.3 86,278.4 85.2,278.5 84,278.6 83.4,278.7 82.7,278.7 81.8,278.8 80.8,278.8 79.8,278.9 78.9,278.9 78.2,278.9 77.4,279 76.5,279 75.7,279 74.9,279 74,279 73.1,279 72.3,279 71.4,278.9 70.5,278.9 69.6,278.9 68.7,278.9 67.8,278.8 67,278.8 66.2,278.8 65.4,278.8 64.6,278.7 63.8,278.7 63.1,278.7 62.1,278.6 61.1,278.6 60.2,278.5 59.2,278.5 58.5,278.4 57.7,278.4 57,278.3 56.2,278.3 55.2,278.2 54.2,278.2 53.2,278.1 52.5,278.1 51.7,278 51,278 50.2,277.9 49.2,277.9 48.8,277.8"/><polyline stroke="#ff5b00" points="92.7,263.1 92.6,263.3 92.5,263.7 92.3,264.1 92.1,264.5 92,264.7 91.9,265 91.7,265.3 91.5,265.8 91.3,266.1 91.1,266.3 90.9,266.6 90.6,267.1 90.4,267.4 90.2,267.6 89.9,268 89.6,268.4 89.4,268.6 89.1,269 88.7,269.3 88.5,269.6 88,270 87.7,270.2 87.1,270.7 86.8,270.9 86.2,271.3 85.5,271.7 85.2,271.9 84.4,272.2 83.7,272.6 82.8,272.9 82,273.2 81,273.5 80.1,273.8 79.6,273.9 78.5,274.2 77.8,274.3 76.8,274.5 76.1,274.6 75.1,274.8 74.4,274.9 73.4,275 72.5,275.1 71.8,275.2 71,275.3 69.9,275.4 69.1,275.4 68.3,275.5 67.6,275.5 66.8,275.6 65.8,275.6 64.8,275.6 63.9,275.7 63,275.7 62.2,275.7 61.4,275.7 60.6,275.7 59.8,275.7 58.9,275.8 58.1,275.8 57.2,275.8 56.4,275.7 55.5,275.7 54.7,275.7 54.2,275.7"/><polyline stroke="#d00000" points="85.8,263.6 85.6,263.9 85.4,264.1 84.9,264.6 84.7,264.8 84.4,265.2 84,265.5 83.7,265.8 83.2,266.2 82.9,266.4 82.3,266.9 82,267.1 81.4,267.5 80.8,267.9 80.4,268.1 79.7,268.5 79,268.8 78.4,269.1 77.8,269.4 77,269.7 76.2,270 75.3,270.3 74.8,270.5 73.8,270.8 72.8,271 72.1,271.2 71.3,271.4 70.2,271.6 69.6,271.7 68.5,271.9 67.9,272 67,272.2 66,272.3 65.4,272.4 64.3,272.5 63.5,272.6 62.8,272.7 62,272.8 62,272.8"/></g><g filter="url(#bl)"><g transform="scale(.5)"><path fill="#ff1800" d="M180 420l5 1l-5 -7l-5 -1z"/><path fill="#ff5800" d="M184 425l5 1l-5 -7l-4 0z"/><path fill="#f70000" d="M176 419l5 1l-5 -7l-5 0z"/><path fill="#ff8700" d="M189 430l5 1l-5 -6l-5 -1z"/><path fill="#ff3800" d="M180 425l5 0l-5 -6l-5 -1z"/><path fill="#d70000" d="M172 419l4 0l-4 -7l-5 1z"/><path fill="#ffb700" d="M193 435l5 1l-5 -6l-5 -1z"/><path fill="#ff6800" d="M184 430l5 0l-5 -6l-4 0z"/><path fill="#ff1800" d="M176 424l5 0l-5 -6l-5 0z"/><path fill="#c70000" d="M167 419l5 0l-5 -7l-5 1z"/><path fill="#ffe700" d="M197 440l5 1l-5 -6l-5 -1z"/><path fill="#ff9700" d="M189 435l5 0l-5 -6l-5 0z"/><path fill="#ff4800" d="M180 429l5 0l-5 -6l-5 0z"/><path fill="#f70000" d="M172 424l5 0l-5 -6l-5 0z"/><path fill="#b70000" d="M163 420l5 -1l-5 -6l-5 0z"/><path fill="#e7ff18" d="M202 445l4 0l-4 -5l-5 -1z"/><path fill="#ffc700" d="M193 439l5 1l-5 -6l-5 -1z"/><path fill="#ff7800" d="M185 434l4 0l-5 -6l-4 0z"/><path fill="#ff2800" d="M176 429l5 0l-5 -6l-5 0z"/><path fill="#e70000" d="M167 425l5 -1l-5 -6l-4 1z"/><path fill="#a70000" d="M159 421l5 -2l-5 -6l-5 1z"/><path fill="#c7ff38" d="M206 449l5 1l-5 -6l-5 -1z"/><path fill="#ffe700" d="M197 444l5 0l-5 -5l-4 -1z"/><path fill="#ffa700" d="M189 439l5 0l-5 -6l-5 0z"/><path fill="#ff5800" d="M180 434l5 0l-5 -6l-5 0z"/><path fill="#ff1800" d="M172 430l5 -1l-5 -6l-5 1z"/><path fill="#d70000" d="M163 426l5 -2l-5 -6l-5 2z"/><path fill="#970000" d="M155 422l5 -2l-5 -6l-5 2z"/><path fill="#97ff68" d="M210 453l5 1l-5 -5l-5 -1z"/><path fill="#e7ff18" d="M202 448l5 1l-5 -6l-5 0z"/><path fill="#ffc700" d="M193 443l5 0l-5 -5l-5 0z"/><path fill="#ff8700" d="M185 439l4 -1l-4 -5l-5 0z"/><path fill="#ff4800" d="M176 434l5 0l-5 -6l-5 1z"/><path fill="#ff0800" d="M168 430l4 -1l-5 -6l-4 2z"/><path fill="#c70000" d="M159 427l5 -2l-5 -6l-5 2z"/><path fill="#970000" d="M150 423l5 -2l-5 -6l-5 2z"/><path fill="#78ff87" d="M215 457l4 1l-4 -5l-5 -1z"/><path fill="#c7ff38" d="M206 452l5 1l-5 -6l-5 0z"/><path fill="#fff700" d="M198 447l4 1l-5 -6l-4 0z"/><path fill="#ffa700" d="M189 443l5 0l-5 -6l-5 1z"/><path fill="#ff7800" d="M180 439l5 -1l-5 -5l-5 0z"/><path fill="#ff3800" d="M172 435l5 -1l-5 -6l-5 1z"/><path fill="#f70000" d="M163 432l5 -2l-5 -6l-5 2z"/><path fill="#c70000" d="M155 428l5 -2l-5 -6l-5 2z"/><path fill="#970000" d="M146 425l5 -2l-5 -6l-5 2z"/><path fill="#58ffa7" d="M219 461l5 1l-5 -5l-5 -1z"/><path fill="#a7ff58" d="M210 456l5 1l-5 -5l-5 -1z"/><path fill="#e7ff18" d="M202 451l5 1l-5 -5l-5 -1z"/><path fill="#ffd700" d="M193 447l5 0l-5 -5l-5 0z"/><path fill="#ff9700" d="M185 443l5 0l-5 -6l-5 1z"/><path fill="#ff5800" d="M176 439l5 -1l-5 -5l-5 1z"/><path fill="#ff2800" d="M168 436l5 -1l-5 -6l-5 2z"/><path fill="#f70000" d="M159 433l5 -2l-5 -6l-5 2z"/><path fill="#c70000" d="M151 430l4 -2l-5 -6l-4 2z"/><path fill="#a70000" d="M142 427l5 -2l-5 -6l-5 3z"/><path fill="#48ffb7" d="M223 464l5 1l-5 -4l-5 -1z"/><path fill="#87ff78" d="M215 459l5 1l-5 -5l-5 0z"/><path fill="#c7ff38" d="M206 455l5 0l-5 -4l-5 -1z"/><path fill="#fff700" d="M198 451l4 0l-4 -5l-5 0z"/><path fill="#ffb700" d="M189 447l5 0l-5 -5l-5 0z"/><path fill="#ff8700" d="M181 444l4 -1l-5 -6l-4 2z"/><path fill="#ff5800" d="M172 440l5 -1l-5 -5l-5 1z"/><path fill="#ff2800" d="M163 437l5 -1l-5 -6l-5 2z"/><path fill="#f70000" d="M155 435l5 -3l-5 -5l-5 2z"/><path fill="#d70000" d="M146 432l5 -2l-5 -6l-5 3z"/><path fill="#a70000" d="M138 430l5 -3l-5 -6l-5 3z"/><path fill="#28ffd7" d="M228 467l4 1l-5 -4l-4 -1z"/><path fill="#68ff97" d="M219 463l5 1l-5 -5l-5 -1z"/><path fill="#a7ff58" d="M210 459l5 0l-5 -5l-4 0z"/><path fill="#e7ff18" d="M202 455l5 0l-5 -5l-5 0z"/><path fill="#ffd700" d="M193 451l5 0l-5 -5l-5 0z"/><path fill="#ffa700" d="M185 448l5 -1l-5 -5l-5 1z"/><path fill="#ff7800" d="M176 445l5 -2l-5 -5l-5 2z"/><path fill="#ff4800" d="M168 442l5 -2l-5 -5l-5 2z"/><path fill="#ff2800" d="M159 439l5 -2l-5 -5l-5 2z"/><path fill="#f70000" d="M151 437l5 -3l-5 -5l-5 2z"/><path fill="#d70000" d="M142 435l5 -3l-5 -6l-5 3z"/><path fill="#b70000" d="M134 433l4 -4l-5 -5l-4 3z"/><path fill="#18ffe7" d="M232 470l5 2l-5 -5l-5 -1z"/><path fill="#58ffa7" d="M223 466l5 1l-5 -4l-5 -1z"/><path fill="#97ff68" d="M215 462l5 1l-5 -5l-5 0z"/><path fill="#c7ff38" d="M206 458l5 0l-5 -4l-5 0z"/><path fill="#fff700" d="M198 455l5 -1l-5 -4l-5 0z"/><path fill="#ffc700" d="M189 452l5 -1l-5 -5l-5 1z"/><path fill="#ff9700" d="M181 449l4 -2l-5 -5l-4 2z"/><path fill="#ff7800" d="M172 446l5 -2l-5 -5l-5 2z"/><path fill="#ff4800" d="M163 443l5 -2l-5 -5l-5 2z"/><path fill="#ff2800" d="M155 441l5 -2l-5 -6l-5 3z"/><path fill="#ff0800" d="M146 439l5 -3l-5 -5l-5 3z"/><path fill="#e70000" d="M138 438l5 -4l-5 -5l-5 3z"/><path fill="#d70000" d="M129 436l5 -4l-5 -5l-5 4z"/><path fill="#00f7ff" d="M236 473l5 1l-5 -3l-5 -2z"/><path fill="#38ffc7" d="M228 469l5 1l-5 -4l-5 -1z"/><path fill="#78ff87" d="M219 465l5 1l-5 -4l-5 -1z"/><path fill="#b7ff48" d="M211 462l4 0l-5 -5l-4 0z"/><path fill="#e7ff18" d="M202 458l5 0l-5 -5l-5 1z"/><path fill="#ffe700" d="M193 455l5 -1l-5 -4l-5 1z"/><path fill="#ffb700" d="M185 452l5 -1l-5 -5l-5 2z"/><path fill="#ff9700" d="M176 450l5 -2l-5 -5l-5 2z"/><path fill="#ff7800" d="M168 448l5 -3l-5 -5l-5 3z"/><path fill="#ff4800" d="M159 445l5 -2l-5 -5l-5 2z"/><path fill="#ff3800" d="M151 444l5 -3l-5 -6l-5 3z"/><path fill="#ff1800" d="M142 442l5 -3l-5 -6l-5 4z"/><path fill="#ff0800" d="M134 441l5 -4l-5 -5l-5 3z"/><path fill="#f70000" d="M125 440l5 -4l-5 -6l-5 4z"/><path fill="#00e7ff" d="M241 476l4 1l-5 -4l-4 -1z"/><path fill="#28ffd7" d="M232 472l5 1l-5 -4l-5 -1z"/><path fill="#68ff97" d="M223 468l5 1l-5 -4l-5 -1z"/><path fill="#97ff68" d="M215 465l5 0l-5 -4l-5 0z"/><path fill="#c7ff38" d="M206 462l5 -1l-5 -4l-5 0z"/><path fill="#f7ff08" d="M198 459l5 -1l-5 -5l-5 1z"/><path fill="#ffd700" d="M189 456l5 -1l-5 -5l-5 2z"/><path fill="#ffb700" d="M181 454l5 -2l-5 -5l-5 2z"/><path fill="#ff9700" d="M172 451l5 -2l-5 -4l-5 2z"/><path fill="#ff7800" d="M164 450l4 -3l-5 -5l-4 3z"/><path fill="#ff5800" d="M155 448l5 -3l-5 -5l-5 3z"/><path fill="#ff4800" d="M146 446l5 -3l-5 -5l-5 3z"/><path fill="#ff2800" d="M138 445l5 -3l-5 -6l-5 4z"/><path fill="#ff1800" d="M121 444l5 -5l-5 -5l-5 4zM129 444l5 -4l-5 -5l-5 4z"/><path fill="#00e7ff" d="M245 478l5 2l-5 -4l-5 -1z"/><path fill="#18ffe7" d="M236 475l5 0l-5 -3l-5 -1z"/><path fill="#58ffa7" d="M228 471l5 1l-5 -4l-5 -1z"/><path fill="#87ff78" d="M219 468l5 0l-5 -4l-5 0z"/><path fill="#b7ff48" d="M211 465l5 -1l-5 -4l-5 1z"/><path fill="#e7ff18" d="M202 462l5 -1l-5 -4l-5 1z"/><path fill="#fff700" d="M194 459l4 -1l-5 -4l-4 1z"/><path fill="#ffd700" d="M185 457l5 -1l-5 -5l-5 2z"/><path fill="#ffb700" d="M176 455l5 -2l-5 -5l-5 3z"/><path fill="#ff9700" d="M168 453l5 -2l-5 -5l-5 3z"/><path fill="#ff7800" d="M159 452l5 -3l-5 -5l-5 3z"/><path fill="#ff6800" d="M151 451l5 -4l-5 -5l-5 4z"/><path fill="#ff5800" d="M142 450l5 -4l-5 -5l-5 4z"/><path fill="#ff4800" d="M134 449l5 -4l-5 -6l-5 5z"/><path fill="#ff3800" d="M117 448l5 -5l-6 -5l-4 5zM125 448l5 -4l-5 -6l-5 5z"/><path fill="#00d7ff" d="M249 481l5 1l-5 -3l-5 -2z"/><path fill="#08fff7" d="M241 477l4 1l-5 -4l-4 0z"/><path fill="#48ffb7" d="M232 474l5 0l-5 -3l-5 -1z"/><path fill="#78ff87" d="M224 471l4 0l-5 -4l-4 0z"/><path fill="#a7ff58" d="M215 468l5 -1l-5 -4l-5 1z"/><path fill="#c7ff38" d="M206 465l5 -1l-5 -4l-5 1z"/><path fill="#f7ff08" d="M198 463l5 -1l-5 -5l-5 2z"/><path fill="#ffe700" d="M189 461l5 -2l-5 -4l-5 1z"/><path fill="#ffc700" d="M181 459l5 -2l-5 -5l-5 2z"/><path fill="#ffb700" d="M172 457l5 -2l-5 -5l-5 3z"/><path fill="#ff9700" d="M164 456l5 -3l-5 -5l-5 3z"/><path fill="#ff8700" d="M155 455l5 -4l-5 -5l-5 4z"/><path fill="#ff7800" d="M147 454l4 -4l-5 -5l-4 4z"/><path fill="#ff6800" d="M129 453l5 -5l-5 -5l-5 5zM138 453l5 -4l-5 -5l-5 4z"/><path fill="#ff5800" d="M112 453l5 -6l-5 -5l-5 5zM121 453l5 -5l-5 -6l-5 5z"/><path fill="#00d7ff" d="M254 483l4 1l-5 -3l-4 -1z"/><path fill="#08fff7" d="M245 479l5 1l-5 -3l-5 -1z"/><path fill="#38ffc7" d="M236 476l5 1l-5 -4l-5 0z"/><path fill="#68ff97" d="M228 473l5 0l-5 -3l-5 0z"/><path fill="#97ff68" d="M219 470l5 0l-5 -4l-5 1z"/><path fill="#b7ff48" d="M211 468l5 -1l-5 -4l-5 1z"/><path fill="#d7ff28" d="M202 466l5 -1l-5 -4l-5 1z"/><path fill="#f7ff08" d="M194 464l5 -2l-5 -4l-5 2z"/><path fill="#ffe700" d="M185 462l5 -2l-5 -4l-5 2z"/><path fill="#ffc700" d="M177 460l4 -2l-5 -4l-4 2z"/><path fill="#ffb700" d="M168 459l5 -3l-5 -4l-5 3z"/><path fill="#ffa700" d="M159 458l5 -3l-5 -5l-5 4z"/><path fill="#ff9700" d="M142 457l5 -4l-5 -5l-5 4zM151 458l5 -4l-5 -5l-5 4z"/><path fill="#ff8700" d="M108 458l5 -6l-5 -5l-5 6zM117 457l5 -5l-5 -5l-5 5zM125 457l5 -5l-5 -5l-5 5zM134 457l5 -5l-5 -5l-5 5z"/><path fill="#00c7ff" d="M258 484l5 2l-6 -3l-4 -1z"/><path fill="#00f7ff" d="M249 481l5 1l-5 -3l-5 -1z"/><path fill="#28ffd7" d="M241 478l5 1l-5 -3l-5 -1z"/><path fill="#58ffa7" d="M232 475l5 1l-5 -4l-5 0z"/><path fill="#87ff78" d="M224 473l4 0l-5 -4l-4 1z"/><path fill="#a7ff58" d="M215 471l5 -1l-5 -4l-5 1z"/><path fill="#c7ff38" d="M207 469l4 -2l-5 -3l-5 1z"/><path fill="#e7ff18" d="M198 467l5 -2l-5 -4l-5 2z"/><path fill="#fff700" d="M189 465l5 -2l-5 -4l-5 2z"/><path fill="#ffe700" d="M181 464l5 -3l-5 -4l-5 3z"/><path fill="#ffd700" d="M172 463l5 -3l-5 -4l-5 2z"/><path fill="#ffc700" d="M104 463l5 -6l-5 -5l-5 6zM164 462l5 -3l-5 -5l-5 4z"/><path fill="#ffb700" d="M112 462l5 -5l-5 -6l-5 6zM121 462l5 -6l-5 -5l-5 6zM147 461l5 -4l-5 -5l-5 4zM155 461l5 -3l-5 -5l-5 4z"/><path fill="#ffa700" d="M130 461l4 -5l-5 -5l-4 5zM138 461l5 -5l-5 -4l-5 4z"/><path fill="#00c7ff" d="M262 485l5 2l-5 -1l-5 -3z"/><path fill="#00f7ff" d="M254 483l4 1l-5 -3l-4 -1z"/><path fill="#28ffd7" d="M245 480l5 1l-5 -3l-5 -1z"/><path fill="#58ffa7" d="M236 478l5 0l-5 -3l-5 0z"/><path fill="#78ff87" d="M228 475l5 0l-5 -3l-5 0z"/><path fill="#97ff68" d="M219 473l5 -1l-5 -3l-5 1z"/><path fill="#b7ff48" d="M211 471l5 -1l-5 -3l-5 1z"/><path fill="#d7ff28" d="M202 470l5 -2l-5 -4l-5 2z"/><path fill="#e7ff18" d="M194 468l5 -2l-5 -4l-5 2z"/><path fill="#fff700" d="M100 469l5 -7l-5 -5l-5 7zM185 467l5 -2l-5 -4l-5 2z"/><path fill="#ffe700" d="M108 468l5 -6l-5 -6l-5 7zM168 465l5 -3l-5 -4l-5 3zM177 466l5 -3l-5 -4l-5 3z"/><path fill="#ffd700" d="M117 467l5 -6l-5 -5l-5 6zM125 466l5 -6l-5 -4l-5 5zM134 465l5 -5l-5 -4l-5 4zM151 465l5 -4l-5 -5l-5 4zM160 465l4 -4l-5 -4l-5 4z"/><path fill="#ffc700" d="M142 465l5 -5l-5 -4l-5 4z"/><path fill="#00c7ff" d="M267 486l4 3l-5 -1l-5 -3z"/><path fill="#00f7ff" d="M258 485l5 1l-5 -3l-5 -1z"/><path fill="#28ffd7" d="M249 482l5 1l-5 -3l-5 -1z"/><path fill="#48ffb7" d="M241 480l5 0l-5 -3l-5 0z"/><path fill="#68ff97" d="M232 477l5 0l-5 -3l-5 0z"/><path fill="#87ff78" d="M224 475l5 0l-5 -3l-5 0z"/><path fill="#a7ff58" d="M215 474l5 -1l-5 -4l-5 1z"/><path fill="#c7ff38" d="M95 475l5 -7l-5 -5l-5 7zM207 472l4 -1l-5 -4l-4 2z"/><path fill="#d7ff28" d="M104 473l5 -6l-5 -5l-5 6zM198 471l5 -2l-5 -4l-5 2z"/><path fill="#e7ff18" d="M113 472l4 -6l-5 -5l-4 6zM189 470l5 -3l-5 -3l-5 2z"/><path fill="#f7ff08" d="M121 471l5 -6l-5 -5l-5 6zM181 469l5 -3l-5 -4l-5 3z"/><path fill="#fff700" d="M130 470l5 -6l-5 -4l-5 5zM138 469l5 -5l-5 -4l-5 4zM164 468l5 -3l-5 -5l-5 4zM172 468l5 -3l-5 -4l-5 4z"/><path fill="#ffe700" d="M147 468l5 -4l-5 -4l-5 4zM155 468l5 -4l-5 -4l-5 4z"/><path fill="#00d7ff" d="M271 487l5 3l-5 -1l-5 -2z"/><path fill="#00f7ff" d="M263 485l4 2l-6 -2l-4 -1z"/><path fill="#28ffd7" d="M254 484l5 0l-6 -2l-4 -1z"/><path fill="#48ffb7" d="M245 481l5 1l-5 -3l-5 0z"/><path fill="#68ff97" d="M237 479l4 0l-5 -3l-4 1z"/><path fill="#87ff78" d="M91 481l5 -7l-5 -5l-5 7zM228 477l5 0l-5 -3l-5 1z"/><path fill="#97ff68" d="M100 479l5 -7l-5 -4l-5 6z"/><path fill="#a7ff58" d="M219 476l5 -1l-5 -3l-5 1z"/><path fill="#b7ff48" d="M108 478l5 -7l-5 -5l-5 7zM211 475l5 -2l-5 -3l-5 1z"/><path fill="#c7ff38" d="M117 476l5 -6l-5 -5l-5 6zM202 473l5 -1l-5 -4l-5 2z"/><path fill="#d7ff28" d="M125 474l5 -5l-5 -5l-5 6zM194 473l5 -3l-5 -3l-5 2z"/><path fill="#e7ff18" d="M134 473l5 -5l-5 -4l-5 5zM185 472l5 -3l-5 -4l-5 3z"/><path fill="#f7ff08" d="M142 472l5 -4l-5 -5l-5 5zM151 472l5 -5l-5 -4l-5 5zM160 471l5 -4l-6 -4l-4 4zM168 471l5 -3l-5 -4l-5 3zM177 471l5 -3l-5 -3l-5 3z"/><path fill="#00d7ff" d="M275 488l5 3l-5 -1l-5 -2z"/><path fill="#08fff7" d="M267 486l4 2l-5 -1l-4 -2z"/><path fill="#28ffd7" d="M258 485l5 1l-5 -3l-5 0z"/><path fill="#38ffc7" d="M87 488l5 -7l-5 -5l-5 7z"/><path fill="#48ffb7" d="M249 483l5 0l-5 -2l-5 -1z"/><path fill="#58ffa7" d="M96 486l4 -7l-5 -5l-4 7z"/><path fill="#68ff97" d="M241 481l5 0l-5 -3l-5 0z"/><path fill="#78ff87" d="M104 484l5 -7l-5 -5l-5 7z"/><path fill="#87ff78" d="M232 479l5 0l-5 -3l-5 1z"/><path fill="#97ff68" d="M113 481l5 -6l-5 -5l-5 7zM224 478l5 -1l-5 -3l-5 1z"/><path fill="#a7ff58" d="M121 480l5 -6l-5 -5l-5 6zM215 477l5 -2l-5 -3l-5 2z"/><path fill="#b7ff48" d="M130 478l5 -5l-5 -5l-5 6z"/><path fill="#c7ff38" d="M138 477l5 -5l-5 -5l-5 6zM198 475l5 -2l-5 -4l-5 3zM207 476l5 -2l-5 -3l-5 2z"/><path fill="#d7ff28" d="M147 476l5 -5l-5 -4l-5 5zM155 475l5 -4l-5 -4l-5 4zM190 475l4 -3l-5 -4l-4 3z"/><path fill="#e7ff18" d="M164 475l5 -4l-5 -4l-5 4zM172 474l5 -3l-5 -4l-5 4zM181 474l5 -3l-5 -3l-5 3z"/><path fill="#00e7ff" d="M83 495l5 -8l-5 -5l-5 8zM279 489l5 3l-5 -1l-5 -2z"/><path fill="#08fff7" d="M271 487l5 2l-5 0l-5 -3z"/><path fill="#18ffe7" d="M91 493l5 -8l-5 -5l-5 8z"/><path fill="#28ffd7" d="M263 486l4 1l-5 -2l-5 -1z"/><path fill="#38ffc7" d="M100 490l5 -7l-5 -5l-5 7z"/><path fill="#48ffb7" d="M254 484l5 0l-5 -2l-5 0z"/><path fill="#58ffa7" d="M108 487l5 -6l-5 -5l-5 7z"/><path fill="#68ff97" d="M245 483l5 -1l-5 -2l-5 0z"/><path fill="#78ff87" d="M117 485l5 -6l-5 -5l-5 7z"/><path fill="#87ff78" d="M125 483l5 -6l-5 -4l-5 6zM237 481l5 -1l-5 -2l-5 1z"/><path fill="#97ff68" d="M134 482l5 -6l-5 -4l-5 6zM228 480l5 -1l-5 -3l-5 1z"/><path fill="#a7ff58" d="M220 479l4 -2l-5 -3l-4 2z"/><path fill="#b7ff48" d="M143 480l4 -5l-5 -4l-4 5zM151 479l5 -5l-5 -4l-5 5zM211 478l5 -2l-5 -3l-5 2z"/><path fill="#c7ff38" d="M160 478l5 -4l-5 -4l-5 4zM168 478l5 -4l-5 -4l-5 4zM194 477l5 -3l-5 -3l-5 3zM202 477l5 -2l-5 -3l-5 2z"/><path fill="#d7ff28" d="M177 477l5 -3l-5 -4l-5 4zM185 477l5 -3l-5 -4l-5 4z"/><path fill="#00c7ff" d="M87 500l5 -8l-5 -5l-5 8z"/><path fill="#00e7ff" d="M96 497l4 -8l-5 -5l-4 8z"/><path fill="#18ffe7" d="M104 494l5 -7l-5 -5l-5 7zM275 488l5 2l-5 0l-5 -3z"/><path fill="#38ffc7" d="M113 491l5 -7l-5 -4l-5 7zM267 486l4 2l-5 -1l-4 -2z"/><path fill="#58ffa7" d="M121 489l5 -6l-5 -5l-5 7zM258 485l5 1l-5 -2l-5 -1z"/><path fill="#68ff97" d="M130 487l5 -6l-5 -4l-5 6zM250 484l4 0l-5 -3l-5 1z"/><path fill="#87ff78" d="M138 485l5 -6l-5 -3l-5 5zM241 483l5 -1l-5 -2l-5 0z"/><path fill="#97ff68" d="M147 483l5 -5l-5 -4l-5 6zM232 481l5 -1l-5 -2l-5 1z"/><path fill="#a7ff58" d="M155 482l5 -5l-5 -3l-5 4zM224 481l5 -2l-5 -2l-5 1z"/><path fill="#b7ff48" d="M164 481l5 -4l-5 -4l-5 5zM173 480l4 -4l-5 -3l-4 4zM207 480l5 -3l-5 -3l-5 3zM215 480l5 -2l-5 -3l-5 2z"/><path fill="#c7ff38" d="M181 480l5 -4l-5 -3l-5 3zM190 479l5 -3l-5 -3l-5 3zM198 479l5 -2l-5 -3l-5 2z"/><path fill="#00a7ff" d="M91 504l5 -8l-5 -5l-5 8z"/><path fill="#00c7ff" d="M100 500l5 -7l-5 -5l-5 8z"/><path fill="#00f7ff" d="M108 498l5 -8l-5 -4l-5 7z"/><path fill="#18ffe7" d="M117 495l5 -7l-5 -4l-5 7z"/><path fill="#38ffc7" d="M126 492l4 -6l-5 -4l-4 6z"/><path fill="#48ffb7" d="M271 486l5 2l-5 0l-5 -2z"/><path fill="#58ffa7" d="M134 490l5 -6l-5 -4l-5 6zM263 486l4 1l-5 -2l-5 0z"/><path fill="#68ff97" d="M143 488l5 -5l-5 -4l-5 5z"/><path fill="#78ff87" d="M254 485l5 0l-5 -2l-5 0z"/><path fill="#87ff78" d="M151 486l5 -5l-5 -3l-5 5zM245 484l5 -1l-5 -2l-5 1z"/><path fill="#97ff68" d="M160 485l5 -5l-5 -3l-5 5zM237 483l5 -1l-5 -2l-5 1z"/><path fill="#a7ff58" d="M168 484l5 -4l-5 -4l-5 4zM177 483l5 -4l-5 -3l-5 4zM220 482l5 -2l-6 -3l-4 2zM228 482l5 -1l-5 -3l-5 2z"/><path fill="#b7ff48" d="M185 482l5 -3l-5 -3l-5 3zM194 482l5 -3l-5 -3l-5 3zM203 481l4 -2l-5 -3l-5 3zM211 481l5 -2l-5 -2l-5 2z"/><path fill="#0087ff" d="M96 508l5 -8l-5 -5l-5 8z"/><path fill="#00a7ff" d="M104 504l5 -7l-5 -5l-5 8z"/><path fill="#00d7ff" d="M113 501l5 -7l-5 -4l-5 7z"/><path fill="#00f7ff" d="M121 498l5 -7l-5 -3l-5 6z"/><path fill="#18ffe7" d="M130 496l5 -7l-5 -4l-5 7z"/><path fill="#38ffc7" d="M138 493l5 -6l-5 -3l-5 6z"/><path fill="#58ffa7" d="M147 491l5 -5l-5 -4l-5 6z"/><path fill="#68ff97" d="M267 486l5 1l-6 -1l-4 0z"/><path fill="#78ff87" d="M156 489l4 -5l-5 -3l-4 5zM258 486l5 0l-5 -2l-5 0z"/><path fill="#87ff78" d="M164 488l5 -5l-5 -3l-5 4zM250 485l4 -1l-5 -2l-4 1z"/><path fill="#97ff68" d="M173 486l5 -4l-5 -3l-5 4zM241 484l5 -1l-5 -2l-5 1z"/><path fill="#a7ff58" d="M181 485l5 -4l-5 -3l-5 4zM190 484l5 -3l-5 -3l-5 3zM224 483l5 -1l-5 -3l-5 2zM232 484l5 -2l-5 -2l-5 1z"/><path fill="#b7ff48" d="M198 484l5 -3l-5 -3l-5 3zM207 483l5 -2l-5 -3l-5 3zM215 483l5 -2l-5 -2l-5 2z"/><path fill="#0068ff" d="M100 511l5 -8l-5 -4l-5 8z"/><path fill="#0097ff" d="M109 508l4 -8l-5 -4l-4 8z"/><path fill="#00b7ff" d="M117 504l5 -7l-5 -4l-5 8z"/><path fill="#00e7ff" d="M126 501l5 -6l-5 -4l-5 7z"/><path fill="#08fff7" d="M134 499l5 -7l-5 -3l-5 6z"/><path fill="#28ffd7" d="M143 496l5 -6l-5 -3l-5 6z"/><path fill="#48ffb7" d="M151 494l5 -6l-5 -3l-5 6z"/><path fill="#68ff97" d="M160 492l5 -5l-5 -3l-5 5z"/><path fill="#78ff87" d="M168 490l5 -4l-5 -4l-5 5z"/><path fill="#87ff78" d="M177 489l5 -5l-5 -3l-5 5zM263 487l4 0l-5 -2l-5 0z"/><path fill="#97ff68" d="M185 487l5 -3l-5 -3l-5 4zM245 485l5 -1l-5 -2l-5 1zM254 486l5 -1l-5 -1l-5 0z"/><path fill="#a7ff58" d="M194 486l5 -3l-5 -3l-5 4zM203 486l5 -3l-6 -3l-4 3zM228 485l5 -2l-5 -2l-5 2zM237 485l5 -1l-5 -2l-5 1z"/><path fill="#b7ff48" d="M211 485l5 -2l-5 -3l-5 3zM220 485l5 -2l-5 -3l-5 3z"/><path fill="#0048ff" d="M104 515l5 -8l-5 -4l-5 8z"/><path fill="#0078ff" d="M113 511l5 -7l-5 -4l-5 7z"/><path fill="#00a7ff" d="M121 508l5 -7l-5 -4l-5 7z"/><path fill="#00c7ff" d="M130 505l5 -7l-5 -4l-5 7z"/><path fill="#00f7ff" d="M139 502l4 -7l-5 -3l-4 6z"/><path fill="#18ffe7" d="M147 499l5 -6l-5 -3l-5 6z"/><path fill="#38ffc7" d="M156 497l5 -6l-5 -3l-5 5z"/><path fill="#58ffa7" d="M164 494l5 -5l-5 -3l-5 5z"/><path fill="#68ff97" d="M173 492l5 -4l-5 -3l-5 5z"/><path fill="#87ff78" d="M181 491l5 -4l-5 -3l-5 4z"/><path fill="#97ff68" d="M190 489l5 -3l-5 -3l-5 4z"/><path fill="#a7ff58" d="M198 488l5 -3l-5 -3l-5 4zM207 487l5 -3l-5 -2l-5 3zM241 486l5 -1l-5 -2l-5 1zM250 486l5 -1l-5 -1l-5 1zM258 487l5 -1l-5 -1l-5 0z"/><path fill="#b7ff48" d="M215 487l5 -3l-5 -2l-5 2zM224 486l5 -2l-5 -2l-5 2zM233 486l4 -2l-5 -2l-4 2z"/><path fill="#0028ff" d="M109 518l4 -8l-4 -4l-5 8z"/><path fill="#0068ff" d="M117 514l5 -7l-5 -4l-5 8z"/><path fill="#0097ff" d="M126 511l5 -7l-5 -4l-5 7z"/><path fill="#00b7ff" d="M134 507l5 -6l-5 -4l-5 7z"/><path fill="#00e7ff" d="M143 504l5 -6l-5 -3l-5 6z"/><path fill="#08fff7" d="M151 502l5 -6l-5 -3l-5 5z"/><path fill="#28ffd7" d="M160 499l5 -5l-5 -3l-5 5z"/><path fill="#48ffb7" d="M168 497l5 -5l-5 -3l-5 5z"/><path fill="#68ff97" d="M177 495l5 -5l-5 -3l-5 5z"/><path fill="#78ff87" d="M186 493l4 -4l-5 -3l-4 4z"/><path fill="#87ff78" d="M194 491l5 -4l-5 -2l-5 4z"/><path fill="#97ff68" d="M203 490l5 -3l-5 -3l-5 4z"/><path fill="#a7ff58" d="M211 489l5 -3l-5 -2l-5 3z"/><path fill="#b7ff48" d="M220 488l5 -2l-5 -3l-5 3zM228 487l5 -2l-5 -2l-5 3zM237 487l5 -2l-5 -1l-5 1zM245 487l5 -1l-5 -2l-5 1zM254 487l5 -1l-5 -1l-5 1z"/><path fill="#0018ff" d="M113 521l5 -8l-5 -3l-5 8z"/><path fill="#0048ff" d="M121 517l5 -7l-5 -4l-4 8z"/><path fill="#0078ff" d="M130 513l5 -7l-5 -3l-5 7z"/><path fill="#00a7ff" d="M139 510l4 -7l-5 -3l-4 7z"/><path fill="#00d7ff" d="M147 507l5 -6l-5 -3l-5 6z"/><path fill="#00f7ff" d="M156 504l5 -6l-5 -3l-5 6z"/><path fill="#28ffd7" d="M164 501l5 -5l-5 -3l-5 5z"/><path fill="#48ffb7" d="M173 499l5 -5l-5 -3l-5 5z"/><path fill="#58ffa7" d="M181 497l5 -5l-5 -3l-5 5z"/><path fill="#78ff87" d="M190 495l5 -5l-5 -2l-5 4z"/><path fill="#87ff78" d="M198 493l5 -4l-5 -2l-5 4z"/><path fill="#97ff68" d="M207 491l5 -3l-5 -2l-5 3z"/><path fill="#a7ff58" d="M216 490l4 -3l-5 -2l-4 3z"/><path fill="#b7ff48" d="M224 489l5 -2l-5 -2l-5 2z"/><path fill="#c7ff38" d="M233 488l5 -2l-5 -1l-5 2zM241 488l5 -2l-5 -1l-5 1zM250 488l5 -2l-5 -1l-5 1z"/><path fill="#0008ff" d="M117 524l5 -8l-5 -3l-5 8z"/><path fill="#0038ff" d="M126 520l5 -7l-5 -4l-5 8z"/><path fill="#0068ff" d="M134 516l5 -7l-5 -3l-5 7z"/><path fill="#0097ff" d="M143 513l5 -7l-5 -3l-5 7z"/><path fill="#00c7ff" d="M151 509l5 -6l-5 -3l-5 6z"/><path fill="#00f7ff" d="M160 506l5 -6l-5 -2l-5 5z"/><path fill="#18ffe7" d="M169 503l4 -5l-5 -3l-4 6z"/><path fill="#38ffc7" d="M177 501l5 -5l-5 -3l-5 5z"/><path fill="#58ffa7" d="M186 498l5 -4l-5 -3l-5 5z"/><path fill="#78ff87" d="M194 496l5 -4l-5 -2l-5 4z"/><path fill="#87ff78" d="M203 494l5 -3l-5 -2l-5 3z"/><path fill="#a7ff58" d="M211 493l5 -4l-5 -2l-5 4z"/><path fill="#b7ff48" d="M220 491l5 -3l-5 -1l-5 3z"/><path fill="#c7ff38" d="M228 490l5 -2l-5 -2l-5 3zM237 489l5 -2l-5 -1l-5 2z"/><path fill="#d7ff28" d="M246 489l4 -2l-5 -1l-5 1z"/><path fill="#0000f7" d="M122 527l4 -8l-5 -3l-4 8z"/><path fill="#0028ff" d="M130 523l5 -8l-5 -3l-5 8z"/><path fill="#0068ff" d="M139 519l5 -7l-5 -3l-5 7z"/><path fill="#0097ff" d="M147 515l5 -7l-5 -3l-5 7z"/><path fill="#00c7ff" d="M156 511l5 -6l-5 -3l-5 7z"/><path fill="#00e7ff" d="M164 508l5 -6l-5 -2l-5 6z"/><path fill="#18ffe7" d="M173 505l5 -5l-5 -3l-5 6z"/><path fill="#38ffc7" d="M181 502l5 -5l-5 -2l-5 5z"/><path fill="#58ffa7" d="M190 500l5 -5l-5 -2l-5 5z"/><path fill="#78ff87" d="M199 498l4 -4l-5 -3l-4 5z"/><path fill="#97ff68" d="M207 496l5 -4l-5 -2l-5 4z"/><path fill="#a7ff58" d="M216 494l5 -3l-5 -2l-5 3z"/><path fill="#b7ff48" d="M224 492l5 -3l-5 -1l-5 3z"/><path fill="#c7ff38" d="M233 491l5 -2l-5 -2l-5 3z"/><path fill="#d7ff28" d="M241 490l5 -2l-5 -1l-5 2z"/><path fill="#0000e7" d="M126 529l5 -7l-5 -3l-5 7z"/><path fill="#0018ff" d="M134 525l5 -7l-5 -3l-5 7z"/><path fill="#0058ff" d="M143 521l5 -7l-5 -3l-5 7z"/><path fill="#0087ff" d="M152 517l4 -7l-5 -2l-4 6z"/><path fill="#00b7ff" d="M160 513l5 -6l-5 -2l-5 6z"/><path fill="#00e7ff" d="M169 510l5 -6l-5 -2l-5 6z"/><path fill="#18ffe7" d="M177 507l5 -6l-5 -2l-5 6z"/><path fill="#38ffc7" d="M186 504l5 -5l-5 -2l-5 5z"/><path fill="#58ffa7" d="M194 501l5 -4l-5 -2l-5 4z"/><path fill="#78ff87" d="M203 499l5 -4l-5 -2l-5 4z"/><path fill="#97ff68" d="M211 497l5 -4l-5 -2l-5 4z"/><path fill="#b7ff48" d="M220 495l5 -3l-5 -2l-5 3z"/><path fill="#c7ff38" d="M229 493l4 -3l-5 -1l-5 3z"/><path fill="#d7ff28" d="M237 492l5 -3l-5 -1l-5 2z"/><path fill="#0000d7" d="M130 532l5 -8l-5 -3l-5 8z"/><path fill="#0018ff" d="M139 527l5 -7l-5 -3l-5 8z"/><path fill="#0048ff" d="M147 523l5 -7l-5 -3l-5 7z"/><path fill="#0087ff" d="M156 519l5 -7l-5 -2l-5 7z"/><path fill="#00b7ff" d="M164 515l5 -6l-5 -2l-5 6z"/><path fill="#00e7ff" d="M173 512l5 -6l-5 -2l-5 5z"/><path fill="#18ffe7" d="M182 508l4 -5l-5 -2l-4 5z"/><path fill="#38ffc7" d="M190 505l5 -5l-5 -2l-5 5z"/><path fill="#68ff97" d="M199 502l5 -4l-5 -2l-5 5z"/><path fill="#87ff78" d="M207 500l5 -4l-5 -2l-5 4z"/><path fill="#a7ff58" d="M216 498l5 -4l-5 -2l-5 4z"/><path fill="#b7ff48" d="M224 496l5 -4l-5 -1l-5 3z"/><path fill="#d7ff28" d="M233 494l5 -3l-5 -1l-5 3z"/><path fill="#0000c7" d="M135 534l4 -8l-5 -2l-4 7z"/><path fill="#0008ff" d="M143 529l5 -7l-5 -3l-5 8z"/><path fill="#0048ff" d="M152 525l4 -7l-4 -2l-5 7z"/><path fill="#0087ff" d="M160 521l5 -7l-5 -2l-5 6z"/><path fill="#00b7ff" d="M169 517l5 -6l-5 -2l-5 6z"/><path fill="#00e7ff" d="M177 513l5 -6l-5 -2l-5 6z"/><path fill="#18ffe7" d="M186 510l5 -6l-5 -2l-5 6z"/><path fill="#48ffb7" d="M194 506l5 -4l-5 -2l-5 5z"/><path fill="#68ff97" d="M203 503l5 -4l-5 -2l-5 5z"/><path fill="#87ff78" d="M211 501l5 -4l-5 -2l-5 4z"/><path fill="#a7ff58" d="M220 498l5 -3l-5 -2l-5 4z"/><path fill="#c7ff38" d="M229 496l4 -3l-5 -1l-4 3z"/><path fill="#0000c7" d="M139 536l5 -8l-5 -2l-5 8z"/><path fill="#0008ff" d="M147 531l5 -7l-5 -2l-5 7z"/><path fill="#0048ff" d="M156 527l5 -7l-5 -3l-5 7z"/><path fill="#0087ff" d="M164 522l5 -6l-5 -2l-4 6z"/><path fill="#00b7ff" d="M173 518l5 -6l-5 -2l-5 6z"/><path fill="#00e7ff" d="M182 514l4 -5l-5 -2l-4 6z"/><path fill="#28ffd7" d="M190 511l5 -6l-5 -1l-5 5z"/><path fill="#48ffb7" d="M199 507l5 -4l-5 -2l-5 5z"/><path fill="#78ff87" d="M207 504l5 -4l-5 -1l-5 4z"/><path fill="#97ff68" d="M216 501l5 -4l-5 -1l-5 4z"/><path fill="#b7ff48" d="M224 499l5 -4l-5 -1l-5 4z"/><path fill="#0000c7" d="M143 538l5 -8l-5 -2l-5 8z"/><path fill="#0008ff" d="M152 533l5 -8l-5 -2l-5 8z"/><path fill="#0048ff" d="M160 528l5 -7l-5 -2l-5 7z"/><path fill="#0087ff" d="M169 524l5 -7l-5 -2l-5 7z"/><path fill="#00c7ff" d="M177 519l5 -6l-5 -1l-5 6z"/><path fill="#00f7ff" d="M186 515l5 -5l-5 -2l-5 6z"/><path fill="#28ffd7" d="M194 512l5 -6l-5 -1l-5 5z"/><path fill="#58ffa7" d="M203 508l5 -5l-5 -1l-5 5z"/><path fill="#87ff78" d="M212 505l4 -4l-5 -2l-4 5z"/><path fill="#a7ff58" d="M220 502l5 -4l-5 -1l-5 4z"/><path fill="#0000c7" d="M147 539l5 -7l-5 -2l-4 7z"/><path fill="#0008ff" d="M156 534l5 -7l-5 -2l-5 7z"/><path fill="#0048ff" d="M165 529l4 -6l-5 -2l-4 7z"/><path fill="#0087ff" d="M173 525l5 -7l-5 -1l-5 6z"/><path fill="#00c7ff" d="M182 520l5 -6l-5 -1l-5 6z"/><path fill="#00f7ff" d="M190 516l5 -5l-5 -2l-5 6z"/><path fill="#38ffc7" d="M199 512l5 -5l-5 -1l-5 5z"/><path fill="#68ff97" d="M207 509l5 -5l-5 -1l-5 5z"/><path fill="#97ff68" d="M216 505l5 -4l-5 -1l-5 4z"/><path fill="#0000c7" d="M152 541l5 -8l-5 -2l-5 8z"/><path fill="#0008ff" d="M160 536l5 -8l-5 -1l-5 7z"/><path fill="#0058ff" d="M169 531l5 -7l-5 -2l-5 7z"/><path fill="#0097ff" d="M177 526l5 -7l-5 -1l-5 6z"/><path fill="#00d7ff" d="M186 521l5 -6l-5 -1l-5 6z"/><path fill="#08fff7" d="M195 517l4 -6l-5 -1l-4 6z"/><path fill="#48ffb7" d="M203 513l5 -5l-5 -1l-5 5z"/><path fill="#78ff87" d="M212 509l5 -5l-5 0l-5 4z"/><path fill="#0000c7" d="M156 542l5 -8l-5 -1l-5 8z"/><path fill="#0018ff" d="M165 537l4 -8l-4 -1l-5 7z"/><path fill="#0058ff" d="M173 532l5 -7l-5 -2l-5 7z"/><path fill="#0097ff" d="M182 527l5 -7l-5 -1l-5 6z"/><path fill="#00d7ff" d="M190 522l5 -6l-5 -1l-5 6z"/><path fill="#18ffe7" d="M199 518l5 -6l-5 -1l-5 6z"/><path fill="#58ffa7" d="M207 513l5 -5l-5 -1l-5 6z"/><path fill="#0000c7" d="M160 543l5 -7l-5 -2l-4 8z"/><path fill="#0018ff" d="M169 538l5 -8l-5 -1l-5 7z"/><path fill="#0068ff" d="M178 532l4 -6l-5 -2l-4 7z"/><path fill="#00a7ff" d="M186 527l5 -6l-5 -1l-5 6z"/><path fill="#00e7ff" d="M195 522l4 -5l-4 -1l-5 6z"/><path fill="#28ffd7" d="M203 518l5 -6l-5 0l-5 5z"/><path fill="#0000d7" d="M165 544l5 -7l-5 -2l-5 8z"/><path fill="#0028ff" d="M173 538l5 -7l-5 -1l-5 7z"/><path fill="#0078ff" d="M182 533l5 -7l-5 -1l-5 7z"/><path fill="#00b7ff" d="M190 528l5 -7l-5 0l-5 6z"/><path fill="#00f7ff" d="M199 523l5 -6l-5 -1l-5 6z"/><path fill="#0000e7" d="M169 545l5 -8l-5 -1l-5 8z"/><path fill="#0038ff" d="M178 539l4 -7l-4 -1l-5 7z"/><path fill="#0087ff" d="M186 533l5 -6l-5 -1l-5 7z"/><path fill="#00c7ff" d="M195 528l5 -6l-5 -1l-5 6z"/><path fill="#0000f7" d="M173 545l5 -7l-5 -1l-5 7z"/><path fill="#0048ff" d="M182 539l5 -7l-5 -1l-5 8z"/><path fill="#0097ff" d="M190 534l5 -7l-5 -1l-4 7z"/><path fill="#0008ff" d="M178 546l4 -8l-4 -1l-5 8z"/><path fill="#0058ff" d="M186 539l5 -7l-5 0l-5 7z"/><path fill="#0018ff" d="M182 546l5 -8l-5 0l-5 7z"/></g></g><path d="M39.2 281.5 L39.2 205.5 M141.8 282 L141.8 206 M39.2 281.5 L91 301.5 M91 301.5 L141.8 282" stroke="#707070" stroke-width=".65" fill="none"/><path d="M39.2 205.5h-2.2M39.2 224.5h-2.2M39.2 243.5h-2.2M39.2 262.5h-2.2M39.2 281.5h-2.2M39.2 281.5l-1.7 .6M91 301.5l1.7 .6M52.2 286.5l-1.7 .6M103.7 296.6l1.7 .6M65.1 291.5l-1.7 .6M116.4 291.8l1.7 .6M78 296.5l-1.7 .6M129.1 286.9l1.7 .6M91 301.5l-1.7 .6M141.8 282l1.7 .6" stroke="#777" stroke-width=".6"/><g class="tk"><text x="35.7" y="206.8" text-anchor="end">0.08</text><text x="35.7" y="225.8" text-anchor="end">0.078</text><text x="35.7" y="244.8" text-anchor="end">0.076</text><text x="35.7" y="263.8" text-anchor="end">0.074</text><text x="35.7" y="282.8" text-anchor="end">0.072</text></g><g class="tk"><text x="35.3" y="289.7" text-anchor="end">13</text><text x="48.3" y="294.7" text-anchor="end">12</text><text x="61.2" y="299.7" text-anchor="end">11</text><text x="74.1" y="304.7" text-anchor="end">10</text><text x="87.1" y="309.7" text-anchor="end">9</text><text x="95.2" y="309.2">400</text><text x="107.9" y="304.3">450</text><text x="120.6" y="299.4">500</text><text x="133.3" y="294.6">550</text><text x="146" y="289.7">600</text></g><text class="zt" transform="translate(7.4 246.8) rotate(-90)" text-anchor="middle">Average friction</text><text class="zt" transform="translate(17.3 245.4) rotate(-90)" text-anchor="middle">coefficient</text><g transform="translate(52.7 304) rotate(11.5)"><text class="at" y="2.8" text-anchor="middle"><tspan font-style="italic">F</tspan></text></g><g transform="translate(129.3 303.8) rotate(-27)"><text class="at" y="2.8" text-anchor="middle"><tspan font-style="italic">A</tspan>/μm</text></g><text class="pp" x="25" y="335.3">(</text><text class="cp" x="32.3" y="338">e</text><text class="pp" x="41.6" y="335.3">)</text><text class="cp" x="55.6" y="338" font-style="italic">A-F</text><text class="cp" x="82.5" y="338">response</text><text class="cp" x="27.3" y="355.9">surface diagram</text><path d="M215.4 281.6 L266.3 262.3 M266.3 262.3 L317.5 282 M266.3 262.3 L266.3 186.3 M215.4 205.6 L266.3 186.3 M266.3 186.3 L317.5 206" stroke="#707070" stroke-width=".65" fill="none"/><g fill="none" stroke-width="0.6"><polyline stroke="#000089" points="260.7,299 260.3,298.8 259.6,298.4 258.8,298.1 258.1,297.7 257.7,297.5 256.8,297.2 256,296.8 255.1,296.5 254.6,296.4 253.7,296.1 252.7,295.8 251.7,295.5 251.5,295.5"/><polyline stroke="#0000ee" points="269.6,300.2 269.3,299.9 269,299.6 268.6,299.2 268.3,299 267.8,298.6 267.6,298.3 267,297.9 266.7,297.7 266.1,297.3 265.8,297 265.2,296.6 264.7,296.4 264.2,296 263.5,295.6 262.8,295.3 262.4,295.1 261.6,294.7 260.8,294.4 259.9,294 259.1,293.7 258.2,293.4 257.2,293.1 256.7,293 255.7,292.7 254.7,292.5 254.1,292.3 253,292.1 252.4,292 251.2,291.8 250.6,291.7 249.9,291.6 248.7,291.5 247.9,291.4 247.2,291.4 246.5,291.3 245.5,291.2 244.6,291.2 243.6,291.2 242.7,291.1 241.9,291.1 241,291.1 240.2,291.1 240.2,291.1"/><polyline stroke="#0055ff" points="274.5,298.3 274.3,298.1 273.9,297.6 273.6,297.3 273.4,297.1 272.9,296.6 272.7,296.4 272.4,296.1 272,295.7 271.7,295.5 271.2,295 270.9,294.8 270.3,294.3 270,294.1 269.4,293.7 269.1,293.5 268.5,293.1 268,292.7 267.5,292.5 266.8,292.1 266.1,291.7 265.7,291.5 264.9,291.2 264.1,290.8 263.3,290.5 262.4,290.2 261.5,289.9 260.9,289.7 260,289.5 259,289.2 258.4,289.1 257.3,288.8 256.6,288.7 255.6,288.5 254.9,288.4 253.9,288.3 253,288.2 252.3,288.2 251.6,288.1 250.7,288 249.7,288 248.8,288 247.9,287.9 247,287.9 246.2,287.9 245.4,288 244.6,288 243.8,288 243,288 242.2,288.1 241.2,288.1 240.1,288.2 239.4,288.2 238.7,288.3 237.9,288.4 236.8,288.5 236,288.6 235.4,288.6 234.4,288.7 234.1,288.8"/><polyline stroke="#00baff" points="279.5,296.4 279.4,296.1 279.1,295.7 278.8,295.4 278.6,295.1 278.4,294.8 278.1,294.4 277.9,294.1 277.6,293.9 277.3,293.4 277,293.1 276.8,292.9 276.4,292.4 276.1,292.2 275.8,291.9 275.4,291.5 275.1,291.2 274.6,290.8 274.3,290.5 273.9,290.2 273.5,289.9 273.1,289.5 272.7,289.2 272.1,288.8 271.7,288.6 271.1,288.2 270.8,288 270.1,287.6 269.4,287.2 268.6,286.8 268.2,286.7 267.4,286.3 266.6,286 265.7,285.7 264.9,285.4 264.3,285.2 263.3,285 262.4,284.8 261.6,284.6 260.7,284.5 259.8,284.3 259.1,284.2 258.2,284.2 257.2,284.1 256.3,284 255.5,284 254.7,284 253.9,283.9 253,284 252.1,284 251.2,284 250.4,284 249.6,284.1 248.9,284.1 248.2,284.2 247.1,284.3 246.1,284.4 245.5,284.4 244.7,284.5 243.5,284.6 242.9,284.7 242.2,284.8 241,285 240.4,285 239.5,285.2 238.5,285.3 237.9,285.4 236.8,285.6 236.2,285.7 235,285.9 234.4,286 233.4,286.2 232.7,286.3 231.8,286.5 231,286.6 230.1,286.8 229.3,286.9 229.3,286.9"/><polyline stroke="#21ffde" points="284.7,294.4 284.6,294.1 284.5,293.9 284.3,293.5 284.1,293.1 283.9,292.8 283.8,292.5 283.6,292.2 283.4,291.9 283.2,291.5 283,291.2 282.8,290.9 282.7,290.6 282.4,290.2 282.2,289.8 282,289.6 281.8,289.3 281.6,288.9 281.3,288.5 281.1,288.3 281,288 280.6,287.6 280.4,287.3 280.2,287 279.9,286.7 279.6,286.3 279.4,286 279.2,285.7 278.8,285.3 278.6,285 278.4,284.8 277.9,284.3 277.7,284 277.5,283.8 277,283.3 276.8,283.1 276.4,282.7 276.1,282.4 275.8,282.2 275.3,281.7 275.1,281.5 274.5,281 274.2,280.8 273.6,280.4 273.3,280.2 272.7,279.8 272.3,279.5 271.7,279.2 270.9,278.8 270.1,278.5 269.2,278.2 268.1,277.9 267.6,277.8 266.6,277.7 265.6,277.6 264.8,277.5 264,277.5 263.1,277.5 262.2,277.6 261.5,277.6 260.8,277.7 259.9,277.8 258.8,277.9 258.2,278 257.2,278.1 256.4,278.3 255.7,278.4 254.7,278.6 254.1,278.7 252.9,278.9 252.4,279 251.3,279.2 250.6,279.3 249.6,279.5 248.7,279.7 248,279.9 246.9,280.1 246.4,280.2 245.3,280.5 244.5,280.7 243.7,280.8 242.7,281.1 242.2,281.2 241.1,281.5 240.1,281.7 239.6,281.8 238.5,282.1 237.7,282.3 237,282.4 235.9,282.7 235.3,282.9 234.4,283.1 233.4,283.3 232.8,283.5 231.8,283.7 230.8,284 230.3,284.1 229.3,284.4 228.3,284.6 227.7,284.8 226.8,285 225.8,285.3 225.3,285.4"/><polyline stroke="#21ffde" points="266,262.4 266.3,262.6 266.8,263.1 267.1,263.3 267.7,263.7 268,263.9 268.6,264.4 268.9,264.6 269.5,265 270.2,265.4 270.5,265.6 271.3,266 272.1,266.3 272.9,266.6 273.8,266.9 274.8,267.2 275.4,267.3 276.3,267.4 277.4,267.6 278.1,267.6 278.9,267.6 279.8,267.6 280.1,267.6"/><polyline stroke="#86ff79" points="255.6,266.3 255.6,266.7 255.5,267 255.4,267.4 255.3,267.8 255.2,268.1 255.1,268.4 254.9,268.6 254.8,269 254.5,269.4 254.3,269.7 254.1,269.9 253.8,270.3 253.5,270.6 253.2,270.9 252.7,271.3 252.5,271.6 251.9,272 251.6,272.2 251,272.6 250.7,272.8 250.1,273.2 249.6,273.5 249.1,273.8 248.4,274.2 247.7,274.6 247.3,274.8 246.5,275.1 245.8,275.5 245,275.8 244.2,276.2 243.4,276.5 243,276.7 242.2,277 241.4,277.3 240.5,277.7 239.7,278 238.8,278.3 238,278.6 237.1,278.9 236.3,279.2 235.8,279.4 234.9,279.7 234,280 233.1,280.3 232.2,280.6 231.3,280.9 230.4,281.2 229.5,281.5 228.6,281.8 228.1,282 227.2,282.3 226.3,282.6 225.4,282.9 224.5,283.1 223.5,283.4 223,283.6 222.2,283.9 221.7,284"/><polyline stroke="#86ff79" points="290.1,292.4 290,292.1 289.9,291.8 289.8,291.4 289.7,291.1 289.6,290.7 289.5,290.4 289.4,290 289.3,289.7 289.2,289.5 289.2,289.2 289.1,288.9 289,288.5 288.9,288.2 288.8,287.8 288.7,287.4 288.6,287.1 288.5,286.8 288.4,286.5 288.3,286.2 288.2,285.9 288.2,285.6 288.1,285.3 288,284.9 287.9,284.6 287.8,284.2 287.8,283.9 287.7,283.5 287.7,283.2 287.6,282.9 287.6,282.6 287.5,282.3 287.5,282 287.5,281.6 287.5,281.3 287.5,281 287.5,280.7 287.5,280.3 287.5,280 287.5,279.7 287.6,279.3 287.7,279 287.7,278.6 287.8,278.4 287.9,278.1 288,277.8 288.1,277.5 288.3,277.1 288.5,276.7 288.7,276.4 288.8,276.2 289.1,275.8 289.4,275.4 289.6,275.2 289.9,274.9 290.3,274.4 290.5,274.2 291,273.8 291.3,273.5 291.9,273.1 292.2,272.9 292.8,272.5 292.8,272.5"/><polyline stroke="#ecff13" points="242.3,271.4 241.9,271.7 241.5,272 241.1,272.4 240.5,272.7 240.2,273 239.5,273.4 239.2,273.6 238.6,274 237.9,274.4 237.6,274.6 236.9,275 236.2,275.3 235.8,275.5 235.1,275.9 234.3,276.3 233.6,276.6 233.2,276.8 232.5,277.2 231.7,277.5 230.9,277.9 230.1,278.2 229.3,278.5 228.5,278.9 228,279.1 227.3,279.4 226.5,279.7 225.7,280 224.8,280.4 224,280.7 223.2,281 222.3,281.3 221.5,281.7 220.6,282 219.8,282.3 218.9,282.6 218.5,282.8"/><polyline stroke="#ecff13" points="295.7,290.3 295.6,290 295.6,289.6 295.6,289.3 295.6,289 295.6,288.7 295.5,288.4 295.5,288.1 295.5,287.7 295.5,287.4 295.5,287.1 295.5,286.8 295.5,286.4 295.5,286.1 295.5,285.8 295.5,285.4 295.5,285.1 295.6,284.8 295.6,284.4 295.6,284.1 295.7,283.8 295.7,283.4 295.8,283.1 295.9,282.7 295.9,282.4 296,282.1 296.1,281.9 296.1,281.6 296.2,281.3 296.4,280.9 296.5,280.5 296.7,280.1 296.8,279.9 296.9,279.6 297.1,279.3 297.3,278.9 297.5,278.5 297.7,278.3 297.8,278 298.1,277.6 298.4,277.2 298.6,277 298.8,276.7 299.2,276.3 299.4,276 299.8,275.7 300.1,275.3 300.1,275.3"/><polyline stroke="#ffac00" points="217.3,280.9 216.7,281.1 215.9,281.5 215.5,281.6"/><polyline stroke="#ffac00" points="301.4,288.1 301.5,287.8 301.5,287.4 301.6,287.1 301.6,286.7 301.7,286.4 301.8,286 301.8,285.7 301.9,285.4 302,285.1 302,284.8 302.1,284.5 302.2,284.2 302.3,283.8 302.4,283.5 302.6,283.1 302.7,282.8 302.8,282.5 302.9,282.2 303,281.9 303.2,281.5 303.4,281.1 303.6,280.9 303.7,280.6 303.9,280.3 304.1,279.9 304.4,279.5 304.5,279.3 304.7,279 305.1,278.6 305.3,278.3 305.5,278 305.8,277.6 305.9,277.5"/><polyline stroke="#ff4700" points="307.4,285.8 307.5,285.5 307.7,285.1 307.8,284.7 307.9,284.5 308,284.2 308.1,283.9 308.3,283.5 308.5,283.1 308.7,282.8 308.8,282.5 308.9,282.3 309.1,281.9 309.4,281.5 309.6,281.2 309.7,280.9 309.9,280.6 310.2,280.2 310.4,279.9 310.6,279.7 310.8,279.4"/><polyline stroke="#e00000" points="313.6,283.5 313.8,283.2 314,282.9 314.1,282.6 314.4,282.2 314.6,281.9 314.8,281.6 314.9,281.3 315.1,281.1"/></g><g filter="url(#bl)"><g transform="scale(.5)"><path fill="#28ffd7" d="M533 433l5 -1l-5 -3l-5 0z"/><path fill="#18ffe7" d="M537 435l5 -1l-5 -3l-5 1z"/><path fill="#38ffc7" d="M528 432l5 0l-5 -3l-5 0z"/><path fill="#18ffe7" d="M541 437l5 -1l-5 -3l-5 1z"/><path fill="#38ffc7" d="M533 435l5 -1l-5 -3l-5 1z"/><path fill="#48ffb7" d="M524 432l5 0l-5 -4l-5 0z"/><path fill="#18ffe7" d="M545 439l5 -1l-5 -3l-5 1z"/><path fill="#28ffd7" d="M537 437l5 -1l-5 -3l-5 1z"/><path fill="#48ffb7" d="M528 435l5 -1l-5 -3l-5 0z"/><path fill="#68ff97" d="M520 432l5 0l-5 -4l-5 0z"/><path fill="#18ffe7" d="M550 440l5 -1l-5 -2l-5 1z"/><path fill="#28ffd7" d="M541 439l5 -1l-5 -3l-5 1z"/><path fill="#38ffc7" d="M533 437l5 0l-5 -4l-5 1z"/><path fill="#58ffa7" d="M524 435l5 0l-5 -4l-5 0z"/><path fill="#78ff87" d="M516 432l5 0l-5 -4l-5 0z"/><path fill="#18ffe7" d="M554 441l5 -1l-5 -2l-5 1z"/><path fill="#28ffd7" d="M545 441l5 -2l-5 -2l-5 1z"/><path fill="#38ffc7" d="M537 440l5 -1l-5 -3l-5 1z"/><path fill="#48ffb7" d="M528 438l5 -1l-5 -3l-5 0z"/><path fill="#68ff97" d="M520 436l5 -1l-5 -4l-5 0z"/><path fill="#87ff78" d="M511 432l5 0l-5 -5l-4 1z"/><path fill="#28ffd7" d="M541 442l5 -2l-5 -2l-5 1zM550 442l5 -1l-5 -2l-5 1zM558 442l5 -1l-5 -2l-5 2z"/><path fill="#38ffc7" d="M533 440l5 -1l-5 -3l-5 1z"/><path fill="#58ffa7" d="M524 438l5 -1l-5 -3l-5 1z"/><path fill="#78ff87" d="M516 436l5 -1l-5 -4l-5 1z"/><path fill="#97ff68" d="M507 433l5 -1l-5 -5l-5 1z"/><path fill="#28ffd7" d="M545 443l5 -1l-5 -3l-4 2zM554 444l5 -2l-5 -2l-5 2zM563 443l4 -2l-5 -1l-4 2z"/><path fill="#38ffc7" d="M537 443l5 -2l-5 -3l-5 2z"/><path fill="#48ffb7" d="M528 441l5 -1l-5 -3l-4 1z"/><path fill="#68ff97" d="M520 439l5 -1l-5 -4l-5 1z"/><path fill="#87ff78" d="M511 436l5 -1l-5 -4l-4 1z"/><path fill="#a7ff58" d="M503 433l5 -1l-5 -5l-5 1z"/><path fill="#38ffc7" d="M541 444l5 -1l-5 -3l-5 2zM550 445l5 -2l-5 -2l-5 2zM558 444l5 -2l-5 -1l-5 2zM567 444l5 -3l-5 -1l-5 2z"/><path fill="#48ffb7" d="M533 444l5 -2l-5 -3l-5 1z"/><path fill="#58ffa7" d="M524 442l5 -1l-5 -4l-5 1z"/><path fill="#68ff97" d="M516 440l5 -1l-5 -5l-5 1z"/><path fill="#87ff78" d="M507 437l5 -1l-5 -5l-5 1z"/><path fill="#b7ff48" d="M499 433l5 0l-5 -6l-5 1z"/><path fill="#38ffc7" d="M537 446l5 -2l-5 -3l-5 2zM546 446l4 -2l-5 -2l-4 2zM554 446l5 -2l-5 -2l-5 2zM563 445l4 -2l-5 -1l-4 2z"/><path fill="#48ffb7" d="M528 445l5 -2l-5 -3l-4 1zM571 444l5 -3l-5 0l-5 2z"/><path fill="#58ffa7" d="M520 443l5 -2l-5 -3l-5 1z"/><path fill="#78ff87" d="M511 441l5 -2l-5 -4l-4 1z"/><path fill="#97ff68" d="M503 437l5 -1l-5 -4l-5 0z"/><path fill="#c7ff38" d="M494 434l5 -1l-5 -5l-4 0z"/><path fill="#38ffc7" d="M541 448l5 -3l-5 -2l-5 2zM550 448l5 -3l-5 -2l-5 2zM558 447l5 -3l-5 -1l-5 2z"/><path fill="#48ffb7" d="M524 446l5 -2l-5 -3l-5 1zM533 447l5 -2l-5 -3l-5 2zM567 446l5 -3l-5 -1l-5 3z"/><path fill="#58ffa7" d="M575 444l5 -3l-5 0l-5 2z"/><path fill="#68ff97" d="M516 444l5 -2l-5 -4l-5 2z"/><path fill="#87ff78" d="M507 441l5 -1l-5 -5l-5 2z"/><path fill="#a7ff58" d="M499 438l5 -1l-5 -5l-5 1z"/><path fill="#d7ff28" d="M490 434l5 -1l-5 -5l-5 0z"/><path fill="#38ffc7" d="M537 449l5 -2l-5 -3l-5 2zM546 449l4 -2l-5 -2l-4 2zM554 449l5 -3l-5 -1l-5 2z"/><path fill="#48ffb7" d="M529 448l4 -2l-5 -3l-4 2zM563 448l4 -3l-4 -1l-5 2z"/><path fill="#58ffa7" d="M520 447l5 -2l-5 -4l-5 2zM571 446l5 -3l-5 -1l-5 3z"/><path fill="#68ff97" d="M511 445l5 -2l-5 -4l-4 1zM580 444l4 -3l-4 0l-5 2z"/><path fill="#87ff78" d="M503 442l5 -1l-5 -5l-5 1z"/><path fill="#a7ff58" d="M494 439l5 -1l-5 -6l-4 1z"/><path fill="#d7ff28" d="M486 435l5 -1l-5 -6l-5 1z"/><path fill="#38ffc7" d="M533 451l5 -3l-5 -2l-5 2zM541 451l5 -2l-5 -3l-5 2zM550 451l5 -3l-5 -2l-5 3z"/><path fill="#48ffb7" d="M524 450l5 -2l-5 -4l-5 2zM558 450l5 -3l-5 -1l-5 2z"/><path fill="#58ffa7" d="M516 448l5 -2l-5 -4l-5 2zM567 448l5 -3l-5 -1l-5 3z"/><path fill="#68ff97" d="M575 446l5 -3l-5 -1l-5 3z"/><path fill="#78ff87" d="M507 446l5 -2l-5 -4l-5 1z"/><path fill="#87ff78" d="M584 443l5 -3l-5 0l-5 3z"/><path fill="#97ff68" d="M499 443l5 -1l-5 -5l-5 1z"/><path fill="#b7ff48" d="M490 440l5 -1l-5 -6l-5 1z"/><path fill="#e7ff18" d="M482 436l5 -1l-5 -7l-5 1z"/><path fill="#38ffc7" d="M529 452l4 -2l-4 -3l-5 2zM537 453l5 -3l-5 -2l-5 2zM546 453l4 -3l-4 -2l-5 2z"/><path fill="#48ffb7" d="M520 451l5 -2l-5 -3l-5 2zM554 452l5 -3l-5 -2l-5 3zM563 450l4 -3l-4 -1l-5 3z"/><path fill="#58ffa7" d="M512 450l4 -2l-5 -4l-4 1z"/><path fill="#68ff97" d="M571 448l5 -3l-5 0l-5 3z"/><path fill="#78ff87" d="M503 447l5 -1l-5 -5l-5 1zM580 446l4 -4l-4 0l-5 3z"/><path fill="#97ff68" d="M495 444l4 -1l-5 -5l-4 1zM588 442l5 -3l-5 0l-5 4z"/><path fill="#c7ff38" d="M486 441l5 -2l-5 -5l-5 1z"/><path fill="#f7ff08" d="M477 436l5 -1l-5 -6l-4 1z"/><path fill="#38ffc7" d="M524 454l5 -2l-5 -4l-5 3zM533 455l5 -3l-5 -3l-5 3zM541 455l5 -3l-5 -2l-5 2zM550 454l5 -3l-5 -2l-5 3z"/><path fill="#48ffb7" d="M516 453l5 -2l-5 -4l-5 2zM558 453l5 -4l-5 -1l-5 3z"/><path fill="#58ffa7" d="M567 451l5 -4l-5 0l-5 3z"/><path fill="#68ff97" d="M507 451l5 -2l-5 -4l-5 2z"/><path fill="#78ff87" d="M499 449l5 -2l-5 -5l-5 2zM575 448l5 -3l-5 -1l-5 4z"/><path fill="#97ff68" d="M490 446l5 -2l-5 -6l-5 2zM584 445l5 -4l-5 1l-5 3z"/><path fill="#b7ff48" d="M592 441l5 -3l-5 0l-5 4z"/><path fill="#c7ff38" d="M482 442l5 -2l-5 -6l-5 1z"/><path fill="#f7ff08" d="M473 437l5 -1l-5 -7l-5 1z"/><path fill="#38ffc7" d="M520 456l5 -2l-5 -4l-5 2zM529 457l4 -3l-4 -3l-5 2zM537 457l5 -3l-5 -3l-5 3zM546 456l5 -3l-5 -2l-5 3z"/><path fill="#48ffb7" d="M512 455l4 -2l-4 -5l-5 2zM554 455l5 -3l-5 -2l-5 3z"/><path fill="#58ffa7" d="M563 453l5 -3l-5 -1l-5 3z"/><path fill="#68ff97" d="M503 453l5 -2l-5 -5l-5 2zM571 451l5 -4l-5 0l-5 3z"/><path fill="#78ff87" d="M495 450l4 -2l-5 -5l-4 2z"/><path fill="#87ff78" d="M580 448l5 -4l-5 0l-5 4z"/><path fill="#a7ff58" d="M486 447l5 -2l-5 -6l-5 2zM588 444l5 -4l-5 1l-5 4z"/><path fill="#d7ff28" d="M478 443l4 -2l-5 -6l-4 1zM597 440l4 -4l-4 1l-5 4z"/><path fill="#fff700" d="M469 438l5 -1l-5 -7l-5 1z"/><path fill="#28ffd7" d="M524 459l5 -3l-5 -3l-5 2zM533 459l5 -3l-5 -3l-5 3z"/><path fill="#38ffc7" d="M516 458l5 -2l-5 -4l-5 2zM541 459l5 -4l-5 -2l-5 3zM550 457l5 -3l-5 -1l-5 3z"/><path fill="#48ffb7" d="M507 457l5 -3l-5 -4l-5 2zM558 456l5 -4l-5 -1l-5 3z"/><path fill="#68ff97" d="M499 455l5 -3l-5 -5l-5 2zM567 454l5 -4l-5 -1l-5 4z"/><path fill="#78ff87" d="M575 451l5 -4l-5 0l-5 3z"/><path fill="#87ff78" d="M490 452l5 -2l-5 -6l-5 2z"/><path fill="#a7ff58" d="M482 448l5 -1l-5 -7l-5 2zM584 447l5 -4l-5 1l-5 3z"/><path fill="#c7ff38" d="M592 443l5 -4l-5 1l-5 4z"/><path fill="#d7ff28" d="M473 444l5 -1l-5 -7l-5 1z"/><path fill="#f7ff08" d="M601 439l5 -5l-5 2l-5 4z"/><path fill="#fff700" d="M465 439l5 -1l-5 -7l-5 1z"/><path fill="#28ffd7" d="M520 461l5 -3l-5 -3l-5 2zM529 461l5 -3l-5 -3l-5 3zM537 461l5 -3l-5 -3l-5 3z"/><path fill="#38ffc7" d="M512 460l5 -3l-5 -4l-5 3zM546 460l5 -3l-5 -2l-5 3z"/><path fill="#48ffb7" d="M503 459l5 -3l-5 -5l-5 3zM554 459l5 -4l-5 -1l-5 3z"/><path fill="#58ffa7" d="M563 456l5 -3l-5 -1l-5 3z"/><path fill="#68ff97" d="M495 456l4 -2l-4 -5l-5 2z"/><path fill="#78ff87" d="M571 454l5 -4l-5 -1l-5 4z"/><path fill="#87ff78" d="M486 453l5 -2l-5 -5l-5 1z"/><path fill="#97ff68" d="M580 450l5 -4l-5 0l-5 4z"/><path fill="#a7ff58" d="M478 450l4 -2l-4 -6l-5 1z"/><path fill="#b7ff48" d="M588 446l5 -4l-5 1l-5 4z"/><path fill="#d7ff28" d="M469 445l5 -1l-5 -7l-5 1z"/><path fill="#e7ff18" d="M597 442l5 -4l-5 1l-5 4z"/><path fill="#ffe700" d="M461 440l4 -1l-5 -8l-4 1zM605 437l5 -5l-5 2l-5 4z"/><path fill="#18ffe7" d="M524 464l5 -3l-5 -4l-5 3z"/><path fill="#28ffd7" d="M516 463l5 -3l-5 -3l-5 2zM533 464l5 -4l-5 -2l-5 3zM541 463l5 -4l-5 -2l-5 3z"/><path fill="#38ffc7" d="M507 462l5 -2l-5 -5l-5 3zM550 461l5 -3l-5 -2l-5 3z"/><path fill="#48ffb7" d="M499 461l5 -3l-5 -5l-5 2zM558 459l5 -3l-5 -2l-5 4z"/><path fill="#68ff97" d="M490 458l5 -2l-5 -6l-5 3zM567 457l5 -4l-5 -1l-5 4z"/><path fill="#87ff78" d="M482 455l5 -2l-5 -6l-5 2zM575 454l5 -5l-5 0l-5 4z"/><path fill="#a7ff58" d="M473 451l5 -2l-5 -6l-5 1zM584 450l5 -5l-5 1l-5 4z"/><path fill="#d7ff28" d="M592 445l5 -4l-5 1l-4 4z"/><path fill="#e7ff18" d="M465 447l5 -2l-5 -7l-5 1z"/><path fill="#fff700" d="M601 440l5 -4l-5 1l-5 5z"/><path fill="#ffe700" d="M456 442l5 -2l-5 -8l-5 1z"/><path fill="#ffb700" d="M609 435l5 -5l-5 2l-4 5z"/><path fill="#18ffe7" d="M512 466l5 -3l-5 -4l-5 3zM520 466l5 -3l-5 -3l-5 3zM529 466l5 -3l-5 -3l-5 3zM537 466l5 -4l-5 -2l-5 3z"/><path fill="#28ffd7" d="M503 465l5 -3l-5 -5l-5 3zM546 464l5 -4l-5 -1l-5 3z"/><path fill="#38ffc7" d="M554 462l5 -4l-5 -1l-5 4z"/><path fill="#48ffb7" d="M495 463l4 -3l-4 -5l-5 2z"/><path fill="#58ffa7" d="M486 460l5 -2l-5 -6l-5 2zM563 460l5 -4l-5 -1l-5 4z"/><path fill="#78ff87" d="M571 457l5 -4l-5 -1l-5 4z"/><path fill="#87ff78" d="M478 457l4 -2l-4 -7l-5 2z"/><path fill="#97ff68" d="M580 453l5 -4l-5 0l-5 4z"/><path fill="#b7ff48" d="M469 453l5 -2l-5 -7l-5 2z"/><path fill="#c7ff38" d="M588 449l5 -5l-5 1l-5 4z"/><path fill="#e7ff18" d="M461 448l4 -1l-4 -8l-5 1z"/><path fill="#f7ff08" d="M597 444l5 -5l-5 2l-5 4z"/><path fill="#ffd700" d="M452 443l5 -2l-5 -8l-5 1z"/><path fill="#ffc700" d="M605 439l5 -5l-5 2l-5 4z"/><path fill="#ff9700" d="M614 433l4 -5l-4 2l-5 5z"/><path fill="#08fff7" d="M516 469l5 -3l-5 -4l-5 3zM524 469l5 -4l-5 -3l-5 4z"/><path fill="#18ffe7" d="M507 468l5 -3l-5 -4l-5 3zM533 468l5 -3l-5 -3l-5 4zM541 467l5 -4l-5 -2l-5 4z"/><path fill="#28ffd7" d="M499 467l5 -3l-5 -5l-5 3zM550 465l5 -4l-5 -1l-5 4z"/><path fill="#38ffc7" d="M490 465l5 -3l-5 -5l-5 2z"/><path fill="#48ffb7" d="M558 463l5 -4l-5 -1l-5 4z"/><path fill="#58ffa7" d="M482 462l5 -2l-5 -6l-5 2z"/><path fill="#68ff97" d="M567 460l5 -4l-5 -1l-5 4z"/><path fill="#87ff78" d="M473 459l5 -2l-5 -7l-5 2zM575 457l5 -5l-5 0l-4 4z"/><path fill="#b7ff48" d="M465 455l5 -2l-5 -8l-5 2zM584 452l5 -4l-5 0l-5 5z"/><path fill="#e7ff18" d="M456 450l5 -2l-5 -8l-5 2zM592 448l5 -5l-5 1l-4 5z"/><path fill="#ffe700" d="M601 442l5 -4l-5 1l-5 5z"/><path fill="#ffd700" d="M448 444l5 -1l-5 -9l-5 1z"/><path fill="#ffa700" d="M609 437l5 -5l-5 2l-4 4z"/><path fill="#ff6800" d="M618 430l5 -5l-5 2l-5 5z"/><path fill="#08fff7" d="M503 471l5 -3l-5 -5l-5 3zM512 472l5 -4l-5 -4l-5 3zM520 472l5 -4l-5 -3l-5 3zM529 471l5 -3l-5 -3l-5 3zM537 470l5 -4l-5 -2l-5 4z"/><path fill="#18ffe7" d="M495 469l5 -3l-5 -5l-5 3zM546 469l5 -4l-5 -2l-5 4z"/><path fill="#38ffc7" d="M486 467l5 -3l-5 -5l-5 2zM554 466l5 -4l-5 -1l-5 4z"/><path fill="#58ffa7" d="M478 464l4 -2l-4 -6l-5 2zM563 463l5 -4l-5 -1l-5 5z"/><path fill="#78ff87" d="M571 460l5 -4l-5 -1l-5 5z"/><path fill="#87ff78" d="M469 461l5 -3l-5 -6l-5 2z"/><path fill="#97ff68" d="M580 456l5 -5l-5 1l-5 4z"/><path fill="#b7ff48" d="M461 457l4 -3l-4 -7l-5 2z"/><path fill="#c7ff38" d="M588 451l5 -4l-5 0l-5 5z"/><path fill="#e7ff18" d="M452 451l5 -1l-5 -9l-5 2z"/><path fill="#fff700" d="M597 446l5 -5l-5 2l-5 4z"/><path fill="#ffd700" d="M444 446l4 -2l-4 -9l-5 1z"/><path fill="#ffc700" d="M605 441l5 -5l-5 1l-5 5z"/><path fill="#ff7800" d="M614 434l5 -5l-5 2l-5 5z"/><path fill="#ff3800" d="M622 427l5 -5l-5 3l-5 5z"/><path fill="#00f7ff" d="M507 474l5 -3l-5 -4l-5 3zM516 475l5 -4l-5 -3l-5 3zM524 474l5 -3l-5 -3l-5 3zM533 473l5 -4l-5 -2l-5 4z"/><path fill="#08fff7" d="M499 473l5 -3l-5 -4l-5 3zM541 472l5 -4l-5 -2l-5 4z"/><path fill="#18ffe7" d="M490 472l5 -3l-5 -5l-5 2z"/><path fill="#28ffd7" d="M550 470l5 -5l-5 -1l-5 4z"/><path fill="#38ffc7" d="M482 470l5 -3l-5 -6l-5 2zM558 467l5 -4l-5 -1l-5 4z"/><path fill="#58ffa7" d="M473 467l5 -3l-5 -7l-5 3z"/><path fill="#68ff97" d="M567 464l5 -5l-5 0l-5 4z"/><path fill="#78ff87" d="M465 463l5 -3l-5 -7l-5 3z"/><path fill="#87ff78" d="M575 460l5 -5l-5 0l-4 5z"/><path fill="#a7ff58" d="M456 458l5 -2l-5 -8l-5 2z"/><path fill="#b7ff48" d="M584 455l5 -5l-5 1l-5 5z"/><path fill="#e7ff18" d="M448 453l5 -2l-5 -8l-5 1zM592 450l5 -5l-5 1l-4 5z"/><path fill="#ffd700" d="M439 447l5 -2l-5 -9l-5 2zM601 445l5 -5l-5 1l-5 5z"/><path fill="#ff9700" d="M609 439l5 -6l-5 2l-4 5z"/><path fill="#ff5800" d="M618 432l5 -6l-5 3l-5 5z"/><path fill="#ff0800" d="M627 424l4 -5l-5 3l-4 5z"/><path fill="#00e7ff" d="M503 477l5 -3l-5 -5l-5 4zM512 478l5 -4l-5 -4l-5 4zM520 477l5 -3l-5 -4l-5 4zM529 477l5 -4l-5 -3l-5 4z"/><path fill="#00f7ff" d="M495 476l5 -3l-5 -5l-5 3zM537 475l5 -4l-5 -2l-5 4z"/><path fill="#08fff7" d="M486 475l5 -4l-5 -5l-5 3z"/><path fill="#18ffe7" d="M546 473l5 -4l-5 -2l-5 4z"/><path fill="#28ffd7" d="M478 472l5 -3l-5 -6l-5 3zM554 471l5 -5l-5 -1l-5 4z"/><path fill="#48ffb7" d="M469 469l5 -3l-5 -7l-5 3zM563 467l5 -4l-5 -1l-5 4z"/><path fill="#78ff87" d="M461 465l4 -2l-4 -8l-5 2zM571 464l5 -5l-5 0l-5 4z"/><path fill="#a7ff58" d="M452 460l5 -2l-5 -8l-5 2zM580 459l5 -5l-5 1l-5 4z"/><path fill="#d7ff28" d="M588 454l5 -5l-5 1l-5 5z"/><path fill="#e7ff18" d="M444 455l4 -2l-4 -9l-5 2z"/><path fill="#fff700" d="M597 449l5 -5l-5 1l-5 5z"/><path fill="#ffd700" d="M435 449l5 -2l-5 -10l-5 2z"/><path fill="#ffb700" d="M605 443l5 -6l-5 2l-5 5z"/><path fill="#ff6800" d="M614 436l5 -5l-5 2l-5 5z"/><path fill="#ff2800" d="M622 429l5 -6l-5 3l-5 6z"/><path fill="#d70000" d="M631 421l5 -6l-5 4l-5 5z"/><path fill="#00d7ff" d="M507 481l5 -4l-5 -4l-5 4zM516 481l5 -4l-5 -4l-5 4zM524 480l5 -4l-5 -3l-5 4z"/><path fill="#00e7ff" d="M490 479l5 -3l-5 -6l-5 4zM499 480l5 -3l-5 -5l-5 3zM533 479l5 -5l-5 -2l-5 4z"/><path fill="#00f7ff" d="M541 477l5 -5l-5 -2l-5 5z"/><path fill="#08fff7" d="M482 477l5 -3l-5 -6l-5 3z"/><path fill="#18ffe7" d="M550 474l5 -4l-5 -2l-5 5z"/><path fill="#28ffd7" d="M473 475l5 -3l-5 -7l-5 3z"/><path fill="#38ffc7" d="M558 471l5 -5l-5 0l-4 4z"/><path fill="#48ffb7" d="M465 471l5 -2l-5 -7l-5 2z"/><path fill="#58ffa7" d="M567 467l5 -4l-5 -1l-5 5z"/><path fill="#78ff87" d="M456 467l5 -2l-5 -8l-5 2z"/><path fill="#87ff78" d="M575 463l5 -5l-5 0l-4 5z"/><path fill="#a7ff58" d="M448 462l5 -2l-5 -8l-5 2z"/><path fill="#b7ff48" d="M584 458l5 -5l-5 1l-5 5z"/><path fill="#e7ff18" d="M439 457l5 -2l-5 -9l-4 2z"/><path fill="#f7ff08" d="M592 453l5 -5l-5 1l-4 5z"/><path fill="#ffc700" d="M601 447l5 -5l-5 1l-5 6z"/><path fill="#ff8700" d="M610 441l4 -6l-5 2l-4 6z"/><path fill="#ff4800" d="M618 434l5 -6l-5 2l-5 6z"/><path fill="#f70000" d="M627 426l4 -6l-5 3l-4 6z"/><path fill="#00c7ff" d="M503 484l5 -4l-5 -4l-5 4zM512 484l5 -4l-5 -4l-5 4zM520 483l5 -4l-5 -3l-5 4z"/><path fill="#00d7ff" d="M495 483l5 -3l-5 -5l-5 3zM529 482l5 -4l-5 -3l-5 4z"/><path fill="#00e7ff" d="M486 482l5 -3l-5 -6l-5 3zM537 480l5 -4l-5 -2l-5 4z"/><path fill="#00f7ff" d="M478 480l5 -3l-5 -6l-5 3z"/><path fill="#08fff7" d="M546 478l5 -5l-5 -1l-5 4z"/><path fill="#18ffe7" d="M469 477l5 -3l-5 -6l-5 2z"/><path fill="#28ffd7" d="M554 475l5 -5l-5 -1l-5 5z"/><path fill="#38ffc7" d="M461 474l4 -3l-4 -7l-5 2z"/><path fill="#48ffb7" d="M563 471l5 -5l-5 0l-5 5z"/><path fill="#68ff97" d="M452 470l5 -3l-5 -8l-5 2zM571 467l5 -5l-5 0l-5 5z"/><path fill="#a7ff58" d="M444 465l4 -3l-4 -8l-5 2zM580 463l5 -6l-5 1l-5 5z"/><path fill="#d7ff28" d="M588 457l5 -5l-5 1l-5 5z"/><path fill="#ffe700" d="M597 452l5 -6l-5 1l-5 6z"/><path fill="#ffa700" d="M605 445l5 -5l-5 1l-5 6z"/><path fill="#ff6800" d="M614 438l5 -6l-5 3l-5 5z"/><path fill="#ff1800" d="M622 431l5 -6l-5 3l-5 5z"/><path fill="#00b7ff" d="M499 487l5 -4l-5 -4l-5 4zM507 487l5 -4l-5 -4l-5 4zM516 487l5 -4l-5 -4l-5 4z"/><path fill="#00c7ff" d="M490 486l5 -3l-5 -5l-5 3zM524 486l5 -5l-5 -2l-5 4z"/><path fill="#00d7ff" d="M482 485l5 -4l-5 -5l-5 3zM533 484l5 -5l-5 -2l-5 5z"/><path fill="#00e7ff" d="M473 483l5 -3l-5 -7l-5 3zM541 482l5 -5l-5 -2l-4 5z"/><path fill="#08fff7" d="M465 480l5 -3l-5 -7l-5 3zM550 479l5 -5l-5 -1l-5 4z"/><path fill="#28ffd7" d="M558 475l5 -5l-5 0l-4 4z"/><path fill="#38ffc7" d="M456 476l5 -3l-5 -7l-5 3z"/><path fill="#58ffa7" d="M567 471l5 -5l-5 0l-5 5z"/><path fill="#68ff97" d="M448 472l5 -3l-5 -8l-5 3z"/><path fill="#87ff78" d="M575 467l5 -5l-5 0l-4 5z"/><path fill="#b7ff48" d="M584 462l5 -6l-5 1l-5 5z"/><path fill="#f7ff08" d="M593 456l4 -6l-5 2l-4 5z"/><path fill="#ffc700" d="M601 450l5 -6l-5 2l-5 5z"/><path fill="#ff8700" d="M610 443l4 -6l-5 2l-4 6z"/><path fill="#ff3800" d="M618 436l5 -6l-5 2l-5 6z"/><path fill="#00a7ff" d="M495 491l5 -4l-5 -5l-5 4zM503 491l5 -4l-5 -4l-5 4zM512 490l5 -4l-5 -3l-5 4zM520 489l5 -4l-5 -3l-5 4z"/><path fill="#00b7ff" d="M486 490l5 -4l-5 -5l-5 3zM529 488l5 -5l-5 -2l-5 4z"/><path fill="#00c7ff" d="M478 488l5 -3l-5 -6l-5 3z"/><path fill="#00d7ff" d="M537 486l5 -5l-5 -2l-5 5z"/><path fill="#00e7ff" d="M469 486l5 -4l-5 -6l-5 3z"/><path fill="#00f7ff" d="M546 483l5 -5l-5 -1l-5 4z"/><path fill="#08fff7" d="M461 483l5 -3l-5 -8l-5 3z"/><path fill="#18ffe7" d="M554 479l5 -5l-5 0l-5 4z"/><path fill="#28ffd7" d="M452 479l5 -3l-5 -8l-5 3z"/><path fill="#38ffc7" d="M563 476l5 -6l-5 0l-5 5z"/><path fill="#68ff97" d="M571 471l5 -5l-5 0l-5 5z"/><path fill="#97ff68" d="M580 466l5 -5l-5 0l-5 5z"/><path fill="#d7ff28" d="M588 461l5 -6l-5 1l-5 5z"/><path fill="#ffe700" d="M597 454l5 -5l-5 1l-5 6z"/><path fill="#ffa700" d="M605 448l5 -6l-5 2l-5 6z"/><path fill="#ff5800" d="M614 441l5 -7l-5 3l-5 6z"/><path fill="#0087ff" d="M499 494l5 -4l-5 -4l-5 4z"/><path fill="#0097ff" d="M490 494l5 -4l-5 -5l-5 4zM507 494l5 -4l-5 -4l-5 4zM516 493l5 -4l-5 -4l-5 5z"/><path fill="#00a7ff" d="M482 493l5 -4l-5 -5l-5 3zM524 492l5 -5l-5 -3l-4 5z"/><path fill="#00b7ff" d="M473 491l5 -3l-5 -6l-5 3zM533 490l5 -5l-5 -2l-5 4z"/><path fill="#00d7ff" d="M465 489l5 -4l-5 -6l-5 3zM541 487l5 -5l-5 -2l-4 5z"/><path fill="#00f7ff" d="M456 486l5 -4l-5 -7l-5 3zM550 484l5 -5l-5 -2l-5 5z"/><path fill="#28ffd7" d="M559 480l4 -5l-5 -1l-4 5z"/><path fill="#48ffb7" d="M567 476l5 -6l-5 0l-5 5z"/><path fill="#87ff78" d="M576 471l4 -6l-5 0l-4 6z"/><path fill="#b7ff48" d="M584 465l5 -6l-5 1l-5 6z"/><path fill="#f7ff08" d="M593 459l4 -6l-4 2l-5 5z"/><path fill="#ffc700" d="M601 453l5 -6l-5 1l-5 6z"/><path fill="#ff7800" d="M610 445l4 -6l-4 3l-5 6z"/><path fill="#0078ff" d="M495 498l5 -4l-5 -5l-5 4zM503 498l5 -5l-5 -4l-5 5z"/><path fill="#0087ff" d="M486 498l5 -5l-5 -5l-5 4zM512 497l5 -5l-5 -3l-5 5zM520 496l5 -5l-5 -3l-5 5z"/><path fill="#0097ff" d="M478 497l5 -4l-5 -6l-5 4z"/><path fill="#00a7ff" d="M469 495l5 -4l-5 -7l-5 4zM529 494l5 -5l-5 -3l-5 5z"/><path fill="#00b7ff" d="M537 491l5 -5l-5 -2l-5 5z"/><path fill="#00c7ff" d="M461 492l5 -3l-5 -8l-5 4z"/><path fill="#00d7ff" d="M546 488l5 -5l-5 -2l-5 5z"/><path fill="#08fff7" d="M554 484l5 -5l-5 -1l-5 5z"/><path fill="#38ffc7" d="M563 480l5 -6l-5 0l-5 5z"/><path fill="#68ff97" d="M571 475l5 -5l-5 0l-5 5z"/><path fill="#97ff68" d="M580 470l5 -6l-5 1l-5 5z"/><path fill="#d7ff28" d="M588 464l5 -6l-5 1l-5 6z"/><path fill="#ffe700" d="M597 457l5 -6l-5 2l-5 6z"/><path fill="#ff9700" d="M605 450l5 -6l-5 2l-4 6z"/><path fill="#0068ff" d="M482 501l5 -4l-5 -5l-5 4zM490 502l5 -5l-5 -4l-5 4zM499 502l5 -5l-5 -4l-5 4zM507 501l5 -5l-5 -3l-4 4z"/><path fill="#0078ff" d="M473 500l5 -4l-5 -6l-5 4zM516 500l5 -5l-5 -3l-5 5z"/><path fill="#0087ff" d="M524 498l5 -5l-5 -3l-4 5z"/><path fill="#0097ff" d="M465 498l5 -4l-5 -6l-5 3z"/><path fill="#00a7ff" d="M533 495l5 -5l-5 -2l-5 5z"/><path fill="#00c7ff" d="M542 492l4 -5l-5 -1l-4 5z"/><path fill="#00e7ff" d="M550 489l5 -6l-5 -1l-5 6z"/><path fill="#18ffe7" d="M559 484l4 -5l-5 -1l-4 6z"/><path fill="#48ffb7" d="M567 480l5 -6l-5 0l-5 6z"/><path fill="#78ff87" d="M576 475l4 -6l-4 0l-5 6z"/><path fill="#b7ff48" d="M584 469l5 -6l-5 1l-5 5z"/><path fill="#f7ff08" d="M593 462l4 -6l-4 2l-5 6z"/><path fill="#ffb700" d="M601 456l5 -7l-5 2l-5 6z"/><path fill="#0048ff" d="M486 506l5 -5l-5 -5l-5 5zM495 506l5 -5l-5 -4l-5 4z"/><path fill="#0058ff" d="M478 505l5 -4l-5 -6l-5 4zM503 505l5 -5l-5 -3l-5 4zM512 504l5 -5l-5 -3l-5 4z"/><path fill="#0068ff" d="M469 504l5 -5l-5 -6l-5 4zM520 502l5 -5l-5 -3l-5 5z"/><path fill="#0087ff" d="M529 500l5 -6l-5 -2l-5 5z"/><path fill="#00a7ff" d="M537 497l5 -6l-5 -1l-5 5z"/><path fill="#00c7ff" d="M546 493l5 -5l-5 -1l-5 5z"/><path fill="#00f7ff" d="M554 489l5 -6l-5 0l-5 5z"/><path fill="#28ffd7" d="M563 484l5 -5l-5 0l-5 5z"/><path fill="#58ffa7" d="M571 479l5 -6l-5 1l-5 5z"/><path fill="#97ff68" d="M580 474l5 -6l-5 0l-5 6z"/><path fill="#d7ff28" d="M588 467l5 -6l-5 1l-5 6z"/><path fill="#ffe700" d="M597 461l5 -7l-5 2l-5 6z"/><path fill="#0038ff" d="M482 510l5 -5l-5 -5l-5 4zM490 510l5 -5l-5 -5l-4 5zM499 509l5 -5l-5 -4l-5 5z"/><path fill="#0048ff" d="M473 509l5 -5l-5 -5l-4 4zM508 508l4 -5l-5 -3l-4 5z"/><path fill="#0058ff" d="M516 506l5 -5l-5 -3l-5 5z"/><path fill="#0068ff" d="M525 504l4 -5l-5 -3l-4 6z"/><path fill="#0087ff" d="M533 501l5 -5l-5 -2l-5 5z"/><path fill="#00a7ff" d="M542 498l4 -6l-4 -1l-5 5z"/><path fill="#00d7ff" d="M550 494l5 -6l-5 -1l-5 6z"/><path fill="#08fff7" d="M559 489l4 -6l-4 0l-5 6z"/><path fill="#38ffc7" d="M567 484l5 -6l-5 0l-5 6z"/><path fill="#78ff87" d="M576 479l4 -7l-4 1l-5 6z"/><path fill="#b7ff48" d="M584 472l5 -6l-5 1l-5 6z"/><path fill="#f7ff08" d="M593 466l4 -7l-4 2l-5 6z"/><path fill="#0018ff" d="M478 514l5 -5l-5 -5l-5 4zM486 514l5 -5l-5 -5l-5 5zM495 514l5 -5l-5 -5l-5 5z"/><path fill="#0028ff" d="M503 512l5 -5l-5 -3l-5 5z"/><path fill="#0038ff" d="M512 511l5 -5l-5 -3l-5 5z"/><path fill="#0048ff" d="M520 509l5 -6l-5 -2l-5 5z"/><path fill="#0068ff" d="M529 506l5 -6l-5 -2l-5 6z"/><path fill="#0087ff" d="M537 502l5 -5l-5 -2l-5 6z"/><path fill="#00b7ff" d="M546 498l5 -5l-5 -1l-5 5z"/><path fill="#00e7ff" d="M554 494l5 -6l-5 0l-5 5z"/><path fill="#18ffe7" d="M563 489l5 -6l-5 0l-5 6z"/><path fill="#48ffb7" d="M571 484l5 -7l-5 1l-5 6z"/><path fill="#87ff78" d="M580 477l5 -6l-5 1l-5 6z"/><path fill="#d7ff28" d="M588 471l5 -6l-5 1l-4 6z"/><path fill="#0008ff" d="M482 518l5 -5l-5 -5l-5 5zM491 518l4 -5l-5 -5l-4 5zM499 517l5 -5l-5 -4l-5 5z"/><path fill="#0018ff" d="M508 515l4 -5l-5 -3l-4 5z"/><path fill="#0028ff" d="M516 513l5 -5l-5 -3l-5 5z"/><path fill="#0048ff" d="M525 510l4 -5l-4 -2l-5 5z"/><path fill="#0068ff" d="M533 507l5 -6l-5 -1l-5 5z"/><path fill="#0097ff" d="M542 503l4 -6l-4 -1l-5 6z"/><path fill="#00b7ff" d="M550 499l5 -6l-5 -1l-5 6z"/><path fill="#00f7ff" d="M559 494l4 -6l-4 0l-5 6z"/><path fill="#28ffd7" d="M567 489l5 -7l-5 1l-5 6z"/><path fill="#68ff97" d="M576 483l4 -7l-4 1l-5 6z"/><path fill="#a7ff58" d="M584 476l5 -6l-5 1l-5 6z"/><path fill="#0000e7" d="M486 522l5 -5l-5 -4l-5 4zM495 521l5 -5l-5 -4l-5 5z"/><path fill="#0000f7" d="M503 520l5 -6l-5 -3l-5 5z"/><path fill="#0008ff" d="M512 518l5 -6l-5 -3l-5 6z"/><path fill="#0028ff" d="M520 515l5 -6l-5 -2l-5 6z"/><path fill="#0048ff" d="M529 512l5 -6l-5 -2l-5 6z"/><path fill="#0078ff" d="M537 508l5 -6l-5 -1l-5 6z"/><path fill="#0097ff" d="M546 504l5 -6l-5 -1l-5 6z"/><path fill="#00c7ff" d="M554 499l5 -6l-5 0l-5 6z"/><path fill="#08fff7" d="M563 494l5 -7l-5 1l-5 6z"/><path fill="#48ffb7" d="M571 488l5 -6l-5 0l-4 6z"/><path fill="#87ff78" d="M580 481l5 -6l-5 1l-5 6z"/><path fill="#0000c7" d="M491 526l4 -5l-4 -5l-5 6z"/><path fill="#0000d7" d="M499 525l5 -6l-5 -4l-5 6z"/><path fill="#0000e7" d="M508 523l4 -6l-4 -3l-5 5z"/><path fill="#0008ff" d="M516 520l5 -6l-5 -2l-5 5z"/><path fill="#0028ff" d="M525 517l4 -6l-4 -2l-5 6z"/><path fill="#0048ff" d="M533 513l5 -6l-5 -1l-5 6z"/><path fill="#0078ff" d="M542 509l4 -6l-4 -1l-5 6z"/><path fill="#00a7ff" d="M550 504l5 -6l-5 0l-5 6z"/><path fill="#00e7ff" d="M559 499l4 -6l-4 0l-5 6z"/><path fill="#18ffe7" d="M567 493l5 -6l-5 0l-5 6z"/><path fill="#68ff97" d="M576 487l4 -7l-4 1l-5 7z"/><path fill="#0000b7" d="M495 529l5 -5l-5 -4l-5 5z"/><path fill="#0000c7" d="M503 527l5 -5l-5 -4l-5 6z"/><path fill="#0000e7" d="M512 525l5 -6l-5 -3l-5 6z"/><path fill="#0008ff" d="M520 522l5 -6l-5 -2l-5 5z"/><path fill="#0028ff" d="M529 518l5 -6l-5 -1l-5 5z"/><path fill="#0058ff" d="M537 514l5 -6l-5 -1l-5 6z"/><path fill="#0087ff" d="M546 509l5 -6l-5 -1l-5 7z"/><path fill="#00b7ff" d="M554 504l5 -6l-5 0l-5 6z"/><path fill="#00f7ff" d="M563 498l5 -6l-5 0l-5 7z"/><path fill="#38ffc7" d="M571 492l5 -6l-5 0l-4 7z"/><path fill="#0000a7" d="M499 532l5 -6l-5 -3l-5 6z"/><path fill="#0000c7" d="M508 530l4 -6l-4 -3l-5 6z"/><path fill="#0000e7" d="M516 527l5 -6l-5 -2l-5 5z"/><path fill="#0008ff" d="M525 523l4 -6l-4 -2l-5 6z"/><path fill="#0038ff" d="M533 519l5 -6l-5 -1l-5 6z"/><path fill="#0068ff" d="M542 514l4 -6l-4 -1l-5 7z"/><path fill="#0097ff" d="M550 509l5 -6l-5 0l-5 6z"/><path fill="#00d7ff" d="M559 504l4 -7l-4 0l-5 7z"/><path fill="#18ffe7" d="M567 498l5 -7l-5 1l-5 6z"/><path fill="#000097" d="M503 535l5 -6l-5 -3l-5 6z"/><path fill="#0000b7" d="M512 532l5 -6l-5 -3l-5 6z"/><path fill="#0000e7" d="M520 528l5 -6l-5 -2l-5 6z"/><path fill="#0008ff" d="M529 524l5 -6l-5 -1l-5 6z"/><path fill="#0038ff" d="M537 520l5 -7l-5 0l-5 6z"/><path fill="#0068ff" d="M546 515l5 -7l-5 0l-5 6z"/><path fill="#00a7ff" d="M554 509l5 -6l-5 0l-4 6z"/><path fill="#00e7ff" d="M563 503l5 -7l-5 1l-5 6z"/><path fill="#000097" d="M508 537l5 -6l-5 -3l-5 6z"/><path fill="#0000b7" d="M516 534l5 -7l-5 -2l-5 6z"/><path fill="#0000e7" d="M525 530l4 -7l-4 -1l-5 6z"/><path fill="#0018ff" d="M533 525l5 -6l-5 -1l-5 6z"/><path fill="#0048ff" d="M542 520l4 -6l-4 -1l-5 6z"/><path fill="#0087ff" d="M550 515l5 -7l-5 0l-5 6z"/><path fill="#00b7ff" d="M559 509l4 -7l-4 0l-5 7z"/><path fill="#000097" d="M512 539l5 -6l-5 -2l-5 6z"/><path fill="#0000b7" d="M520 535l5 -6l-5 -2l-5 6z"/><path fill="#0000e7" d="M529 531l5 -7l-5 -1l-5 6z"/><path fill="#0018ff" d="M537 526l5 -7l-5 -1l-4 7z"/><path fill="#0058ff" d="M546 520l5 -7l-5 0l-5 7z"/><path fill="#0097ff" d="M554 514l5 -7l-5 1l-4 6z"/><path fill="#000097" d="M516 540l5 -6l-5 -2l-5 7z"/><path fill="#0000c7" d="M525 536l5 -6l-5 -2l-5 7z"/><path fill="#0000f7" d="M533 531l5 -7l-5 0l-5 6z"/><path fill="#0028ff" d="M542 526l4 -7l-4 0l-5 6z"/><path fill="#0068ff" d="M550 520l5 -7l-5 0l-5 7z"/><path fill="#000097" d="M520 542l5 -7l-5 -1l-4 6z"/><path fill="#0000c7" d="M529 537l5 -7l-5 -1l-5 7z"/><path fill="#0008ff" d="M537 531l5 -6l-5 -1l-4 7z"/><path fill="#0048ff" d="M546 525l5 -6l-5 0l-5 6z"/><path fill="#0000a7" d="M525 542l5 -6l-5 -1l-5 6z"/><path fill="#0000d7" d="M533 537l5 -7l-5 0l-5 6z"/><path fill="#0018ff" d="M542 531l4 -7l-4 0l-5 7z"/><path fill="#0000a7" d="M529 543l5 -7l-5 -1l-5 7z"/><path fill="#0000e7" d="M537 537l5 -7l-5 0l-4 7z"/><path fill="#0000b7" d="M533 543l5 -7l-5 0l-5 6z"/></g></g><path d="M215.4 281.6 L215.4 205.6 M317.5 282 L317.5 206 M215.4 281.6 L266.6 301.3 M266.6 301.3 L317.5 282" stroke="#707070" stroke-width=".65" fill="none"/><path d="M215.4 205.6h-2.2M215.4 224.6h-2.2M215.4 243.6h-2.2M215.4 262.6h-2.2M215.4 281.6h-2.2M215.4 281.6l-1.7 .6M266.6 301.3l1.7 .6M228.2 286.5l-1.7 .6M279.3 296.5l1.7 .6M241 291.5l-1.7 .6M292.1 291.6l1.7 .6M253.8 296.4l-1.7 .6M304.8 286.8l1.7 .6M266.6 301.3l-1.7 .6M317.5 282l1.7 .6" stroke="#777" stroke-width=".6"/><g class="tk"><text x="211.9" y="206.9" text-anchor="end">0.08</text><text x="211.9" y="225.9" text-anchor="end">0.078</text><text x="211.9" y="244.9" text-anchor="end">0.076</text><text x="211.9" y="263.9" text-anchor="end">0.074</text><text x="211.9" y="282.9" text-anchor="end">0.072</text></g><g class="tk"><text x="211.5" y="289.8" text-anchor="end">200</text><text x="224.3" y="294.7" text-anchor="end">150</text><text x="237.1" y="299.7" text-anchor="end">100</text><text x="249.9" y="304.6" text-anchor="end">50</text><text x="262.7" y="309.5" text-anchor="end">0</text><text x="270.8" y="309">200</text><text x="283.5" y="304.2">250</text><text x="296.2" y="299.3">300</text><text x="309" y="294.5">350</text><text x="321.7" y="289.7">400</text></g><text class="zt" transform="translate(183.2 246.8) rotate(-90)" text-anchor="middle">Average friction</text><text class="zt" transform="translate(193.1 246) rotate(-90)" text-anchor="middle">coefficient</text><g transform="translate(232.9 304.8) rotate(11.5)"><text class="at" y="2.8" text-anchor="middle"><tspan font-style="italic">C</tspan>/μm</text></g><g transform="translate(305 303.8) rotate(-27)"><text class="at" y="2.8" text-anchor="middle"><tspan font-style="italic">B</tspan>/μm</text></g><text class="pp" x="202.2" y="330.90000000000003">(</text><text class="cp" x="209.8" y="333.6">f</text><text class="pp" x="216.7" y="330.90000000000003">)</text><text class="cp" x="231.5" y="333.6" font-style="italic">B-C</text><text class="cp" x="258.4" y="333.6">response</text><text class="cp" x="204.6" y="359">surface diagram</text><path d="M391.9 281.6 L443.1 262.6 M443.1 262.6 L494.7 282 M443.1 262.6 L443.1 186.6 M391.9 205.6 L443.1 186.6 M443.1 186.6 L494.7 206" stroke="#707070" stroke-width=".65" fill="none"/><g fill="none" stroke-width="0.6"><polyline stroke="#0000c5" points="445.5,300.2 444.7,299.9 443.9,299.6 443.1,299.3 442.6,299.1 442.2,298.9 441.3,298.6 440.4,298.3 439.5,298 438.5,297.7 437.6,297.4 437,297.3 436,297 435,296.8 434.4,296.7 433.3,296.4 432.6,296.3 431.6,296.1 431,296 429.8,295.8 429.6,295.8"/><polyline stroke="#003eff" points="450.2,298.5 449.5,298.2 449.1,298 448.4,297.6 447.6,297.2 446.9,296.9 446.5,296.7 445.7,296.3 444.9,296 444.1,295.7 443.2,295.3 442.3,295 441.4,294.7 440.5,294.4 440,294.3 439,294 438,293.7 437.1,293.5 436.4,293.3 435.3,293.1 434.7,293 433.6,292.8 433,292.7 432.1,292.6 431.1,292.4 430.4,292.4 429.6,292.3 428.5,292.2 427.6,292.1 426.9,292.1 426.1,292 425.4,292 424.5,292 423.6,291.9 422.7,291.9 421.9,291.9 421,291.9 420.2,291.9 419.4,291.9 419.4,291.9"/><polyline stroke="#00b7ff" points="455.1,296.7 454.5,296.3 454.2,296.1 453.6,295.6 453.3,295.4 452.7,295 452.2,294.7 451.7,294.4 451.1,294 450.7,293.8 450,293.4 449.3,293.1 449,292.9 448.3,292.5 447.5,292.1 446.7,291.8 445.9,291.4 445.1,291.1 444.2,290.8 443.3,290.5 442.4,290.2 441.4,289.9 440.4,289.6 439.9,289.5 438.8,289.3 438.2,289.2 437,288.9 436.4,288.9 435.4,288.7 434.5,288.6 433.8,288.5 433.1,288.5 432,288.4 431,288.3 430.1,288.3 429.3,288.3 428.5,288.3 427.6,288.3 426.8,288.3 425.9,288.3 425,288.3 424.2,288.3 423.4,288.3 422.7,288.4 421.9,288.4 420.9,288.5 419.9,288.6 419.1,288.6 418.4,288.7 417.6,288.8 416.4,288.9 415.7,289 415,289 414,289.2 413.1,289.3 412.5,289.3 412.5,289.3"/><polyline stroke="#30ffcf" points="460.4,294.7 460.2,294.5 459.7,294 459.5,293.8 459.2,293.5 458.8,293.1 458.6,292.8 458.2,292.5 457.8,292.1 457.6,291.9 457.1,291.5 456.9,291.2 456.6,290.9 456.1,290.5 455.9,290.3 455.3,289.9 455.1,289.6 454.6,289.2 454.3,289 453.8,288.6 453.4,288.3 452.9,287.9 452.5,287.7 451.9,287.3 451.6,287.1 450.9,286.7 450.2,286.3 449.8,286.1 449.1,285.8 448.3,285.4 447.5,285.1 446.6,284.8 445.6,284.5 444.6,284.2 444.1,284.1 443,283.8 442.4,283.7 441.3,283.6 440.5,283.5 439.8,283.4 439,283.4 438,283.3 437.1,283.3 436.2,283.3 435.4,283.3 434.6,283.3 433.8,283.3 433,283.4 432,283.4 431,283.5 430.1,283.5 429.5,283.6 428.7,283.7 427.5,283.8 426.8,283.9 426.1,284 425,284.1 424.2,284.2 423.6,284.3 422.4,284.5 421.8,284.5 420.8,284.7 420,284.8 419.3,284.9 418.2,285.1 417.6,285.2 416.4,285.4 415.9,285.5 414.7,285.7 414.1,285.8 413,286 412.4,286.1 411.3,286.3 410.8,286.5 409.6,286.7 409.1,286.8 408,287 407.2,287.2 406.9,287.2"/><polyline stroke="#a8ff57" points="453,266.3 452.9,266.7 452.7,267.1 452.6,267.4 452.4,267.7 452.3,268 452.1,268.2 451.9,268.7 451.6,269 451.4,269.2 451.1,269.6 450.8,269.9 450.5,270.2 450,270.6 449.7,270.8 449.1,271.2 448.8,271.4 448.1,271.8 447.4,272.2 446.9,272.4 446.3,272.7 445.5,273.1 444.6,273.4 443.8,273.7 442.9,274 442,274.3 441.1,274.6 440.2,274.9 439.8,275.1 438.9,275.3 437.9,275.6 437,275.9 436,276.2 435.5,276.4 434.6,276.6 433.6,276.9 432.7,277.2 431.7,277.4 431.2,277.6 430.2,277.8 429.2,278.1 428.3,278.4 427.8,278.5 426.8,278.8 425.8,279.1 425,279.3 424.3,279.5 423.3,279.7 422.4,280 421.9,280.1 420.9,280.4 419.9,280.6 418.9,280.9 418.4,281 417.4,281.3 416.4,281.6 415.6,281.8 414.9,282 413.9,282.2 413,282.5 412.5,282.6 411.5,282.9 410.5,283.2 409.5,283.4 409,283.6 408,283.8 407,284.1 406.4,284.3 405.5,284.5 404.5,284.8 403.5,285 403,285.2 402.1,285.4 402.1,285.4"/><polyline stroke="#a8ff57" points="466.1,292.6 465.9,292.2 465.7,291.8 465.6,291.5 465.4,291.3 465.3,291 465.1,290.6 464.9,290.3 464.8,289.9 464.6,289.6 464.5,289.3 464.4,289.1 464.2,288.7 464.1,288.3 463.9,288 463.8,287.7 463.7,287.4 463.6,287.1 463.4,286.8 463.3,286.4 463.1,286.1 463,285.7 462.9,285.4 462.8,285.2 462.7,284.9 462.6,284.6 462.5,284.2 462.4,283.9 462.3,283.5 462.2,283.2 462.1,282.8 462.1,282.5 462,282.3 461.9,282 461.9,281.7 461.8,281.4 461.8,281.1 461.7,280.8 461.7,280.4 461.6,280.1 461.6,279.8 461.6,279.4 461.6,279.1 461.6,278.8 461.6,278.5 461.6,278.2 461.6,277.9 461.7,277.6 461.7,277.2 461.8,276.9 461.9,276.5 462.1,276.1 462.2,275.8 462.3,275.6 462.5,275.3 462.8,274.9 463,274.6 463.3,274.3 463.7,273.9 464,273.6 464.5,273.3 464.9,273 465.5,272.6 465.9,272.4 466.6,272.1 467.4,271.7 467.4,271.7"/><polyline stroke="#ffdd00" points="439.5,263.9 439.1,264.3 438.9,264.5 438.5,265 438.2,265.2 437.9,265.5 437.5,265.9 437.2,266.1 436.7,266.6 436.4,266.8 436,267.2 435.6,267.4 435.2,267.8 434.8,268.1 434.3,268.4 433.9,268.7 433.3,269.1 433,269.3 432.4,269.7 432.1,269.9 431.4,270.3 430.8,270.7 430.4,270.9 429.8,271.3 429.2,271.6 428.7,271.9 428,272.2 427.3,272.6 427,272.8 426.2,273.1 425.5,273.5 424.7,273.9 424.1,274.2 423.6,274.4 422.8,274.7 422,275.1 421.2,275.4 420.4,275.7 419.6,276.1 418.8,276.4 418,276.7 417.6,276.9 416.7,277.2 415.9,277.5 415,277.9 414.2,278.2 413.3,278.5 412.5,278.8 411.6,279.1 410.7,279.4 410.3,279.6 409.4,279.9 408.5,280.2 407.7,280.5 406.8,280.8 405.9,281.1 405,281.4 404.1,281.7 403.2,282 402.3,282.3 401.4,282.6 400.6,282.9 400,283.1 399.1,283.4 398.2,283.6 397.7,283.8"/><polyline stroke="#ffdd00" points="472.4,290.3 472.4,290 472.3,289.7 472.3,289.3 472.3,289 472.3,288.7 472.3,288.4 472.3,288.1 472.3,287.7 472.3,287.4 472.3,287.1 472.4,286.8 472.4,286.4 472.5,286.1 472.5,285.8 472.6,285.5 472.6,285.2 472.7,284.9 472.8,284.6 472.8,284.3 472.9,284 473.1,283.6 473.2,283.2 473.3,282.9 473.5,282.6 473.6,282.4 473.7,282.1 474,281.7 474.2,281.3 474.3,281 474.5,280.8 474.7,280.4 475,280 475.2,279.8 475.4,279.5 475.8,279.1 476,278.8 476.3,278.5 476.7,278.1 477,277.9 477.4,277.5 477.7,277.2 478.1,276.9 478.5,276.6 478.9,276.3 479.1,276.1"/><polyline stroke="#ff6500" points="417.7,272 417.2,272.3 416.5,272.7 415.8,273 415.4,273.2 414.7,273.6 414,274 413.2,274.3 412.8,274.5 412.1,274.8 411.3,275.2 410.6,275.6 409.8,275.9 409.4,276.1 408.6,276.4 407.9,276.8 407.1,277.1 406.3,277.4 405.5,277.8 404.7,278.1 403.9,278.4 403.5,278.6 402.6,278.9 401.8,279.3 401,279.6 400.2,279.9 399.3,280.2 398.5,280.6 397.6,280.9 396.8,281.2 395.9,281.5 395.1,281.8 394.2,282.2 393.8,282.3"/><polyline stroke="#ff6500" points="479.4,287.7 479.6,287.3 479.7,286.9 479.8,286.6 479.9,286.3 480.1,286.1 480.2,285.8 480.4,285.4 480.6,285 480.7,284.7 480.9,284.5 481,284.2 481.3,283.8 481.5,283.4 481.7,283.2 481.9,282.9 482.2,282.5 482.4,282.2 482.7,281.9 483,281.5 483.3,281.2 483.5,281 483.9,280.5 484.2,280.3 484.5,280 484.9,279.6 485.2,279.4 485.7,278.9 486,278.7 486,278.7"/><polyline stroke="#eb0000" points="487.6,284.6 487.9,284.2 488.1,284 488.4,283.7 488.8,283.3 489,283 489.2,282.7 489.6,282.3 489.9,282.1 490.2,281.7 490.6,281.4 490.8,281.2 491.3,280.7 491.3,280.7"/></g><g filter="url(#bl)"><g transform="scale(.5)"><path fill="#fff700" d="M886 418l5 -1l-5 -4l-5 0z"/><path fill="#e7ff18" d="M891 422l4 -1l-5 -5l-4 1z"/><path fill="#ffe700" d="M882 419l5 -1l-5 -5l-5 1z"/><path fill="#d7ff28" d="M895 425l5 -1l-5 -4l-5 1z"/><path fill="#f7ff08" d="M886 422l5 -1l-5 -4l-5 1z"/><path fill="#ffe700" d="M878 419l5 -1l-5 -5l-5 1z"/><path fill="#b7ff48" d="M899 428l5 -1l-5 -4l-5 1z"/><path fill="#d7ff28" d="M891 426l5 -1l-5 -5l-5 1z"/><path fill="#fff700" d="M882 423l5 -1l-5 -5l-5 1z"/><path fill="#ffd700" d="M873 420l5 -1l-5 -5l-5 1z"/><path fill="#a7ff58" d="M903 431l5 -2l-5 -3l-5 1z"/><path fill="#c7ff38" d="M895 429l5 -1l-5 -4l-5 1z"/><path fill="#e7ff18" d="M886 427l5 -2l-5 -4l-5 1z"/><path fill="#fff700" d="M878 424l5 -1l-5 -5l-5 1z"/><path fill="#ffc700" d="M869 421l5 -2l-5 -5l-5 1z"/><path fill="#a7ff58" d="M908 433l5 -1l-5 -4l-5 2z"/><path fill="#b7ff48" d="M899 432l5 -2l-5 -3l-5 1z"/><path fill="#d7ff28" d="M891 430l5 -2l-5 -4l-5 2z"/><path fill="#f7ff08" d="M882 427l5 -1l-5 -4l-5 1z"/><path fill="#ffe700" d="M873 425l5 -2l-5 -5l-4 2z"/><path fill="#ffb700" d="M865 421l5 -1l-5 -5l-5 1z"/><path fill="#97ff68" d="M912 435l5 -1l-5 -3l-5 1z"/><path fill="#a7ff58" d="M903 434l5 -1l-5 -4l-5 2z"/><path fill="#b7ff48" d="M895 433l5 -2l-5 -3l-5 1z"/><path fill="#d7ff28" d="M886 431l5 -2l-5 -4l-5 2z"/><path fill="#f7ff08" d="M878 428l5 -1l-5 -5l-5 2z"/><path fill="#ffd700" d="M869 425l5 -1l-5 -5l-5 1z"/><path fill="#ffb700" d="M861 422l5 -1l-5 -6l-5 1z"/><path fill="#97ff68" d="M916 437l5 -2l-5 -2l-5 2z"/><path fill="#a7ff58" d="M908 437l5 -2l-5 -3l-5 2z"/><path fill="#b7ff48" d="M899 435l5 -1l-5 -4l-5 2z"/><path fill="#c7ff38" d="M891 434l5 -2l-5 -4l-5 2z"/><path fill="#e7ff18" d="M882 432l5 -2l-5 -4l-5 1z"/><path fill="#fff700" d="M874 429l4 -1l-5 -5l-4 1z"/><path fill="#ffd700" d="M865 426l5 -1l-5 -5l-5 1z"/><path fill="#ffa700" d="M856 423l5 -1l-5 -6l-5 1z"/><path fill="#97ff68" d="M912 439l5 -2l-5 -3l-5 2zM921 439l5 -2l-5 -2l-5 2z"/><path fill="#a7ff58" d="M904 438l4 -2l-5 -3l-4 2z"/><path fill="#b7ff48" d="M895 437l5 -2l-5 -4l-5 2z"/><path fill="#c7ff38" d="M886 435l5 -2l-5 -4l-5 2z"/><path fill="#e7ff18" d="M878 433l5 -2l-5 -4l-5 1z"/><path fill="#fff700" d="M869 430l5 -1l-5 -5l-5 1z"/><path fill="#ffc700" d="M861 427l5 -1l-5 -5l-5 1z"/><path fill="#ff9700" d="M852 424l5 -2l-5 -5l-5 1z"/><path fill="#97ff68" d="M908 440l5 -2l-5 -3l-5 2zM916 440l5 -2l-5 -2l-5 2zM925 440l5 -2l-5 -2l-5 2z"/><path fill="#a7ff58" d="M899 439l5 -2l-5 -3l-5 2z"/><path fill="#b7ff48" d="M891 438l5 -2l-5 -4l-5 2z"/><path fill="#d7ff28" d="M882 436l5 -1l-5 -5l-5 2z"/><path fill="#f7ff08" d="M874 434l4 -2l-5 -4l-4 1z"/><path fill="#ffe700" d="M865 431l5 -1l-5 -5l-5 1z"/><path fill="#ffc700" d="M856 428l5 -1l-5 -6l-5 2z"/><path fill="#ff9700" d="M848 425l5 -2l-5 -6l-5 2z"/><path fill="#97ff68" d="M912 442l5 -2l-5 -3l-5 2zM921 442l5 -3l-5 -2l-5 3z"/><path fill="#a7ff58" d="M895 441l5 -2l-5 -4l-5 2zM904 441l4 -2l-5 -3l-4 2zM929 441l5 -2l-5 -2l-5 2z"/><path fill="#b7ff48" d="M886 439l5 -2l-5 -3l-5 1z"/><path fill="#d7ff28" d="M878 438l5 -2l-5 -4l-5 1z"/><path fill="#f7ff08" d="M869 435l5 -1l-5 -5l-5 2z"/><path fill="#ffe700" d="M861 433l5 -2l-5 -5l-5 1z"/><path fill="#ffb700" d="M852 429l5 -1l-5 -6l-5 2z"/><path fill="#ff8700" d="M844 426l4 -2l-4 -6l-5 1z"/><path fill="#97ff68" d="M908 443l5 -2l-5 -2l-5 2zM916 443l5 -2l-5 -2l-5 2zM925 443l5 -3l-5 -1l-5 2z"/><path fill="#a7ff58" d="M899 443l5 -2l-5 -3l-5 2zM934 442l4 -3l-5 -1l-4 2z"/><path fill="#b7ff48" d="M891 442l5 -2l-5 -3l-5 2z"/><path fill="#c7ff38" d="M882 441l5 -2l-5 -4l-5 2z"/><path fill="#d7ff28" d="M874 439l5 -2l-5 -4l-5 1z"/><path fill="#f7ff08" d="M865 437l5 -2l-5 -5l-5 2z"/><path fill="#ffd700" d="M856 434l5 -2l-5 -5l-5 1z"/><path fill="#ffb700" d="M848 430l5 -1l-5 -6l-5 2z"/><path fill="#ff7800" d="M839 427l5 -2l-5 -6l-5 1z"/><path fill="#97ff68" d="M904 445l5 -2l-5 -3l-5 2zM912 445l5 -2l-5 -3l-5 3zM921 445l5 -3l-5 -2l-5 3z"/><path fill="#a7ff58" d="M895 445l5 -3l-5 -3l-5 2zM929 444l5 -3l-5 -1l-5 2z"/><path fill="#b7ff48" d="M886 444l5 -2l-5 -4l-5 2zM938 442l5 -2l-5 -1l-5 2z"/><path fill="#c7ff38" d="M878 442l5 -2l-5 -4l-5 2z"/><path fill="#e7ff18" d="M869 440l5 -2l-5 -4l-5 2z"/><path fill="#fff700" d="M861 438l5 -2l-5 -5l-5 2z"/><path fill="#ffd700" d="M852 435l5 -2l-5 -5l-5 1z"/><path fill="#ffa700" d="M844 432l5 -2l-5 -6l-5 2z"/><path fill="#ff7800" d="M835 428l5 -2l-5 -6l-5 1z"/><path fill="#97ff68" d="M899 447l5 -3l-5 -2l-5 2zM908 447l5 -3l-5 -2l-5 2zM916 447l5 -3l-5 -2l-5 2z"/><path fill="#a7ff58" d="M891 446l5 -2l-5 -3l-5 2zM925 446l5 -3l-5 -2l-5 3z"/><path fill="#b7ff48" d="M882 445l5 -2l-5 -4l-5 2zM934 444l5 -3l-5 -1l-5 3z"/><path fill="#c7ff38" d="M874 444l5 -2l-5 -4l-5 1zM942 442l5 -2l-5 -1l-5 3z"/><path fill="#e7ff18" d="M865 442l5 -2l-5 -5l-5 2z"/><path fill="#fff700" d="M856 439l5 -2l-5 -5l-4 2z"/><path fill="#ffd700" d="M848 436l5 -1l-5 -6l-5 2z"/><path fill="#ffa700" d="M839 433l5 -2l-5 -6l-5 2z"/><path fill="#ff7800" d="M831 429l5 -2l-5 -6l-5 1z"/><path fill="#97ff68" d="M895 449l5 -3l-5 -3l-5 3zM904 449l5 -3l-5 -2l-5 2zM912 449l5 -3l-5 -2l-5 2z"/><path fill="#a7ff58" d="M886 448l5 -2l-5 -4l-5 3zM921 448l5 -3l-5 -2l-5 3zM929 446l5 -3l-5 -1l-5 3z"/><path fill="#b7ff48" d="M878 447l5 -2l-5 -4l-5 2z"/><path fill="#c7ff38" d="M869 445l5 -2l-5 -4l-5 2zM938 445l5 -3l-5 -1l-5 3z"/><path fill="#d7ff28" d="M946 442l5 -3l-5 0l-5 3z"/><path fill="#e7ff18" d="M861 443l5 -2l-5 -5l-5 2z"/><path fill="#fff700" d="M852 441l5 -2l-5 -5l-5 1z"/><path fill="#ffc700" d="M844 438l5 -2l-5 -6l-5 2z"/><path fill="#ff9700" d="M835 434l5 -2l-5 -6l-5 2z"/><path fill="#ff6800" d="M827 430l4 -2l-5 -6l-4 1z"/><path fill="#97ff68" d="M891 451l5 -3l-5 -3l-5 2zM899 451l5 -3l-5 -2l-5 2zM908 451l5 -3l-5 -2l-5 2zM916 450l5 -3l-5 -2l-5 3z"/><path fill="#a7ff58" d="M882 450l5 -2l-5 -4l-5 2zM925 449l5 -3l-5 -2l-5 3z"/><path fill="#b7ff48" d="M874 449l5 -3l-5 -4l-5 3zM934 447l5 -3l-5 -1l-5 3z"/><path fill="#c7ff38" d="M865 447l5 -2l-5 -5l-5 2z"/><path fill="#d7ff28" d="M942 445l5 -4l-5 0l-5 3z"/><path fill="#e7ff18" d="M857 445l4 -2l-5 -5l-4 2z"/><path fill="#f7ff08" d="M951 442l5 -3l-5 0l-5 3z"/><path fill="#fff700" d="M848 442l5 -2l-5 -5l-5 2z"/><path fill="#ffc700" d="M839 439l5 -2l-5 -6l-5 2z"/><path fill="#ff9700" d="M831 435l5 -1l-5 -7l-5 2z"/><path fill="#ff6800" d="M822 431l5 -1l-5 -7l-5 1z"/><path fill="#87ff78" d="M895 453l5 -3l-5 -3l-5 3zM904 453l5 -3l-5 -2l-5 2z"/><path fill="#97ff68" d="M878 452l5 -3l-5 -3l-5 2zM887 453l4 -3l-5 -3l-4 2zM912 452l5 -3l-5 -2l-5 3z"/><path fill="#a7ff58" d="M869 451l5 -3l-5 -4l-5 2zM921 451l5 -3l-5 -2l-5 3z"/><path fill="#b7ff48" d="M929 449l5 -3l-5 -1l-5 3z"/><path fill="#c7ff38" d="M861 449l5 -2l-5 -5l-5 2zM938 447l5 -3l-5 -1l-5 3z"/><path fill="#e7ff18" d="M852 447l5 -3l-5 -5l-5 2zM946 444l5 -3l-5 0l-5 3z"/><path fill="#fff700" d="M844 444l5 -2l-5 -6l-5 2z"/><path fill="#ffe700" d="M955 441l5 -3l-5 0l-5 3z"/><path fill="#ffc700" d="M835 440l5 -1l-5 -6l-5 1z"/><path fill="#ff9700" d="M827 437l4 -2l-5 -6l-4 1z"/><path fill="#ff5800" d="M818 432l5 -1l-5 -7l-5 1z"/><path fill="#87ff78" d="M882 455l5 -3l-5 -3l-5 2zM891 455l5 -3l-5 -3l-5 3zM899 455l5 -3l-5 -3l-5 3zM908 454l5 -3l-5 -2l-5 3z"/><path fill="#97ff68" d="M874 454l5 -3l-5 -4l-5 3zM917 453l4 -3l-5 -2l-4 3z"/><path fill="#a7ff58" d="M865 453l5 -3l-5 -4l-5 2zM925 452l5 -4l-5 -1l-5 3z"/><path fill="#c7ff38" d="M857 451l4 -3l-5 -4l-4 2zM934 449l5 -3l-5 -1l-5 4z"/><path fill="#e7ff18" d="M848 448l5 -2l-5 -5l-5 2zM942 447l5 -4l-5 0l-5 3z"/><path fill="#fff700" d="M839 445l5 -2l-5 -5l-5 2zM951 444l5 -4l-5 1l-5 3z"/><path fill="#ffc700" d="M831 442l5 -2l-5 -6l-5 2zM959 440l5 -3l-5 0l-5 4z"/><path fill="#ff9700" d="M822 438l5 -2l-5 -6l-5 1z"/><path fill="#ff5800" d="M814 434l5 -2l-5 -7l-5 2z"/><path fill="#78ff87" d="M895 457l5 -3l-5 -2l-5 2z"/><path fill="#87ff78" d="M878 457l5 -3l-5 -4l-5 3zM887 457l4 -3l-5 -3l-4 3zM904 457l5 -3l-5 -3l-5 3z"/><path fill="#97ff68" d="M869 456l5 -3l-5 -4l-5 3zM912 456l5 -4l-5 -1l-5 3z"/><path fill="#a7ff58" d="M861 454l5 -2l-5 -5l-5 3zM921 454l5 -3l-5 -2l-5 4z"/><path fill="#b7ff48" d="M929 452l5 -3l-5 -1l-5 3z"/><path fill="#c7ff38" d="M852 453l5 -3l-5 -5l-5 2z"/><path fill="#d7ff28" d="M938 449l5 -3l-5 0l-5 3z"/><path fill="#e7ff18" d="M844 450l5 -2l-5 -6l-5 2z"/><path fill="#f7ff08" d="M947 446l4 -3l-5 0l-4 3z"/><path fill="#fff700" d="M835 447l5 -2l-5 -6l-5 2z"/><path fill="#ffd700" d="M955 443l5 -4l-5 1l-5 3z"/><path fill="#ffc700" d="M827 444l4 -2l-4 -7l-5 2z"/><path fill="#ffa700" d="M964 439l5 -4l-5 1l-5 4z"/><path fill="#ff9700" d="M818 440l5 -2l-5 -7l-5 2z"/><path fill="#ff5800" d="M809 435l5 -2l-5 -7l-4 2z"/><path fill="#78ff87" d="M882 460l5 -3l-5 -4l-5 3zM891 460l5 -3l-5 -3l-5 3zM899 459l5 -3l-5 -2l-5 3z"/><path fill="#87ff78" d="M874 459l5 -3l-5 -4l-5 3zM908 458l5 -3l-5 -2l-5 3z"/><path fill="#97ff68" d="M865 458l5 -3l-5 -4l-5 3zM917 457l4 -4l-5 -1l-4 3z"/><path fill="#a7ff58" d="M857 456l5 -2l-5 -5l-5 3zM925 455l5 -4l-5 -1l-5 4z"/><path fill="#c7ff38" d="M848 454l5 -2l-5 -5l-5 2zM934 452l5 -3l-5 -1l-5 4z"/><path fill="#e7ff18" d="M839 452l5 -2l-5 -6l-5 2z"/><path fill="#f7ff08" d="M942 449l5 -3l-5 -1l-5 4z"/><path fill="#fff700" d="M831 449l5 -2l-5 -6l-5 2z"/><path fill="#ffe700" d="M951 446l5 -4l-5 0l-5 4z"/><path fill="#ffc700" d="M822 445l5 -2l-5 -6l-5 2z"/><path fill="#ffb700" d="M959 442l5 -4l-5 1l-5 4z"/><path fill="#ff8700" d="M814 441l5 -2l-5 -7l-5 2z"/><path fill="#ff7800" d="M968 437l5 -4l-5 2l-5 4z"/><path fill="#ff5800" d="M805 436l5 -1l-5 -8l-5 2z"/><path fill="#68ff97" d="M887 462l5 -3l-5 -3l-5 3z"/><path fill="#78ff87" d="M869 461l5 -3l-5 -3l-5 2zM878 462l5 -3l-5 -4l-5 3zM895 462l5 -4l-5 -2l-5 3zM904 461l5 -4l-5 -2l-5 3z"/><path fill="#87ff78" d="M861 460l5 -3l-5 -4l-5 3zM912 459l5 -3l-5 -2l-5 4z"/><path fill="#a7ff58" d="M852 459l5 -3l-5 -5l-5 3zM921 457l5 -3l-5 -1l-5 3z"/><path fill="#b7ff48" d="M844 456l5 -2l-5 -5l-5 2zM929 455l5 -4l-5 0l-5 3z"/><path fill="#e7ff18" d="M835 454l5 -3l-5 -5l-5 2zM938 452l5 -4l-5 0l-5 4z"/><path fill="#fff700" d="M827 451l5 -3l-5 -6l-5 2zM947 449l4 -4l-5 0l-4 4z"/><path fill="#ffc700" d="M818 447l5 -2l-5 -7l-5 2zM955 445l5 -4l-5 1l-5 3z"/><path fill="#ff9700" d="M964 440l5 -4l-5 2l-5 3z"/><path fill="#ff8700" d="M809 443l5 -2l-5 -7l-4 1z"/><path fill="#ff5800" d="M972 436l5 -5l-5 2l-5 4z"/><path fill="#ff4800" d="M801 438l5 -2l-5 -7l-5 1z"/><path fill="#68ff97" d="M874 464l5 -3l-5 -3l-5 3zM882 465l5 -4l-5 -3l-5 3zM891 464l5 -3l-5 -3l-5 3zM899 463l5 -3l-5 -2l-5 3z"/><path fill="#78ff87" d="M865 464l5 -3l-5 -4l-5 2zM908 462l5 -4l-5 -1l-5 3z"/><path fill="#87ff78" d="M857 462l5 -2l-5 -5l-5 3z"/><path fill="#97ff68" d="M848 461l5 -3l-5 -5l-5 3zM917 460l5 -3l-5 -2l-5 4z"/><path fill="#a7ff58" d="M925 458l5 -4l-5 -1l-5 4z"/><path fill="#b7ff48" d="M839 458l5 -2l-5 -6l-5 3z"/><path fill="#d7ff28" d="M831 456l5 -3l-5 -6l-5 3zM934 455l5 -4l-5 0l-5 3z"/><path fill="#f7ff08" d="M942 452l5 -4l-5 0l-5 4z"/><path fill="#fff700" d="M822 452l5 -2l-5 -6l-5 2z"/><path fill="#ffd700" d="M951 448l5 -4l-5 0l-5 4z"/><path fill="#ffc700" d="M814 449l5 -2l-5 -7l-5 2z"/><path fill="#ffa700" d="M959 444l5 -5l-5 1l-5 4z"/><path fill="#ff8700" d="M805 444l5 -2l-5 -7l-5 2z"/><path fill="#ff6800" d="M968 439l5 -4l-5 1l-5 4z"/><path fill="#ff4800" d="M797 439l4 -1l-4 -8l-5 2z"/><path fill="#ff2800" d="M977 433l4 -4l-5 2l-4 4z"/><path fill="#58ffa7" d="M869 467l5 -3l-5 -4l-5 3zM878 467l5 -3l-5 -3l-5 3zM887 467l5 -4l-5 -2l-5 3z"/><path fill="#68ff97" d="M861 466l5 -3l-5 -4l-5 3zM895 466l5 -3l-5 -3l-5 4zM904 465l5 -4l-5 -2l-5 4z"/><path fill="#78ff87" d="M852 465l5 -3l-5 -5l-5 3z"/><path fill="#87ff78" d="M912 463l5 -4l-5 -1l-5 3z"/><path fill="#97ff68" d="M844 463l5 -3l-5 -5l-5 3zM921 461l5 -4l-5 -1l-5 4z"/><path fill="#b7ff48" d="M835 461l5 -3l-5 -6l-5 3z"/><path fill="#c7ff38" d="M929 458l5 -4l-5 0l-5 3z"/><path fill="#d7ff28" d="M827 458l5 -3l-5 -6l-5 2z"/><path fill="#e7ff18" d="M938 455l5 -4l-5 0l-5 4z"/><path fill="#fff700" d="M818 454l5 -2l-5 -6l-5 2z"/><path fill="#ffe700" d="M947 451l4 -4l-4 0l-5 4z"/><path fill="#ffc700" d="M810 450l4 -2l-5 -7l-4 2z"/><path fill="#ffb700" d="M955 447l5 -4l-5 0l-5 4z"/><path fill="#ff8700" d="M801 446l5 -2l-5 -7l-5 1z"/><path fill="#ff7800" d="M964 442l5 -4l-5 1l-5 4z"/><path fill="#ff4800" d="M792 441l5 -2l-5 -8l-5 2z"/><path fill="#ff3800" d="M972 437l5 -5l-5 2l-5 4z"/><path fill="#f70000" d="M981 431l5 -4l-5 2l-5 4z"/><path fill="#48ffb7" d="M874 470l5 -4l-5 -3l-5 3zM882 470l5 -4l-5 -3l-5 3z"/><path fill="#58ffa7" d="M857 469l5 -4l-5 -4l-5 3zM865 469l5 -3l-5 -4l-5 3zM891 469l5 -4l-5 -2l-5 3z"/><path fill="#68ff97" d="M899 468l5 -4l-5 -2l-5 4z"/><path fill="#78ff87" d="M848 467l5 -3l-5 -5l-5 3zM908 466l5 -4l-5 -1l-5 3z"/><path fill="#87ff78" d="M840 465l4 -3l-5 -5l-4 3zM917 464l5 -4l-5 -1l-5 4z"/><path fill="#a7ff58" d="M831 463l5 -3l-5 -6l-5 3zM925 461l5 -4l-5 -1l-5 4z"/><path fill="#d7ff28" d="M822 460l5 -3l-5 -6l-5 2zM934 458l5 -4l-5 0l-5 4z"/><path fill="#fff700" d="M814 456l5 -2l-5 -7l-5 2zM942 454l5 -4l-5 0l-5 4z"/><path fill="#ffc700" d="M805 452l5 -2l-5 -7l-5 2zM951 450l5 -4l-5 0l-5 5z"/><path fill="#ff9700" d="M959 445l5 -4l-5 1l-4 4z"/><path fill="#ff8700" d="M797 448l5 -2l-5 -8l-5 2z"/><path fill="#ff5800" d="M968 440l5 -4l-5 1l-5 5z"/><path fill="#ff4800" d="M788 443l5 -2l-5 -8l-5 1z"/><path fill="#ff0800" d="M977 435l4 -5l-4 2l-5 4z"/><path fill="#b70000" d="M985 428l5 -4l-5 2l-5 5z"/><path fill="#38ffc7" d="M870 473l4 -4l-5 -4l-4 4zM878 472l5 -3l-5 -3l-5 3z"/><path fill="#48ffb7" d="M861 472l5 -3l-5 -4l-5 3zM887 472l5 -4l-5 -3l-5 4zM895 471l5 -4l-5 -2l-5 3z"/><path fill="#58ffa7" d="M852 471l5 -3l-5 -5l-5 3z"/><path fill="#68ff97" d="M844 470l5 -3l-5 -5l-5 2zM904 469l5 -4l-5 -2l-5 4z"/><path fill="#78ff87" d="M912 467l5 -4l-5 -1l-5 4z"/><path fill="#87ff78" d="M835 468l5 -3l-5 -6l-5 3z"/><path fill="#97ff68" d="M921 464l5 -4l-5 -1l-5 4z"/><path fill="#a7ff58" d="M827 465l5 -3l-5 -6l-5 3z"/><path fill="#c7ff38" d="M818 462l5 -3l-5 -6l-5 2zM929 461l5 -4l-5 0l-4 4z"/><path fill="#e7ff18" d="M938 458l5 -5l-5 0l-5 5z"/><path fill="#f7ff08" d="M810 458l4 -2l-5 -7l-4 2z"/><path fill="#ffd700" d="M947 454l4 -5l-4 1l-5 4z"/><path fill="#ffc700" d="M801 454l5 -2l-5 -7l-5 2z"/><path fill="#ffa700" d="M955 449l5 -5l-5 1l-5 5z"/><path fill="#ff8700" d="M792 450l5 -3l-5 -7l-4 2z"/><path fill="#ff6800" d="M964 444l5 -5l-5 2l-5 4z"/><path fill="#ff2800" d="M972 438l5 -5l-5 2l-5 5z"/><path fill="#d70000" d="M981 432l5 -5l-5 3l-5 4z"/><path fill="#28ffd7" d="M874 475l5 -3l-5 -4l-5 4z"/><path fill="#38ffc7" d="M857 475l5 -4l-5 -4l-5 3zM865 475l5 -3l-5 -4l-5 3zM882 475l5 -4l-5 -3l-5 4zM891 474l5 -4l-5 -2l-5 3z"/><path fill="#48ffb7" d="M848 474l5 -3l-5 -5l-5 3zM900 472l4 -4l-5 -2l-4 4z"/><path fill="#58ffa7" d="M840 472l4 -3l-5 -5l-4 3z"/><path fill="#68ff97" d="M908 470l5 -4l-5 -1l-5 4z"/><path fill="#78ff87" d="M831 470l5 -3l-5 -6l-5 3z"/><path fill="#87ff78" d="M917 468l5 -4l-5 -1l-5 4z"/><path fill="#97ff68" d="M822 467l5 -2l-5 -7l-5 3z"/><path fill="#a7ff58" d="M925 465l5 -5l-5 0l-5 4z"/><path fill="#c7ff38" d="M814 464l5 -2l-5 -7l-5 2z"/><path fill="#d7ff28" d="M934 461l5 -4l-5 0l-5 4z"/><path fill="#f7ff08" d="M805 460l5 -2l-5 -7l-5 2z"/><path fill="#fff700" d="M942 457l5 -4l-5 0l-5 4z"/><path fill="#ffc700" d="M797 456l5 -2l-5 -8l-5 2z"/><path fill="#ffb700" d="M951 452l5 -4l-5 1l-5 4z"/><path fill="#ff7800" d="M959 447l5 -4l-5 1l-4 5z"/><path fill="#ff3800" d="M968 442l5 -5l-5 2l-5 4z"/><path fill="#e70000" d="M977 436l4 -5l-4 2l-5 5z"/><path fill="#18ffe7" d="M870 478l4 -3l-5 -4l-4 4z"/><path fill="#28ffd7" d="M852 478l5 -4l-5 -4l-5 3zM861 478l5 -3l-5 -4l-5 3zM878 478l5 -4l-5 -3l-5 4zM887 477l5 -4l-5 -3l-5 4z"/><path fill="#38ffc7" d="M844 476l5 -3l-5 -5l-5 3zM895 476l5 -4l-5 -3l-5 4z"/><path fill="#58ffa7" d="M835 475l5 -3l-5 -6l-5 3zM904 474l5 -5l-5 -1l-5 4z"/><path fill="#78ff87" d="M827 472l5 -2l-5 -6l-5 2zM912 471l5 -4l-5 -1l-5 4z"/><path fill="#97ff68" d="M818 470l5 -3l-5 -6l-5 2zM921 468l5 -4l-5 -1l-5 4z"/><path fill="#b7ff48" d="M930 465l4 -5l-5 0l-4 4z"/><path fill="#c7ff38" d="M810 466l4 -2l-4 -7l-5 2z"/><path fill="#f7ff08" d="M801 463l5 -3l-5 -7l-5 2zM938 461l5 -5l-5 0l-5 5z"/><path fill="#ffd700" d="M947 456l5 -5l-5 1l-5 5z"/><path fill="#ff9700" d="M955 451l5 -5l-5 1l-5 5z"/><path fill="#ff5800" d="M964 446l5 -5l-5 1l-5 5z"/><path fill="#ff0800" d="M972 440l5 -5l-5 2l-5 5z"/><path fill="#08fff7" d="M865 481l5 -3l-5 -4l-5 4zM874 481l5 -4l-5 -3l-5 4z"/><path fill="#18ffe7" d="M848 480l5 -3l-5 -5l-5 4zM857 481l5 -3l-5 -5l-5 4zM882 480l5 -4l-5 -3l-5 4z"/><path fill="#28ffd7" d="M840 479l5 -3l-5 -5l-5 3zM891 479l5 -4l-5 -3l-5 4z"/><path fill="#38ffc7" d="M900 477l4 -4l-5 -2l-4 4z"/><path fill="#48ffb7" d="M831 477l5 -3l-5 -5l-5 3z"/><path fill="#58ffa7" d="M908 475l5 -5l-5 -1l-5 4z"/><path fill="#68ff97" d="M822 475l5 -3l-5 -6l-5 3z"/><path fill="#78ff87" d="M917 472l5 -5l-5 -1l-5 5z"/><path fill="#87ff78" d="M814 472l5 -3l-5 -6l-5 2z"/><path fill="#a7ff58" d="M925 468l5 -4l-5 -1l-5 5z"/><path fill="#b7ff48" d="M805 469l5 -3l-5 -7l-5 3z"/><path fill="#d7ff28" d="M934 464l5 -4l-5 0l-5 4z"/><path fill="#fff700" d="M942 460l5 -5l-5 1l-5 4z"/><path fill="#ffb700" d="M951 455l5 -5l-5 1l-5 5z"/><path fill="#ff7800" d="M960 450l4 -5l-5 1l-4 5z"/><path fill="#ff2800" d="M968 444l5 -5l-5 1l-5 5z"/><path fill="#00f7ff" d="M861 485l5 -4l-5 -4l-5 4zM870 484l5 -4l-5 -3l-5 4z"/><path fill="#08fff7" d="M844 483l5 -3l-5 -5l-5 3zM852 484l5 -3l-5 -5l-5 4zM878 484l5 -4l-5 -3l-5 4z"/><path fill="#18ffe7" d="M835 482l5 -3l-5 -6l-5 4zM887 482l5 -4l-5 -2l-5 4z"/><path fill="#28ffd7" d="M895 481l5 -5l-5 -2l-5 4z"/><path fill="#38ffc7" d="M827 480l5 -3l-5 -6l-5 3z"/><path fill="#48ffb7" d="M904 478l5 -4l-5 -2l-5 5z"/><path fill="#58ffa7" d="M818 478l5 -3l-5 -7l-5 3z"/><path fill="#68ff97" d="M912 475l5 -4l-5 -1l-5 4z"/><path fill="#87ff78" d="M810 475l5 -3l-5 -7l-5 3zM921 472l5 -5l-5 0l-5 4z"/><path fill="#b7ff48" d="M930 468l4 -5l-5 0l-4 5z"/><path fill="#f7ff08" d="M938 464l5 -5l-5 0l-5 5z"/><path fill="#ffd700" d="M947 459l5 -5l-5 1l-5 5z"/><path fill="#ff8700" d="M955 454l5 -6l-5 2l-5 5z"/><path fill="#ff4800" d="M964 448l5 -6l-5 2l-5 5z"/><path fill="#00e7ff" d="M848 487l5 -3l-5 -5l-5 4zM857 488l5 -4l-5 -4l-5 4zM865 488l5 -4l-5 -4l-5 4zM874 487l5 -4l-5 -3l-5 4z"/><path fill="#00f7ff" d="M840 486l5 -3l-5 -5l-5 3zM882 486l5 -4l-5 -3l-5 4z"/><path fill="#08fff7" d="M891 484l5 -4l-5 -2l-5 4z"/><path fill="#18ffe7" d="M831 485l5 -3l-5 -6l-5 3z"/><path fill="#28ffd7" d="M822 483l5 -3l-5 -6l-5 3zM900 482l5 -5l-5 -1l-5 4z"/><path fill="#48ffb7" d="M814 480l5 -3l-5 -6l-5 3zM908 479l5 -4l-5 -2l-5 5z"/><path fill="#78ff87" d="M917 476l5 -5l-5 -1l-5 5z"/><path fill="#a7ff58" d="M925 472l5 -5l-5 0l-5 5z"/><path fill="#d7ff28" d="M934 468l5 -5l-5 0l-5 5z"/><path fill="#ffe700" d="M942 463l5 -5l-5 1l-5 5z"/><path fill="#ffa700" d="M951 458l5 -5l-5 1l-5 5z"/><path fill="#ff6800" d="M960 452l4 -5l-5 1l-4 5z"/><path fill="#00d7ff" d="M844 491l5 -4l-5 -5l-5 4zM852 491l5 -4l-5 -4l-5 4zM861 491l5 -4l-5 -4l-5 4zM870 491l5 -5l-5 -3l-5 4z"/><path fill="#00e7ff" d="M835 490l5 -4l-5 -5l-5 3zM878 490l5 -5l-5 -3l-5 4z"/><path fill="#00f7ff" d="M887 488l5 -5l-5 -2l-5 4z"/><path fill="#08fff7" d="M827 488l5 -4l-5 -5l-5 3zM895 486l5 -5l-5 -2l-5 5z"/><path fill="#18ffe7" d="M818 486l5 -4l-5 -6l-5 3z"/><path fill="#28ffd7" d="M904 483l5 -5l-5 -1l-5 4z"/><path fill="#58ffa7" d="M912 480l5 -5l-5 -1l-5 5z"/><path fill="#87ff78" d="M921 476l5 -5l-5 0l-5 5z"/><path fill="#b7ff48" d="M930 472l4 -5l-4 0l-5 5z"/><path fill="#f7ff08" d="M938 467l5 -5l-5 0l-5 6z"/><path fill="#ffc700" d="M947 462l5 -5l-5 1l-5 5z"/><path fill="#ff8700" d="M955 456l5 -5l-5 1l-5 5z"/><path fill="#00b7ff" d="M848 495l5 -4l-5 -5l-5 4zM857 495l5 -5l-5 -4l-5 4zM865 494l5 -4l-5 -4l-5 4z"/><path fill="#00c7ff" d="M840 494l5 -4l-5 -5l-5 4zM874 493l5 -4l-5 -3l-5 4z"/><path fill="#00d7ff" d="M831 493l5 -4l-5 -5l-5 3zM882 492l5 -5l-5 -2l-5 4z"/><path fill="#00e7ff" d="M823 491l4 -4l-5 -5l-4 3z"/><path fill="#00f7ff" d="M891 490l5 -5l-5 -2l-5 4z"/><path fill="#18ffe7" d="M900 487l5 -5l-5 -1l-5 4z"/><path fill="#38ffc7" d="M908 484l5 -5l-5 -1l-5 5z"/><path fill="#68ff97" d="M917 480l5 -5l-5 0l-5 5z"/><path fill="#97ff68" d="M925 476l5 -5l-5 0l-5 5z"/><path fill="#d7ff28" d="M934 472l5 -6l-5 0l-5 6z"/><path fill="#ffe700" d="M942 466l5 -5l-5 1l-4 5z"/><path fill="#ffa700" d="M951 461l5 -6l-5 1l-5 6z"/><path fill="#00a7ff" d="M844 498l5 -4l-5 -5l-5 4zM853 498l4 -4l-5 -4l-4 4zM861 498l5 -5l-5 -3l-5 4zM870 497l5 -5l-5 -3l-5 5z"/><path fill="#00b7ff" d="M835 497l5 -4l-5 -5l-5 4zM878 496l5 -5l-5 -3l-5 5z"/><path fill="#00c7ff" d="M827 496l5 -4l-5 -5l-5 3z"/><path fill="#00d7ff" d="M887 494l5 -5l-5 -2l-5 4z"/><path fill="#00f7ff" d="M895 491l5 -5l-5 -2l-5 5z"/><path fill="#18ffe7" d="M904 488l5 -5l-5 -1l-5 5z"/><path fill="#48ffb7" d="M912 485l5 -6l-5 0l-4 5z"/><path fill="#78ff87" d="M921 481l5 -6l-5 0l-5 5z"/><path fill="#a7ff58" d="M930 476l4 -6l-4 1l-5 5z"/><path fill="#e7ff18" d="M938 471l5 -6l-5 1l-5 5z"/><path fill="#ffc700" d="M947 465l5 -5l-5 1l-5 5z"/><path fill="#0087ff" d="M840 502l5 -5l-5 -4l-5 4zM848 502l5 -4l-5 -5l-5 4zM857 502l5 -5l-5 -4l-5 5z"/><path fill="#0097ff" d="M831 501l5 -4l-5 -6l-5 4zM865 501l5 -5l-5 -3l-5 4z"/><path fill="#00a7ff" d="M874 500l5 -5l-5 -3l-5 4z"/><path fill="#00b7ff" d="M883 498l4 -5l-5 -3l-4 5z"/><path fill="#00d7ff" d="M891 495l5 -5l-5 -2l-5 5z"/><path fill="#00f7ff" d="M900 492l5 -5l-5 -1l-5 5z"/><path fill="#28ffd7" d="M908 489l5 -5l-5 -1l-5 5z"/><path fill="#58ffa7" d="M917 485l5 -5l-5 -1l-5 5z"/><path fill="#87ff78" d="M925 480l5 -5l-5 0l-5 5z"/><path fill="#c7ff38" d="M934 475l5 -5l-5 0l-5 6z"/><path fill="#fff700" d="M942 470l5 -6l-5 1l-4 5z"/><path fill="#0078ff" d="M835 505l5 -4l-5 -5l-5 4zM844 506l5 -5l-5 -4l-5 4zM853 506l4 -5l-5 -4l-4 4zM861 505l5 -5l-5 -4l-5 5z"/><path fill="#0087ff" d="M870 504l5 -5l-5 -3l-5 4z"/><path fill="#0097ff" d="M878 502l5 -5l-5 -3l-5 5z"/><path fill="#00b7ff" d="M887 500l5 -6l-5 -2l-5 5z"/><path fill="#00d7ff" d="M895 497l5 -6l-5 -1l-5 5z"/><path fill="#08fff7" d="M904 493l5 -5l-5 -1l-5 5z"/><path fill="#38ffc7" d="M913 489l4 -5l-5 -1l-4 6z"/><path fill="#68ff97" d="M921 485l5 -6l-5 0l-5 6z"/><path fill="#a7ff58" d="M930 480l5 -6l-5 1l-5 5z"/><path fill="#e7ff18" d="M938 475l5 -6l-5 0l-5 6z"/><path fill="#0058ff" d="M840 509l5 -4l-5 -5l-5 4zM848 509l5 -4l-5 -4l-5 4zM857 509l5 -5l-5 -4l-5 5z"/><path fill="#0068ff" d="M865 508l5 -5l-5 -4l-5 5z"/><path fill="#0078ff" d="M874 506l5 -5l-5 -3l-5 5z"/><path fill="#0097ff" d="M883 504l4 -5l-5 -3l-4 5z"/><path fill="#00b7ff" d="M891 501l5 -5l-5 -2l-5 5z"/><path fill="#00d7ff" d="M900 498l5 -6l-5 -1l-5 5z"/><path fill="#08fff7" d="M908 494l5 -6l-5 0l-5 5z"/><path fill="#48ffb7" d="M917 490l5 -6l-5 0l-5 5z"/><path fill="#78ff87" d="M925 485l5 -6l-5 0l-5 6z"/><path fill="#c7ff38" d="M934 479l5 -6l-5 1l-5 6z"/><path fill="#0038ff" d="M844 513l5 -4l-5 -5l-5 5zM853 513l5 -5l-5 -4l-5 5z"/><path fill="#0048ff" d="M861 512l5 -5l-5 -4l-5 5z"/><path fill="#0058ff" d="M870 510l5 -5l-5 -3l-5 5z"/><path fill="#0078ff" d="M878 508l5 -5l-5 -3l-5 6z"/><path fill="#0097ff" d="M887 506l5 -6l-5 -2l-5 5z"/><path fill="#00b7ff" d="M895 503l5 -6l-5 -2l-5 6z"/><path fill="#00e7ff" d="M904 499l5 -6l-5 -1l-5 5z"/><path fill="#18ffe7" d="M913 495l4 -6l-5 -1l-4 6z"/><path fill="#58ffa7" d="M921 490l5 -6l-5 0l-5 5z"/><path fill="#97ff68" d="M930 484l5 -6l-5 1l-5 6z"/><path fill="#0018ff" d="M848 517l5 -5l-5 -4l-5 5z"/><path fill="#0028ff" d="M857 516l5 -5l-5 -3l-5 4z"/><path fill="#0038ff" d="M865 515l5 -5l-5 -4l-5 5z"/><path fill="#0048ff" d="M874 513l5 -5l-5 -3l-5 5z"/><path fill="#0068ff" d="M883 510l5 -5l-5 -2l-5 5z"/><path fill="#0097ff" d="M891 507l5 -5l-5 -2l-5 5z"/><path fill="#00b7ff" d="M900 504l5 -6l-5 -1l-5 5z"/><path fill="#00f7ff" d="M908 500l5 -6l-5 -1l-5 5z"/><path fill="#28ffd7" d="M917 495l5 -6l-5 -1l-5 6z"/><path fill="#68ff97" d="M925 490l5 -7l-5 0l-4 6z"/><path fill="#0008ff" d="M853 521l5 -5l-5 -4l-5 5z"/><path fill="#0018ff" d="M861 519l5 -5l-5 -3l-5 5z"/><path fill="#0028ff" d="M870 518l5 -6l-5 -3l-5 5z"/><path fill="#0048ff" d="M878 515l5 -6l-5 -2l-5 5z"/><path fill="#0068ff" d="M887 512l5 -6l-5 -2l-5 6z"/><path fill="#0097ff" d="M895 509l5 -6l-5 -2l-5 6z"/><path fill="#00c7ff" d="M904 505l5 -7l-5 -1l-5 6z"/><path fill="#00f7ff" d="M913 500l4 -6l-4 -1l-5 6z"/><path fill="#38ffc7" d="M921 495l5 -7l-5 0l-5 6z"/><path fill="#0000e7" d="M857 524l5 -5l-5 -4l-5 5z"/><path fill="#0008ff" d="M865 522l5 -5l-5 -3l-5 5z"/><path fill="#0018ff" d="M874 520l5 -6l-5 -2l-5 5z"/><path fill="#0048ff" d="M883 517l5 -6l-5 -2l-5 6z"/><path fill="#0068ff" d="M891 514l5 -6l-5 -2l-5 6z"/><path fill="#0097ff" d="M900 510l5 -6l-5 -2l-5 6z"/><path fill="#00d7ff" d="M908 505l5 -6l-5 -1l-5 6z"/><path fill="#18ffe7" d="M917 500l5 -6l-5 -1l-5 7z"/><path fill="#0000d7" d="M861 527l5 -6l-5 -3l-5 6z"/><path fill="#0000f7" d="M870 525l5 -6l-5 -3l-5 6z"/><path fill="#0018ff" d="M878 522l5 -6l-5 -2l-5 6z"/><path fill="#0038ff" d="M887 519l5 -6l-5 -2l-5 6z"/><path fill="#0068ff" d="M895 515l5 -6l-5 -2l-4 6z"/><path fill="#00a7ff" d="M904 511l5 -7l-5 -1l-5 6z"/><path fill="#00e7ff" d="M913 506l4 -7l-4 0l-5 6z"/><path fill="#0000c7" d="M866 530l4 -6l-5 -3l-4 6z"/><path fill="#0000e7" d="M874 527l5 -6l-5 -2l-5 5z"/><path fill="#0018ff" d="M883 524l5 -6l-5 -2l-5 6z"/><path fill="#0048ff" d="M891 520l5 -6l-5 -2l-5 6z"/><path fill="#0078ff" d="M900 516l5 -7l-5 -1l-5 7z"/><path fill="#00b7ff" d="M908 511l5 -7l-5 0l-5 6z"/><path fill="#0000b7" d="M870 533l5 -7l-5 -2l-5 5z"/><path fill="#0000e7" d="M878 529l5 -6l-5 -2l-5 6z"/><path fill="#0018ff" d="M887 526l5 -7l-5 -2l-5 7z"/><path fill="#0048ff" d="M896 522l4 -7l-5 -1l-4 6z"/><path fill="#0087ff" d="M904 517l5 -7l-5 -1l-5 7z"/><path fill="#0000b7" d="M874 535l5 -6l-5 -3l-5 6z"/><path fill="#0000e7" d="M883 531l5 -6l-5 -2l-5 6z"/><path fill="#0018ff" d="M891 527l5 -6l-5 -2l-5 6z"/><path fill="#0048ff" d="M900 523l5 -7l-5 -1l-5 6z"/><path fill="#0000a7" d="M878 537l5 -7l-5 -2l-5 6z"/><path fill="#0000d7" d="M887 533l5 -7l-5 -2l-5 7z"/><path fill="#0018ff" d="M896 528l4 -7l-5 -1l-4 7z"/><path fill="#0000a7" d="M883 539l5 -7l-5 -2l-5 7z"/><path fill="#0000e7" d="M891 534l5 -7l-5 -1l-5 7z"/><path fill="#0000a7" d="M887 541l5 -8l-5 -1l-5 7z"/></g></g><path d="M391.9 281.6 L391.9 205.6 M494.7 282 L494.7 206 M391.9 281.6 L443.5 301 M443.5 301 L494.7 282" stroke="#707070" stroke-width=".65" fill="none"/><path d="M391.9 205.6h-2.2M391.9 224.6h-2.2M391.9 243.6h-2.2M391.9 262.6h-2.2M391.9 281.6h-2.2M391.9 281.6l-1.7 .6M443.5 301l1.7 .6M404.8 286.5l-1.7 .6M456.3 296.2l1.7 .6M417.7 291.3l-1.7 .6M469.1 291.5l1.7 .6M430.6 296.1l-1.7 .6M481.9 286.8l1.7 .6M443.5 301l-1.7 .6M494.7 282l1.7 .6" stroke="#777" stroke-width=".6"/><g class="tk"><text x="388.4" y="206.9" text-anchor="end">0.08</text><text x="388.4" y="225.9" text-anchor="end">0.078</text><text x="388.4" y="244.9" text-anchor="end">0.076</text><text x="388.4" y="263.9" text-anchor="end">0.074</text><text x="388.4" y="282.9" text-anchor="end">0.072</text></g><g class="tk"><text x="388" y="289.8" text-anchor="end">250</text><text x="400.9" y="294.7" text-anchor="end">200</text><text x="413.8" y="299.5" text-anchor="end">150</text><text x="426.7" y="304.3" text-anchor="end">100</text><text x="439.6" y="309.2" text-anchor="end">50</text><text x="447.7" y="308.7">200</text><text x="460.5" y="303.9">250</text><text x="473.3" y="299.2">300</text><text x="486.1" y="294.4">350</text><text x="498.9" y="289.7">400</text></g><text class="zt" transform="translate(360 249.5) rotate(-90)" text-anchor="middle">Average friction</text><text class="zt" transform="translate(369.9 249.5) rotate(-90)" text-anchor="middle">coefficient</text><g transform="translate(409.4 304.8) rotate(11.5)"><text class="at" y="2.8" text-anchor="middle"><tspan font-style="italic">D</tspan>/μm</text></g><g transform="translate(482.2 303.8) rotate(-27)"><text class="at" y="2.8" text-anchor="middle"><tspan font-style="italic">B</tspan>/μm</text></g><text class="pp" x="377.3" y="330.90000000000003">(</text><text class="cp" x="384.9" y="333.6">g</text><text class="pp" x="394.5" y="330.90000000000003">)</text><text class="cp" x="408.5" y="333.6" font-style="italic">B-D</text><text class="cp" x="436.4" y="333.6">response</text><text class="cp" x="381.1" y="359">surface diagram</text><path d="M568.3 281.5 L619.8 261.8 M619.8 261.8 L671.7 280.9 M619.8 261.8 L619.8 185.8 M568.3 205.5 L619.8 185.8 M619.8 185.8 L671.7 204.9" stroke="#707070" stroke-width=".65" fill="none"/><g fill="none" stroke-width="0.6"><polyline stroke="#0000b3" points="621.8,300 621,300 620.1,300 619.3,300 618.5,300"/><polyline stroke="#000dff" points="626.1,298.3 625.3,298.3 624.5,298.3 623.6,298.3 622.7,298.3 621.9,298.3 621,298.3 620.1,298.3 619.3,298.3 618.4,298.3 617.6,298.4 616.7,298.4 615.8,298.4 614.9,298.4 614.3,298.4"/><polyline stroke="#0067ff" points="630.5,296.7 629.7,296.6 629,296.6 628.2,296.6 627.4,296.6 626.6,296.5 625.8,296.5 624.9,296.5 624,296.5 623.1,296.5 622.2,296.5 621.3,296.5 620.5,296.5 619.6,296.5 618.8,296.5 618,296.6 617.1,296.6 616.2,296.6 615.3,296.6 614.4,296.7 613.4,296.7 612.5,296.7 611.6,296.8 610.8,296.8 610,296.9 610,296.9"/><polyline stroke="#00c0ff" points="635.1,294.9 634.3,294.8 633.3,294.8 632.2,294.7 631.4,294.7 630.7,294.7 629.9,294.6 629.1,294.6 628.3,294.6 627.4,294.6 626.5,294.5 625.6,294.5 624.7,294.5 623.8,294.5 622.9,294.5 622,294.5 621.2,294.5 620.3,294.5 619.5,294.5 618.7,294.6 617.8,294.6 617,294.6 616.2,294.6 615.4,294.7 614.4,294.7 613.4,294.7 612.5,294.8 611.6,294.8 610.8,294.9 610.1,294.9 609.3,295 608.4,295 607.4,295.1 606.4,295.2 605.7,295.3 605.7,295.3"/><polyline stroke="#1affe5" points="640,293 639.3,293 638.6,292.9 637.5,292.8 636.5,292.7 635.8,292.7 635.1,292.6 634.3,292.6 633.2,292.5 632.2,292.5 631.4,292.4 630.6,292.4 629.9,292.4 629.1,292.3 628.3,292.3 627.4,292.3 626.5,292.3 625.6,292.3 624.7,292.3 623.8,292.3 622.9,292.3 622.1,292.3 621.2,292.3 620.4,292.3 619.6,292.3 618.8,292.3 617.9,292.4 617,292.4 616.1,292.4 615.1,292.5 614.1,292.5 613.3,292.6 612.5,292.6 611.8,292.7 611,292.7 610.1,292.8 609,292.9 608.1,292.9 607.4,293 606.7,293.1 605.7,293.2 604.6,293.3 604,293.3 603.3,293.4 602.2,293.5 601.2,293.6 601.2,293.6"/><polyline stroke="#73ff8c" points="645.1,291.1 644.5,291 643.6,290.9 642.6,290.7 642,290.7 641,290.5 640,290.4 639.3,290.4 638.6,290.3 637.4,290.2 636.6,290.1 635.9,290.1 635.2,290 634.1,289.9 633.1,289.9 632.2,289.8 631.5,289.8 630.7,289.8 629.9,289.7 629.1,289.7 628.2,289.7 627.3,289.7 626.4,289.7 625.5,289.7 624.6,289.7 623.7,289.7 622.9,289.7 622.1,289.7 621.2,289.7 620.4,289.7 619.6,289.8 618.8,289.8 617.8,289.8 616.8,289.9 615.9,289.9 615,290 614.2,290 613.5,290.1 612.8,290.1 611.7,290.2 610.6,290.3 609.9,290.4 609.2,290.4 608.4,290.5 607.2,290.6 606.5,290.7 605.8,290.8 604.9,290.9 603.8,291 603.1,291.1 602.4,291.2 601.2,291.3 600.5,291.4 599.8,291.5 598.6,291.7 598,291.8 597.1,291.9 596.7,292"/><polyline stroke="#ccff33" points="650.6,289 649.5,288.8 648.9,288.6 647.8,288.4 647.2,288.3 646,288.1 645.4,288 644.2,287.8 643.6,287.8 642.7,287.6 641.7,287.5 641.1,287.4 640,287.3 639.1,287.2 638.5,287.1 637.6,287 636.4,286.9 635.7,286.9 635,286.8 634.2,286.7 633.2,286.7 632.1,286.6 631.4,286.6 630.6,286.6 629.8,286.5 629,286.5 628.2,286.5 627.4,286.5 626.5,286.5 625.6,286.5 624.8,286.5 623.9,286.5 623,286.5 622.1,286.6 621.2,286.6 620.2,286.6 619.2,286.7 618.4,286.7 617.7,286.8 616.9,286.8 616.1,286.9 615.1,287 614.1,287.1 613.4,287.1 612.7,287.2 611.7,287.3 610.6,287.4 610,287.5 609.3,287.6 608,287.7 607.3,287.8 606.7,287.9 605.5,288.1 604.8,288.2 604.1,288.2 602.9,288.4 602.3,288.5 601.3,288.7 600.4,288.8 599.8,288.9 598.6,289.1 598,289.2 596.9,289.4 596.2,289.5 595.3,289.7 594.4,289.8 593.7,289.9 592.7,290.1 592.1,290.3 592.1,290.3"/><polyline stroke="#ffd800" points="656.5,286.7 655.5,286.4 654.5,286.2 654,286 653,285.8 652,285.5 651.3,285.3 650.5,285.1 649.5,284.9 648.7,284.7 647.9,284.5 646.8,284.3 646.3,284.1 645.2,283.9 644.5,283.8 643.5,283.6 642.8,283.5 641.7,283.3 641.1,283.2 639.9,283 639.3,282.9 638.4,282.8 637.3,282.7 636.7,282.6 635.9,282.5 634.8,282.4 633.9,282.4 633.2,282.3 632.4,282.3 631.6,282.3 630.7,282.2 629.7,282.2 628.8,282.2 628,282.2 627.1,282.2 626.3,282.2 625.5,282.3 624.7,282.3 623.8,282.3 622.9,282.4 621.8,282.5 621,282.5 620.2,282.6 619.5,282.6 618.5,282.7 617.5,282.9 616.8,282.9 616.1,283 614.9,283.2 614.2,283.3 613.5,283.3 612.3,283.5 611.7,283.6 610.8,283.8 609.8,283.9 609.2,284 608,284.2 607.4,284.3 606.3,284.5 605.7,284.6 604.6,284.8 603.9,285 602.9,285.2 602.2,285.3 601.1,285.5 600.5,285.6 599.4,285.9 598.8,286 597.7,286.2 597.2,286.3 596,286.6 595.5,286.7 594.4,286.9 593.5,287.1 592.8,287.3 591.7,287.5 591.1,287.6 590,287.9 589.4,288.1 588.4,288.3 587.4,288.5 587.4,288.5"/><polyline stroke="#ff7f00" points="613.4,264.3 614.1,264.6 614.8,265 615.6,265.4 615.9,265.6 616.7,265.9 617.4,266.3 617.8,266.6 618.4,266.9 619.1,267.3 619.6,267.5 620.1,267.8 620.8,268.2 621.1,268.4 621.7,268.8 622.1,269.1 622.6,269.5 622.9,269.7 623.4,270.2 623.6,270.4 623.8,270.7 624.1,271.1 624.2,271.5 624.2,271.8 624.2,272.1 624,272.4 623.9,272.6 623.5,273 623.2,273.3 622.6,273.7 622.2,274 621.5,274.3 620.7,274.7 619.9,275.1 619.5,275.2 618.7,275.6 617.8,275.9 616.9,276.2 616.5,276.4 615.6,276.7 614.7,277 613.8,277.3 612.9,277.6 611.9,277.9 611,278.2 610.1,278.5 609.6,278.7 608.7,279 607.7,279.3 606.8,279.6 605.8,279.8 605.3,280 604.4,280.3 603.4,280.6 602.5,280.9 601.5,281.2 601,281.3 600.1,281.6 599.1,281.9 598.1,282.2 597.4,282.4 596.7,282.6 595.7,282.9 594.7,283.2 593.8,283.5 593.3,283.6 592.3,283.9 591.3,284.2 590.3,284.5 589.9,284.6 588.9,284.9 587.9,285.2 586.9,285.5 586.4,285.6 585.5,285.9 584.5,286.2 583.5,286.5 582.9,286.6 582.5,286.7"/><polyline stroke="#ff7f00" points="662.8,284.3 662.1,283.9 661.3,283.6 660.5,283.2 660.1,283.1 659.4,282.7 658.6,282.3 657.8,282 657.1,281.6 656.7,281.5 655.9,281.1 655.2,280.7 654.4,280.4 654,280.2 653.3,279.8 652.5,279.5 651.8,279.1 651.4,278.9 650.7,278.5 650,278.2 649.5,277.9 649,277.6 648.3,277.2 647.8,277 647.3,276.6 646.6,276.2 646.3,276 645.8,275.6 645.5,275.4 645,274.9 644.7,274.7 644.5,274.4 644.3,274 644.1,273.6 644.1,273.3 644.1,273 644.2,272.7 644.3,272.4 644.6,272.1 645,271.7 645.4,271.5 645.7,271.3"/><polyline stroke="#ff2600" points="601.8,268.7 601.9,269 601.9,269.4 602,269.7 602,270.1 602,270.4 602,270.7 601.9,271 601.8,271.3 601.7,271.6 601.6,272 601.4,272.4 601.2,272.7 601,272.9 600.7,273.3 600.4,273.7 600.2,273.9 599.8,274.3 599.5,274.6 599.1,274.9 598.6,275.3 598.3,275.5 597.8,275.9 597.2,276.3 596.8,276.5 596.2,276.9 595.8,277.1 595.1,277.5 594.4,277.9 593.8,278.2 593.3,278.5 592.6,278.8 591.8,279.2 591.1,279.6 590.5,279.8 589.9,280.1 589.1,280.5 588.3,280.8 587.5,281.1 586.6,281.5 585.8,281.8 585,282.2 584.1,282.5 583.3,282.8 582.4,283.1 581.5,283.5 580.7,283.8 579.8,284.1 578.9,284.4 578,284.8 577.6,284.9"/><polyline stroke="#ff2600" points="669.9,281.6 669.6,281.4 669.1,280.9 668.8,280.7 668.5,280.4 668.1,280 667.9,279.8 667.5,279.4 667.5,279.4"/><polyline stroke="#cc0000" points="586.9,274.4 586.6,274.7 586.4,274.9 585.9,275.4 585.6,275.6 585.1,276 584.8,276.3 584.3,276.7 583.9,276.9 583.3,277.4 583,277.6 582.4,278 582,278.2 581.4,278.6 580.7,279 580.4,279.2 579.7,279.6 579,280 578.5,280.2 577.9,280.5 577.2,280.9 576.4,281.3 575.8,281.6 575.3,281.8 574.5,282.2 573.7,282.5 572.9,282.9 572.5,283.1"/></g><g filter="url(#bl)"><g transform="scale(.5)"><path fill="#ffa700" d="M1240 427l5 0l-5 -3l-5 1zM1244 428l5 0l-5 -2l-5 0z"/><path fill="#ff9700" d="M1235 427l5 -1l-5 -2l-5 0z"/><path fill="#ffa700" d="M1248 430l5 -1l-5 -2l-5 1z"/><path fill="#ff9700" d="M1240 428l5 0l-5 -2l-5 0z"/><path fill="#ff8700" d="M1231 427l5 -1l-5 -2l-5 0z"/><path fill="#ffa700" d="M1253 431l5 -1l-5 -2l-5 1z"/><path fill="#ff9700" d="M1244 430l5 -1l-5 -2l-5 1z"/><path fill="#ff8700" d="M1235 428l5 0l-5 -3l-5 1z"/><path fill="#ff7800" d="M1227 427l5 -1l-5 -3l-5 1z"/><path fill="#ffa700" d="M1257 432l5 -1l-5 -2l-5 1z"/><path fill="#ff9700" d="M1248 431l5 0l-5 -3l-5 1z"/><path fill="#ff8700" d="M1240 430l5 -1l-5 -2l-5 1z"/><path fill="#ff7800" d="M1231 429l5 -1l-5 -3l-5 1z"/><path fill="#ff6800" d="M1222 427l5 -1l-5 -3l-5 0z"/><path fill="#ffa700" d="M1261 434l5 -2l-5 -1l-5 1z"/><path fill="#ff9700" d="M1253 433l5 -1l-5 -2l-5 1z"/><path fill="#ff8700" d="M1244 432l5 -1l-5 -2l-5 0z"/><path fill="#ff7800" d="M1235 430l5 0l-5 -3l-5 1z"/><path fill="#ff6800" d="M1227 429l5 -1l-5 -3l-5 1z"/><path fill="#ff5800" d="M1218 427l5 -1l-5 -3l-5 0z"/><path fill="#ff9700" d="M1257 435l5 -2l-5 -2l-5 1zM1266 435l5 -2l-5 -1l-5 1z"/><path fill="#ff8700" d="M1240 432l5 -1l-5 -2l-5 1zM1248 434l5 -2l-5 -2l-5 1z"/><path fill="#ff7800" d="M1231 431l5 -1l-5 -3l-5 1z"/><path fill="#ff5800" d="M1223 429l4 -1l-5 -3l-5 1z"/><path fill="#ff4800" d="M1214 427l5 -1l-5 -3l-5 0z"/><path fill="#ff9700" d="M1261 436l5 -2l-5 -2l-5 2zM1270 436l5 -2l-5 -1l-5 1z"/><path fill="#ff8700" d="M1244 434l5 -1l-5 -2l-5 1zM1253 435l5 -1l-5 -2l-5 1z"/><path fill="#ff7800" d="M1235 433l5 -1l-5 -3l-5 1z"/><path fill="#ff6800" d="M1227 431l5 -1l-5 -3l-5 1z"/><path fill="#ff5800" d="M1218 429l5 -1l-5 -3l-5 1z"/><path fill="#ff3800" d="M1210 427l5 -1l-5 -3l-5 0z"/><path fill="#ff9700" d="M1266 437l5 -1l-5 -2l-5 1zM1274 437l5 -2l-5 -1l-5 2z"/><path fill="#ff8700" d="M1248 436l5 -1l-5 -3l-5 2zM1257 437l5 -2l-5 -2l-5 2z"/><path fill="#ff7800" d="M1240 435l5 -1l-5 -3l-5 1z"/><path fill="#ff6800" d="M1231 434l5 -2l-5 -3l-5 1z"/><path fill="#ff5800" d="M1223 432l5 -1l-6 -3l-4 0z"/><path fill="#ff4800" d="M1214 430l5 -1l-5 -4l-5 1z"/><path fill="#ff2800" d="M1205 427l5 -1l-5 -3l-5 0z"/><path fill="#ff8700" d="M1253 438l5 -2l-5 -2l-5 1zM1261 439l5 -2l-5 -2l-5 1zM1270 439l5 -2l-5 -2l-5 2zM1279 439l5 -3l-5 -1l-5 2z"/><path fill="#ff7800" d="M1235 436l5 -2l-5 -2l-5 1zM1244 437l5 -1l-5 -3l-5 1z"/><path fill="#ff6800" d="M1227 434l5 -1l-5 -3l-5 1z"/><path fill="#ff4800" d="M1218 432l5 -1l-5 -3l-5 1z"/><path fill="#ff3800" d="M1210 430l5 -1l-5 -4l-5 1z"/><path fill="#ff1800" d="M1201 427l5 0l-5 -4l-5 0z"/><path fill="#ff8700" d="M1248 439l5 -2l-5 -2l-5 1zM1257 440l5 -2l-5 -2l-5 1zM1266 440l5 -2l-5 -2l-5 2zM1274 440l5 -2l-5 -2l-5 2zM1283 440l5 -3l-5 -1l-5 2z"/><path fill="#ff7800" d="M1240 438l5 -1l-5 -3l-5 1z"/><path fill="#ff6800" d="M1231 437l5 -2l-5 -3l-5 1z"/><path fill="#ff5800" d="M1223 435l5 -1l-5 -4l-5 1z"/><path fill="#ff4800" d="M1214 433l5 -1l-5 -4l-5 1z"/><path fill="#ff2800" d="M1205 430l5 -1l-5 -3l-5 0z"/><path fill="#ff0800" d="M1197 428l5 -1l-5 -4l-5 1z"/><path fill="#ff8700" d="M1253 441l5 -2l-5 -2l-5 1zM1261 442l5 -3l-5 -2l-5 2zM1270 442l5 -3l-5 -2l-5 2zM1279 441l5 -2l-5 -2l-5 2zM1287 441l5 -3l-5 -1l-5 2z"/><path fill="#ff7800" d="M1244 440l5 -1l-5 -3l-5 1z"/><path fill="#ff6800" d="M1236 439l4 -1l-5 -4l-5 2z"/><path fill="#ff5800" d="M1227 438l5 -2l-5 -3l-5 1z"/><path fill="#ff4800" d="M1218 436l5 -2l-5 -3l-5 1z"/><path fill="#ff3800" d="M1210 434l5 -2l-5 -3l-5 1z"/><path fill="#ff1800" d="M1201 431l5 -1l-5 -4l-5 1z"/><path fill="#ff0800" d="M1192 428l5 -1l-5 -4l-5 1z"/><path fill="#ff8700" d="M1257 443l5 -2l-5 -3l-5 2zM1266 443l5 -2l-5 -2l-5 2zM1274 443l5 -2l-5 -2l-5 2zM1283 443l5 -3l-5 -2l-5 3z"/><path fill="#ff7800" d="M1240 442l5 -2l-5 -3l-5 1zM1248 443l5 -2l-5 -3l-5 2zM1292 442l5 -3l-6 -2l-4 3z"/><path fill="#ff6800" d="M1231 440l5 -1l-5 -4l-5 2z"/><path fill="#ff5800" d="M1223 439l5 -2l-5 -3l-5 1z"/><path fill="#ff4800" d="M1214 437l5 -2l-5 -4l-5 2z"/><path fill="#ff2800" d="M1205 434l5 -1l-5 -4l-5 1z"/><path fill="#ff1800" d="M1197 432l5 -1l-5 -5l-5 1z"/><path fill="#f70000" d="M1188 429l5 -1l-5 -5l-5 1z"/><path fill="#ff8700" d="M1253 445l5 -3l-5 -2l-5 2zM1261 445l5 -2l-5 -3l-5 2zM1270 445l5 -3l-5 -2l-5 3zM1279 445l5 -3l-5 -2l-5 3zM1287 444l5 -3l-5 -2l-5 3z"/><path fill="#ff7800" d="M1236 443l5 -2l-5 -3l-5 1zM1244 444l5 -2l-5 -3l-5 2zM1296 443l5 -3l-5 -2l-5 3z"/><path fill="#ff6800" d="M1227 441l5 -1l-5 -4l-5 2z"/><path fill="#ff5800" d="M1218 440l5 -2l-5 -4l-5 2z"/><path fill="#ff3800" d="M1210 438l5 -2l-5 -4l-5 1z"/><path fill="#ff2800" d="M1201 435l5 -1l-5 -4l-5 1z"/><path fill="#ff0800" d="M1192 432l5 -1l-5 -4l-5 1z"/><path fill="#e70000" d="M1184 429l5 -1l-5 -4l-5 0z"/><path fill="#ff8700" d="M1248 446l5 -2l-5 -3l-5 2zM1257 447l5 -3l-5 -2l-5 2zM1266 447l5 -3l-5 -2l-5 2zM1274 447l5 -3l-5 -2l-5 2zM1283 446l5 -3l-5 -2l-5 3z"/><path fill="#ff7800" d="M1240 445l5 -2l-5 -3l-5 2zM1292 445l5 -3l-5 -2l-5 3zM1300 444l5 -4l-5 -1l-5 3z"/><path fill="#ff6800" d="M1231 444l5 -2l-5 -3l-5 2z"/><path fill="#ff5800" d="M1223 443l5 -2l-5 -4l-5 2z"/><path fill="#ff4800" d="M1214 441l5 -2l-5 -4l-5 2z"/><path fill="#ff3800" d="M1205 439l5 -2l-5 -4l-5 1z"/><path fill="#ff1800" d="M1197 436l5 -1l-5 -5l-5 1z"/><path fill="#f70000" d="M1188 433l5 -1l-5 -5l-5 1z"/><path fill="#e70000" d="M1180 430l4 -1l-4 -5l-5 1z"/><path fill="#ff8700" d="M1244 448l5 -2l-5 -3l-5 2zM1253 449l5 -3l-5 -3l-5 3zM1261 449l5 -3l-5 -2l-5 2zM1270 449l5 -3l-5 -2l-5 2zM1279 448l5 -3l-5 -2l-5 3zM1287 447l5 -3l-5 -2l-5 3z"/><path fill="#ff7800" d="M1236 447l5 -2l-5 -4l-5 2zM1296 446l5 -3l-5 -2l-5 3z"/><path fill="#ff6800" d="M1227 446l5 -2l-5 -4l-5 2zM1305 445l4 -4l-5 -1l-5 3z"/><path fill="#ff5800" d="M1218 444l5 -2l-5 -4l-5 2z"/><path fill="#ff4800" d="M1210 442l5 -2l-5 -4l-5 2z"/><path fill="#ff2800" d="M1201 440l5 -2l-5 -4l-5 1z"/><path fill="#ff1800" d="M1192 437l5 -2l-5 -4l-4 1z"/><path fill="#f70000" d="M1184 434l5 -1l-5 -5l-5 1z"/><path fill="#d70000" d="M1175 430l5 -1l-5 -5l-5 1z"/><path fill="#ff9700" d="M1266 451l5 -3l-5 -2l-5 2z"/><path fill="#ff8700" d="M1240 450l5 -3l-5 -3l-5 2zM1249 451l5 -3l-6 -3l-5 2zM1257 451l5 -3l-5 -3l-5 3zM1274 451l5 -3l-5 -3l-5 3zM1283 450l5 -3l-5 -2l-5 3z"/><path fill="#ff7800" d="M1231 449l5 -3l-5 -3l-5 2zM1292 449l5 -4l-5 -1l-5 3zM1300 447l5 -3l-5 -2l-5 4z"/><path fill="#ff6800" d="M1223 447l5 -2l-5 -4l-5 2zM1309 445l5 -3l-5 -1l-5 3z"/><path fill="#ff5800" d="M1214 445l5 -2l-5 -4l-5 2z"/><path fill="#ff4800" d="M1205 443l5 -2l-5 -4l-5 2z"/><path fill="#ff2800" d="M1197 441l5 -2l-5 -4l-5 1z"/><path fill="#ff0800" d="M1188 438l5 -2l-5 -4l-5 1z"/><path fill="#e70000" d="M1180 435l5 -2l-5 -5l-5 1z"/><path fill="#c70000" d="M1171 431l5 -1l-5 -5l-5 1z"/><path fill="#ff9700" d="M1253 453l5 -3l-5 -3l-5 3zM1261 453l5 -3l-5 -2l-5 2zM1270 453l5 -3l-5 -3l-5 3z"/><path fill="#ff8700" d="M1236 452l5 -3l-5 -3l-5 2zM1244 453l5 -3l-5 -3l-5 2zM1279 452l5 -3l-5 -2l-5 3zM1287 452l5 -4l-5 -2l-5 3z"/><path fill="#ff7800" d="M1227 450l5 -2l-5 -4l-5 2zM1296 450l5 -3l-5 -2l-5 3z"/><path fill="#ff6800" d="M1218 449l5 -2l-5 -4l-5 1zM1305 448l5 -3l-5 -2l-5 4z"/><path fill="#ff5800" d="M1210 447l5 -2l-5 -4l-5 1zM1313 446l5 -4l-5 -1l-5 4z"/><path fill="#ff3800" d="M1201 444l5 -1l-5 -5l-5 2z"/><path fill="#ff2800" d="M1193 442l4 -2l-5 -5l-4 2z"/><path fill="#ff0800" d="M1184 439l5 -2l-5 -5l-5 2z"/><path fill="#e70000" d="M1175 436l5 -2l-5 -5l-5 1z"/><path fill="#c70000" d="M1167 432l5 -1l-5 -6l-5 1z"/><path fill="#ff9700" d="M1249 455l5 -3l-5 -3l-5 3zM1257 456l5 -3l-5 -3l-5 2zM1266 456l5 -4l-5 -2l-5 3zM1274 455l5 -3l-5 -3l-5 3zM1283 454l5 -3l-5 -2l-5 3z"/><path fill="#ff8700" d="M1231 454l5 -3l-5 -4l-5 3zM1240 455l5 -3l-5 -4l-5 3zM1292 453l5 -4l-5 -2l-5 4z"/><path fill="#ff7800" d="M1223 452l5 -2l-5 -4l-5 2zM1300 451l5 -3l-5 -2l-5 4z"/><path fill="#ff6800" d="M1214 450l5 -2l-5 -4l-5 2zM1309 449l5 -4l-5 -1l-5 4z"/><path fill="#ff5800" d="M1317 447l5 -4l-5 -1l-5 4z"/><path fill="#ff4800" d="M1205 448l5 -2l-5 -4l-5 2z"/><path fill="#ff3800" d="M1197 446l5 -2l-5 -5l-5 2z"/><path fill="#ff1800" d="M1188 443l5 -2l-5 -5l-5 2z"/><path fill="#f70000" d="M1180 440l5 -2l-5 -5l-5 2z"/><path fill="#d70000" d="M1171 436l5 -1l-5 -5l-5 1z"/><path fill="#b70000" d="M1162 433l5 -1l-5 -6l-5 1z"/><path fill="#ffa700" d="M1253 458l5 -3l-5 -3l-5 3zM1261 458l5 -3l-5 -3l-5 3z"/><path fill="#ff9700" d="M1236 457l5 -3l-5 -4l-5 3zM1244 458l5 -3l-5 -4l-5 3zM1270 458l5 -4l-5 -2l-5 3zM1279 457l5 -3l-5 -3l-5 3zM1287 456l5 -4l-5 -2l-5 4z"/><path fill="#ff8700" d="M1227 456l5 -3l-5 -4l-5 2zM1296 455l5 -4l-5 -2l-5 3z"/><path fill="#ff7800" d="M1218 454l5 -2l-5 -5l-5 3zM1305 453l5 -4l-5 -2l-5 4z"/><path fill="#ff6800" d="M1210 452l5 -2l-5 -5l-5 2zM1313 451l5 -5l-5 -1l-5 4z"/><path fill="#ff4800" d="M1201 450l5 -2l-5 -5l-5 2zM1322 448l5 -5l-5 -1l-5 5z"/><path fill="#ff3800" d="M1193 447l5 -2l-5 -5l-5 2z"/><path fill="#ff1800" d="M1184 444l5 -1l-5 -6l-5 2z"/><path fill="#f70000" d="M1175 441l5 -2l-5 -5l-5 2z"/><path fill="#d70000" d="M1167 438l5 -2l-5 -5l-5 1z"/><path fill="#b70000" d="M1158 434l5 -2l-5 -5l-5 1z"/><path fill="#ffa700" d="M1249 460l5 -3l-5 -3l-5 3zM1257 461l5 -4l-5 -3l-5 3zM1266 461l5 -4l-5 -3l-5 3zM1274 460l5 -4l-5 -2l-5 3z"/><path fill="#ff9700" d="M1231 459l5 -3l-5 -4l-5 3zM1240 460l5 -3l-5 -4l-5 3zM1283 459l5 -4l-5 -2l-5 3zM1292 458l5 -4l-5 -2l-5 3z"/><path fill="#ff8700" d="M1223 458l5 -3l-5 -4l-5 2zM1300 456l5 -4l-5 -2l-5 4z"/><path fill="#ff7800" d="M1214 456l5 -3l-5 -4l-5 2z"/><path fill="#ff6800" d="M1206 454l4 -3l-5 -4l-5 2zM1309 454l5 -4l-5 -2l-5 4z"/><path fill="#ff5800" d="M1318 451l4 -4l-5 -1l-4 4z"/><path fill="#ff4800" d="M1197 451l5 -2l-5 -5l-5 2z"/><path fill="#ff3800" d="M1188 449l5 -2l-5 -5l-5 1zM1326 449l5 -5l-5 -1l-5 4z"/><path fill="#ff1800" d="M1180 446l5 -2l-5 -6l-5 2z"/><path fill="#f70000" d="M1171 442l5 -1l-5 -6l-5 2z"/><path fill="#d70000" d="M1162 439l5 -2l-5 -6l-5 2z"/><path fill="#a70000" d="M1154 435l5 -2l-5 -6l-5 2z"/><path fill="#ffb700" d="M1253 463l5 -3l-5 -3l-5 3zM1262 463l5 -3l-6 -3l-4 3z"/><path fill="#ffa700" d="M1236 462l5 -3l-5 -4l-5 3zM1244 463l5 -3l-5 -4l-5 3zM1270 463l5 -4l-5 -3l-5 4zM1279 462l5 -4l-5 -2l-5 3z"/><path fill="#ff9700" d="M1227 461l5 -3l-5 -4l-5 3zM1287 461l5 -4l-5 -2l-5 3zM1296 459l5 -4l-5 -2l-5 4z"/><path fill="#ff8700" d="M1218 460l5 -3l-5 -4l-5 2zM1305 457l5 -4l-5 -2l-5 5z"/><path fill="#ff7800" d="M1210 458l5 -3l-5 -4l-5 2z"/><path fill="#ff6800" d="M1201 456l5 -3l-5 -5l-5 2zM1313 455l5 -4l-5 -2l-5 4z"/><path fill="#ff5800" d="M1322 452l5 -4l-5 -2l-5 5z"/><path fill="#ff4800" d="M1193 453l5 -2l-5 -5l-5 2z"/><path fill="#ff3800" d="M1330 449l5 -5l-5 0l-5 4z"/><path fill="#ff2800" d="M1184 450l5 -2l-5 -5l-5 2z"/><path fill="#ff1800" d="M1175 447l5 -2l-5 -5l-5 1z"/><path fill="#e70000" d="M1167 444l5 -2l-5 -6l-5 2z"/><path fill="#c70000" d="M1158 440l5 -2l-5 -6l-5 2z"/><path fill="#a70000" d="M1150 436l4 -2l-5 -6l-4 2z"/><path fill="#ffb700" d="M1240 466l5 -4l-5 -4l-5 3zM1249 466l5 -3l-5 -4l-5 3zM1257 466l5 -3l-5 -4l-5 4zM1266 466l5 -4l-5 -3l-5 4zM1274 465l5 -4l-5 -2l-5 3z"/><path fill="#ffa700" d="M1231 465l5 -3l-5 -5l-5 3zM1283 464l5 -4l-5 -2l-5 4zM1292 463l5 -4l-5 -3l-5 4z"/><path fill="#ff9700" d="M1223 463l5 -2l-5 -5l-5 3zM1300 461l5 -4l-5 -2l-5 4z"/><path fill="#ff8700" d="M1214 462l5 -3l-5 -5l-5 3z"/><path fill="#ff7800" d="M1206 460l5 -3l-6 -5l-4 3zM1309 459l5 -5l-5 -1l-5 4z"/><path fill="#ff6800" d="M1197 457l5 -2l-5 -5l-5 2zM1318 456l5 -5l-5 -1l-5 5z"/><path fill="#ff4800" d="M1188 455l5 -2l-5 -6l-5 2zM1326 453l5 -5l-5 -1l-5 5z"/><path fill="#ff2800" d="M1180 452l5 -2l-5 -6l-5 2zM1335 450l5 -5l-5 -1l-5 5z"/><path fill="#ff0800" d="M1171 448l5 -1l-5 -6l-5 2z"/><path fill="#e70000" d="M1162 445l5 -2l-5 -6l-5 2z"/><path fill="#c70000" d="M1154 441l5 -2l-5 -6l-5 2z"/><path fill="#970000" d="M1145 437l5 -2l-5 -6l-5 1z"/><path fill="#ffc700" d="M1244 469l5 -4l-5 -3l-5 3zM1253 469l5 -3l-5 -4l-5 3zM1262 469l5 -4l-5 -3l-5 4zM1270 469l5 -4l-5 -3l-5 3z"/><path fill="#ffb700" d="M1227 467l5 -3l-5 -4l-5 3zM1236 468l5 -3l-5 -4l-5 3zM1279 468l5 -4l-5 -3l-5 4zM1287 466l5 -4l-5 -2l-5 4z"/><path fill="#ffa700" d="M1218 466l5 -3l-5 -5l-5 3zM1296 465l5 -5l-5 -2l-5 4z"/><path fill="#ff9700" d="M1210 464l5 -3l-5 -5l-5 3zM1305 463l5 -5l-5 -2l-5 5z"/><path fill="#ff7800" d="M1201 462l5 -3l-5 -5l-5 3zM1313 460l5 -5l-5 -1l-5 4z"/><path fill="#ff6800" d="M1193 459l5 -2l-5 -5l-5 2zM1322 457l5 -5l-5 -1l-5 5z"/><path fill="#ff4800" d="M1184 457l5 -3l-5 -5l-5 2zM1330 454l5 -5l-5 -1l-4 5z"/><path fill="#ff2800" d="M1175 453l5 -2l-5 -5l-5 1zM1339 451l5 -6l-5 -1l-5 6z"/><path fill="#ff0800" d="M1167 450l5 -2l-5 -6l-5 2z"/><path fill="#e70000" d="M1158 446l5 -2l-5 -6l-5 2z"/><path fill="#c70000" d="M1150 442l4 -1l-4 -7l-5 2z"/><path fill="#970000" d="M1141 438l5 -2l-5 -6l-5 1z"/><path fill="#ffd700" d="M1249 472l5 -3l-5 -4l-5 3zM1257 472l5 -4l-5 -3l-5 3zM1266 472l5 -4l-5 -3l-5 3z"/><path fill="#ffc700" d="M1231 471l5 -3l-5 -5l-5 3zM1240 472l5 -4l-5 -4l-5 3zM1275 471l4 -4l-5 -3l-5 4zM1283 470l5 -4l-5 -3l-5 4z"/><path fill="#ffb700" d="M1223 470l5 -3l-5 -5l-5 3zM1292 469l5 -5l-5 -2l-5 4z"/><path fill="#ffa700" d="M1214 468l5 -3l-5 -5l-5 3zM1300 467l5 -5l-5 -2l-5 4z"/><path fill="#ff9700" d="M1206 466l5 -3l-5 -5l-5 3z"/><path fill="#ff8700" d="M1197 464l5 -3l-5 -5l-5 2zM1309 464l5 -5l-5 -2l-5 5z"/><path fill="#ff7800" d="M1318 462l5 -6l-5 -1l-5 5z"/><path fill="#ff6800" d="M1188 461l5 -2l-5 -6l-5 3z"/><path fill="#ff5800" d="M1326 458l5 -5l-5 -1l-5 5z"/><path fill="#ff4800" d="M1180 458l5 -2l-5 -6l-5 2z"/><path fill="#ff3800" d="M1335 455l5 -5l-5 -1l-5 5z"/><path fill="#ff2800" d="M1171 455l5 -2l-5 -6l-5 2z"/><path fill="#ff0800" d="M1162 452l5 -2l-5 -7l-4 2z"/><path fill="#e70000" d="M1154 448l5 -2l-5 -6l-5 1z"/><path fill="#b70000" d="M1145 444l5 -2l-5 -7l-5 2z"/><path fill="#ffe700" d="M1244 475l5 -3l-5 -5l-5 4zM1253 476l5 -4l-5 -4l-5 3zM1262 475l5 -4l-5 -3l-5 4z"/><path fill="#ffd700" d="M1236 475l5 -4l-5 -4l-5 3zM1270 475l5 -5l-5 -3l-5 4zM1279 474l5 -5l-5 -3l-5 5z"/><path fill="#ffc700" d="M1219 472l4 -3l-5 -5l-5 3zM1227 474l5 -4l-5 -4l-5 3zM1287 472l5 -4l-5 -3l-5 4z"/><path fill="#ffb700" d="M1210 471l5 -3l-5 -5l-5 2zM1296 471l5 -5l-5 -3l-5 5z"/><path fill="#ffa700" d="M1305 468l5 -5l-5 -2l-5 5z"/><path fill="#ff9700" d="M1201 469l5 -3l-5 -6l-5 3z"/><path fill="#ff8700" d="M1193 466l5 -3l-5 -5l-5 2zM1313 466l5 -5l-5 -2l-5 5z"/><path fill="#ff7800" d="M1322 463l5 -5l-5 -2l-5 5z"/><path fill="#ff6800" d="M1184 463l5 -2l-5 -6l-5 2z"/><path fill="#ff5800" d="M1331 460l4 -6l-5 -1l-4 5z"/><path fill="#ff4800" d="M1175 460l5 -2l-5 -6l-5 2z"/><path fill="#ff2800" d="M1167 457l5 -2l-5 -6l-5 2z"/><path fill="#ff0800" d="M1158 453l5 -2l-5 -6l-5 2z"/><path fill="#e70000" d="M1150 449l5 -2l-5 -6l-5 2z"/><path fill="#fff700" d="M1249 479l5 -4l-5 -4l-5 4zM1257 479l5 -4l-5 -4l-5 4z"/><path fill="#ffe700" d="M1231 478l5 -4l-5 -4l-5 3zM1240 478l5 -3l-5 -5l-5 4zM1266 478l5 -4l-5 -3l-5 4zM1275 478l5 -5l-6 -3l-4 4z"/><path fill="#ffd700" d="M1223 477l5 -4l-5 -5l-5 4zM1283 476l5 -4l-5 -3l-5 4z"/><path fill="#ffc700" d="M1214 475l5 -3l-5 -5l-5 3zM1292 475l5 -5l-5 -3l-5 5z"/><path fill="#ffb700" d="M1206 473l5 -3l-5 -5l-5 3zM1300 473l5 -5l-5 -3l-5 5z"/><path fill="#ffa700" d="M1197 471l5 -3l-5 -5l-5 2zM1309 470l5 -5l-5 -2l-5 5z"/><path fill="#ff8700" d="M1188 468l5 -2l-5 -6l-5 2zM1318 467l5 -5l-5 -2l-5 5z"/><path fill="#ff6800" d="M1180 465l5 -2l-5 -6l-5 2zM1326 464l5 -5l-5 -2l-5 5z"/><path fill="#ff4800" d="M1171 462l5 -2l-5 -6l-5 2z"/><path fill="#ff2800" d="M1163 459l4 -3l-5 -6l-4 2z"/><path fill="#ff0800" d="M1154 455l5 -2l-5 -7l-5 2z"/><path fill="#f7ff08" d="M1244 482l5 -4l-5 -4l-5 4zM1253 482l5 -4l-5 -4l-5 4zM1262 482l5 -4l-5 -4l-5 4z"/><path fill="#fff700" d="M1227 481l5 -4l-5 -5l-5 4zM1236 482l5 -4l-5 -5l-5 4zM1270 481l5 -4l-5 -4l-5 5zM1279 480l5 -4l-5 -4l-5 5z"/><path fill="#ffe700" d="M1219 479l5 -3l-5 -5l-5 3zM1287 479l5 -5l-5 -3l-5 5z"/><path fill="#ffd700" d="M1210 478l5 -4l-5 -5l-5 3zM1296 477l5 -5l-5 -3l-5 5z"/><path fill="#ffc700" d="M1305 475l5 -6l-5 -2l-5 5z"/><path fill="#ffb700" d="M1201 476l5 -3l-5 -6l-5 3z"/><path fill="#ffa700" d="M1193 473l5 -3l-5 -5l-5 2zM1313 472l5 -6l-5 -2l-5 6z"/><path fill="#ff8700" d="M1184 471l5 -3l-5 -6l-5 3zM1322 469l5 -6l-5 -1l-5 5z"/><path fill="#ff7800" d="M1175 468l5 -3l-5 -6l-5 2z"/><path fill="#ff5800" d="M1167 464l5 -2l-5 -7l-5 3z"/><path fill="#ff2800" d="M1158 461l5 -3l-5 -6l-5 2z"/><path fill="#e7ff18" d="M1240 486l5 -4l-5 -5l-5 4zM1249 486l5 -4l-5 -5l-5 5zM1257 486l5 -5l-5 -4l-5 5z"/><path fill="#f7ff08" d="M1231 485l5 -4l-5 -5l-5 4zM1266 485l5 -4l-5 -4l-5 4zM1275 484l5 -4l-5 -4l-5 5z"/><path fill="#fff700" d="M1223 484l5 -4l-5 -5l-5 4zM1283 483l5 -5l-5 -3l-5 5z"/><path fill="#ffe700" d="M1214 482l5 -3l-5 -5l-5 3zM1292 481l5 -5l-5 -3l-5 5z"/><path fill="#ffd700" d="M1206 481l5 -4l-5 -5l-5 3zM1300 479l5 -5l-5 -3l-5 5z"/><path fill="#ffc700" d="M1197 478l5 -3l-5 -5l-5 2zM1309 477l5 -6l-5 -2l-5 5z"/><path fill="#ffa700" d="M1188 476l5 -3l-5 -6l-5 3zM1318 474l5 -6l-5 -2l-5 6z"/><path fill="#ff9700" d="M1180 473l5 -3l-5 -6l-5 3z"/><path fill="#ff7800" d="M1171 470l5 -3l-5 -6l-5 2z"/><path fill="#ff5800" d="M1163 466l4 -2l-4 -7l-5 3z"/><path fill="#d7ff28" d="M1236 489l5 -4l-5 -5l-5 4zM1244 490l5 -5l-5 -4l-5 4zM1253 490l5 -5l-5 -4l-5 4zM1262 489l5 -4l-5 -4l-5 4z"/><path fill="#e7ff18" d="M1227 488l5 -4l-5 -5l-5 4zM1270 489l5 -5l-5 -4l-5 5zM1279 487l5 -5l-5 -3l-5 5z"/><path fill="#f7ff08" d="M1219 487l5 -4l-5 -5l-5 4zM1288 486l4 -5l-5 -4l-5 6z"/><path fill="#fff700" d="M1210 486l5 -4l-5 -6l-5 4zM1296 484l5 -6l-5 -2l-5 5z"/><path fill="#ffe700" d="M1201 484l5 -4l-5 -6l-5 4z"/><path fill="#ffd700" d="M1193 481l5 -3l-5 -6l-5 3zM1305 481l5 -5l-5 -3l-5 6z"/><path fill="#ffc700" d="M1313 479l5 -6l-5 -2l-5 5z"/><path fill="#ffb700" d="M1184 478l5 -3l-5 -6l-5 3z"/><path fill="#ff9700" d="M1175 475l5 -2l-5 -7l-4 3z"/><path fill="#ff7800" d="M1167 472l5 -3l-5 -6l-5 2z"/><path fill="#c7ff38" d="M1232 493l5 -4l-6 -5l-5 4zM1240 493l5 -4l-5 -5l-5 4zM1249 494l5 -5l-5 -4l-5 4zM1257 493l5 -4l-5 -5l-5 5zM1266 493l5 -5l-5 -4l-5 5z"/><path fill="#d7ff28" d="M1223 492l5 -4l-5 -5l-5 3zM1275 492l5 -5l-5 -4l-5 5zM1283 490l5 -5l-5 -3l-5 5z"/><path fill="#e7ff18" d="M1214 490l5 -3l-5 -6l-5 4zM1292 489l5 -6l-5 -3l-5 5z"/><path fill="#f7ff08" d="M1206 489l5 -4l-5 -6l-5 4z"/><path fill="#fff700" d="M1197 486l5 -3l-5 -6l-5 3zM1300 486l5 -5l-5 -3l-5 5z"/><path fill="#ffe700" d="M1309 484l5 -6l-5 -3l-5 6z"/><path fill="#ffd700" d="M1188 484l5 -3l-5 -6l-5 3z"/><path fill="#ffb700" d="M1180 481l5 -3l-5 -6l-5 3z"/><path fill="#ffa700" d="M1171 478l5 -3l-5 -7l-5 3z"/><path fill="#a7ff58" d="M1253 498l5 -5l-5 -5l-5 5z"/><path fill="#b7ff48" d="M1227 496l5 -4l-5 -5l-5 4zM1236 497l5 -4l-5 -5l-5 4zM1244 498l5 -5l-5 -5l-5 5zM1262 497l5 -5l-5 -4l-5 5zM1270 496l5 -5l-5 -4l-5 5z"/><path fill="#c7ff38" d="M1219 495l5 -4l-5 -5l-5 4zM1279 495l5 -5l-5 -4l-5 5z"/><path fill="#d7ff28" d="M1210 494l5 -4l-5 -6l-5 4zM1288 493l5 -5l-5 -4l-5 6z"/><path fill="#e7ff18" d="M1201 492l5 -4l-5 -6l-5 4zM1296 491l5 -6l-5 -3l-5 6z"/><path fill="#f7ff08" d="M1305 489l5 -6l-5 -3l-5 6z"/><path fill="#fff700" d="M1193 489l5 -3l-5 -6l-5 3z"/><path fill="#ffe700" d="M1184 487l5 -4l-5 -6l-5 3z"/><path fill="#ffc700" d="M1176 484l4 -3l-5 -7l-4 3z"/><path fill="#97ff68" d="M1240 502l5 -5l-5 -5l-5 5zM1249 502l5 -5l-5 -5l-5 5zM1257 502l5 -6l-5 -4l-5 5zM1266 501l5 -5l-5 -5l-5 6z"/><path fill="#a7ff58" d="M1223 500l5 -4l-5 -6l-5 4zM1232 501l5 -4l-5 -6l-5 5zM1275 500l5 -6l-5 -4l-5 6z"/><path fill="#b7ff48" d="M1214 499l5 -4l-5 -6l-5 4zM1283 498l5 -5l-5 -4l-5 6z"/><path fill="#c7ff38" d="M1206 497l5 -4l-5 -6l-5 4zM1292 496l5 -6l-5 -3l-5 6z"/><path fill="#d7ff28" d="M1197 495l5 -4l-5 -6l-5 4zM1300 494l5 -6l-5 -3l-5 6z"/><path fill="#f7ff08" d="M1188 493l5 -4l-5 -6l-5 3z"/><path fill="#ffe700" d="M1180 490l5 -4l-5 -6l-5 3z"/><path fill="#87ff78" d="M1227 505l5 -4l-5 -6l-5 4zM1236 506l5 -5l-5 -5l-5 4zM1244 506l5 -5l-5 -5l-5 5zM1253 506l5 -5l-5 -5l-5 5zM1262 506l5 -6l-5 -4l-5 5zM1270 505l5 -6l-5 -4l-5 5z"/><path fill="#97ff68" d="M1219 504l5 -4l-5 -6l-5 4zM1279 503l5 -6l-5 -3l-5 5z"/><path fill="#a7ff58" d="M1210 503l5 -5l-5 -6l-5 4zM1288 502l5 -6l-5 -4l-5 6z"/><path fill="#b7ff48" d="M1201 501l5 -4l-5 -7l-5 4zM1296 499l5 -6l-5 -3l-5 6z"/><path fill="#c7ff38" d="M1193 498l5 -3l-5 -7l-5 4z"/><path fill="#e7ff18" d="M1184 496l5 -4l-5 -7l-5 4z"/><path fill="#68ff97" d="M1232 510l5 -5l-5 -5l-5 4zM1240 511l5 -5l-5 -6l-5 5zM1249 511l5 -6l-5 -5l-5 6zM1257 510l5 -5l-5 -5l-5 5zM1266 510l5 -6l-5 -4l-5 5z"/><path fill="#78ff87" d="M1223 509l5 -4l-5 -6l-5 4zM1275 508l5 -5l-5 -5l-5 6z"/><path fill="#87ff78" d="M1214 508l5 -5l-5 -6l-5 5zM1283 507l5 -6l-5 -4l-5 6z"/><path fill="#97ff68" d="M1206 506l5 -4l-5 -6l-5 4zM1292 505l5 -7l-5 -3l-5 6z"/><path fill="#a7ff58" d="M1197 504l5 -4l-5 -6l-5 3z"/><path fill="#c7ff38" d="M1189 502l4 -4l-5 -7l-4 4z"/><path fill="#48ffb7" d="M1236 515l5 -5l-5 -6l-5 5zM1245 515l5 -5l-6 -5l-4 5zM1253 515l5 -5l-5 -5l-5 5z"/><path fill="#58ffa7" d="M1227 514l5 -5l-5 -5l-5 4zM1262 515l5 -6l-5 -5l-5 6zM1270 514l5 -6l-5 -5l-5 6z"/><path fill="#68ff97" d="M1210 512l5 -5l-5 -6l-5 4zM1219 513l5 -4l-5 -6l-5 4zM1279 512l5 -6l-5 -4l-5 6z"/><path fill="#78ff87" d="M1288 510l5 -6l-5 -4l-5 6z"/><path fill="#87ff78" d="M1201 510l5 -4l-5 -7l-5 4z"/><path fill="#97ff68" d="M1193 508l5 -4l-5 -7l-5 4z"/><path fill="#28ffd7" d="M1249 520l5 -6l-5 -5l-5 6z"/><path fill="#38ffc7" d="M1223 519l5 -5l-5 -6l-5 5zM1232 520l5 -6l-5 -5l-5 5zM1240 520l5 -5l-5 -6l-5 5zM1257 520l5 -6l-5 -5l-5 6zM1266 519l5 -6l-5 -5l-5 6z"/><path fill="#48ffb7" d="M1214 518l5 -5l-5 -6l-5 4zM1275 518l5 -7l-5 -4l-5 6z"/><path fill="#58ffa7" d="M1206 516l5 -5l-5 -6l-5 4zM1283 516l5 -7l-5 -4l-5 7z"/><path fill="#68ff97" d="M1197 514l5 -5l-5 -6l-5 4z"/><path fill="#18ffe7" d="M1227 524l5 -5l-5 -6l-5 5zM1236 525l5 -6l-5 -5l-5 5zM1245 525l5 -6l-5 -5l-5 5zM1253 525l5 -6l-5 -5l-5 5zM1262 524l5 -6l-5 -5l-5 6z"/><path fill="#28ffd7" d="M1219 523l5 -5l-5 -6l-5 5zM1270 523l5 -6l-5 -5l-5 6zM1279 522l5 -7l-5 -4l-5 6z"/><path fill="#38ffc7" d="M1210 522l5 -5l-5 -7l-5 5z"/><path fill="#48ffb7" d="M1201 520l5 -5l-5 -6l-5 4z"/><path fill="#00f7ff" d="M1223 529l5 -5l-5 -7l-5 5zM1232 530l5 -6l-5 -6l-5 6zM1240 530l5 -6l-5 -5l-5 5zM1249 530l5 -6l-5 -5l-5 5zM1258 530l4 -7l-5 -5l-5 6zM1266 529l5 -7l-5 -5l-5 7z"/><path fill="#08fff7" d="M1214 528l5 -5l-5 -7l-5 5zM1275 527l5 -6l-5 -5l-5 7z"/><path fill="#18ffe7" d="M1206 526l5 -5l-5 -6l-5 4z"/><path fill="#00d7ff" d="M1227 535l5 -6l-5 -6l-5 5zM1236 535l5 -5l-5 -6l-5 5zM1245 535l5 -6l-5 -5l-5 5zM1253 535l5 -6l-5 -6l-5 6zM1262 534l5 -6l-5 -5l-5 6z"/><path fill="#00e7ff" d="M1219 534l5 -6l-5 -6l-5 5zM1270 533l5 -6l-5 -5l-5 6z"/><path fill="#00f7ff" d="M1210 532l5 -5l-5 -7l-5 5z"/><path fill="#00a7ff" d="M1240 541l5 -6l-5 -6l-5 6zM1249 541l5 -7l-5 -5l-5 6z"/><path fill="#00b7ff" d="M1223 540l5 -6l-5 -6l-5 5zM1232 541l5 -6l-5 -7l-5 6zM1258 540l5 -6l-6 -6l-4 7zM1266 539l5 -7l-5 -5l-5 7z"/><path fill="#00c7ff" d="M1214 539l5 -6l-5 -7l-5 6z"/><path fill="#0087ff" d="M1236 546l5 -6l-5 -6l-5 6zM1245 547l5 -7l-5 -6l-5 6zM1253 546l5 -7l-5 -5l-5 6z"/><path fill="#0097ff" d="M1219 545l5 -6l-5 -7l-5 6zM1227 546l5 -6l-5 -7l-5 6zM1262 545l5 -7l-5 -5l-5 7z"/><path fill="#0068ff" d="M1223 551l5 -6l-5 -7l-5 6zM1232 552l5 -6l-5 -7l-5 6zM1240 552l5 -6l-5 -6l-5 6zM1249 552l5 -7l-5 -6l-5 7zM1258 551l5 -6l-5 -6l-5 6z"/><path fill="#0038ff" d="M1236 558l5 -6l-5 -7l-5 6zM1245 558l5 -7l-5 -6l-5 7z"/><path fill="#0048ff" d="M1227 558l5 -7l-5 -6l-5 6zM1253 558l5 -7l-5 -6l-5 6z"/><path fill="#0018ff" d="M1232 564l5 -6l-5 -7l-5 6zM1240 564l5 -6l-5 -7l-5 6zM1249 564l5 -7l-5 -6l-5 7z"/><path fill="#0000e7" d="M1236 571l5 -7l-5 -7l-5 6zM1245 571l5 -8l-5 -6l-5 7z"/><path fill="#0000b7" d="M1240 577l5 -7l-5 -7l-5 7z"/></g></g><path d="M568.3 281.5 L568.3 205.5 M671.7 280.9 L671.7 204.9 M568.3 281.5 L620.2 300.6 M620.2 300.6 L671.7 280.9" stroke="#707070" stroke-width=".65" fill="none"/><path d="M568.3 205.5h-2.2M568.3 224.5h-2.2M568.3 243.5h-2.2M568.3 262.5h-2.2M568.3 281.5h-2.2M568.3 281.5l-1.7 .6M620.2 300.6l1.7 .6M581.3 286.3l-1.7 .6M633.1 295.7l1.7 .6M594.2 291.1l-1.7 .6M646 290.8l1.7 .6M607.2 295.8l-1.7 .6M658.8 285.8l1.7 .6M620.2 300.6l-1.7 .6M671.7 280.9l1.7 .6" stroke="#777" stroke-width=".6"/><g class="tk"><text x="564.8" y="206.8" text-anchor="end">0.08</text><text x="564.8" y="225.8" text-anchor="end">0.078</text><text x="564.8" y="244.8" text-anchor="end">0.076</text><text x="564.8" y="263.8" text-anchor="end">0.074</text><text x="564.8" y="282.8" text-anchor="end">0.072</text></g><g class="tk"><text x="564.4" y="289.7" text-anchor="end">60</text><text x="577.4" y="294.5" text-anchor="end">48</text><text x="590.4" y="299.2" text-anchor="end">36</text><text x="603.3" y="304" text-anchor="end">24</text><text x="616.3" y="308.8" text-anchor="end">12</text><text x="624.4" y="308.3">200</text><text x="637.3" y="303.4">250</text><text x="650.2" y="298.4">300</text><text x="663" y="293.5">350</text><text x="675.9" y="288.6">400</text></g><text class="zt" transform="translate(537 249.5) rotate(-90)" text-anchor="middle">Average friction</text><text class="zt" transform="translate(546.9 249.5) rotate(-90)" text-anchor="middle">coefficient</text><g transform="translate(581.8 304) rotate(11.5)"><text class="at" y="2.8" text-anchor="middle"><tspan font-style="italic">E</tspan></text></g><g transform="translate(659.2 302.7) rotate(-27)"><text class="at" y="2.8" text-anchor="middle"><tspan font-style="italic">B</tspan>/μm</text></g><text class="pp" x="554.8" y="330.90000000000003">(</text><text class="cp" x="561.8" y="333.6">h</text><text class="pp" x="571.6" y="330.90000000000003">)</text><text class="cp" x="586.6" y="333.6" font-style="italic">B-F</text><text class="cp" x="613.1" y="333.6">response</text><text class="cp" x="557.3" y="359">surface diagram</text></svg>
</body></html>
